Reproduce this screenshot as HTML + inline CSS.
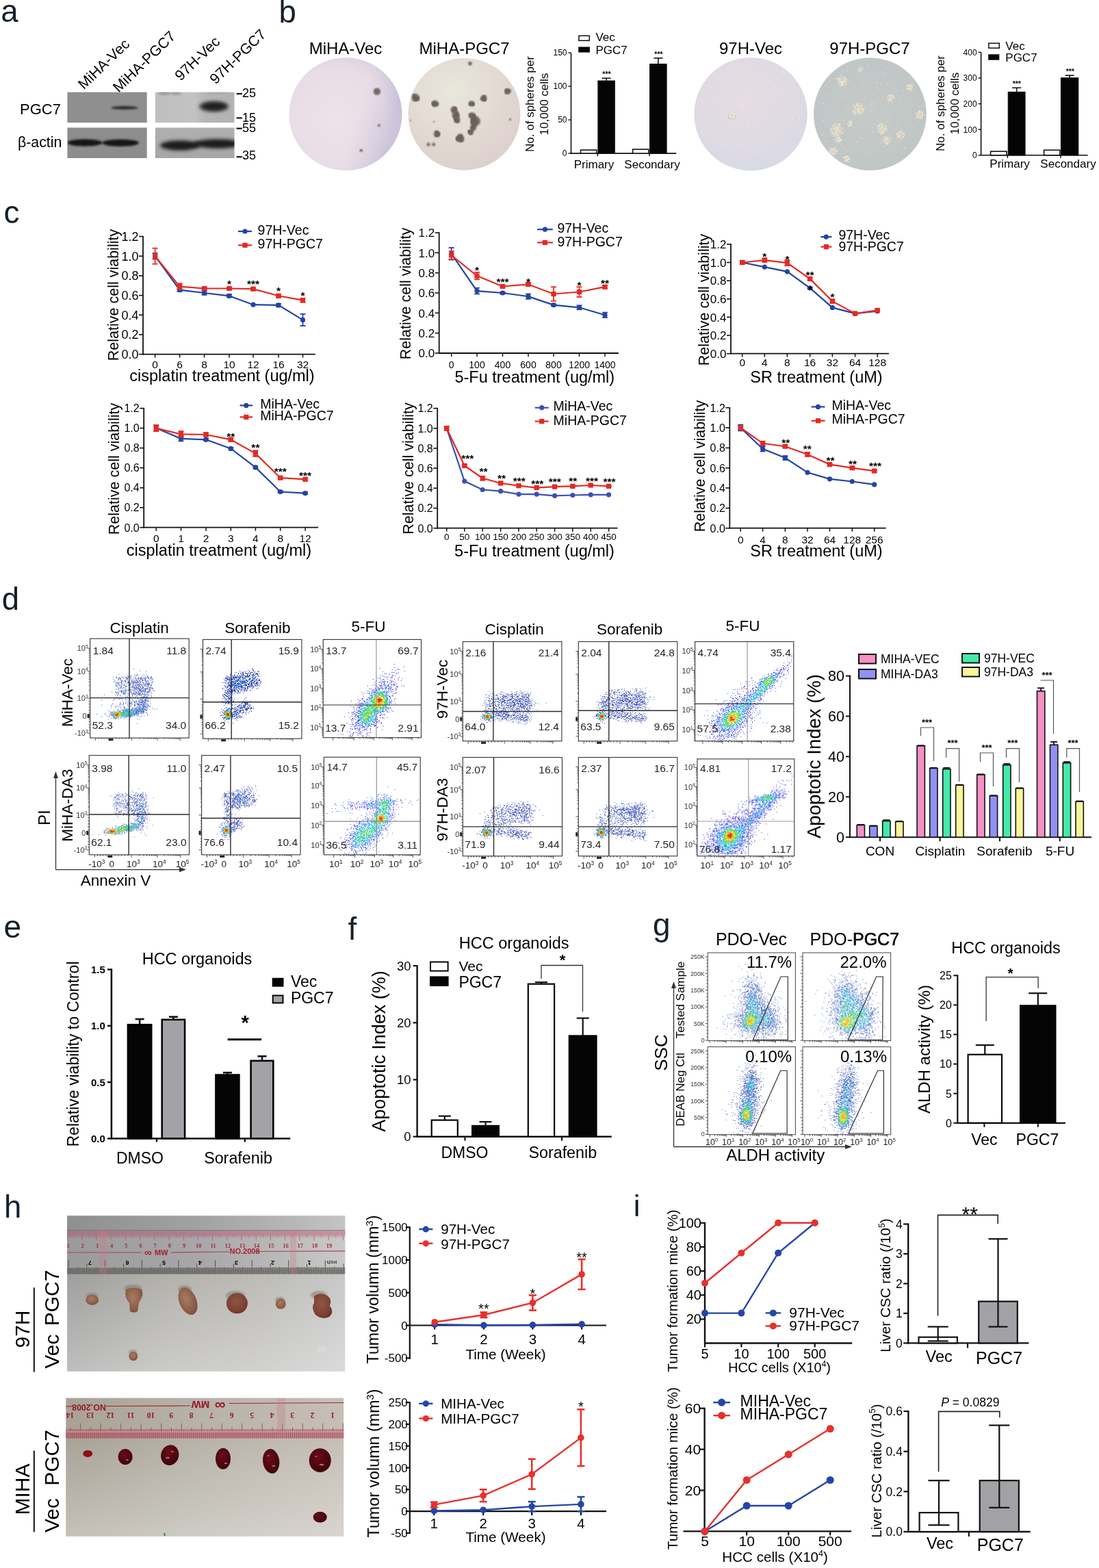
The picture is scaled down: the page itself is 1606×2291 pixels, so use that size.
<!DOCTYPE html>
<html><head><meta charset="utf-8"><title>Figure</title>
<style>html,body{margin:0;padding:0;background:#fff;}svg{display:block;}</style>
</head><body>
<svg width="1606" height="2291" viewBox="0 0 1606 2291" font-family='"Liberation Sans", Arial, Helvetica, sans-serif'>
<defs><filter id="blur2" x="-20%" y="-50%" width="140%" height="200%"><feGaussianBlur stdDeviation="1.6"/></filter>
<filter id="blur3" x="-20%" y="-80%" width="140%" height="260%"><feGaussianBlur stdDeviation="2.6"/></filter><clipPath id="cpA"><rect x="98.4" y="134.7" width="116.3" height="44.5"/></clipPath>
<clipPath id="cpB"><rect x="226.8" y="134.7" width="115.7" height="44.5"/></clipPath>
<clipPath id="cpC"><rect x="98.4" y="186.5" width="116.3" height="44.5"/></clipPath>
<clipPath id="cpD"><rect x="226.8" y="186.5" width="115.7" height="44.5"/></clipPath>
<linearGradient id="gB" x1="0" y1="0" x2="1" y2="0"><stop offset="0" stop-color="#bfbfbf"/><stop offset="0.5" stop-color="#c2c2c2"/><stop offset="0.62" stop-color="#b6b6b6"/><stop offset="1" stop-color="#b3b3b3"/></linearGradient>
<linearGradient id="gD" x1="0" y1="0" x2="0" y2="1"><stop offset="0" stop-color="#b0b0b0"/><stop offset="1" stop-color="#a6a6a6"/></linearGradient><radialGradient id="gc1" cx="0.42" cy="0.55" r="0.62"><stop offset="0" stop-color="#ede2e8"/><stop offset="0.75" stop-color="#e8dde6"/><stop offset="1" stop-color="#d9d0e0"/></radialGradient>
<linearGradient id="gc1b" x1="0" y1="0" x2="1" y2="0.3"><stop offset="0.7" stop-color="#b8b0d0" stop-opacity="0"/><stop offset="1" stop-color="#a8a0c8" stop-opacity="0.35"/></linearGradient>
<radialGradient id="gc2" cx="0.4" cy="0.3" r="0.75"><stop offset="0" stop-color="#e9e7dc"/><stop offset="0.45" stop-color="#e4dcd5"/><stop offset="1" stop-color="#dccfcc"/></radialGradient>
<radialGradient id="gc3" cx="0.45" cy="0.35" r="0.75"><stop offset="0" stop-color="#e6dce2"/><stop offset="0.6" stop-color="#dfdae3"/><stop offset="1" stop-color="#d3dae6"/></radialGradient>
<radialGradient id="gc4" cx="0.5" cy="0.5" r="0.6"><stop offset="0" stop-color="#c6cac8"/><stop offset="1" stop-color="#bfc6c6"/></radialGradient>
<filter id="bl1"><feGaussianBlur stdDeviation="0.8"/></filter><linearGradient id="p1h" x1="0" y1="0" x2="1" y2="0"><stop offset="0" stop-color="#9e9e9c"/><stop offset="0.35" stop-color="#b2b1ac"/><stop offset="0.7" stop-color="#bcbbb6"/><stop offset="1" stop-color="#c8c8c9"/></linearGradient>
<linearGradient id="p1t" x1="0" y1="0" x2="1" y2="0"><stop offset="0" stop-color="#8e8f91"/><stop offset="0.5" stop-color="#a2a3a5"/><stop offset="1" stop-color="#c3c3c5"/></linearGradient>
<linearGradient id="p1r" x1="0" y1="0" x2="1" y2="0"><stop offset="0" stop-color="#999a9c"/><stop offset="0.5" stop-color="#a8a8aa"/><stop offset="1" stop-color="#c9c9c9"/></linearGradient>
<linearGradient id="p1p" x1="0" y1="0" x2="1" y2="0"><stop offset="0" stop-color="#a08890"/><stop offset="0.5" stop-color="#b0949c"/><stop offset="1" stop-color="#ceb4bc"/></linearGradient>
<linearGradient id="wv" x1="0" y1="0" x2="0" y2="1"><stop offset="0" stop-color="#fff" stop-opacity="0"/><stop offset="1" stop-color="#fff" stop-opacity="0.33"/></linearGradient>
<linearGradient id="p2h" x1="0" y1="0" x2="1" y2="0"><stop offset="0" stop-color="#a8a296"/><stop offset="0.45" stop-color="#b6b2a8"/><stop offset="1" stop-color="#c6bfb7"/></linearGradient>
<radialGradient id="tp" cx="0.45" cy="0.4" r="0.65"><stop offset="0" stop-color="#a87c64"/><stop offset="0.7" stop-color="#8c5e48"/><stop offset="1" stop-color="#7a4a3a"/></radialGradient>
<radialGradient id="tp2" cx="0.45" cy="0.4" r="0.65"><stop offset="0" stop-color="#8e5644"/><stop offset="0.7" stop-color="#7c4234"/><stop offset="1" stop-color="#6c3428"/></radialGradient>
<radialGradient id="td" cx="0.4" cy="0.35" r="0.7"><stop offset="0" stop-color="#6a0c18"/><stop offset="0.6" stop-color="#4e0610"/><stop offset="1" stop-color="#3e040c"/></radialGradient>
<filter id="tb"><feGaussianBlur stdDeviation="1.2"/></filter></defs>
<rect width="1606" height="2291" fill="#fff"/>
<text x="1.2" y="32.4" font-size="45.5" fill="#13202c">a</text>
<text x="122.5" y="131.5" font-size="21.3" transform="rotate(-44 122.5 131.5)">MiHA-Vec</text>
<text x="173.5" y="136" font-size="21.3" transform="rotate(-44 173.5 136)">MiHA-PGC7</text>
<text x="264" y="119" font-size="21.3" transform="rotate(-44 264 119)">97H-Vec</text>
<text x="315" y="124" font-size="21.3" transform="rotate(-44 315 124)">97H-PGC7</text>
<text x="29" y="167" font-size="22">PGC7</text>
<text x="26" y="215" font-size="21.3">β-actin</text>
<rect x="98.4" y="134.7" width="116.3" height="44.5" fill="#8f8f8f"/>
<rect x="226.8" y="134.7" width="115.7" height="44.5" fill="url(#gB)"/>
<rect x="98.4" y="186.5" width="116.3" height="44.5" fill="#8d8d8d"/>
<rect x="226.8" y="186.5" width="115.7" height="44.5" fill="url(#gD)"/>
<g clip-path="url(#cpA)">
<ellipse cx="182" cy="157.4" rx="19.5" ry="2.5" fill="#2a2a2a" filter="url(#blur2)"/>
</g><g clip-path="url(#cpB)">
<ellipse cx="240" cy="135.5" rx="9" ry="3.5" fill="#9a9a9a" filter="url(#blur2)"/>
<ellipse cx="257" cy="135.5" rx="8" ry="3.5" fill="#a0a0a0" filter="url(#blur2)"/>
<ellipse cx="318" cy="135" rx="17" ry="2.5" fill="#a8a8a8" filter="url(#blur2)"/>
<ellipse cx="312.5" cy="155.5" rx="22" ry="7.8" fill="#5a5a5a" filter="url(#blur3)"/>
<ellipse cx="313" cy="155.5" rx="18" ry="5.8" fill="#1c1c1c" filter="url(#blur3)"/>
</g><g clip-path="url(#cpC)">
<ellipse cx="124" cy="208.5" rx="25.5" ry="5.2" fill="#141414" filter="url(#blur2)"/>
<ellipse cx="176" cy="208.8" rx="27" ry="5.2" fill="#141414" filter="url(#blur2)"/>
</g><g clip-path="url(#cpD)">
<ellipse cx="263" cy="212.5" rx="29" ry="7.2" fill="#1a1a1a" filter="url(#blur3)"/>
<ellipse cx="318" cy="210" rx="36" ry="6.8" fill="#1e1e1e" filter="url(#blur3)"/>
</g>
<line x1="345.6" y1="137" x2="353.8" y2="137" stroke="#111" stroke-width="2.2"/>
<line x1="345.6" y1="172.4" x2="353.8" y2="172.4" stroke="#111" stroke-width="2.2"/>
<line x1="345.6" y1="187.7" x2="353.8" y2="187.7" stroke="#111" stroke-width="2.2"/>
<line x1="345.6" y1="229.2" x2="353.8" y2="229.2" stroke="#111" stroke-width="2.2"/>
<text x="354" y="142.3" font-size="18">25</text>
<text x="354" y="177.5" font-size="18">15</text>
<text x="354" y="193" font-size="18">55</text>
<text x="354" y="233.4" font-size="18">35</text>
<text x="407.6" y="33.2" font-size="45.5" fill="#13202c">b</text>
<text x="505" y="79" font-size="24" text-anchor="middle">MiHA-Vec</text>
<text x="678.5" y="79" font-size="24" text-anchor="middle">MiHA-PGC7</text>
<text x="1097" y="79" font-size="24" text-anchor="middle">97H-Vec</text>
<text x="1271" y="79" font-size="24" text-anchor="middle">97H-PGC7</text>
<circle cx="505" cy="166.7" r="82.5" fill="url(#gc1)"/>
<circle cx="505" cy="166.7" r="82.5" fill="url(#gc1b)"/>
<circle cx="678.4" cy="166.7" r="82" fill="url(#gc2)"/>
<circle cx="1097.1" cy="166.7" r="82.7" fill="url(#gc3)"/>
<circle cx="1271.4" cy="166.7" r="82.4" fill="url(#gc4)"/>
<circle cx="550.9" cy="133.6" r="5.2" fill="#746864" filter="url(#bl1)"/>
<circle cx="553.8" cy="183.3" r="2" fill="#746864" filter="url(#bl1)"/>
<circle cx="527.7" cy="219.8" r="2.3" fill="#746864" filter="url(#bl1)"/>
<circle cx="686.9" cy="92.7" r="3" fill="#7a6e68" filter="url(#bl1)"/>
<circle cx="607.3" cy="142.4" r="5.5" fill="#7a6e68" filter="url(#bl1)"/>
<circle cx="605.9" cy="145.1" r="3" fill="#6c605a" filter="url(#bl1)"/>
<circle cx="609.1" cy="144.9" r="3" fill="#6c605a" filter="url(#bl1)"/>
<circle cx="605.5" cy="139.9" r="3" fill="#6c605a" filter="url(#bl1)"/>
<circle cx="610" cy="143.7" r="3" fill="#6c605a" filter="url(#bl1)"/>
<circle cx="636" cy="151.3" r="4.8" fill="#7a6e68" filter="url(#bl1)"/>
<circle cx="633.4" cy="150.7" r="2.6" fill="#6c605a" filter="url(#bl1)"/>
<circle cx="634.2" cy="153.3" r="2.6" fill="#6c605a" filter="url(#bl1)"/>
<circle cx="638.5" cy="152.2" r="2.6" fill="#6c605a" filter="url(#bl1)"/>
<circle cx="633.4" cy="151.2" r="2.6" fill="#6c605a" filter="url(#bl1)"/>
<circle cx="689" cy="151.3" r="4.2" fill="#7a6e68" filter="url(#bl1)"/>
<circle cx="691.2" cy="151.8" r="2.3" fill="#6c605a" filter="url(#bl1)"/>
<circle cx="686.9" cy="152.2" r="2.3" fill="#6c605a" filter="url(#bl1)"/>
<circle cx="691.1" cy="152.3" r="2.3" fill="#6c605a" filter="url(#bl1)"/>
<circle cx="690.9" cy="152.5" r="2.3" fill="#6c605a" filter="url(#bl1)"/>
<circle cx="706.8" cy="143.5" r="4.5" fill="#7a6e68" filter="url(#bl1)"/>
<circle cx="704.6" cy="144.6" r="2.5" fill="#6c605a" filter="url(#bl1)"/>
<circle cx="707.9" cy="141.3" r="2.5" fill="#6c605a" filter="url(#bl1)"/>
<circle cx="708.6" cy="145.2" r="2.5" fill="#6c605a" filter="url(#bl1)"/>
<circle cx="707.2" cy="145.9" r="2.5" fill="#6c605a" filter="url(#bl1)"/>
<circle cx="742" cy="133.6" r="4.3" fill="#7a6e68" filter="url(#bl1)"/>
<circle cx="740.4" cy="131.9" r="2.4" fill="#6c605a" filter="url(#bl1)"/>
<circle cx="744.2" cy="132.8" r="2.4" fill="#6c605a" filter="url(#bl1)"/>
<circle cx="739.9" cy="132.5" r="2.4" fill="#6c605a" filter="url(#bl1)"/>
<circle cx="740.1" cy="135" r="2.4" fill="#6c605a" filter="url(#bl1)"/>
<circle cx="663" cy="160" r="4.5" fill="#7a6e68" filter="url(#bl1)"/>
<circle cx="665.4" cy="159.6" r="2.5" fill="#6c605a" filter="url(#bl1)"/>
<circle cx="665.4" cy="160.7" r="2.5" fill="#6c605a" filter="url(#bl1)"/>
<circle cx="664.6" cy="158.1" r="2.5" fill="#6c605a" filter="url(#bl1)"/>
<circle cx="662.4" cy="162.4" r="2.5" fill="#6c605a" filter="url(#bl1)"/>
<circle cx="665.9" cy="167.8" r="5.5" fill="#7a6e68" filter="url(#bl1)"/>
<circle cx="667.8" cy="170.2" r="3" fill="#6c605a" filter="url(#bl1)"/>
<circle cx="668.1" cy="169.8" r="3" fill="#6c605a" filter="url(#bl1)"/>
<circle cx="664.8" cy="170.6" r="3" fill="#6c605a" filter="url(#bl1)"/>
<circle cx="667.1" cy="165" r="3" fill="#6c605a" filter="url(#bl1)"/>
<circle cx="668" cy="175" r="4.5" fill="#7a6e68" filter="url(#bl1)"/>
<circle cx="669" cy="177.2" r="2.5" fill="#6c605a" filter="url(#bl1)"/>
<circle cx="665.8" cy="173.8" r="2.5" fill="#6c605a" filter="url(#bl1)"/>
<circle cx="666.4" cy="173.1" r="2.5" fill="#6c605a" filter="url(#bl1)"/>
<circle cx="666.3" cy="176.8" r="2.5" fill="#6c605a" filter="url(#bl1)"/>
<circle cx="690" cy="169" r="5" fill="#7a6e68" filter="url(#bl1)"/>
<circle cx="687.4" cy="168.2" r="2.8" fill="#6c605a" filter="url(#bl1)"/>
<circle cx="692.5" cy="170.1" r="2.8" fill="#6c605a" filter="url(#bl1)"/>
<circle cx="692.6" cy="170" r="2.8" fill="#6c605a" filter="url(#bl1)"/>
<circle cx="690.8" cy="171.6" r="2.8" fill="#6c605a" filter="url(#bl1)"/>
<circle cx="695" cy="177" r="7" fill="#7a6e68" filter="url(#bl1)"/>
<circle cx="693.4" cy="173.5" r="3.9" fill="#6c605a" filter="url(#bl1)"/>
<circle cx="691.5" cy="178.7" r="3.9" fill="#6c605a" filter="url(#bl1)"/>
<circle cx="693.5" cy="180.5" r="3.9" fill="#6c605a" filter="url(#bl1)"/>
<circle cx="691.7" cy="175" r="3.9" fill="#6c605a" filter="url(#bl1)"/>
<circle cx="692" cy="186" r="4.5" fill="#7a6e68" filter="url(#bl1)"/>
<circle cx="689.6" cy="186.7" r="2.5" fill="#6c605a" filter="url(#bl1)"/>
<circle cx="691.2" cy="188.4" r="2.5" fill="#6c605a" filter="url(#bl1)"/>
<circle cx="692.7" cy="183.6" r="2.5" fill="#6c605a" filter="url(#bl1)"/>
<circle cx="691.2" cy="183.7" r="2.5" fill="#6c605a" filter="url(#bl1)"/>
<circle cx="688" cy="193" r="4" fill="#7a6e68" filter="url(#bl1)"/>
<circle cx="688.1" cy="195.2" r="2.2" fill="#6c605a" filter="url(#bl1)"/>
<circle cx="686" cy="192" r="2.2" fill="#6c605a" filter="url(#bl1)"/>
<circle cx="685.8" cy="192.7" r="2.2" fill="#6c605a" filter="url(#bl1)"/>
<circle cx="689.6" cy="191.4" r="2.2" fill="#6c605a" filter="url(#bl1)"/>
<circle cx="638.3" cy="195.5" r="4.6" fill="#7a6e68" filter="url(#bl1)"/>
<circle cx="638" cy="193" r="2.5" fill="#6c605a" filter="url(#bl1)"/>
<circle cx="637.7" cy="198" r="2.5" fill="#6c605a" filter="url(#bl1)"/>
<circle cx="640.8" cy="195.2" r="2.5" fill="#6c605a" filter="url(#bl1)"/>
<circle cx="640.2" cy="197.2" r="2.5" fill="#6c605a" filter="url(#bl1)"/>
<circle cx="672.5" cy="202" r="5.8" fill="#7a6e68" filter="url(#bl1)"/>
<circle cx="669.7" cy="203.6" r="3.2" fill="#6c605a" filter="url(#bl1)"/>
<circle cx="672.6" cy="198.8" r="3.2" fill="#6c605a" filter="url(#bl1)"/>
<circle cx="674.3" cy="204.6" r="3.2" fill="#6c605a" filter="url(#bl1)"/>
<circle cx="669.3" cy="202.2" r="3.2" fill="#6c605a" filter="url(#bl1)"/>
<circle cx="626" cy="211" r="2.6" fill="#7a6e68" filter="url(#bl1)"/>
<circle cx="633.8" cy="211" r="2.6" fill="#7a6e68" filter="url(#bl1)"/>
<circle cx="745.5" cy="174.5" r="1.7" fill="#7a6e68" filter="url(#bl1)"/>
<circle cx="634" cy="178" r="1.2" fill="#7a6e68" filter="url(#bl1)"/>
<circle cx="600" cy="176" r="1.2" fill="#7a6e68" filter="url(#bl1)"/>
<path d="M1101.4 224.1h0M1055.6 210.9h0M1083 152.5h0M1168.2 172.6h0M1094.9 204.4h0M1150.6 165.2h0M1124.9 120.6h0M1077.7 143.5h0M1049 112.2h0M1030.7 157h0M1087.7 149.3h0M1100.2 106.8h0M1092.8 179.7h0M1132.7 126.6h0M1082.9 95h0M1080.4 93.7h0M1042 209.5h0M1026.2 192.4h0M1114.7 149.9h0M1121 194.1h0M1147.4 155.6h0M1067.2 136.1h0M1048.7 164.5h0M1061.8 214.8h0M1033.1 129.2h0M1065.9 98.3h0M1145.2 105.8h0M1082.1 139h0M1146.2 107.9h0M1145.7 133.5h0M1089 131.8h0M1126.1 115.2h0M1092.8 185.9h0M1144.3 105.1h0M1156.4 203.5h0M1071.5 182.9h0M1078.5 232.5h0M1108.5 154.9h0M1084.7 155.8h0M1088.3 122.7h0M1153.7 114.1h0M1019.2 164h0M1089.2 186.8h0M1085.9 158.6h0M1113.3 213.8h0M1073.4 147h0M1167.2 185.8h0M1067.3 237h0M1135.3 137.7h0M1042.6 180.5h0M1059.9 119.4h0M1039.9 144.4h0M1148.8 146.5h0M1037 194.4h0M1100.4 209.4h0M1152.9 158.9h0M1089.1 164.2h0M1045.9 196.9h0M1157.8 174.4h0M1084.2 152.6h0M1060 128.5h0M1077.2 124.9h0M1079.2 102.1h0M1116.1 169.4h0M1062.8 98.3h0M1096.7 219.4h0M1060.2 142.4h0M1068.5 199.6h0M1056.1 210.8h0M1082.2 212.2h0" fill="none" stroke="#f4f0e6" stroke-width="1.6" stroke-linecap="round"/>
<circle cx="1068.6" cy="170" r="4.8" fill="#d8d2c0" filter="url(#bl1)"/>
<path d="M1064.3 171.3h0M1072.2 168.1h0M1064 169.8h0M1070.3 173.9h0M1064.9 166.1h0M1071.3 171.8h0M1073.1 172.9h0M1068.2 168.8h0M1074.5 169.3h0M1065.9 166.1h0M1069 170.6h0M1067.2 169.7h0M1069.7 172.7h0M1072.6 170.8h0M1063.5 172h0M1063.8 169.4h0M1063.7 170h0M1065.5 170.8h0M1074.6 169.9h0M1071.3 165.7h0M1067.5 172.6h0M1068.2 171.5h0M1069 166.2h0M1070.7 166.9h0M1073.9 168.6h0M1071.3 170h0M1072.1 167.8h0M1072.4 169.5h0M1072.9 172.1h0M1069.2 166.9h0" fill="none" stroke="#ece6d6" stroke-width="2.2" stroke-linecap="round"/>
<path d="M1064.9 171.9h0M1064.6 170.4h0M1065.5 166.7h0M1073.7 173.5h0M1075.1 169.9h0M1069.6 171.2h0M1070.3 173.3h0M1064.1 172.6h0M1064.3 170.6h0M1075.2 170.5h0M1068.1 173.2h0M1069.6 166.8h0M1074.5 169.2h0M1072.7 168.4h0M1073.5 172.7h0" fill="none" stroke="#a8a290" stroke-width="0.9" stroke-linecap="round"/>
<circle cx="1230" cy="118" r="6.4" fill="#d8d2c0" filter="url(#bl1)"/>
<path d="M1233.9 120.4h0M1236.8 116.4h0M1232.9 120.7h0M1231.6 119.2h0M1231 114.8h0M1225 116.1h0M1232.5 124.4h0M1234.4 122.7h0M1233.9 121.5h0M1231 122h0M1237.1 116.7h0M1227.5 125.1h0M1231.2 122.9h0M1233.9 112.9h0M1236.4 122.7h0M1230.9 122h0M1230.7 113.5h0M1229.4 120.1h0M1235.2 121.3h0M1230.3 124.2h0M1226.3 121.9h0M1235.4 116.6h0M1223.4 114.6h0M1231.3 120.9h0M1236.1 114.1h0M1230 121.5h0M1229.5 110.3h0M1232.6 125.4h0M1234.6 113.8h0M1227.7 119.2h0M1237.6 119.9h0M1230.5 124.7h0M1229.7 125.3h0M1226.4 115.5h0M1233.1 124.1h0M1233.5 119.6h0M1223.1 115.3h0M1226.8 115.2h0M1233.1 116.2h0M1234.1 118.4h0" fill="none" stroke="#ece6d6" stroke-width="2.2" stroke-linecap="round"/>
<path d="M1234.5 121h0M1233.5 121.3h0M1231.6 115.4h0M1233.1 125h0M1234.5 122.1h0M1237.7 117.3h0M1231.8 123.5h0M1237 123.3h0M1231.3 114.1h0M1235.8 121.9h0M1226.9 122.5h0M1224 115.2h0M1236.7 114.7h0M1230.1 110.9h0M1235.2 114.4h0M1238.2 120.5h0M1230.3 125.9h0M1233.7 124.7h0M1223.7 115.9h0M1233.7 116.8h0" fill="none" stroke="#a8a290" stroke-width="0.9" stroke-linecap="round"/>
<circle cx="1257.6" cy="101.5" r="2.4" fill="#d8d2c0" filter="url(#bl1)"/>
<path d="M1256.9 101.7h0M1258.4 103.1h0M1256.6 101h0M1255.8 103.7h0M1260 101.2h0M1256.8 99.4h0M1258 101.9h0M1260.4 101.8h0M1256.7 98.7h0M1260 101.8h0M1255.1 101.8h0M1256.3 104.2h0M1259.6 102.5h0M1257.4 98.7h0M1257.4 99h0" fill="none" stroke="#ece6d6" stroke-width="2.2" stroke-linecap="round"/>
<path d="M1257.5 102.3h0M1257.2 101.6h0M1260.6 101.8h0M1258.6 102.5h0M1257.3 99.3h0M1255.7 102.4h0M1260.2 103.1h0M1258 99.6h0" fill="none" stroke="#a8a290" stroke-width="0.9" stroke-linecap="round"/>
<circle cx="1254.3" cy="160" r="7.2" fill="#d8d2c0" filter="url(#bl1)"/>
<path d="M1256.6 151.7h0M1249.9 166h0M1261.1 155.1h0M1247.4 164h0M1258.8 154.8h0M1250.4 156.1h0M1248.2 156.5h0M1260.6 163.5h0M1262.7 159.6h0M1253.5 154.4h0M1253.7 153.2h0M1246.6 163h0M1261 163.9h0M1261.2 161.3h0M1250 160.5h0M1252.3 154h0M1247.8 154.3h0M1254.3 161h0M1252 167h0M1255.4 163.5h0M1260.4 155.9h0M1246.4 163h0M1250.9 166.5h0M1256.2 165.6h0M1257.3 151.9h0M1258.4 156.2h0M1249.9 157.5h0M1258.5 164.8h0M1258.6 152.9h0M1252.2 151.5h0M1253.7 163.6h0M1249.8 161.4h0M1255.6 165.6h0M1249.8 155.5h0M1251 167.6h0M1260.3 159.3h0M1255.7 160.7h0M1255.6 158.7h0M1252.6 153.4h0M1251.4 167.5h0M1257.6 160.4h0M1252.9 160.4h0M1256.4 156.2h0M1255.5 161.5h0M1250.2 155.6h0" fill="none" stroke="#ece6d6" stroke-width="2.2" stroke-linecap="round"/>
<path d="M1257.2 152.3h0M1261.7 155.7h0M1259.4 155.4h0M1248.8 157.1h0M1263.3 160.2h0M1254.3 153.8h0M1261.6 164.5h0M1250.6 161.1h0M1248.4 154.9h0M1252.6 167.6h0M1261 156.5h0M1251.5 167.1h0M1257.9 152.5h0M1250.5 158.1h0M1259.2 153.5h0M1254.3 164.2h0M1256.2 166.2h0M1251.6 168.2h0M1256.3 161.3h0M1253.2 154h0M1258.2 161h0M1257 156.8h0M1250.8 156.2h0" fill="none" stroke="#a8a290" stroke-width="0.9" stroke-linecap="round"/>
<circle cx="1301.8" cy="143.5" r="4" fill="#d8d2c0" filter="url(#bl1)"/>
<path d="M1299 140.6h0M1303.5 138.9h0M1300.9 141.5h0M1299.7 143.8h0M1305.2 143.7h0M1301.3 141.4h0M1301.4 146.4h0M1300.6 140.1h0M1298.5 140.6h0M1298.3 146.3h0M1303 142.7h0M1305.7 141.8h0M1304.1 146h0M1298.4 140.1h0M1299.1 146.1h0M1305 140.4h0M1305 142.3h0M1300.5 141.7h0M1301 139h0M1299.1 140.2h0M1302.9 148.1h0M1306.7 142.9h0M1297.5 142.5h0M1299.8 147.8h0M1303.6 141.2h0" fill="none" stroke="#ece6d6" stroke-width="2.2" stroke-linecap="round"/>
<path d="M1299.6 141.2h0M1301.5 142.1h0M1305.8 144.3h0M1302 147h0M1299.1 141.2h0M1303.6 143.3h0M1304.7 146.6h0M1299.7 146.7h0M1305.6 142.9h0M1301.6 139.6h0M1303.5 148.7h0M1298.1 143.1h0M1304.2 141.8h0" fill="none" stroke="#a8a290" stroke-width="0.9" stroke-linecap="round"/>
<circle cx="1330.5" cy="127" r="4" fill="#d8d2c0" filter="url(#bl1)"/>
<path d="M1333.4 128.6h0M1326.3 125.6h0M1329.7 127.1h0M1331 125.8h0M1331.1 125h0M1328.2 130.8h0M1331.7 128.5h0M1326.3 126.6h0M1332.7 123.5h0M1333.8 125.8h0M1331.9 126.5h0M1331.1 130.6h0M1329.4 131.1h0M1328.2 124.2h0M1332.6 123.9h0M1329.3 129.9h0M1333.2 123.1h0M1331.7 131.5h0M1334 126.3h0M1328.5 126h0M1327 126.2h0M1329.8 126.5h0M1334 126.3h0M1326.9 129.6h0M1327.3 125.7h0" fill="none" stroke="#ece6d6" stroke-width="2.2" stroke-linecap="round"/>
<path d="M1334 129.2h0M1330.3 127.7h0M1331.7 125.6h0M1332.3 129.1h0M1333.3 124.1h0M1332.5 127.1h0M1330 131.7h0M1333.2 124.5h0M1333.8 123.7h0M1334.6 126.9h0M1327.6 126.8h0M1334.6 126.9h0M1327.9 126.3h0" fill="none" stroke="#a8a290" stroke-width="0.9" stroke-linecap="round"/>
<circle cx="1222.2" cy="190" r="8" fill="#d8d2c0" filter="url(#bl1)"/>
<path d="M1221.3 187.6h0M1216 188.5h0M1231.5 187.4h0M1221.4 196.8h0M1226.8 194.7h0M1226 181.3h0M1216.6 190.8h0M1225 197.3h0M1225.4 188.4h0M1222.5 188.5h0M1223.8 194.5h0M1220 184.8h0M1217.4 196.2h0M1229 195.2h0M1227.3 195h0M1222.2 194.4h0M1215.7 188.7h0M1217.6 194.5h0M1218.3 189.3h0M1224.5 197.6h0M1217.5 184.4h0M1226.8 183.7h0M1225.2 186.2h0M1221.7 181h0M1226.8 186.8h0M1218.4 198.8h0M1224.2 199.8h0M1225 187.6h0M1222.8 198.5h0M1222 193.1h0M1225.4 184.4h0M1223.1 186.6h0M1215.4 194.7h0M1226.7 190.5h0M1218.3 181.3h0M1225.5 189.3h0M1213.5 189.7h0M1213.9 189.9h0M1223.2 192.5h0M1223.7 191.2h0M1215.4 187.7h0M1218.7 188.4h0M1224 194.1h0M1227.5 181.6h0M1225 188.6h0M1231.2 193.7h0M1213.7 192.1h0M1219 196.1h0M1215.7 189.4h0M1221.3 189.3h0" fill="none" stroke="#ece6d6" stroke-width="2.2" stroke-linecap="round"/>
<path d="M1221.9 188.2h0M1232.1 188h0M1227.4 195.3h0M1217.2 191.4h0M1226 189h0M1224.4 195.1h0M1218 196.8h0M1227.9 195.6h0M1216.3 189.3h0M1218.9 189.9h0M1218.1 185h0M1225.8 186.8h0M1227.4 187.4h0M1224.8 200.4h0M1223.4 199.1h0M1226 185h0M1216 195.3h0M1218.9 181.9h0M1214.1 190.3h0M1223.8 193.1h0M1216 188.3h0M1224.6 194.7h0M1225.6 189.2h0M1214.3 192.7h0M1216.3 190h0" fill="none" stroke="#a8a290" stroke-width="0.9" stroke-linecap="round"/>
<circle cx="1288.5" cy="188.8" r="6.4" fill="#d8d2c0" filter="url(#bl1)"/>
<path d="M1286.3 181.8h0M1290.8 193.7h0M1288.2 183.7h0M1289.6 191.9h0M1287.5 188.7h0M1294.1 184.3h0M1286.4 181.7h0M1285 185.1h0M1283.9 185.5h0M1295.6 188h0M1288.1 196.4h0M1288.3 181.7h0M1290.5 184.1h0M1294.5 184.3h0M1286.1 182.2h0M1289 183.7h0M1288.1 186.7h0M1285.5 193.4h0M1293.3 189.1h0M1284.4 184h0M1289.4 196.5h0M1286.2 184.8h0M1285.3 183.7h0M1283.6 187.8h0M1294.9 188.8h0M1286.4 182.1h0M1289.7 188.6h0M1283.4 184.2h0M1288.3 193.9h0M1291.9 189.9h0M1286.7 190.6h0M1288.5 196.4h0M1283.1 187h0M1294.4 187.6h0M1294.9 188.6h0M1289.3 186.7h0M1282.8 184.8h0M1295.9 191h0M1291.4 193.4h0M1291.2 193.7h0" fill="none" stroke="#ece6d6" stroke-width="2.2" stroke-linecap="round"/>
<path d="M1286.9 182.4h0M1288.8 184.3h0M1288.1 189.3h0M1287 182.3h0M1284.5 186.1h0M1288.7 197h0M1291.1 184.7h0M1286.7 182.8h0M1288.7 187.3h0M1293.9 189.7h0M1290 197.1h0M1285.9 184.3h0M1295.5 189.4h0M1290.3 189.2h0M1288.9 194.5h0M1287.3 191.2h0M1283.7 187.6h0M1295.5 189.2h0M1283.4 185.4h0M1292 194h0" fill="none" stroke="#a8a290" stroke-width="0.9" stroke-linecap="round"/>
<circle cx="1316" cy="196.6" r="4.8" fill="#d8d2c0" filter="url(#bl1)"/>
<path d="M1314.9 195.7h0M1319.7 195.3h0M1311.4 195.8h0M1313.9 199h0M1313.5 192.9h0M1314.9 201.6h0M1315.8 197.3h0M1316 197.8h0M1318.9 200.9h0M1311.6 200.2h0M1316 195.3h0M1321.8 196.2h0M1321.1 199.1h0M1312.3 198.4h0M1318.9 196.1h0M1310.3 195.8h0M1315.3 192.6h0M1321.4 195.9h0M1314.4 195.4h0M1313.1 193.7h0M1316.4 197.9h0M1313.9 196.2h0M1311.4 198.3h0M1313 197.4h0M1312.6 194.7h0M1316.8 192.3h0M1321.9 196.5h0M1315.7 193.7h0M1320.3 200.3h0M1317 192h0" fill="none" stroke="#ece6d6" stroke-width="2.2" stroke-linecap="round"/>
<path d="M1315.5 196.3h0M1312 196.4h0M1314.1 193.5h0M1316.4 197.9h0M1319.5 201.5h0M1316.6 195.9h0M1321.7 199.7h0M1319.5 196.7h0M1315.9 193.2h0M1315 196h0M1317 198.5h0M1312 198.9h0M1313.2 195.3h0M1322.5 197.1h0M1320.9 200.9h0" fill="none" stroke="#a8a290" stroke-width="0.9" stroke-linecap="round"/>
<circle cx="1296" cy="205.4" r="4.8" fill="#d8d2c0" filter="url(#bl1)"/>
<path d="M1294 207.8h0M1294.2 201.3h0M1292 202.8h0M1296.1 202.8h0M1296 211.3h0M1300.9 202.6h0M1297.4 205.8h0M1295.5 209.3h0M1294.6 204.1h0M1294.4 205h0M1300.2 208h0M1291.5 203.9h0M1293.1 208.4h0M1296.9 208.8h0M1295.8 199.9h0M1297.9 206.3h0M1297.7 201h0M1296.3 202.6h0M1293.3 206.8h0M1297.3 202h0M1292.6 200.5h0M1294 209.4h0M1295.9 199.6h0M1292.7 207h0M1300.6 208.6h0M1297.5 206.2h0M1292.2 203.8h0M1294.7 202.4h0M1296.3 203.8h0M1297.1 210.2h0" fill="none" stroke="#ece6d6" stroke-width="2.2" stroke-linecap="round"/>
<path d="M1294.6 208.4h0M1292.6 203.4h0M1296.6 211.9h0M1298 206.4h0M1295.2 204.7h0M1300.8 208.6h0M1293.7 209h0M1296.4 200.5h0M1298.3 201.6h0M1293.9 207.4h0M1293.2 201.1h0M1296.5 200.2h0M1301.2 209.2h0M1292.8 204.4h0M1296.9 204.4h0" fill="none" stroke="#a8a290" stroke-width="0.9" stroke-linecap="round"/>
<circle cx="1343.8" cy="167.8" r="4.8" fill="#d8d2c0" filter="url(#bl1)"/>
<path d="M1346.7 169.4h0M1343 162.9h0M1343.3 170h0M1340.6 171.8h0M1342.4 169.3h0M1342.7 163.4h0M1348.9 165h0M1347.2 165.7h0M1344.9 164.7h0M1342.2 171.3h0M1349 165.5h0M1343.8 171.4h0M1341.4 170.5h0M1340.8 170.1h0M1345.3 172h0M1345.1 163.6h0M1346.1 163.9h0M1346.1 172.5h0M1346.1 165.6h0M1348.1 168.4h0M1339.5 166.6h0M1348.5 166.8h0M1344.3 166.4h0M1338.7 166.3h0M1345.3 168.7h0M1343.3 162.1h0M1347.9 170.2h0M1347 171.9h0M1342 165.4h0M1344.8 173h0" fill="none" stroke="#ece6d6" stroke-width="2.2" stroke-linecap="round"/>
<path d="M1347.3 170h0M1343.9 170.6h0M1343 169.9h0M1349.5 165.6h0M1345.5 165.3h0M1349.6 166.1h0M1342 171.1h0M1345.9 172.6h0M1346.7 164.5h0M1346.7 166.2h0M1340.1 167.2h0M1344.9 167h0M1345.9 169.3h0M1348.5 170.8h0M1342.6 166h0" fill="none" stroke="#a8a290" stroke-width="0.9" stroke-linecap="round"/>
<circle cx="1242" cy="181" r="3.2" fill="#d8d2c0" filter="url(#bl1)"/>
<path d="M1238.5 180.5h0M1240.2 182.4h0M1245.2 180.3h0M1239.1 181.1h0M1241.4 177.7h0M1244.2 179.7h0M1243.5 178.1h0M1244.2 178.1h0M1243.9 177.7h0M1245.1 180.2h0M1238.7 180.5h0M1242.8 178.5h0M1240.7 181.7h0M1241.8 177h0M1240.8 182.2h0M1242.7 183.5h0M1241 184.8h0M1244.1 181.8h0M1244.4 183.1h0M1242.3 179.3h0" fill="none" stroke="#ece6d6" stroke-width="2.2" stroke-linecap="round"/>
<path d="M1239.1 181.1h0M1245.8 180.9h0M1242 178.3h0M1244.1 178.7h0M1244.5 178.3h0M1239.3 181.1h0M1241.3 182.3h0M1241.4 182.8h0M1241.6 185.4h0M1245 183.7h0" fill="none" stroke="#a8a290" stroke-width="0.9" stroke-linecap="round"/>
<circle cx="1237.7" cy="232" r="4" fill="#d8d2c0" filter="url(#bl1)"/>
<path d="M1240.8 233.3h0M1233.6 229.6h0M1239.3 232.4h0M1238.6 234.1h0M1238.1 236.2h0M1235.7 230.7h0M1238.8 234.4h0M1239.7 235.8h0M1236.3 235.4h0M1239.1 228.8h0M1237.4 236.7h0M1240.2 230.5h0M1233 230.6h0M1235.4 232.3h0M1242.3 233.5h0M1238.7 229.1h0M1234.2 231.4h0M1236.9 236.9h0M1236.4 230h0M1241.1 232.2h0M1234.6 235.2h0M1236.8 228.2h0M1238.8 233.7h0M1236.6 234.3h0M1240.1 229.4h0" fill="none" stroke="#ece6d6" stroke-width="2.2" stroke-linecap="round"/>
<path d="M1241.4 233.9h0M1239.9 233h0M1238.7 236.8h0M1239.4 235h0M1236.9 236h0M1238 237.3h0M1233.6 231.2h0M1242.9 234.1h0M1234.8 232h0M1237 230.6h0M1235.2 235.8h0M1239.4 234.3h0M1240.7 230h0" fill="none" stroke="#a8a290" stroke-width="0.9" stroke-linecap="round"/>
<circle cx="1217.8" cy="221" r="4.8" fill="#d8d2c0" filter="url(#bl1)"/>
<path d="M1213.9 216.5h0M1217.3 225.4h0M1220.9 225.3h0M1223.2 221h0M1220.9 216.5h0M1220.5 222.5h0M1217.4 219.2h0M1213.7 221.5h0M1222.2 219.7h0M1219.9 218.4h0M1218.7 217.2h0M1219.4 220.1h0M1219.1 218.6h0M1213.6 219.8h0M1220.8 225.6h0M1216.5 224.1h0M1220.7 222.5h0M1212.8 222h0M1214.6 224.8h0M1220.8 223.3h0M1212.1 222.4h0M1220.1 216.7h0M1221.5 221.3h0M1217.1 218.2h0M1214.1 219.4h0M1223.8 221.4h0M1218.6 218.4h0M1215.4 218.8h0M1214.7 224.1h0M1216.8 224.3h0" fill="none" stroke="#ece6d6" stroke-width="2.2" stroke-linecap="round"/>
<path d="M1214.5 217.1h0M1221.5 225.9h0M1221.5 217.1h0M1218 219.8h0M1222.8 220.3h0M1219.3 217.8h0M1219.7 219.2h0M1221.4 226.2h0M1221.3 223.1h0M1215.2 225.4h0M1212.7 223h0M1222.1 221.9h0M1214.7 220h0M1219.2 219h0M1215.3 224.7h0" fill="none" stroke="#a8a290" stroke-width="0.9" stroke-linecap="round"/>
<circle cx="1225" cy="205" r="4" fill="#d8d2c0" filter="url(#bl1)"/>
<path d="M1221.8 207.6h0M1224.9 207.2h0M1224.7 202.1h0M1228.5 203.7h0M1224.5 202.2h0M1225.7 203.7h0M1226 206.2h0M1223.2 201.2h0M1226.4 207.9h0M1227 201.7h0M1227 206.3h0M1226 206.5h0M1223.9 205.7h0M1227.9 203.4h0M1221 204.7h0M1225.5 200.5h0M1222.8 206.9h0M1224.5 205.3h0M1221.6 207.4h0M1229.4 204.5h0M1222.9 201.7h0M1227.9 205.3h0M1222.8 208.4h0M1227.4 206.9h0M1220.6 204.7h0" fill="none" stroke="#ece6d6" stroke-width="2.2" stroke-linecap="round"/>
<path d="M1222.4 208.2h0M1225.3 202.7h0M1225.1 202.8h0M1226.6 206.8h0M1227 208.5h0M1227.6 206.9h0M1224.5 206.3h0M1221.6 205.3h0M1223.4 207.5h0M1222.2 208h0M1223.5 202.3h0M1223.4 209h0M1221.2 205.3h0" fill="none" stroke="#a8a290" stroke-width="0.9" stroke-linecap="round"/>
<path d="M1273.2 154h0M1210.8 138.5h0M1257.9 200.9h0M1284 130.7h0M1291.1 214.2h0M1263.4 143.1h0M1251.7 207.2h0M1297.3 122h0M1291.2 141.4h0M1238.8 220.5h0M1310.7 132h0M1275.6 193.5h0M1237.9 160.4h0M1296.3 99.8h0M1288.1 204.3h0M1293.4 108.2h0M1287.3 123.7h0M1300.3 197.4h0M1282.5 127.6h0M1242.7 208.1h0M1227.7 190.8h0M1298.5 152h0M1347.1 168.9h0M1327.9 113.6h0M1201.7 197.2h0M1304.4 150.5h0M1269.4 95.4h0M1242.2 118.7h0M1260.3 210.9h0M1274.3 186.8h0M1235.9 144.6h0M1277.5 151.3h0M1324.8 129.7h0M1337 132.7h0M1319.3 131.8h0M1338.5 172.3h0M1291.5 204.4h0M1242 118.4h0M1206.6 205.7h0M1236.7 137.2h0M1270.3 239.1h0M1203.1 176.6h0M1250.7 194.5h0M1202.6 151.5h0M1304.3 227.8h0M1333.1 133.6h0M1274.4 160.7h0M1221.4 114.3h0M1310.1 179.2h0M1264.8 223h0M1223.9 191.7h0M1271.9 163.4h0M1297.5 176.1h0M1285.9 181.1h0M1342.6 155.3h0M1318.8 195.2h0M1253.8 206.8h0M1234.1 217.2h0M1231.3 142.4h0M1287.6 208.4h0M1312.8 207.5h0M1261.2 119.7h0M1300.3 182.6h0M1229 210h0M1281.2 119.6h0M1290.9 108.3h0M1228.1 186.5h0M1206 168.3h0M1214.4 197.8h0M1233.9 176.1h0M1208 152.2h0M1317.2 188.8h0M1206 199.6h0M1315.4 148.2h0M1327 125.2h0M1267.3 219.7h0M1321.7 215.9h0M1232.9 104.1h0M1288.2 105.2h0M1265.4 108.4h0M1319.1 202.8h0M1300.9 167.6h0M1273.9 150.5h0M1292 180.1h0M1295.5 144.2h0M1342.2 177.2h0M1323.2 216.2h0M1238.4 103.4h0M1328.1 149.2h0M1275.9 152.5h0" fill="none" stroke="#e6e0d0" stroke-width="1.6" stroke-linecap="round"/>
<line x1="834.5" y1="77.3" x2="834.5" y2="224.1" stroke="#111" stroke-width="1.6"/>
<line x1="833.5" y1="224.1" x2="988.2" y2="224.1" stroke="#111" stroke-width="1.6"/>
<line x1="830.5" y1="224.1" x2="834.5" y2="224.1" stroke="#111" stroke-width="1.4"/>
<text x="828.5" y="228.4" font-size="12" text-anchor="end">0</text>
<line x1="830.5" y1="175.1" x2="834.5" y2="175.1" stroke="#111" stroke-width="1.4"/>
<text x="828.5" y="179.4" font-size="12" text-anchor="end">50</text>
<line x1="830.5" y1="126.1" x2="834.5" y2="126.1" stroke="#111" stroke-width="1.4"/>
<text x="828.5" y="130.4" font-size="12" text-anchor="end">100</text>
<line x1="830.5" y1="77.1" x2="834.5" y2="77.1" stroke="#111" stroke-width="1.4"/>
<text x="828.5" y="81.4" font-size="12" text-anchor="end">150</text>
<rect x="848.5" y="219.2" width="23.2" height="4.9" fill="#fff" stroke="#111" stroke-width="1.6"/>
<rect x="874.1" y="118.3" width="24" height="105.8" fill="#050505" stroke="#111" stroke-width="1.6"/>
<line x1="886.1" y1="118.3" x2="886.1" y2="114.3" stroke="#111" stroke-width="1.6"/>
<line x1="879.6" y1="114.3" x2="892.6" y2="114.3" stroke="#111" stroke-width="1.6"/>
<rect x="924.6" y="218.2" width="23.2" height="5.9" fill="#fff" stroke="#111" stroke-width="1.6"/>
<rect x="949.8" y="93.8" width="24.1" height="130.3" fill="#050505" stroke="#111" stroke-width="1.6"/>
<line x1="961.9" y1="93.8" x2="961.9" y2="84.9" stroke="#111" stroke-width="1.6"/>
<line x1="955.4" y1="84.9" x2="968.4" y2="84.9" stroke="#111" stroke-width="1.6"/>
<line x1="873.3" y1="224.1" x2="873.3" y2="228.1" stroke="#111" stroke-width="1.6"/>
<line x1="949.1" y1="224.1" x2="949.1" y2="228.1" stroke="#111" stroke-width="1.6"/>
<text x="886.5" y="111.5" font-size="10.5" text-anchor="middle" font-weight="bold">***</text>
<text x="962.5" y="83.4" font-size="10.5" text-anchor="middle" font-weight="bold">***</text>
<rect x="845.9" y="52.3" width="15.4" height="7" fill="#fff" stroke="#111" stroke-width="1.5"/>
<rect x="845.2" y="68.5" width="16.7" height="8.1" fill="#050505"/>
<text x="870.4" y="59.8" font-size="17">Vec</text>
<text x="870.4" y="79.2" font-size="17">PGC7</text>
<text x="780" y="152" font-size="17" text-anchor="middle" transform="rotate(-90 780 152)">No. of spheres per</text>
<text x="801" y="152" font-size="17" text-anchor="middle" transform="rotate(-90 801 152)">10,000 cells</text>
<text x="868" y="245.6" font-size="17" text-anchor="middle">Primary</text>
<text x="953" y="245.6" font-size="17" text-anchor="middle">Secondary</text>
<line x1="1433.6" y1="76.5" x2="1433.6" y2="226.8" stroke="#111" stroke-width="1.6"/>
<line x1="1432.6" y1="226.8" x2="1589.6" y2="226.8" stroke="#111" stroke-width="1.6"/>
<line x1="1429.6" y1="226.8" x2="1433.6" y2="226.8" stroke="#111" stroke-width="1.4"/>
<text x="1427.6" y="231.1" font-size="12" text-anchor="end">0</text>
<line x1="1429.6" y1="189.2" x2="1433.6" y2="189.2" stroke="#111" stroke-width="1.4"/>
<text x="1427.6" y="193.5" font-size="12" text-anchor="end">100</text>
<line x1="1429.6" y1="151.6" x2="1433.6" y2="151.6" stroke="#111" stroke-width="1.4"/>
<text x="1427.6" y="155.9" font-size="12" text-anchor="end">200</text>
<line x1="1429.6" y1="114" x2="1433.6" y2="114" stroke="#111" stroke-width="1.4"/>
<text x="1427.6" y="118.3" font-size="12" text-anchor="end">300</text>
<line x1="1429.6" y1="76.4" x2="1433.6" y2="76.4" stroke="#111" stroke-width="1.4"/>
<text x="1427.6" y="80.7" font-size="12" text-anchor="end">400</text>
<rect x="1447.6" y="221.2" width="23.4" height="5.6" fill="#fff" stroke="#111" stroke-width="1.6"/>
<rect x="1473.5" y="134.7" width="24.3" height="92.1" fill="#050505" stroke="#111" stroke-width="1.6"/>
<line x1="1485.7" y1="134.7" x2="1485.7" y2="128.3" stroke="#111" stroke-width="1.6"/>
<line x1="1479.2" y1="128.3" x2="1492.2" y2="128.3" stroke="#111" stroke-width="1.6"/>
<rect x="1525.6" y="219.3" width="23.2" height="7.5" fill="#fff" stroke="#111" stroke-width="1.6"/>
<rect x="1550.7" y="114" width="24.8" height="112.8" fill="#050505" stroke="#111" stroke-width="1.6"/>
<line x1="1563.1" y1="114" x2="1563.1" y2="110.2" stroke="#111" stroke-width="1.6"/>
<line x1="1556.6" y1="110.2" x2="1569.6" y2="110.2" stroke="#111" stroke-width="1.6"/>
<line x1="1472.3" y1="226.8" x2="1472.3" y2="230.8" stroke="#111" stroke-width="1.6"/>
<line x1="1549.9" y1="226.8" x2="1549.9" y2="230.8" stroke="#111" stroke-width="1.6"/>
<text x="1485.8" y="126.4" font-size="10.5" text-anchor="middle" font-weight="bold">***</text>
<text x="1563.8" y="108" font-size="10.5" text-anchor="middle" font-weight="bold">***</text>
<rect x="1444.9" y="63.2" width="15.4" height="7" fill="#fff" stroke="#111" stroke-width="1.5"/>
<rect x="1444.2" y="79.3" width="16.1" height="8.4" fill="#050505"/>
<text x="1469.3" y="73" font-size="17">Vec</text>
<text x="1469.3" y="89.5" font-size="17">PGC7</text>
<text x="1380" y="151" font-size="17" text-anchor="middle" transform="rotate(-90 1380 151)">No. of spheres per</text>
<text x="1401" y="151" font-size="17" text-anchor="middle" transform="rotate(-90 1401 151)">10,000 cells</text>
<text x="1475.6" y="244.8" font-size="17" text-anchor="middle">Primary</text>
<text x="1561" y="244.8" font-size="17" text-anchor="middle">Secondary</text>
<text x="5.5" y="325.5" font-size="46" fill="#13202c">c</text>
<line x1="209" y1="344.7" x2="209" y2="518.4" stroke="#111" stroke-width="1.8"/>
<line x1="208" y1="517.6" x2="460.7" y2="517.6" stroke="#111" stroke-width="1.8"/>
<line x1="203" y1="517.6" x2="209" y2="517.6" stroke="#111" stroke-width="1.6"/>
<text x="202.5" y="524.1" font-size="18" text-anchor="end">0.0</text>
<line x1="203" y1="488.9" x2="209" y2="488.9" stroke="#111" stroke-width="1.6"/>
<text x="202.5" y="495.4" font-size="18" text-anchor="end">0.2</text>
<line x1="203" y1="460.2" x2="209" y2="460.2" stroke="#111" stroke-width="1.6"/>
<text x="202.5" y="466.7" font-size="18" text-anchor="end">0.4</text>
<line x1="203" y1="431.6" x2="209" y2="431.6" stroke="#111" stroke-width="1.6"/>
<text x="202.5" y="438" font-size="18" text-anchor="end">0.6</text>
<line x1="203" y1="402.9" x2="209" y2="402.9" stroke="#111" stroke-width="1.6"/>
<text x="202.5" y="409.3" font-size="18" text-anchor="end">0.8</text>
<line x1="203" y1="374.2" x2="209" y2="374.2" stroke="#111" stroke-width="1.6"/>
<text x="202.5" y="380.7" font-size="18" text-anchor="end">1.0</text>
<line x1="203" y1="345.5" x2="209" y2="345.5" stroke="#111" stroke-width="1.6"/>
<text x="202.5" y="352" font-size="18" text-anchor="end">1.2</text>
<line x1="226.6" y1="517.6" x2="226.6" y2="522.6" stroke="#111" stroke-width="1.5"/>
<text x="226.6" y="538.2" font-size="15.5" text-anchor="middle">0</text>
<line x1="262.6" y1="517.6" x2="262.6" y2="522.6" stroke="#111" stroke-width="1.5"/>
<text x="262.6" y="538.2" font-size="15.5" text-anchor="middle">6</text>
<line x1="298.6" y1="517.6" x2="298.6" y2="522.6" stroke="#111" stroke-width="1.5"/>
<text x="298.6" y="538.2" font-size="15.5" text-anchor="middle">8</text>
<line x1="335" y1="517.6" x2="335" y2="522.6" stroke="#111" stroke-width="1.5"/>
<text x="335" y="538.2" font-size="15.5" text-anchor="middle">10</text>
<line x1="370" y1="517.6" x2="370" y2="522.6" stroke="#111" stroke-width="1.5"/>
<text x="370" y="538.2" font-size="15.5" text-anchor="middle">12</text>
<line x1="407" y1="517.6" x2="407" y2="522.6" stroke="#111" stroke-width="1.5"/>
<text x="407" y="538.2" font-size="15.5" text-anchor="middle">16</text>
<line x1="442.5" y1="517.6" x2="442.5" y2="522.6" stroke="#111" stroke-width="1.5"/>
<text x="442.5" y="538.2" font-size="15.5" text-anchor="middle">32</text>
<text x="324.5" y="557.3" font-size="23.5" text-anchor="middle">cisplatin treatment (ug/ml)</text>
<text x="166" y="431" font-size="21.5" text-anchor="middle" transform="rotate(-90 166 431)" dominant-baseline="central">Relative cell viability</text>
<path d="M226.6 374.2 L262.6 423.7 L298.6 428 L335 432.3 L370 445.2 L407 445.9 L442.5 467.4" fill="none" stroke="#2244a6" stroke-width="2.2"/>
<line x1="226.6" y1="378.5" x2="226.6" y2="369.9" stroke="#2244a6" stroke-width="1.8"/>
<line x1="222.6" y1="369.9" x2="230.6" y2="369.9" stroke="#2244a6" stroke-width="1.8"/>
<line x1="222.6" y1="378.5" x2="230.6" y2="378.5" stroke="#2244a6" stroke-width="1.8"/>
<circle cx="226.6" cy="374.2" r="3.6" fill="#2244a6"/>
<line x1="262.6" y1="425.8" x2="262.6" y2="421.5" stroke="#2244a6" stroke-width="1.8"/>
<line x1="258.6" y1="421.5" x2="266.6" y2="421.5" stroke="#2244a6" stroke-width="1.8"/>
<line x1="258.6" y1="425.8" x2="266.6" y2="425.8" stroke="#2244a6" stroke-width="1.8"/>
<circle cx="262.6" cy="423.7" r="3.6" fill="#2244a6"/>
<line x1="298.6" y1="430.8" x2="298.6" y2="425.1" stroke="#2244a6" stroke-width="1.8"/>
<line x1="294.6" y1="425.1" x2="302.6" y2="425.1" stroke="#2244a6" stroke-width="1.8"/>
<line x1="294.6" y1="430.8" x2="302.6" y2="430.8" stroke="#2244a6" stroke-width="1.8"/>
<circle cx="298.6" cy="428" r="3.6" fill="#2244a6"/>
<line x1="335" y1="434.4" x2="335" y2="430.1" stroke="#2244a6" stroke-width="1.8"/>
<line x1="331" y1="430.1" x2="339" y2="430.1" stroke="#2244a6" stroke-width="1.8"/>
<line x1="331" y1="434.4" x2="339" y2="434.4" stroke="#2244a6" stroke-width="1.8"/>
<circle cx="335" cy="432.3" r="3.6" fill="#2244a6"/>
<circle cx="370" cy="445.2" r="3.6" fill="#2244a6"/>
<line x1="407" y1="448" x2="407" y2="443.7" stroke="#2244a6" stroke-width="1.8"/>
<line x1="403" y1="443.7" x2="411" y2="443.7" stroke="#2244a6" stroke-width="1.8"/>
<line x1="403" y1="448" x2="411" y2="448" stroke="#2244a6" stroke-width="1.8"/>
<circle cx="407" cy="445.9" r="3.6" fill="#2244a6"/>
<line x1="442.5" y1="476" x2="442.5" y2="458.8" stroke="#2244a6" stroke-width="1.8"/>
<line x1="438.5" y1="458.8" x2="446.5" y2="458.8" stroke="#2244a6" stroke-width="1.8"/>
<line x1="438.5" y1="476" x2="446.5" y2="476" stroke="#2244a6" stroke-width="1.8"/>
<circle cx="442.5" cy="467.4" r="3.6" fill="#2244a6"/>
<path d="M226.6 374.2 L262.6 418.6 L298.6 421.5 L335 421.5 L370 422.2 L407 432.3 L442.5 438.7" fill="none" stroke="#e42a24" stroke-width="2.2"/>
<line x1="226.6" y1="385.7" x2="226.6" y2="362.7" stroke="#e42a24" stroke-width="1.8"/>
<line x1="222.6" y1="362.7" x2="230.6" y2="362.7" stroke="#e42a24" stroke-width="1.8"/>
<line x1="222.6" y1="385.7" x2="230.6" y2="385.7" stroke="#e42a24" stroke-width="1.8"/>
<rect x="223" y="370.6" width="7.2" height="7.2" fill="#e42a24"/>
<line x1="262.6" y1="422.9" x2="262.6" y2="414.3" stroke="#e42a24" stroke-width="1.8"/>
<line x1="258.6" y1="414.3" x2="266.6" y2="414.3" stroke="#e42a24" stroke-width="1.8"/>
<line x1="258.6" y1="422.9" x2="266.6" y2="422.9" stroke="#e42a24" stroke-width="1.8"/>
<rect x="259" y="415" width="7.2" height="7.2" fill="#e42a24"/>
<line x1="298.6" y1="422.9" x2="298.6" y2="420.1" stroke="#e42a24" stroke-width="1.8"/>
<line x1="294.6" y1="420.1" x2="302.6" y2="420.1" stroke="#e42a24" stroke-width="1.8"/>
<line x1="294.6" y1="422.9" x2="302.6" y2="422.9" stroke="#e42a24" stroke-width="1.8"/>
<rect x="295" y="417.9" width="7.2" height="7.2" fill="#e42a24"/>
<line x1="335" y1="422.9" x2="335" y2="420.1" stroke="#e42a24" stroke-width="1.8"/>
<line x1="331" y1="420.1" x2="339" y2="420.1" stroke="#e42a24" stroke-width="1.8"/>
<line x1="331" y1="422.9" x2="339" y2="422.9" stroke="#e42a24" stroke-width="1.8"/>
<rect x="331.4" y="417.9" width="7.2" height="7.2" fill="#e42a24"/>
<line x1="370" y1="423.7" x2="370" y2="420.8" stroke="#e42a24" stroke-width="1.8"/>
<line x1="366" y1="420.8" x2="374" y2="420.8" stroke="#e42a24" stroke-width="1.8"/>
<line x1="366" y1="423.7" x2="374" y2="423.7" stroke="#e42a24" stroke-width="1.8"/>
<rect x="366.4" y="418.6" width="7.2" height="7.2" fill="#e42a24"/>
<line x1="407" y1="434.4" x2="407" y2="430.1" stroke="#e42a24" stroke-width="1.8"/>
<line x1="403" y1="430.1" x2="411" y2="430.1" stroke="#e42a24" stroke-width="1.8"/>
<line x1="403" y1="434.4" x2="411" y2="434.4" stroke="#e42a24" stroke-width="1.8"/>
<rect x="403.4" y="428.7" width="7.2" height="7.2" fill="#e42a24"/>
<line x1="442.5" y1="441.6" x2="442.5" y2="435.9" stroke="#e42a24" stroke-width="1.8"/>
<line x1="438.5" y1="435.9" x2="446.5" y2="435.9" stroke="#e42a24" stroke-width="1.8"/>
<line x1="438.5" y1="441.6" x2="446.5" y2="441.6" stroke="#e42a24" stroke-width="1.8"/>
<rect x="438.9" y="435.1" width="7.2" height="7.2" fill="#e42a24"/>
<text x="335" y="420.3" font-size="15.5" text-anchor="middle" font-weight="bold">*</text>
<text x="370" y="420.3" font-size="15.5" text-anchor="middle" font-weight="bold">***</text>
<text x="407" y="430.4" font-size="15.5" text-anchor="middle" font-weight="bold">*</text>
<text x="442.5" y="436.5" font-size="15.5" text-anchor="middle" font-weight="bold">*</text>
<line x1="348" y1="338" x2="368" y2="338" stroke="#2244a6" stroke-width="2.2"/>
<circle cx="358" cy="338" r="3.6" fill="#2244a6"/>
<line x1="348" y1="358.3" x2="368" y2="358.3" stroke="#e42a24" stroke-width="2.2"/>
<rect x="354.4" y="354.7" width="7.2" height="7.2" fill="#e42a24"/>
<text x="376.6" y="342.8" font-size="19.5">97H-Vec</text>
<text x="376.6" y="363.3" font-size="19.5">97H-PGC7</text>
<line x1="641.7" y1="339.2" x2="641.7" y2="516.8" stroke="#111" stroke-width="1.8"/>
<line x1="640.7" y1="516" x2="903.8" y2="516" stroke="#111" stroke-width="1.8"/>
<line x1="635.7" y1="516" x2="641.7" y2="516" stroke="#111" stroke-width="1.6"/>
<text x="635.2" y="522.1" font-size="17" text-anchor="end">0.0</text>
<line x1="635.7" y1="486.7" x2="641.7" y2="486.7" stroke="#111" stroke-width="1.6"/>
<text x="635.2" y="492.8" font-size="17" text-anchor="end">0.2</text>
<line x1="635.7" y1="457.3" x2="641.7" y2="457.3" stroke="#111" stroke-width="1.6"/>
<text x="635.2" y="463.5" font-size="17" text-anchor="end">0.4</text>
<line x1="635.7" y1="428" x2="641.7" y2="428" stroke="#111" stroke-width="1.6"/>
<text x="635.2" y="434.1" font-size="17" text-anchor="end">0.6</text>
<line x1="635.7" y1="398.7" x2="641.7" y2="398.7" stroke="#111" stroke-width="1.6"/>
<text x="635.2" y="404.8" font-size="17" text-anchor="end">0.8</text>
<line x1="635.7" y1="369.3" x2="641.7" y2="369.3" stroke="#111" stroke-width="1.6"/>
<text x="635.2" y="375.5" font-size="17" text-anchor="end">1.0</text>
<line x1="635.7" y1="340" x2="641.7" y2="340" stroke="#111" stroke-width="1.6"/>
<text x="635.2" y="346.1" font-size="17" text-anchor="end">1.2</text>
<line x1="659.7" y1="516" x2="659.7" y2="521" stroke="#111" stroke-width="1.5"/>
<text x="659.7" y="537.7" font-size="14" text-anchor="middle">0</text>
<line x1="697" y1="516" x2="697" y2="521" stroke="#111" stroke-width="1.5"/>
<text x="697" y="537.7" font-size="14" text-anchor="middle">100</text>
<line x1="734.5" y1="516" x2="734.5" y2="521" stroke="#111" stroke-width="1.5"/>
<text x="734.5" y="537.7" font-size="14" text-anchor="middle">400</text>
<line x1="772" y1="516" x2="772" y2="521" stroke="#111" stroke-width="1.5"/>
<text x="772" y="537.7" font-size="14" text-anchor="middle">600</text>
<line x1="809" y1="516" x2="809" y2="521" stroke="#111" stroke-width="1.5"/>
<text x="809" y="537.7" font-size="14" text-anchor="middle">800</text>
<line x1="846.5" y1="516" x2="846.5" y2="521" stroke="#111" stroke-width="1.5"/>
<text x="846.5" y="537.7" font-size="14" text-anchor="middle">1200</text>
<line x1="884" y1="516" x2="884" y2="521" stroke="#111" stroke-width="1.5"/>
<text x="884" y="537.7" font-size="14" text-anchor="middle">1400</text>
<text x="781.3" y="559.2" font-size="23.5" text-anchor="middle">5-Fu treatment (ug/ml)</text>
<text x="592.5" y="429" font-size="21.5" text-anchor="middle" transform="rotate(-90 592.5 429)" dominant-baseline="central">Relative cell viability</text>
<path d="M659.7 370.8 L697 425.1 L734.5 428 L772 433.1 L809 445.6 L846.5 449.3 L884 460.3" fill="none" stroke="#2244a6" stroke-width="2.2"/>
<line x1="659.7" y1="379.6" x2="659.7" y2="362" stroke="#2244a6" stroke-width="1.8"/>
<line x1="655.7" y1="362" x2="663.7" y2="362" stroke="#2244a6" stroke-width="1.8"/>
<line x1="655.7" y1="379.6" x2="663.7" y2="379.6" stroke="#2244a6" stroke-width="1.8"/>
<circle cx="659.7" cy="370.8" r="3.6" fill="#2244a6"/>
<line x1="697" y1="429.5" x2="697" y2="420.7" stroke="#2244a6" stroke-width="1.8"/>
<line x1="693" y1="420.7" x2="701" y2="420.7" stroke="#2244a6" stroke-width="1.8"/>
<line x1="693" y1="429.5" x2="701" y2="429.5" stroke="#2244a6" stroke-width="1.8"/>
<circle cx="697" cy="425.1" r="3.6" fill="#2244a6"/>
<line x1="734.5" y1="429.5" x2="734.5" y2="426.5" stroke="#2244a6" stroke-width="1.8"/>
<line x1="730.5" y1="426.5" x2="738.5" y2="426.5" stroke="#2244a6" stroke-width="1.8"/>
<line x1="730.5" y1="429.5" x2="738.5" y2="429.5" stroke="#2244a6" stroke-width="1.8"/>
<circle cx="734.5" cy="428" r="3.6" fill="#2244a6"/>
<line x1="772" y1="436.8" x2="772" y2="429.5" stroke="#2244a6" stroke-width="1.8"/>
<line x1="768" y1="429.5" x2="776" y2="429.5" stroke="#2244a6" stroke-width="1.8"/>
<line x1="768" y1="436.8" x2="776" y2="436.8" stroke="#2244a6" stroke-width="1.8"/>
<circle cx="772" cy="433.1" r="3.6" fill="#2244a6"/>
<line x1="809" y1="447.1" x2="809" y2="444.1" stroke="#2244a6" stroke-width="1.8"/>
<line x1="805" y1="444.1" x2="813" y2="444.1" stroke="#2244a6" stroke-width="1.8"/>
<line x1="805" y1="447.1" x2="813" y2="447.1" stroke="#2244a6" stroke-width="1.8"/>
<circle cx="809" cy="445.6" r="3.6" fill="#2244a6"/>
<line x1="846.5" y1="452.2" x2="846.5" y2="446.3" stroke="#2244a6" stroke-width="1.8"/>
<line x1="842.5" y1="446.3" x2="850.5" y2="446.3" stroke="#2244a6" stroke-width="1.8"/>
<line x1="842.5" y1="452.2" x2="850.5" y2="452.2" stroke="#2244a6" stroke-width="1.8"/>
<circle cx="846.5" cy="449.3" r="3.6" fill="#2244a6"/>
<line x1="884" y1="463.9" x2="884" y2="456.6" stroke="#2244a6" stroke-width="1.8"/>
<line x1="880" y1="456.6" x2="888" y2="456.6" stroke="#2244a6" stroke-width="1.8"/>
<line x1="880" y1="463.9" x2="888" y2="463.9" stroke="#2244a6" stroke-width="1.8"/>
<circle cx="884" cy="460.3" r="3.6" fill="#2244a6"/>
<path d="M659.7 373 L697 403.1 L734.5 418.5 L772 415.5 L809 429.5 L846.5 426.5 L884 419.2" fill="none" stroke="#e42a24" stroke-width="2.2"/>
<line x1="659.7" y1="378.9" x2="659.7" y2="367.1" stroke="#e42a24" stroke-width="1.8"/>
<line x1="655.7" y1="367.1" x2="663.7" y2="367.1" stroke="#e42a24" stroke-width="1.8"/>
<line x1="655.7" y1="378.9" x2="663.7" y2="378.9" stroke="#e42a24" stroke-width="1.8"/>
<rect x="656.1" y="369.4" width="7.2" height="7.2" fill="#e42a24"/>
<line x1="697" y1="408.2" x2="697" y2="397.9" stroke="#e42a24" stroke-width="1.8"/>
<line x1="693" y1="397.9" x2="701" y2="397.9" stroke="#e42a24" stroke-width="1.8"/>
<line x1="693" y1="408.2" x2="701" y2="408.2" stroke="#e42a24" stroke-width="1.8"/>
<rect x="693.4" y="399.5" width="7.2" height="7.2" fill="#e42a24"/>
<line x1="734.5" y1="419.9" x2="734.5" y2="417" stroke="#e42a24" stroke-width="1.8"/>
<line x1="730.5" y1="417" x2="738.5" y2="417" stroke="#e42a24" stroke-width="1.8"/>
<line x1="730.5" y1="419.9" x2="738.5" y2="419.9" stroke="#e42a24" stroke-width="1.8"/>
<rect x="730.9" y="414.9" width="7.2" height="7.2" fill="#e42a24"/>
<line x1="772" y1="417.7" x2="772" y2="413.3" stroke="#e42a24" stroke-width="1.8"/>
<line x1="768" y1="413.3" x2="776" y2="413.3" stroke="#e42a24" stroke-width="1.8"/>
<line x1="768" y1="417.7" x2="776" y2="417.7" stroke="#e42a24" stroke-width="1.8"/>
<rect x="768.4" y="411.9" width="7.2" height="7.2" fill="#e42a24"/>
<line x1="809" y1="439.7" x2="809" y2="419.2" stroke="#e42a24" stroke-width="1.8"/>
<line x1="805" y1="419.2" x2="813" y2="419.2" stroke="#e42a24" stroke-width="1.8"/>
<line x1="805" y1="439.7" x2="813" y2="439.7" stroke="#e42a24" stroke-width="1.8"/>
<rect x="805.4" y="425.9" width="7.2" height="7.2" fill="#e42a24"/>
<line x1="846.5" y1="433.9" x2="846.5" y2="419.2" stroke="#e42a24" stroke-width="1.8"/>
<line x1="842.5" y1="419.2" x2="850.5" y2="419.2" stroke="#e42a24" stroke-width="1.8"/>
<line x1="842.5" y1="433.9" x2="850.5" y2="433.9" stroke="#e42a24" stroke-width="1.8"/>
<rect x="842.9" y="422.9" width="7.2" height="7.2" fill="#e42a24"/>
<line x1="884" y1="421.4" x2="884" y2="417" stroke="#e42a24" stroke-width="1.8"/>
<line x1="880" y1="417" x2="888" y2="417" stroke="#e42a24" stroke-width="1.8"/>
<line x1="880" y1="421.4" x2="888" y2="421.4" stroke="#e42a24" stroke-width="1.8"/>
<rect x="880.4" y="415.6" width="7.2" height="7.2" fill="#e42a24"/>
<text x="697" y="400.2" font-size="15.5" text-anchor="middle" font-weight="bold">*</text>
<text x="734.5" y="417.4" font-size="15.5" text-anchor="middle" font-weight="bold">***</text>
<text x="772" y="417.4" font-size="15.5" text-anchor="middle" font-weight="bold">*</text>
<text x="846.5" y="422.3" font-size="15.5" text-anchor="middle" font-weight="bold">*</text>
<text x="884" y="419.4" font-size="15.5" text-anchor="middle" font-weight="bold">**</text>
<line x1="785" y1="335.2" x2="807.8" y2="335.2" stroke="#2244a6" stroke-width="2.2"/>
<circle cx="796.4" cy="335.2" r="3.6" fill="#2244a6"/>
<line x1="785" y1="354.4" x2="807.8" y2="354.4" stroke="#e42a24" stroke-width="2.2"/>
<rect x="792.8" y="350.8" width="7.2" height="7.2" fill="#e42a24"/>
<text x="814.4" y="340" font-size="19.5">97H-Vec</text>
<text x="814.4" y="360.1" font-size="19.5">97H-PGC7</text>
<line x1="1068" y1="356" x2="1068" y2="517.5" stroke="#111" stroke-width="1.8"/>
<line x1="1067" y1="516.7" x2="1299" y2="516.7" stroke="#111" stroke-width="1.8"/>
<line x1="1062" y1="516.7" x2="1068" y2="516.7" stroke="#111" stroke-width="1.6"/>
<text x="1061.5" y="522.8" font-size="17" text-anchor="end">0.0</text>
<line x1="1062" y1="490.1" x2="1068" y2="490.1" stroke="#111" stroke-width="1.6"/>
<text x="1061.5" y="496.2" font-size="17" text-anchor="end">0.2</text>
<line x1="1062" y1="463.4" x2="1068" y2="463.4" stroke="#111" stroke-width="1.6"/>
<text x="1061.5" y="469.5" font-size="17" text-anchor="end">0.4</text>
<line x1="1062" y1="436.8" x2="1068" y2="436.8" stroke="#111" stroke-width="1.6"/>
<text x="1061.5" y="442.9" font-size="17" text-anchor="end">0.6</text>
<line x1="1062" y1="410.1" x2="1068" y2="410.1" stroke="#111" stroke-width="1.6"/>
<text x="1061.5" y="416.2" font-size="17" text-anchor="end">0.8</text>
<line x1="1062" y1="383.5" x2="1068" y2="383.5" stroke="#111" stroke-width="1.6"/>
<text x="1061.5" y="389.6" font-size="17" text-anchor="end">1.0</text>
<line x1="1062" y1="356.8" x2="1068" y2="356.8" stroke="#111" stroke-width="1.6"/>
<text x="1061.5" y="362.9" font-size="17" text-anchor="end">1.2</text>
<line x1="1084.7" y1="516.7" x2="1084.7" y2="521.7" stroke="#111" stroke-width="1.5"/>
<text x="1084.7" y="535.4" font-size="15.5" text-anchor="middle">0</text>
<line x1="1117.3" y1="516.7" x2="1117.3" y2="521.7" stroke="#111" stroke-width="1.5"/>
<text x="1117.3" y="535.4" font-size="15.5" text-anchor="middle">4</text>
<line x1="1150.4" y1="516.7" x2="1150.4" y2="521.7" stroke="#111" stroke-width="1.5"/>
<text x="1150.4" y="535.4" font-size="15.5" text-anchor="middle">8</text>
<line x1="1183.6" y1="516.7" x2="1183.6" y2="521.7" stroke="#111" stroke-width="1.5"/>
<text x="1183.6" y="535.4" font-size="15.5" text-anchor="middle">16</text>
<line x1="1216.4" y1="516.7" x2="1216.4" y2="521.7" stroke="#111" stroke-width="1.5"/>
<text x="1216.4" y="535.4" font-size="15.5" text-anchor="middle">32</text>
<line x1="1249.6" y1="516.7" x2="1249.6" y2="521.7" stroke="#111" stroke-width="1.5"/>
<text x="1249.6" y="535.4" font-size="15.5" text-anchor="middle">64</text>
<line x1="1282.2" y1="516.7" x2="1282.2" y2="521.7" stroke="#111" stroke-width="1.5"/>
<text x="1282.2" y="535.4" font-size="15.5" text-anchor="middle">128</text>
<text x="1193" y="559" font-size="23.5" text-anchor="middle">SR treatment (uM)</text>
<text x="1029" y="438" font-size="21.5" text-anchor="middle" transform="rotate(-90 1029 438)" dominant-baseline="central">Relative cell viability</text>
<path d="M1084.7 383.5 L1117.3 390.1 L1150.4 396.8 L1183.6 420.8 L1216.4 449.4 L1249.6 458.1 L1282.2 454.7" fill="none" stroke="#2244a6" stroke-width="2.2"/>
<circle cx="1084.7" cy="383.5" r="3.6" fill="#2244a6"/>
<circle cx="1117.3" cy="390.1" r="3.6" fill="#2244a6"/>
<circle cx="1150.4" cy="396.8" r="3.6" fill="#2244a6"/>
<line x1="1183.6" y1="422.1" x2="1183.6" y2="419.4" stroke="#2244a6" stroke-width="1.8"/>
<line x1="1179.6" y1="419.4" x2="1187.6" y2="419.4" stroke="#2244a6" stroke-width="1.8"/>
<line x1="1179.6" y1="422.1" x2="1187.6" y2="422.1" stroke="#2244a6" stroke-width="1.8"/>
<circle cx="1183.6" cy="420.8" r="3.6" fill="#2244a6"/>
<circle cx="1216.4" cy="449.4" r="3.6" fill="#2244a6"/>
<circle cx="1249.6" cy="458.1" r="3.6" fill="#2244a6"/>
<circle cx="1282.2" cy="454.7" r="3.6" fill="#2244a6"/>
<path d="M1084.7 383.5 L1117.3 380.1 L1150.4 384.1 L1183.6 407.4 L1216.4 440.1 L1249.6 458.1 L1282.2 453.4" fill="none" stroke="#e42a24" stroke-width="2.2"/>
<line x1="1084.7" y1="386.1" x2="1084.7" y2="380.8" stroke="#e42a24" stroke-width="1.8"/>
<line x1="1080.7" y1="380.8" x2="1088.7" y2="380.8" stroke="#e42a24" stroke-width="1.8"/>
<line x1="1080.7" y1="386.1" x2="1088.7" y2="386.1" stroke="#e42a24" stroke-width="1.8"/>
<rect x="1081.1" y="379.9" width="7.2" height="7.2" fill="#e42a24"/>
<line x1="1117.3" y1="382.8" x2="1117.3" y2="377.5" stroke="#e42a24" stroke-width="1.8"/>
<line x1="1113.3" y1="377.5" x2="1121.3" y2="377.5" stroke="#e42a24" stroke-width="1.8"/>
<line x1="1113.3" y1="382.8" x2="1121.3" y2="382.8" stroke="#e42a24" stroke-width="1.8"/>
<rect x="1113.7" y="376.5" width="7.2" height="7.2" fill="#e42a24"/>
<line x1="1150.4" y1="388.1" x2="1150.4" y2="380.1" stroke="#e42a24" stroke-width="1.8"/>
<line x1="1146.4" y1="380.1" x2="1154.4" y2="380.1" stroke="#e42a24" stroke-width="1.8"/>
<line x1="1146.4" y1="388.1" x2="1154.4" y2="388.1" stroke="#e42a24" stroke-width="1.8"/>
<rect x="1146.8" y="380.5" width="7.2" height="7.2" fill="#e42a24"/>
<line x1="1183.6" y1="409.4" x2="1183.6" y2="405.4" stroke="#e42a24" stroke-width="1.8"/>
<line x1="1179.6" y1="405.4" x2="1187.6" y2="405.4" stroke="#e42a24" stroke-width="1.8"/>
<line x1="1179.6" y1="409.4" x2="1187.6" y2="409.4" stroke="#e42a24" stroke-width="1.8"/>
<rect x="1180" y="403.8" width="7.2" height="7.2" fill="#e42a24"/>
<line x1="1216.4" y1="442.7" x2="1216.4" y2="437.4" stroke="#e42a24" stroke-width="1.8"/>
<line x1="1212.4" y1="437.4" x2="1220.4" y2="437.4" stroke="#e42a24" stroke-width="1.8"/>
<line x1="1212.4" y1="442.7" x2="1220.4" y2="442.7" stroke="#e42a24" stroke-width="1.8"/>
<rect x="1212.8" y="436.5" width="7.2" height="7.2" fill="#e42a24"/>
<line x1="1249.6" y1="459.4" x2="1249.6" y2="456.7" stroke="#e42a24" stroke-width="1.8"/>
<line x1="1245.6" y1="456.7" x2="1253.6" y2="456.7" stroke="#e42a24" stroke-width="1.8"/>
<line x1="1245.6" y1="459.4" x2="1253.6" y2="459.4" stroke="#e42a24" stroke-width="1.8"/>
<rect x="1246" y="454.5" width="7.2" height="7.2" fill="#e42a24"/>
<line x1="1282.2" y1="455.4" x2="1282.2" y2="451.4" stroke="#e42a24" stroke-width="1.8"/>
<line x1="1278.2" y1="451.4" x2="1286.2" y2="451.4" stroke="#e42a24" stroke-width="1.8"/>
<line x1="1278.2" y1="455.4" x2="1286.2" y2="455.4" stroke="#e42a24" stroke-width="1.8"/>
<rect x="1278.6" y="449.8" width="7.2" height="7.2" fill="#e42a24"/>
<text x="1117.3" y="379.6" font-size="15.5" text-anchor="middle" font-weight="bold">*</text>
<text x="1150.4" y="383.9" font-size="15.5" text-anchor="middle" font-weight="bold">*</text>
<text x="1183.6" y="407" font-size="15.5" text-anchor="middle" font-weight="bold">**</text>
<text x="1184.3" y="428.2" font-size="15.5" text-anchor="middle" font-weight="bold">*</text>
<text x="1216.4" y="439.4" font-size="15.5" text-anchor="middle" font-weight="bold">*</text>
<line x1="1199.3" y1="346.1" x2="1215.4" y2="346.1" stroke="#2244a6" stroke-width="2.2"/>
<circle cx="1207.3" cy="346.1" r="3.6" fill="#2244a6"/>
<line x1="1199.3" y1="360.6" x2="1215.4" y2="360.6" stroke="#e42a24" stroke-width="2.2"/>
<rect x="1203.8" y="357" width="7.2" height="7.2" fill="#e42a24"/>
<text x="1225.4" y="350.3" font-size="19.5">97H-Vec</text>
<text x="1225.4" y="367.3" font-size="19.5">97H-PGC7</text>
<line x1="210.2" y1="595.8" x2="210.2" y2="771.5" stroke="#111" stroke-width="1.8"/>
<line x1="209.2" y1="770.7" x2="465" y2="770.7" stroke="#111" stroke-width="1.8"/>
<line x1="204.2" y1="770.7" x2="210.2" y2="770.7" stroke="#111" stroke-width="1.6"/>
<text x="203.7" y="776.5" font-size="16" text-anchor="end">0.0</text>
<line x1="204.2" y1="741.7" x2="210.2" y2="741.7" stroke="#111" stroke-width="1.6"/>
<text x="203.7" y="747.4" font-size="16" text-anchor="end">0.2</text>
<line x1="204.2" y1="712.7" x2="210.2" y2="712.7" stroke="#111" stroke-width="1.6"/>
<text x="203.7" y="718.4" font-size="16" text-anchor="end">0.4</text>
<line x1="204.2" y1="683.6" x2="210.2" y2="683.6" stroke="#111" stroke-width="1.6"/>
<text x="203.7" y="689.4" font-size="16" text-anchor="end">0.6</text>
<line x1="204.2" y1="654.6" x2="210.2" y2="654.6" stroke="#111" stroke-width="1.6"/>
<text x="203.7" y="660.4" font-size="16" text-anchor="end">0.8</text>
<line x1="204.2" y1="625.6" x2="210.2" y2="625.6" stroke="#111" stroke-width="1.6"/>
<text x="203.7" y="631.4" font-size="16" text-anchor="end">1.0</text>
<line x1="204.2" y1="596.6" x2="210.2" y2="596.6" stroke="#111" stroke-width="1.6"/>
<text x="203.7" y="602.4" font-size="16" text-anchor="end">1.2</text>
<line x1="228.2" y1="770.7" x2="228.2" y2="775.7" stroke="#111" stroke-width="1.5"/>
<text x="228.2" y="791.7" font-size="15.5" text-anchor="middle">0</text>
<line x1="264.5" y1="770.7" x2="264.5" y2="775.7" stroke="#111" stroke-width="1.5"/>
<text x="264.5" y="791.7" font-size="15.5" text-anchor="middle">1</text>
<line x1="301" y1="770.7" x2="301" y2="775.7" stroke="#111" stroke-width="1.5"/>
<text x="301" y="791.7" font-size="15.5" text-anchor="middle">2</text>
<line x1="337.3" y1="770.7" x2="337.3" y2="775.7" stroke="#111" stroke-width="1.5"/>
<text x="337.3" y="791.7" font-size="15.5" text-anchor="middle">3</text>
<line x1="373.4" y1="770.7" x2="373.4" y2="775.7" stroke="#111" stroke-width="1.5"/>
<text x="373.4" y="791.7" font-size="15.5" text-anchor="middle">4</text>
<line x1="409.7" y1="770.7" x2="409.7" y2="775.7" stroke="#111" stroke-width="1.5"/>
<text x="409.7" y="791.7" font-size="15.5" text-anchor="middle">8</text>
<line x1="446.1" y1="770.7" x2="446.1" y2="775.7" stroke="#111" stroke-width="1.5"/>
<text x="446.1" y="791.7" font-size="15.5" text-anchor="middle">12</text>
<text x="320" y="811.6" font-size="23.5" text-anchor="middle">cisplatin treatment (ug/ml)</text>
<text x="166.5" y="685" font-size="21.5" text-anchor="middle" transform="rotate(-90 166.5 685)" dominant-baseline="central">Relative cell viability</text>
<path d="M228.2 625.6 L264.5 640.9 L301 642.3 L337.3 655.4 L373.4 682.9 L409.7 718.5 L446.1 720.6" fill="none" stroke="#2244a6" stroke-width="2.2"/>
<line x1="228.2" y1="630" x2="228.2" y2="621.3" stroke="#2244a6" stroke-width="1.8"/>
<line x1="224.2" y1="621.3" x2="232.2" y2="621.3" stroke="#2244a6" stroke-width="1.8"/>
<line x1="224.2" y1="630" x2="232.2" y2="630" stroke="#2244a6" stroke-width="1.8"/>
<circle cx="228.2" cy="625.6" r="3.6" fill="#2244a6"/>
<line x1="264.5" y1="644.5" x2="264.5" y2="637.2" stroke="#2244a6" stroke-width="1.8"/>
<line x1="260.5" y1="637.2" x2="268.5" y2="637.2" stroke="#2244a6" stroke-width="1.8"/>
<line x1="260.5" y1="644.5" x2="268.5" y2="644.5" stroke="#2244a6" stroke-width="1.8"/>
<circle cx="264.5" cy="640.9" r="3.6" fill="#2244a6"/>
<line x1="301" y1="643.8" x2="301" y2="640.9" stroke="#2244a6" stroke-width="1.8"/>
<line x1="297" y1="640.9" x2="305" y2="640.9" stroke="#2244a6" stroke-width="1.8"/>
<line x1="297" y1="643.8" x2="305" y2="643.8" stroke="#2244a6" stroke-width="1.8"/>
<circle cx="301" cy="642.3" r="3.6" fill="#2244a6"/>
<line x1="337.3" y1="656.8" x2="337.3" y2="653.9" stroke="#2244a6" stroke-width="1.8"/>
<line x1="333.3" y1="653.9" x2="341.3" y2="653.9" stroke="#2244a6" stroke-width="1.8"/>
<line x1="333.3" y1="656.8" x2="341.3" y2="656.8" stroke="#2244a6" stroke-width="1.8"/>
<circle cx="337.3" cy="655.4" r="3.6" fill="#2244a6"/>
<line x1="373.4" y1="684.4" x2="373.4" y2="681.5" stroke="#2244a6" stroke-width="1.8"/>
<line x1="369.4" y1="681.5" x2="377.4" y2="681.5" stroke="#2244a6" stroke-width="1.8"/>
<line x1="369.4" y1="684.4" x2="377.4" y2="684.4" stroke="#2244a6" stroke-width="1.8"/>
<circle cx="373.4" cy="682.9" r="3.6" fill="#2244a6"/>
<line x1="409.7" y1="719.9" x2="409.7" y2="717" stroke="#2244a6" stroke-width="1.8"/>
<line x1="405.7" y1="717" x2="413.7" y2="717" stroke="#2244a6" stroke-width="1.8"/>
<line x1="405.7" y1="719.9" x2="413.7" y2="719.9" stroke="#2244a6" stroke-width="1.8"/>
<circle cx="409.7" cy="718.5" r="3.6" fill="#2244a6"/>
<line x1="446.1" y1="722.1" x2="446.1" y2="719.2" stroke="#2244a6" stroke-width="1.8"/>
<line x1="442.1" y1="719.2" x2="450.1" y2="719.2" stroke="#2244a6" stroke-width="1.8"/>
<line x1="442.1" y1="722.1" x2="450.1" y2="722.1" stroke="#2244a6" stroke-width="1.8"/>
<circle cx="446.1" cy="720.6" r="3.6" fill="#2244a6"/>
<path d="M228.2 625.6 L264.5 634.3 L301 635 L337.3 642.3 L373.4 662.6 L409.7 698.2 L446.1 700.3" fill="none" stroke="#e42a24" stroke-width="2.2"/>
<line x1="228.2" y1="630" x2="228.2" y2="621.3" stroke="#e42a24" stroke-width="1.8"/>
<line x1="224.2" y1="621.3" x2="232.2" y2="621.3" stroke="#e42a24" stroke-width="1.8"/>
<line x1="224.2" y1="630" x2="232.2" y2="630" stroke="#e42a24" stroke-width="1.8"/>
<rect x="224.6" y="622" width="7.2" height="7.2" fill="#e42a24"/>
<line x1="264.5" y1="638.7" x2="264.5" y2="630" stroke="#e42a24" stroke-width="1.8"/>
<line x1="260.5" y1="630" x2="268.5" y2="630" stroke="#e42a24" stroke-width="1.8"/>
<line x1="260.5" y1="638.7" x2="268.5" y2="638.7" stroke="#e42a24" stroke-width="1.8"/>
<rect x="260.9" y="630.7" width="7.2" height="7.2" fill="#e42a24"/>
<line x1="301" y1="637.9" x2="301" y2="632.1" stroke="#e42a24" stroke-width="1.8"/>
<line x1="297" y1="632.1" x2="305" y2="632.1" stroke="#e42a24" stroke-width="1.8"/>
<line x1="297" y1="637.9" x2="305" y2="637.9" stroke="#e42a24" stroke-width="1.8"/>
<rect x="297.4" y="631.4" width="7.2" height="7.2" fill="#e42a24"/>
<line x1="337.3" y1="644.5" x2="337.3" y2="640.1" stroke="#e42a24" stroke-width="1.8"/>
<line x1="333.3" y1="640.1" x2="341.3" y2="640.1" stroke="#e42a24" stroke-width="1.8"/>
<line x1="333.3" y1="644.5" x2="341.3" y2="644.5" stroke="#e42a24" stroke-width="1.8"/>
<rect x="333.7" y="638.7" width="7.2" height="7.2" fill="#e42a24"/>
<line x1="373.4" y1="667" x2="373.4" y2="658.3" stroke="#e42a24" stroke-width="1.8"/>
<line x1="369.4" y1="658.3" x2="377.4" y2="658.3" stroke="#e42a24" stroke-width="1.8"/>
<line x1="369.4" y1="667" x2="377.4" y2="667" stroke="#e42a24" stroke-width="1.8"/>
<rect x="369.8" y="659" width="7.2" height="7.2" fill="#e42a24"/>
<line x1="409.7" y1="699.6" x2="409.7" y2="696.7" stroke="#e42a24" stroke-width="1.8"/>
<line x1="405.7" y1="696.7" x2="413.7" y2="696.7" stroke="#e42a24" stroke-width="1.8"/>
<line x1="405.7" y1="699.6" x2="413.7" y2="699.6" stroke="#e42a24" stroke-width="1.8"/>
<rect x="406.1" y="694.6" width="7.2" height="7.2" fill="#e42a24"/>
<line x1="446.1" y1="701.8" x2="446.1" y2="698.9" stroke="#e42a24" stroke-width="1.8"/>
<line x1="442.1" y1="698.9" x2="450.1" y2="698.9" stroke="#e42a24" stroke-width="1.8"/>
<line x1="442.1" y1="701.8" x2="450.1" y2="701.8" stroke="#e42a24" stroke-width="1.8"/>
<rect x="442.5" y="696.7" width="7.2" height="7.2" fill="#e42a24"/>
<text x="337.3" y="643.4" font-size="15.5" text-anchor="middle" font-weight="bold">**</text>
<text x="373.4" y="658.8" font-size="15.5" text-anchor="middle" font-weight="bold">**</text>
<text x="409.7" y="694.4" font-size="15.5" text-anchor="middle" font-weight="bold">***</text>
<text x="446.1" y="699.9" font-size="15.5" text-anchor="middle" font-weight="bold">***</text>
<line x1="350.5" y1="592.4" x2="369.1" y2="592.4" stroke="#2244a6" stroke-width="2.2"/>
<circle cx="359.8" cy="592.4" r="3.6" fill="#2244a6"/>
<line x1="350.5" y1="609.4" x2="369.1" y2="609.4" stroke="#e42a24" stroke-width="2.2"/>
<rect x="356.2" y="605.8" width="7.2" height="7.2" fill="#e42a24"/>
<text x="380.3" y="596.7" font-size="19.5">MiHA-Vec</text>
<text x="380.3" y="614.3" font-size="19.5">MiHA-PGC7</text>
<line x1="639.2" y1="595.8" x2="639.2" y2="772.5" stroke="#111" stroke-width="1.8"/>
<line x1="638.2" y1="771.7" x2="902.5" y2="771.7" stroke="#111" stroke-width="1.8"/>
<line x1="633.2" y1="771.7" x2="639.2" y2="771.7" stroke="#111" stroke-width="1.6"/>
<text x="632.7" y="777.5" font-size="16" text-anchor="end">0.0</text>
<line x1="633.2" y1="742.5" x2="639.2" y2="742.5" stroke="#111" stroke-width="1.6"/>
<text x="632.7" y="748.3" font-size="16" text-anchor="end">0.2</text>
<line x1="633.2" y1="713.3" x2="639.2" y2="713.3" stroke="#111" stroke-width="1.6"/>
<text x="632.7" y="719.1" font-size="16" text-anchor="end">0.4</text>
<line x1="633.2" y1="684.1" x2="639.2" y2="684.1" stroke="#111" stroke-width="1.6"/>
<text x="632.7" y="689.9" font-size="16" text-anchor="end">0.6</text>
<line x1="633.2" y1="655" x2="639.2" y2="655" stroke="#111" stroke-width="1.6"/>
<text x="632.7" y="660.7" font-size="16" text-anchor="end">0.8</text>
<line x1="633.2" y1="625.8" x2="639.2" y2="625.8" stroke="#111" stroke-width="1.6"/>
<text x="632.7" y="631.5" font-size="16" text-anchor="end">1.0</text>
<line x1="633.2" y1="596.6" x2="639.2" y2="596.6" stroke="#111" stroke-width="1.6"/>
<text x="632.7" y="602.4" font-size="16" text-anchor="end">1.2</text>
<line x1="652.7" y1="771.7" x2="652.7" y2="776.7" stroke="#111" stroke-width="1.5"/>
<text x="652.7" y="789.2" font-size="13.5" text-anchor="middle">0</text>
<line x1="678.8" y1="771.7" x2="678.8" y2="776.7" stroke="#111" stroke-width="1.5"/>
<text x="678.8" y="789.2" font-size="13.5" text-anchor="middle">50</text>
<line x1="705.2" y1="771.7" x2="705.2" y2="776.7" stroke="#111" stroke-width="1.5"/>
<text x="705.2" y="789.2" font-size="13.5" text-anchor="middle">100</text>
<line x1="731.6" y1="771.7" x2="731.6" y2="776.7" stroke="#111" stroke-width="1.5"/>
<text x="731.6" y="789.2" font-size="13.5" text-anchor="middle">150</text>
<line x1="758" y1="771.7" x2="758" y2="776.7" stroke="#111" stroke-width="1.5"/>
<text x="758" y="789.2" font-size="13.5" text-anchor="middle">200</text>
<line x1="784.2" y1="771.7" x2="784.2" y2="776.7" stroke="#111" stroke-width="1.5"/>
<text x="784.2" y="789.2" font-size="13.5" text-anchor="middle">250</text>
<line x1="810.6" y1="771.7" x2="810.6" y2="776.7" stroke="#111" stroke-width="1.5"/>
<text x="810.6" y="789.2" font-size="13.5" text-anchor="middle">300</text>
<line x1="836.8" y1="771.7" x2="836.8" y2="776.7" stroke="#111" stroke-width="1.5"/>
<text x="836.8" y="789.2" font-size="13.5" text-anchor="middle">350</text>
<line x1="863.2" y1="771.7" x2="863.2" y2="776.7" stroke="#111" stroke-width="1.5"/>
<text x="863.2" y="789.2" font-size="13.5" text-anchor="middle">400</text>
<line x1="889.6" y1="771.7" x2="889.6" y2="776.7" stroke="#111" stroke-width="1.5"/>
<text x="889.6" y="789.2" font-size="13.5" text-anchor="middle">450</text>
<text x="781" y="812.8" font-size="23.5" text-anchor="middle">5-Fu treatment (ug/ml)</text>
<text x="596.5" y="684.5" font-size="21.5" text-anchor="middle" transform="rotate(-90 596.5 684.5)" dominant-baseline="central">Relative cell viability</text>
<path d="M652.7 625.8 L678.8 703.1 L705.2 715.5 L731.6 717.7 L758 722.1 L784.2 722.1 L810.6 724.3 L836.8 723.5 L863.2 722.8 L889.6 722.8" fill="none" stroke="#3a50b4" stroke-width="2.2"/>
<circle cx="652.7" cy="625.8" r="3.6" fill="#3a50b4"/>
<circle cx="678.8" cy="703.1" r="3.6" fill="#3a50b4"/>
<circle cx="705.2" cy="715.5" r="3.6" fill="#3a50b4"/>
<circle cx="731.6" cy="717.7" r="3.6" fill="#3a50b4"/>
<circle cx="758" cy="722.1" r="3.6" fill="#3a50b4"/>
<circle cx="784.2" cy="722.1" r="3.6" fill="#3a50b4"/>
<circle cx="810.6" cy="724.3" r="3.6" fill="#3a50b4"/>
<circle cx="836.8" cy="723.5" r="3.6" fill="#3a50b4"/>
<circle cx="863.2" cy="722.8" r="3.6" fill="#3a50b4"/>
<circle cx="889.6" cy="722.8" r="3.6" fill="#3a50b4"/>
<path d="M652.7 625.8 L678.8 680.5 L705.2 698.7 L731.6 706 L758 709.7 L784.2 712.6 L810.6 711.1 L836.8 710.4 L863.2 709 L889.6 710.4" fill="none" stroke="#e42a24" stroke-width="2.2"/>
<line x1="652.7" y1="628.7" x2="652.7" y2="622.9" stroke="#e42a24" stroke-width="1.8"/>
<line x1="648.7" y1="622.9" x2="656.7" y2="622.9" stroke="#e42a24" stroke-width="1.8"/>
<line x1="648.7" y1="628.7" x2="656.7" y2="628.7" stroke="#e42a24" stroke-width="1.8"/>
<rect x="649.1" y="622.2" width="7.2" height="7.2" fill="#e42a24"/>
<line x1="678.8" y1="682" x2="678.8" y2="679" stroke="#e42a24" stroke-width="1.8"/>
<line x1="674.8" y1="679" x2="682.8" y2="679" stroke="#e42a24" stroke-width="1.8"/>
<line x1="674.8" y1="682" x2="682.8" y2="682" stroke="#e42a24" stroke-width="1.8"/>
<rect x="675.2" y="676.9" width="7.2" height="7.2" fill="#e42a24"/>
<line x1="705.2" y1="701.7" x2="705.2" y2="695.8" stroke="#e42a24" stroke-width="1.8"/>
<line x1="701.2" y1="695.8" x2="709.2" y2="695.8" stroke="#e42a24" stroke-width="1.8"/>
<line x1="701.2" y1="701.7" x2="709.2" y2="701.7" stroke="#e42a24" stroke-width="1.8"/>
<rect x="701.6" y="695.1" width="7.2" height="7.2" fill="#e42a24"/>
<line x1="731.6" y1="707.5" x2="731.6" y2="704.6" stroke="#e42a24" stroke-width="1.8"/>
<line x1="727.6" y1="704.6" x2="735.6" y2="704.6" stroke="#e42a24" stroke-width="1.8"/>
<line x1="727.6" y1="707.5" x2="735.6" y2="707.5" stroke="#e42a24" stroke-width="1.8"/>
<rect x="728" y="702.4" width="7.2" height="7.2" fill="#e42a24"/>
<line x1="758" y1="710.4" x2="758" y2="709" stroke="#e42a24" stroke-width="1.8"/>
<line x1="754" y1="709" x2="762" y2="709" stroke="#e42a24" stroke-width="1.8"/>
<line x1="754" y1="710.4" x2="762" y2="710.4" stroke="#e42a24" stroke-width="1.8"/>
<rect x="754.4" y="706.1" width="7.2" height="7.2" fill="#e42a24"/>
<line x1="784.2" y1="713.3" x2="784.2" y2="711.9" stroke="#e42a24" stroke-width="1.8"/>
<line x1="780.2" y1="711.9" x2="788.2" y2="711.9" stroke="#e42a24" stroke-width="1.8"/>
<line x1="780.2" y1="713.3" x2="788.2" y2="713.3" stroke="#e42a24" stroke-width="1.8"/>
<rect x="780.6" y="709" width="7.2" height="7.2" fill="#e42a24"/>
<line x1="810.6" y1="711.9" x2="810.6" y2="710.4" stroke="#e42a24" stroke-width="1.8"/>
<line x1="806.6" y1="710.4" x2="814.6" y2="710.4" stroke="#e42a24" stroke-width="1.8"/>
<line x1="806.6" y1="711.9" x2="814.6" y2="711.9" stroke="#e42a24" stroke-width="1.8"/>
<rect x="807" y="707.5" width="7.2" height="7.2" fill="#e42a24"/>
<line x1="836.8" y1="711.1" x2="836.8" y2="709.7" stroke="#e42a24" stroke-width="1.8"/>
<line x1="832.8" y1="709.7" x2="840.8" y2="709.7" stroke="#e42a24" stroke-width="1.8"/>
<line x1="832.8" y1="711.1" x2="840.8" y2="711.1" stroke="#e42a24" stroke-width="1.8"/>
<rect x="833.2" y="706.8" width="7.2" height="7.2" fill="#e42a24"/>
<line x1="863.2" y1="709.7" x2="863.2" y2="708.2" stroke="#e42a24" stroke-width="1.8"/>
<line x1="859.2" y1="708.2" x2="867.2" y2="708.2" stroke="#e42a24" stroke-width="1.8"/>
<line x1="859.2" y1="709.7" x2="867.2" y2="709.7" stroke="#e42a24" stroke-width="1.8"/>
<rect x="859.6" y="705.4" width="7.2" height="7.2" fill="#e42a24"/>
<line x1="889.6" y1="711.1" x2="889.6" y2="709.7" stroke="#e42a24" stroke-width="1.8"/>
<line x1="885.6" y1="709.7" x2="893.6" y2="709.7" stroke="#e42a24" stroke-width="1.8"/>
<line x1="885.6" y1="711.1" x2="893.6" y2="711.1" stroke="#e42a24" stroke-width="1.8"/>
<rect x="886" y="706.8" width="7.2" height="7.2" fill="#e42a24"/>
<text x="683.3" y="675.2" font-size="15.5" text-anchor="middle" font-weight="bold">***</text>
<text x="706.5" y="694.4" font-size="15.5" text-anchor="middle" font-weight="bold">**</text>
<text x="733.1" y="704.4" font-size="15.5" text-anchor="middle" font-weight="bold">**</text>
<text x="758.8" y="707.6" font-size="15.5" text-anchor="middle" font-weight="bold">***</text>
<text x="785.2" y="711.9" font-size="15.5" text-anchor="middle" font-weight="bold">***</text>
<text x="810.8" y="709.4" font-size="15.5" text-anchor="middle" font-weight="bold">***</text>
<text x="837.2" y="708.1" font-size="15.5" text-anchor="middle" font-weight="bold">**</text>
<text x="865.1" y="707.6" font-size="15.5" text-anchor="middle" font-weight="bold">***</text>
<text x="890.5" y="708.6" font-size="15.5" text-anchor="middle" font-weight="bold">***</text>
<line x1="781.7" y1="595.7" x2="801.6" y2="595.7" stroke="#3a50b4" stroke-width="2.2"/>
<circle cx="791.7" cy="595.7" r="3.6" fill="#3a50b4"/>
<line x1="781.7" y1="615.6" x2="801.6" y2="615.6" stroke="#e42a24" stroke-width="2.2"/>
<rect x="788.1" y="612" width="7.2" height="7.2" fill="#e42a24"/>
<text x="808.6" y="600.4" font-size="19.5">MiHA-Vec</text>
<text x="808.6" y="621" font-size="19.5">MiHA-PGC7</text>
<line x1="1066.3" y1="594.9" x2="1066.3" y2="772.5" stroke="#111" stroke-width="1.8"/>
<line x1="1065.3" y1="771.7" x2="1294.6" y2="771.7" stroke="#111" stroke-width="1.8"/>
<line x1="1060.3" y1="771.7" x2="1066.3" y2="771.7" stroke="#111" stroke-width="1.6"/>
<text x="1059.8" y="777.5" font-size="16" text-anchor="end">0.0</text>
<line x1="1060.3" y1="742.4" x2="1066.3" y2="742.4" stroke="#111" stroke-width="1.6"/>
<text x="1059.8" y="748.1" font-size="16" text-anchor="end">0.2</text>
<line x1="1060.3" y1="713" x2="1066.3" y2="713" stroke="#111" stroke-width="1.6"/>
<text x="1059.8" y="718.8" font-size="16" text-anchor="end">0.4</text>
<line x1="1060.3" y1="683.7" x2="1066.3" y2="683.7" stroke="#111" stroke-width="1.6"/>
<text x="1059.8" y="689.5" font-size="16" text-anchor="end">0.6</text>
<line x1="1060.3" y1="654.4" x2="1066.3" y2="654.4" stroke="#111" stroke-width="1.6"/>
<text x="1059.8" y="660.1" font-size="16" text-anchor="end">0.8</text>
<line x1="1060.3" y1="625" x2="1066.3" y2="625" stroke="#111" stroke-width="1.6"/>
<text x="1059.8" y="630.8" font-size="16" text-anchor="end">1.0</text>
<line x1="1060.3" y1="595.7" x2="1066.3" y2="595.7" stroke="#111" stroke-width="1.6"/>
<text x="1059.8" y="601.5" font-size="16" text-anchor="end">1.2</text>
<line x1="1082.2" y1="771.7" x2="1082.2" y2="776.7" stroke="#111" stroke-width="1.5"/>
<text x="1082.2" y="794.2" font-size="15.5" text-anchor="middle">0</text>
<line x1="1114.6" y1="771.7" x2="1114.6" y2="776.7" stroke="#111" stroke-width="1.5"/>
<text x="1114.6" y="794.2" font-size="15.5" text-anchor="middle">4</text>
<line x1="1147.4" y1="771.7" x2="1147.4" y2="776.7" stroke="#111" stroke-width="1.5"/>
<text x="1147.4" y="794.2" font-size="15.5" text-anchor="middle">8</text>
<line x1="1180" y1="771.7" x2="1180" y2="776.7" stroke="#111" stroke-width="1.5"/>
<text x="1180" y="794.2" font-size="15.5" text-anchor="middle">32</text>
<line x1="1212.5" y1="771.7" x2="1212.5" y2="776.7" stroke="#111" stroke-width="1.5"/>
<text x="1212.5" y="794.2" font-size="15.5" text-anchor="middle">64</text>
<line x1="1245.3" y1="771.7" x2="1245.3" y2="776.7" stroke="#111" stroke-width="1.5"/>
<text x="1245.3" y="794.2" font-size="15.5" text-anchor="middle">128</text>
<line x1="1277.7" y1="771.7" x2="1277.7" y2="776.7" stroke="#111" stroke-width="1.5"/>
<text x="1277.7" y="794.2" font-size="15.5" text-anchor="middle">256</text>
<text x="1193" y="812.8" font-size="23.5" text-anchor="middle">SR treatment (uM)</text>
<text x="1023" y="681" font-size="21.5" text-anchor="middle" transform="rotate(-90 1023 681)" dominant-baseline="central">Relative cell viability</text>
<path d="M1082.2 625 L1114.6 655.8 L1147.4 669 L1180 690.3 L1212.5 699.8 L1245.3 703.5 L1277.7 707.9" fill="none" stroke="#2244a6" stroke-width="2.2"/>
<line x1="1082.2" y1="629.4" x2="1082.2" y2="620.6" stroke="#2244a6" stroke-width="1.8"/>
<line x1="1078.2" y1="620.6" x2="1086.2" y2="620.6" stroke="#2244a6" stroke-width="1.8"/>
<line x1="1078.2" y1="629.4" x2="1086.2" y2="629.4" stroke="#2244a6" stroke-width="1.8"/>
<circle cx="1082.2" cy="625" r="3.6" fill="#2244a6"/>
<line x1="1114.6" y1="659.5" x2="1114.6" y2="652.2" stroke="#2244a6" stroke-width="1.8"/>
<line x1="1110.6" y1="652.2" x2="1118.6" y2="652.2" stroke="#2244a6" stroke-width="1.8"/>
<line x1="1110.6" y1="659.5" x2="1118.6" y2="659.5" stroke="#2244a6" stroke-width="1.8"/>
<circle cx="1114.6" cy="655.8" r="3.6" fill="#2244a6"/>
<line x1="1147.4" y1="672" x2="1147.4" y2="666.1" stroke="#2244a6" stroke-width="1.8"/>
<line x1="1143.4" y1="666.1" x2="1151.4" y2="666.1" stroke="#2244a6" stroke-width="1.8"/>
<line x1="1143.4" y1="672" x2="1151.4" y2="672" stroke="#2244a6" stroke-width="1.8"/>
<circle cx="1147.4" cy="669" r="3.6" fill="#2244a6"/>
<circle cx="1180" cy="690.3" r="3.6" fill="#2244a6"/>
<circle cx="1212.5" cy="699.8" r="3.6" fill="#2244a6"/>
<circle cx="1245.3" cy="703.5" r="3.6" fill="#2244a6"/>
<circle cx="1277.7" cy="707.9" r="3.6" fill="#2244a6"/>
<path d="M1082.2 625 L1114.6 647.8 L1147.4 652.2 L1180 663.9 L1212.5 678.6 L1245.3 683.7 L1277.7 688.1" fill="none" stroke="#e42a24" stroke-width="2.2"/>
<line x1="1082.2" y1="628" x2="1082.2" y2="622.1" stroke="#e42a24" stroke-width="1.8"/>
<line x1="1078.2" y1="622.1" x2="1086.2" y2="622.1" stroke="#e42a24" stroke-width="1.8"/>
<line x1="1078.2" y1="628" x2="1086.2" y2="628" stroke="#e42a24" stroke-width="1.8"/>
<rect x="1078.6" y="621.4" width="7.2" height="7.2" fill="#e42a24"/>
<line x1="1114.6" y1="650.7" x2="1114.6" y2="644.8" stroke="#e42a24" stroke-width="1.8"/>
<line x1="1110.6" y1="644.8" x2="1118.6" y2="644.8" stroke="#e42a24" stroke-width="1.8"/>
<line x1="1110.6" y1="650.7" x2="1118.6" y2="650.7" stroke="#e42a24" stroke-width="1.8"/>
<rect x="1111" y="644.2" width="7.2" height="7.2" fill="#e42a24"/>
<line x1="1147.4" y1="653.6" x2="1147.4" y2="650.7" stroke="#e42a24" stroke-width="1.8"/>
<line x1="1143.4" y1="650.7" x2="1151.4" y2="650.7" stroke="#e42a24" stroke-width="1.8"/>
<line x1="1143.4" y1="653.6" x2="1151.4" y2="653.6" stroke="#e42a24" stroke-width="1.8"/>
<rect x="1143.8" y="648.6" width="7.2" height="7.2" fill="#e42a24"/>
<line x1="1180" y1="666.8" x2="1180" y2="661" stroke="#e42a24" stroke-width="1.8"/>
<line x1="1176" y1="661" x2="1184" y2="661" stroke="#e42a24" stroke-width="1.8"/>
<line x1="1176" y1="666.8" x2="1184" y2="666.8" stroke="#e42a24" stroke-width="1.8"/>
<rect x="1176.4" y="660.3" width="7.2" height="7.2" fill="#e42a24"/>
<line x1="1212.5" y1="680" x2="1212.5" y2="677.1" stroke="#e42a24" stroke-width="1.8"/>
<line x1="1208.5" y1="677.1" x2="1216.5" y2="677.1" stroke="#e42a24" stroke-width="1.8"/>
<line x1="1208.5" y1="680" x2="1216.5" y2="680" stroke="#e42a24" stroke-width="1.8"/>
<rect x="1208.9" y="675" width="7.2" height="7.2" fill="#e42a24"/>
<line x1="1245.3" y1="685.2" x2="1245.3" y2="682.2" stroke="#e42a24" stroke-width="1.8"/>
<line x1="1241.3" y1="682.2" x2="1249.3" y2="682.2" stroke="#e42a24" stroke-width="1.8"/>
<line x1="1241.3" y1="685.2" x2="1249.3" y2="685.2" stroke="#e42a24" stroke-width="1.8"/>
<rect x="1241.7" y="680.1" width="7.2" height="7.2" fill="#e42a24"/>
<line x1="1277.7" y1="689.6" x2="1277.7" y2="686.6" stroke="#e42a24" stroke-width="1.8"/>
<line x1="1273.7" y1="686.6" x2="1281.7" y2="686.6" stroke="#e42a24" stroke-width="1.8"/>
<line x1="1273.7" y1="689.6" x2="1281.7" y2="689.6" stroke="#e42a24" stroke-width="1.8"/>
<rect x="1274.1" y="684.5" width="7.2" height="7.2" fill="#e42a24"/>
<text x="1148.2" y="651.6" font-size="15.5" text-anchor="middle" font-weight="bold">**</text>
<text x="1179.8" y="660.8" font-size="15.5" text-anchor="middle" font-weight="bold">**</text>
<text x="1213.5" y="677.7" font-size="15.5" text-anchor="middle" font-weight="bold">**</text>
<text x="1246" y="682.7" font-size="15.5" text-anchor="middle" font-weight="bold">**</text>
<text x="1279" y="686.2" font-size="15.5" text-anchor="middle" font-weight="bold">***</text>
<line x1="1185.6" y1="594.4" x2="1205.5" y2="594.4" stroke="#2244a6" stroke-width="2.2"/>
<circle cx="1195.5" cy="594.4" r="3.6" fill="#2244a6"/>
<line x1="1185.6" y1="614.8" x2="1205.5" y2="614.8" stroke="#e42a24" stroke-width="2.2"/>
<rect x="1192" y="611.2" width="7.2" height="7.2" fill="#e42a24"/>
<text x="1215.4" y="598.6" font-size="19.5">MiHA-Vec</text>
<text x="1215.4" y="619.3" font-size="19.5">MiHA-PGC7</text>
<text x="2.7" y="890.8" font-size="45.5" fill="#13202c">d</text>
<text x="203.7" y="925.3" font-size="22.5" text-anchor="middle">Cisplatin</text>
<text x="376.4" y="925.3" font-size="22.5" text-anchor="middle">Sorafenib</text>
<text x="538.6" y="923.4" font-size="22.5" text-anchor="middle">5-FU</text>
<text x="751.6" y="927" font-size="22.5" text-anchor="middle">Cisplatin</text>
<text x="920.2" y="927" font-size="22.5" text-anchor="middle">Sorafenib</text>
<text x="1085.5" y="921.8" font-size="22.5" text-anchor="middle">5-FU</text>
<text x="105.5" y="1012" font-size="22.5" text-anchor="middle" transform="rotate(-90 105.5 1012)">MiHA-Vec</text>
<text x="105.8" y="1176.6" font-size="22.5" text-anchor="middle" transform="rotate(-90 105.8 1176.6)">MiHA-DA3</text>
<text x="654" y="1007" font-size="22.5" text-anchor="middle" transform="rotate(-90 654 1007)">97H-Vec</text>
<text x="654" y="1183" font-size="22.5" text-anchor="middle" transform="rotate(-90 654 1183)">97H-DA3</text>
<line x1="81.5" y1="1270.6" x2="81.5" y2="1134" stroke="#333" stroke-width="1.3"/>
<path d="M81.5 1127 L78 1137 L85 1137 Z" fill="#333"/>
<line x1="81.5" y1="1270.6" x2="265" y2="1270.6" stroke="#333" stroke-width="1.3"/>
<path d="M272 1270.6 L262 1267 L262 1274.2 Z" fill="#333"/>
<text x="73" y="1194.7" font-size="24" text-anchor="middle" transform="rotate(-90 73 1194.7)">PI</text>
<text x="169" y="1294" font-size="22.5" text-anchor="middle">Annexin V</text>
<path transform="translate(131.7 933.1) scale(1)" d="M64 44h0m9 3h0m9 1h0m-40 4h0m25 1h0m2 0h0m1 0h0m7 0h0m5 0h0m-27 1h0m5 0h0m5 0h0m3 0h0m11 0h0m-23 1h0m4 0h0m24 0h0m6 0h0m-56 1h0m5 0h0m8 0h0m4 0h0m5 0h0m3 0h0m4 0h0m3 0h0m10 0h0m6 0h0m2 0h0m1 0h0m4 0h0m-51 1h0m1 0h0m3 0h0m1 0h0m5 0h0m4 0h0m1 0h0m1 0h0m1 0h0m3 0h0m9 0h0m3 0h0m1 0h0m3 0h0m1 0h0m4 0h0m2 0h0m3 0h0m2 0h0m3 0h0m1 0h0m-48 1h0m2 0h0m1 0h0m4 0h0m4 0h0m2 0h0m5 0h0m5 0h0m2 0h0m3 0h0m1 0h0m2 0h0m1 0h0m1 0h0m2 0h0m1 0h0m2 0h0m2 0h0m3 0h0m1 0h0m2 0h0m1 0h0m-55 1h0m7 0h0m2 0h0m2 0h0m9 0h0m1 0h0m5 0h0m2 0h0m5 0h0m4 0h0m3 0h0m1 0h0m5 0h0m1 0h0m10 0h0m1 0h0m-50 1h0m3 0h0m7 0h0m2 0h0m10 0h0m4 0h0m2 0h0m3 0h0m3 0h0m1 0h0m4 0h0m6 0h0m3 0h0m-54 1h0m4 0h0m5 0h0m2 0h0m4 0h0m10 0h0m4 0h0m2 0h0m1 0h0m4 0h0m1 0h0m3 0h0m1 0h0m1 0h0m2 0h0m1 0h0m1 0h0m3 0h0m4 0h0m-43 1h0m1 0h0m2 0h0m2 0h0m1 0h0m3 0h0m2 0h0m4 0h0m1 0h0m2 0h0m5 0h0m1 0h0m3 0h0m9 0h0m2 0h0m8 0h0m-57 1h0m2 0h0m9 0h0m5 0h0m1 0h0m4 0h0m5 0h0m1 0h0m2 0h0m2 0h0m1 0h0m2 0h0m2 0h0m2 0h0m1 0h0m2 0h0m5 0h0m1 0h0m3 0h0m6 0h0m-52 1h0m2 0h0m2 0h0m2 0h0m1 0h0m7 0h0m2 0h0m1 0h0m1 0h0m4 0h0m2 0h0m1 0h0m1 0h0m2 0h0m1 0h0m1 0h0m1 0h0m1 0h0m3 0h0m3 0h0m1 0h0m6 0h0m2 0h0m4 0h0m-53 1h0m2 0h0m1 0h0m2 0h0m4 0h0m2 0h0m8 0h0m2 0h0m1 0h0m1 0h0m3 0h0m1 0h0m2 0h0m1 0h0m5 0h0m5 0h0m5 0h0m1 0h0m3 0h0m5 0h0m-50 1h0m5 0h0m4 0h0m4 0h0m3 0h0m5 0h0m1 0h0m5 0h0m1 0h0m3 0h0m2 0h0m4 0h0m2 0h0m1 0h0m3 0h0m1 0h0m1 0h0m1 0h0m-49 1h0m4 0h0m1 0h0m4 0h0m10 0h0m2 0h0m4 0h0m4 0h0m3 0h0m1 0h0m2 0h0m1 0h0m2 0h0m3 0h0m3 0h0m1 0h0m1 0h0m1 0h0m2 0h0m2 0h0m-52 1h0m3 0h0m3 0h0m2 0h0m4 0h0m1 0h0m1 0h0m5 0h0m2 0h0m1 0h0m4 0h0m3 0h0m1 0h0m2 0h0m1 0h0m2 0h0m3 0h0m1 0h0m3 0h0m2 0h0m4 0h0m1 0h0m3 0h0m1 0h0m-52 1h0m1 0h0m1 0h0m6 0h0m7 0h0m5 0h0m4 0h0m2 0h0m2 0h0m3 0h0m2 0h0m1 0h0m1 0h0m4 0h0m3 0h0m1 0h0m2 0h0m2 0h0m4 0h0m-46 1h0m2 0h0m1 0h0m6 0h0m1 0h0m1 0h0m7 0h0m1 0h0m2 0h0m4 0h0m3 0h0m3 0h0m3 0h0m6 0h0m2 0h0m3 0h0m-47 1h0m4 0h0m4 0h0m2 0h0m7 0h0m2 0h0m2 0h0m2 0h0m1 0h0m1 0h0m2 0h0m1 0h0m2 0h0m3 0h0m3 0h0m1 0h0m8 0h0m2 0h0m-44 1h0m2 0h0m2 0h0m9 0h0m1 0h0m4 0h0m1 0h0m2 0h0m2 0h0m1 0h0m1 0h0m2 0h0m2 0h0m1 0h0m2 0h0m1 0h0m1 0h0m5 0h0m1 0h0m3 0h0m2 0h0m1 0h0m1 0h0m-49 1h0m2 0h0m3 0h0m5 0h0m6 0h0m7 0h0m1 0h0m1 0h0m3 0h0m1 0h0m1 0h0m3 0h0m5 0h0m1 0h0m1 0h0m1 0h0m1 0h0m2 0h0m2 0h0m3 0h0m1 0h0m-54 1h0m3 0h0m10 0h0m6 0h0m1 0h0m2 0h0m4 0h0m2 0h0m2 0h0m1 0h0m2 0h0m1 0h0m2 0h0m1 0h0m2 0h0m1 0h0m1 0h0m1 0h0m1 0h0m2 0h0m3 0h0m2 0h0m-46 1h0m7 0h0m3 0h0m1 0h0m3 0h0m1 0h0m1 0h0m1 0h0m2 0h0m2 0h0m9 0h0m1 0h0m1 0h0m7 0h0m5 0h0m1 0h0m1 0h0m3 0h0m-46 1h0m1 0h0m1 0h0m3 0h0m2 0h0m3 0h0m5 0h0m4 0h0m1 0h0m1 0h0m2 0h0m2 0h0m2 0h0m1 0h0m1 0h0m2 0h0m1 0h0m1 0h0m2 0h0m1 0h0m6 0h0m6 0h0m1 0h0m-51 1h0m2 0h0m1 0h0m2 0h0m3 0h0m2 0h0m6 0h0m8 0h0m3 0h0m4 0h0m1 0h0m1 0h0m1 0h0m1 0h0m1 0h0m1 0h0m1 0h0m4 0h0m2 0h0m-55 1h0m5 0h0m1 0h0m2 0h0m1 0h0m5 0h0m1 0h0m2 0h0m2 0h0m9 0h0m4 0h0m3 0h0m4 0h0m1 0h0m2 0h0m7 0h0m2 0h0m1 0h0m1 0h0m1 0h0m1 0h0m2 0h0m-51 1h0m3 0h0m5 0h0m4 0h0m2 0h0m3 0h0m4 0h0m2 0h0m3 0h0m1 0h0m2 0h0m1 0h0m1 0h0m2 0h0m3 0h0m2 0h0m4 0h0m3 0h0m2 0h0m-46 1h0m3 0h0m6 0h0m1 0h0m1 0h0m2 0h0m9 0h0m2 0h0m1 0h0m3 0h0m2 0h0m2 0h0m1 0h0m1 0h0m4 0h0m3 0h0m10 0h0m-49 1h0m8 0h0m1 0h0m1 0h0m6 0h0m4 0h0m1 0h0m1 0h0m2 0h0m1 0h0m1 0h0m3 0h0m1 0h0m1 0h0m2 0h0m2 0h0m1 0h0m1 0h0m2 0h0m3 0h0m1 0h0m-63 1h0m16 0h0m4 0h0m14 0h0m2 0h0m8 0h0m2 0h0m4 0h0m1 0h0m1 0h0m2 0h0m4 0h0m1 0h0m2 0h0m3 0h0m4 0h0m-49 1h0m4 0h0m18 0h0m7 0h0m4 0h0m2 0h0m6 0h0m3 0h0m2 0h0m-41 1h0m7 0h0m10 0h0m1 0h0m5 0h0m1 0h0m9 0h0m2 0h0m10 0h0m-36 1h0m1 0h0m5 0h0m6 0h0m9 0h0m2 0h0m2 0h0m1 0h0m2 0h0m1 0h0m1 0h0m6 0h0m-52 1h0m2 0h0m12 0h0m7 0h0m7 0h0m9 0h0m2 0h0m1 0h0m1 0h0m3 0h0m1 0h0m-56 1h0m10 0h0m5 0h0m1 0h0m2 0h0m1 0h0m1 0h0m19 0h0m4 0h0m5 0h0m1 0h0m2 0h0m4 0h0m1 0h0m1 0h0m3 0h0m-52 1h0m5 0h0m12 0h0m5 0h0m2 0h0m2 0h0m2 0h0m6 0h0m4 0h0m4 0h0m3 0h0m5 0h0m-49 1h0m7 0h0m4 0h0m4 0h0m3 0h0m4 0h0m13 0h0m3 0h0m1 0h0m2 0h0m4 0h0m1 0h0m2 0h0m4 0h0m-71 1h0m17 0h0m28 0h0m5 0h0m6 0h0m2 0h0m2 0h0m5 0h0m-23 1h0m5 0h0m4 0h0m3 0h0m1 0h0m2 0h0m2 0h0m6 0h0m1 0h0m1 0h0m1 0h0m-37 1h0m5 0h0m2 0h0m7 0h0m3 0h0m2 0h0m4 0h0m5 0h0m9 0h0m2 0h0m-43 1h0m14 0h0m3 0h0m4 0h0m1 0h0m2 0h0m1 0h0m3 0h0m1 0h0m1 0h0m1 0h0m1 0h0m-27 1h0m3 0h0m7 0h0m1 0h0m1 0h0m4 0h0m7 0h0m2 0h0m9 0h0m-50 1h0m11 0h0m1 0h0m4 0h0m3 0h0m3 0h0m3 0h0m1 0h0m8 0h0m2 0h0m1 0h0m1 0h0m10 0h0m7 0h0m-45 1h0m5 0h0m12 0h0m2 0h0m3 0h0m4 0h0m1 0h0m1 0h0m1 0h0m2 0h0m1 0h0m5 0h0m1 0h0m2 0h0m1 0h0m1 0h0m-68 1h0m15 0h0m13 0h0m3 0h0m7 0h0m5 0h0m5 0h0m1 0h0m4 0h0m1 0h0m1 0h0m1 0h0m1 0h0m1 0h0m1 0h0m-45 1h0m10 0h0m24 0h0m1 0h0m14 0h0m2 0h0m1 0h0m2 0h0m1 0h0m-49 1h0m2 0h0m4 0h0m12 0h0m2 0h0m2 0h0m11 0h0m2 0h0m1 0h0m7 0h0m1 0h0m3 0h0m3 0h0m1 0h0m-51 1h0m8 0h0m4 0h0m1 0h0m15 0h0m4 0h0m1 0h0m2 0h0m1 0h0m1 0h0m1 0h0m7 0h0m2 0h0m-53 1h0m19 0h0m1 0h0m11 0h0m1 0h0m4 0h0m1 0h0m3 0h0m10 0h0m1 0h0m1 0h0m-38 1h0m6 0h0m14 0h0m2 0h0m17 0h0m7 0h0m-40 1h0m3 0h0m1 0h0m6 0h0m1 0h0m4 0h0m15 0h0m13 0h0m4 0h0m-57 1h0m6 0h0m1 0h0m1 0h0m2 0h0m29 0h0m1 0h0m1 0h0m1 0h0m-56 1h0m13 0h0m2 0h0m37 0h0m3 0h0m1 0h0m-48 1h0m43 0h0m1 0h0m-50 1h0m1 0h0m47 0h0m1 0h0m-46 1h0m46 0h0m1 0h0m3 0h0m-60 1h0m8 0h0m1 0h0m43 0h0m1 0h0m3 0h0m5 0h0m-73 1h0m20 0h0m39 0h0m2 0h0m5 0h0m-54 1h0m6 0h0m3 0h0m1 0h0m39 0h0m13 0h0m-53 1h0m34 0h0m5 0h0m14 0h0m-59 1h0m4 0h0m32 0h0m2 0h0m5 0h0m2 0h0m5 0h0m4 0h0m-62 1h0m11 0h0m31 0h0m14 0h0m-14 1h0m-28 1h0m5 0h0m9 0h0m-7 1h0m4 0h0m8 0h0m19 0h0m-42 1h0m31 0h0m14 0h0m-3 6h0" stroke="#3048b0" stroke-width="1.1" stroke-linecap="round" fill="none"/>
<path transform="translate(131.7 933.1) scale(1)" d="M80 89h0m1 0h0m-1 1h0m2 0h0m-5 1h0m1 0h0m1 0h0m1 0h0m1 0h0m-4 1h0m1 0h0m3 0h0m-6 1h0m1 0h0m1 0h0m2 0h0m1 0h0m1 0h0m-5 1h0m1 0h0m2 0h0m1 0h0m-3 1h0m1 0h0m3 0h0m-5 1h0m2 0h0m1 0h0m-2 1h0m1 0h0m-1 1h0m1 0h0m1 0h0m1 0h0m-3 1h0m1 0h0m1 0h0m-2 1h0m1 0h0m1 0h0m1 0h0m-6 1h0m2 0h0m2 0h0m-11 1h0m2 0h0m2 0h0m1 0h0m1 0h0m1 0h0m2 0h0m1 0h0m1 0h0m1 0h0m-26 1h0m1 0h0m2 0h0m1 0h0m1 0h0m3 0h0m1 0h0m2 0h0m2 0h0m2 0h0m1 0h0m2 0h0m1 0h0m1 0h0m2 0h0m1 0h0m1 0h0m1 0h0m1 0h0m1 0h0m-29 1h0m2 0h0m2 0h0m2 0h0m3 0h0m1 0h0m1 0h0m2 0h0m1 0h0m1 0h0m1 0h0m1 0h0m1 0h0m1 0h0m1 0h0m1 0h0m1 0h0m1 0h0m1 0h0m1 0h0m1 0h0m-32 1h0m3 0h0m1 0h0m1 0h0m2 0h0m1 0h0m1 0h0m1 0h0m2 0h0m1 0h0m1 0h0m2 0h0m1 0h0m3 0h0m3 0h0m1 0h0m2 0h0m1 0h0m2 0h0m3 0h0m1 0h0m-35 1h0m1 0h0m4 0h0m3 0h0m2 0h0m1 0h0m4 0h0m6 0h0m2 0h0m1 0h0m1 0h0m1 0h0m1 0h0m1 0h0m1 0h0m1 0h0m1 0h0m1 0h0m1 0h0m1 0h0m-44 1h0m2 0h0m8 0h0m1 0h0m22 0h0m1 0h0m1 0h0m1 0h0m1 0h0m1 0h0m1 0h0m2 0h0m1 0h0m1 0h0m1 0h0m-45 1h0m35 0h0m1 0h0m1 0h0m2 0h0m3 0h0m2 0h0m-43 1h0m1 0h0m33 0h0m1 0h0m1 0h0m1 0h0m2 0h0m-8 1h0m1 0h0m1 0h0m1 0h0m1 0h0m1 0h0m-38 1h0m2 0h0m31 0h0m1 0h0m1 0h0m2 0h0m-35 1h0m26 0h0m1 0h0m1 0h0m2 0h0m2 0h0m-32 1h0m1 0h0m19 0h0m1 0h0m2 0h0m1 0h0m1 0h0m1 0h0m1 0h0m2 0h0m-28 1h0m1 0h0m11 0h0m4 0h0m1 0h0m1 0h0m2 0h0m4 0h0m-23 1h0m11 0h0m3 0h0m3 0h0m2 0h0m-20 1h0m1 0h0m2 0h0m1 0h0m7 0h0m-8 1h0" stroke="#2c64c4" stroke-width="1.1" stroke-linecap="round" fill="none"/>
<path transform="translate(131.7 933.1) scale(1)" d="M55 105h0m2 0h0m3 0h0m2 0h0m1 0h0m-14 1h0m2 0h0m1 0h0m2 0h0m1 0h0m1 0h0m1 0h0m2 0h0m1 0h0m2 0h0m1 0h0m1 0h0m-29 1h0m1 0h0m3 0h0m1 0h0m1 0h0m2 0h0m1 0h0m2 0h0m2 0h0m1 0h0m1 0h0m1 0h0m1 0h0m1 0h0m1 0h0m1 0h0m1 0h0m1 0h0m2 0h0m1 0h0m1 0h0m1 0h0m1 0h0m1 0h0m1 0h0m-28 1h0m10 0h0m1 0h0m1 0h0m1 0h0m3 0h0m3 0h0m1 0h0m1 0h0m4 0h0m1 0h0m1 0h0m2 0h0m-31 1h0m23 0h0m1 0h0m1 0h0m1 0h0m1 0h0m1 0h0m1 0h0m1 0h0m1 0h0m-32 1h0m23 0h0m1 0h0m1 0h0m1 0h0m1 0h0m1 0h0m1 0h0m1 0h0m-30 1h0m21 0h0m1 0h0m2 0h0m1 0h0m1 0h0m1 0h0m1 0h0m-29 1h0m1 0h0m14 0h0m1 0h0m4 0h0m1 0h0m1 0h0m1 0h0m2 0h0m1 0h0m-14 1h0m2 0h0m1 0h0m1 0h0m2 0h0m1 0h0m1 0h0m1 0h0m1 0h0m1 0h0m1 0h0m-22 1h0m1 0h0m12 0h0m-7 1h0m1 0h0m-4 1h0m1 0h0" stroke="#28a4cc" stroke-width="1.1" stroke-linecap="round" fill="none"/>
<path transform="translate(131.7 933.1) scale(1)" d="M38 107h0m3 0h0m14 0h0m-17 1h0m1 0h0m1 0h0m4 0h0m1 0h0m1 0h0m1 0h0m1 0h0m1 0h0m1 0h0m1 0h0m2 0h0m1 0h0m1 0h0m1 0h0m2 0h0m1 0h0m1 0h0m-25 1h0m1 0h0m8 0h0m2 0h0m1 0h0m1 0h0m1 0h0m1 0h0m1 0h0m1 0h0m1 0h0m1 0h0m1 0h0m1 0h0m1 0h0m1 0h0m1 0h0m1 0h0m1 0h0m1 0h0m-28 1h0m1 0h0m12 0h0m1 0h0m1 0h0m1 0h0m1 0h0m1 0h0m1 0h0m1 0h0m1 0h0m1 0h0m-22 1h0m1 0h0m11 0h0m1 0h0m1 0h0m1 0h0m1 0h0m1 0h0m1 0h0m1 0h0m1 0h0m1 0h0m-21 1h0m1 0h0m10 0h0m1 0h0m1 0h0m1 0h0m2 0h0m1 0h0m1 0h0m1 0h0m1 0h0m1 0h0m-12 1h0m2 0h0m2 0h0m-12 1h0m3 0h0m1 0h0m1 0h0m2 0h0m-5 1h0m1 0h0m1 0h0m1 0h0m1 0h0" stroke="#30bc8c" stroke-width="1.1" stroke-linecap="round" fill="none"/>
<path transform="translate(131.7 933.1) scale(1)" d="M36 108h0m6 0h0m1 0h0m-7 1h0m1 0h0m4 0h0m1 0h0m1 0h0m1 0h0m1 0h0m1 0h0m-11 1h0m1 0h0m7 0h0m1 0h0m1 0h0m1 0h0m-11 1h0m1 0h0m8 0h0m1 0h0m1 0h0m1 0h0m-12 1h0m1 0h0m7 0h0m-8 1h0m2 0h0m1 0h0m4 0h0m1 0h0m1 0h0m-6 1h0" stroke="#70cc40" stroke-width="1.1" stroke-linecap="round" fill="none"/>
<path transform="translate(131.7 933.1) scale(1)" d="M38 108h0m1 0h0m1 0h0m1 0h0m-5 1h0m1 0h0m2 0h0m1 0h0m2 0h0m-6 1h0m1 0h0m4 0h0m1 0h0m1 0h0m1 0h0m-8 1h0m1 0h0m5 0h0m1 0h0m-7 1h0m1 0h0m5 0h0m1 0h0m1 0h0m-8 1h0m2 0h0m1 0h0m2 0h0m1 0h0m1 0h0m-5 1h0m2 0h0m1 0h0" stroke="#d0dc20" stroke-width="1.1" stroke-linecap="round" fill="none"/>
<path transform="translate(131.7 933.1) scale(1)" d="M37 109h0m1 0h0m1 0h0m1 0h0m1 0h0m-4 1h0m1 0h0m1 0h0m1 0h0m1 0h0m1 0h0m-1 1h0m1 0h0m-5 1h0m1 0h0m1 0h0m1 0h0m1 0h0m-4 1h0m1 0h0m1 0h0m1 0h0m1 0h0" stroke="#f8a010" stroke-width="1.1" stroke-linecap="round" fill="none"/>
<path transform="translate(131.7 933.1) scale(1)" d="M38 110h0m1 0h0m1 0h0m1 0h0m-4 1h0m1 0h0m1 0h0m1 0h0m1 0h0m-4 1h0m1 0h0m1 0h0m1 0h0m1 0h0" stroke="#f02010" stroke-width="1.1" stroke-linecap="round" fill="none"/>
<line x1="189" y1="933.1" x2="189" y2="1078.2" stroke="#2a2a2a" stroke-width="1.4"/>
<line x1="131.7" y1="1019.6" x2="276.2" y2="1019.6" stroke="#2a2a2a" stroke-width="1.4"/>
<rect x="131.7" y="933.1" width="144.5" height="145.1" fill="none" stroke="#333" stroke-width="1.1"/>
<text x="135.7" y="956.1" font-size="15.5" fill="#231f20">1.84</text>
<text x="272.2" y="956.1" font-size="15.5" text-anchor="end" fill="#231f20">11.8</text>
<text x="134.7" y="1064.5" font-size="15.5" fill="#231f20">52.3</text>
<text x="272.2" y="1064.5" font-size="15.5" text-anchor="end" fill="#231f20">34.0</text>
<path d="M127.7 947.1h4M127.7 980.6h4M127.7 1020.2h4M127.7 1046.2h4M127.7 1071.2h4M129.7 970.5h2M129.7 964.6h2M129.7 960.4h2M129.7 957.2h2M129.7 954.5h2M129.7 952.3h2M129.7 950.4h2M129.7 948.6h2M129.7 1008.3h2M129.7 1001.3h2M129.7 996.4h2M129.7 992.5h2M129.7 989.4h2M129.7 986.8h2M129.7 984.5h2M129.7 982.4h2M129.7 1024.5h2M129.7 1050.3h2M129.7 1028.8h2M129.7 1054.5h2M129.7 1033.2h2M129.7 1058.7h2M129.7 1037.5h2M129.7 1062.9h2M129.7 1041.8h2M129.7 1067h2" fill="none" stroke="#444" stroke-width="0.9"/>
<rect x="127.7" y="1043.2" width="3" height="6" fill="#222"/>
<text x="128.7" y="951.1" font-size="11" text-anchor="end" fill="#333">10<tspan font-size="6.8" dy="-4.6">5</tspan></text>
<text x="128.7" y="984.6" font-size="11" text-anchor="end" fill="#333">10<tspan font-size="6.8" dy="-4.6">4</tspan></text>
<text x="128.7" y="1024.2" font-size="11" text-anchor="end" fill="#333">10<tspan font-size="6.8" dy="-4.6">3</tspan></text>
<text x="126.7" y="1050.2" font-size="11" text-anchor="end" fill="#333">0</text>
<text x="128.7" y="1075.2" font-size="11" text-anchor="end" fill="#333">-10<tspan font-size="6.8" dy="-4.6">3</tspan></text>
<path d="M139.6 1078.2v4M164.4 1078.2v4M192.6 1078.2v4M230.2 1078.2v4M263.3 1078.2v4M203.9 1078.2v2M210.5 1078.2v2M215.2 1078.2v2M218.9 1078.2v2M221.8 1078.2v2M224.4 1078.2v2M226.5 1078.2v2M228.5 1078.2v2M240.2 1078.2v2M246 1078.2v2M250.1 1078.2v2M253.4 1078.2v2M256 1078.2v2M258.2 1078.2v2M260.1 1078.2v2M261.8 1078.2v2M143.7 1078.2v2M169.1 1078.2v2M147.9 1078.2v2M173.8 1078.2v2M152 1078.2v2M178.5 1078.2v2M156.1 1078.2v2M183.2 1078.2v2M160.2 1078.2v2M187.9 1078.2v2" fill="none" stroke="#444" stroke-width="0.9"/>
<rect x="158.4" y="1079.2" width="7" height="3" fill="#222"/>
<path transform="translate(296.5 934.4) scale(1)" d="M72 43h0m1 1h0m-7 1h0m7 0h0m1 0h0m-20 1h0m14 0h0m6 0h0m6 0h0m-23 1h0m4 0h0m2 0h0m5 0h0m8 0h0m5 0h0m1 0h0m-35 1h0m2 0h0m8 0h0m2 0h0m11 0h0m1 0h0m1 0h0m1 0h0m3 0h0m-24 1h0m3 0h0m3 0h0m1 0h0m3 0h0m1 0h0m3 0h0m1 0h0m2 0h0m9 0h0m2 0h0m-39 1h0m11 0h0m3 0h0m2 0h0m2 0h0m4 0h0m1 0h0m1 0h0m4 0h0m1 0h0m4 0h0m1 0h0m2 0h0m1 0h0m1 0h0m1 0h0m3 0h0m-43 1h0m6 0h0m12 0h0m1 0h0m6 0h0m4 0h0m3 0h0m2 0h0m4 0h0m2 0h0m-34 1h0m5 0h0m3 0h0m2 0h0m1 0h0m2 0h0m1 0h0m5 0h0m1 0h0m2 0h0m4 0h0m1 0h0m1 0h0m1 0h0m2 0h0m3 0h0m1 0h0m-46 1h0m5 0h0m4 0h0m2 0h0m2 0h0m2 0h0m4 0h0m4 0h0m3 0h0m1 0h0m2 0h0m1 0h0m2 0h0m1 0h0m1 0h0m3 0h0m3 0h0m-39 1h0m8 0h0m2 0h0m2 0h0m3 0h0m2 0h0m2 0h0m1 0h0m1 0h0m2 0h0m3 0h0m1 0h0m1 0h0m1 0h0m1 0h0m1 0h0m2 0h0m4 0h0m1 0h0m3 0h0m2 0h0m2 0h0m1 0h0m-49 1h0m2 0h0m2 0h0m1 0h0m2 0h0m4 0h0m1 0h0m1 0h0m1 0h0m1 0h0m1 0h0m1 0h0m1 0h0m1 0h0m2 0h0m1 0h0m3 0h0m2 0h0m2 0h0m2 0h0m1 0h0m2 0h0m6 0h0m4 0h0m-44 1h0m2 0h0m4 0h0m1 0h0m4 0h0m1 0h0m2 0h0m1 0h0m1 0h0m6 0h0m2 0h0m1 0h0m1 0h0m2 0h0m1 0h0m6 0h0m2 0h0m2 0h0m1 0h0m2 0h0m1 0h0m1 0h0m-44 1h0m1 0h0m1 0h0m1 0h0m2 0h0m3 0h0m2 0h0m2 0h0m1 0h0m3 0h0m5 0h0m5 0h0m2 0h0m7 0h0m1 0h0m5 0h0m1 0h0m5 0h0m-49 1h0m4 0h0m1 0h0m1 0h0m1 0h0m1 0h0m1 0h0m1 0h0m1 0h0m1 0h0m1 0h0m2 0h0m1 0h0m8 0h0m3 0h0m1 0h0m3 0h0m6 0h0m1 0h0m4 0h0m1 0h0m2 0h0m2 0h0m1 0h0m3 0h0m-46 1h0m2 0h0m1 0h0m2 0h0m3 0h0m2 0h0m3 0h0m11 0h0m3 0h0m1 0h0m2 0h0m1 0h0m1 0h0m2 0h0m2 0h0m1 0h0m3 0h0m3 0h0m3 0h0m1 0h0m-51 1h0m2 0h0m1 0h0m3 0h0m2 0h0m7 0h0m1 0h0m1 0h0m1 0h0m7 0h0m2 0h0m12 0h0m1 0h0m1 0h0m1 0h0m3 0h0m2 0h0m2 0h0m1 0h0m1 0h0m-50 1h0m6 0h0m11 0h0m1 0h0m15 0h0m3 0h0m1 0h0m1 0h0m1 0h0m3 0h0m1 0h0m2 0h0m6 0h0m-49 1h0m3 0h0m10 0h0m2 0h0m18 0h0m2 0h0m4 0h0m2 0h0m3 0h0m1 0h0m5 0h0m-56 1h0m2 0h0m2 0h0m4 0h0m31 0h0m2 0h0m1 0h0m1 0h0m1 0h0m1 0h0m1 0h0m3 0h0m1 0h0m1 0h0m2 0h0m2 0h0m-51 1h0m2 0h0m2 0h0m1 0h0m32 0h0m1 0h0m3 0h0m2 0h0m2 0h0m1 0h0m5 0h0m-47 1h0m24 0h0m1 0h0m2 0h0m7 0h0m1 0h0m1 0h0m4 0h0m1 0h0m1 0h0m1 0h0m1 0h0m-45 1h0m2 0h0m24 0h0m1 0h0m1 0h0m6 0h0m1 0h0m5 0h0m7 0h0m-51 1h0m6 0h0m1 0h0m18 0h0m2 0h0m1 0h0m1 0h0m1 0h0m1 0h0m1 0h0m3 0h0m1 0h0m2 0h0m1 0h0m1 0h0m1 0h0m3 0h0m1 0h0m2 0h0m1 0h0m1 0h0m-49 1h0m2 0h0m2 0h0m1 0h0m1 0h0m1 0h0m1 0h0m1 0h0m2 0h0m13 0h0m2 0h0m4 0h0m2 0h0m2 0h0m3 0h0m2 0h0m3 0h0m3 0h0m2 0h0m4 0h0m-50 1h0m3 0h0m4 0h0m1 0h0m1 0h0m1 0h0m9 0h0m1 0h0m1 0h0m1 0h0m1 0h0m1 0h0m8 0h0m1 0h0m1 0h0m1 0h0m1 0h0m2 0h0m1 0h0m1 0h0m2 0h0m-42 1h0m2 0h0m1 0h0m2 0h0m2 0h0m1 0h0m4 0h0m1 0h0m1 0h0m2 0h0m2 0h0m1 0h0m4 0h0m1 0h0m1 0h0m1 0h0m2 0h0m1 0h0m3 0h0m1 0h0m3 0h0m5 0h0m-45 1h0m6 0h0m5 0h0m6 0h0m2 0h0m1 0h0m1 0h0m3 0h0m2 0h0m2 0h0m2 0h0m2 0h0m1 0h0m3 0h0m8 0h0m7 0h0m-51 1h0m9 0h0m1 0h0m1 0h0m4 0h0m1 0h0m2 0h0m5 0h0m1 0h0m4 0h0m4 0h0m1 0h0m1 0h0m2 0h0m1 0h0m6 0h0m7 0h0m-43 1h0m1 0h0m6 0h0m3 0h0m1 0h0m2 0h0m1 0h0m4 0h0m1 0h0m2 0h0m2 0h0m2 0h0m-30 1h0m2 0h0m2 0h0m2 0h0m1 0h0m4 0h0m1 0h0m1 0h0m1 0h0m1 0h0m1 0h0m3 0h0m6 0h0m1 0h0m3 0h0m1 0h0m2 0h0m1 0h0m1 0h0m4 0h0m-36 1h0m3 0h0m7 0h0m2 0h0m1 0h0m1 0h0m1 0h0m3 0h0m1 0h0m6 0h0m4 0h0m8 0h0m-34 1h0m1 0h0m6 0h0m1 0h0m3 0h0m4 0h0m1 0h0m3 0h0m6 0h0m3 0h0m-32 1h0m1 0h0m1 0h0m2 0h0m7 0h0m4 0h0m2 0h0m3 0h0m2 0h0m-20 1h0m2 0h0m1 0h0m1 0h0m1 0h0m2 0h0m1 0h0m9 0h0m8 0h0m-25 1h0m1 0h0m2 0h0m5 0h0m1 0h0m3 0h0m5 0h0m3 0h0m-23 1h0m1 0h0m4 0h0m3 0h0m1 0h0m-11 1h0m1 0h0m2 0h0m1 0h0m1 0h0m3 0h0m7 0h0m-11 1h0m2 0h0m3 0h0m1 0h0m2 0h0m-11 1h0m1 0h0m3 0h0m1 0h0m1 0h0m1 0h0m4 0h0m-10 1h0m5 0h0m2 0h0m2 0h0m2 0h0m-10 1h0m5 0h0m1 0h0m2 0h0m1 0h0m1 0h0m1 0h0m20 0h0m-34 1h0m2 0h0m2 0h0m2 0h0m3 0h0m1 0h0m1 0h0m2 0h0m-9 1h0m4 0h0m1 0h0m1 0h0m1 0h0m2 0h0m4 0h0m15 0h0m-27 1h0m1 0h0m8 0h0m-11 1h0m2 0h0m3 0h0m3 0h0m1 0h0m1 0h0m21 0h0m-35 1h0m8 0h0m1 0h0m2 0h0m2 0h0m3 0h0m1 0h0m14 0h0m10 0h0m-37 1h0m1 0h0m3 0h0m1 0h0m1 0h0m1 0h0m1 0h0m22 0h0m2 0h0m2 0h0m2 0h0m-39 1h0m2 0h0m3 0h0m2 0h0m1 0h0m1 0h0m1 0h0m4 0h0m15 0h0m1 0h0m2 0h0m1 0h0m2 0h0m1 0h0m1 0h0m-33 1h0m1 0h0m3 0h0m1 0h0m3 0h0m1 0h0m15 0h0m4 0h0m1 0h0m1 0h0m1 0h0m1 0h0m-32 1h0m3 0h0m2 0h0m2 0h0m17 0h0m5 0h0m1 0h0m2 0h0m1 0h0m-23 1h0m5 0h0m5 0h0m2 0h0m6 0h0m1 0h0m1 0h0m1 0h0m1 0h0m4 0h0m-38 1h0m12 0h0m3 0h0m8 0h0m3 0h0m2 0h0m1 0h0m2 0h0m5 0h0m1 0h0m-17 1h0m1 0h0m1 0h0m1 0h0m2 0h0m3 0h0m1 0h0m1 0h0m1 0h0m4 0h0m4 0h0m-20 1h0m1 0h0m5 0h0m4 0h0m1 0h0m4 0h0m3 0h0m-34 1h0m12 0h0m2 0h0m4 0h0m2 0h0m2 0h0m1 0h0m1 0h0m1 0h0m1 0h0m1 0h0m1 0h0m4 0h0m2 0h0m2 0h0m4 0h0m-40 1h0m5 0h0m4 0h0m4 0h0m3 0h0m2 0h0m2 0h0m1 0h0m1 0h0m1 0h0m4 0h0m3 0h0m2 0h0m1 0h0m3 0h0m1 0h0m1 0h0m-40 1h0m5 0h0m1 0h0m1 0h0m2 0h0m2 0h0m1 0h0m2 0h0m3 0h0m5 0h0m1 0h0m3 0h0m4 0h0m1 0h0m1 0h0m1 0h0m1 0h0m1 0h0m2 0h0m1 0h0m1 0h0m3 0h0m-47 1h0m9 0h0m1 0h0m3 0h0m1 0h0m1 0h0m3 0h0m2 0h0m1 0h0m3 0h0m6 0h0m2 0h0m3 0h0m1 0h0m1 0h0m1 0h0m-35 1h0m4 0h0m4 0h0m2 0h0m6 0h0m3 0h0m1 0h0m1 0h0m1 0h0m2 0h0m1 0h0m2 0h0m2 0h0m4 0h0m1 0h0m1 0h0m-34 1h0m17 0h0m2 0h0m4 0h0m1 0h0m1 0h0m2 0h0m1 0h0m4 0h0m7 0h0m-42 1h0m14 0h0m4 0h0m1 0h0m1 0h0m1 0h0m4 0h0m1 0h0m1 0h0m13 0h0m3 0h0m-42 1h0m15 0h0m1 0h0m1 0h0m1 0h0m1 0h0m2 0h0m1 0h0m3 0h0m1 0h0m4 0h0m1 0h0m4 0h0m-39 1h0m4 0h0m19 0h0m2 0h0m1 0h0m2 0h0m3 0h0m2 0h0m1 0h0m3 0h0m5 0h0m-21 1h0m2 0h0m1 0h0m3 0h0m1 0h0m-8 1h0m2 0h0m2 0h0m1 0h0m8 0h0m5 0h0m-35 1h0m18 0h0m2 0h0m1 0h0m2 0h0m1 0h0m-26 1h0m1 0h0m3 0h0m17 0h0m2 0h0m5 0h0m-8 1h0m1 0h0m3 0h0m2 0h0m2 0h0m2 0h0m-27 1h0m15 0h0m2 0h0m4 0h0m2 0h0m2 0h0m3 0h0m-28 1h0m2 0h0m13 0h0m5 0h0m1 0h0m3 0h0m2 0h0m1 0h0m-25 1h0m11 0h0m6 0h0m3 0h0m-21 1h0m1 0h0m10 0h0m3 0h0m3 0h0m2 0h0m-17 2h0m18 0h0m-17 2h0m-2 1h0m6 0h0m7 1h0" stroke="#3048b0" stroke-width="1.1" stroke-linecap="round" fill="none"/>
<path transform="translate(296.5 934.4) scale(1)" d="M52 56h0m1 0h0m1 0h0m-4 1h0m3 0h0m1 0h0m-3 1h0m1 0h0m1 0h0m-2 1h0m1 0h0m1 0h0m2 0h0m5 0h0m4 0h0m-13 1h0m1 0h0m1 0h0m2 0h0m2 0h0m2 0h0m2 0h0m2 0h0m1 0h0m1 0h0m-25 1h0m2 0h0m1 0h0m1 0h0m1 0h0m2 0h0m7 0h0m1 0h0m1 0h0m1 0h0m1 0h0m1 0h0m1 0h0m1 0h0m1 0h0m1 0h0m2 0h0m-24 1h0m1 0h0m1 0h0m1 0h0m1 0h0m1 0h0m2 0h0m1 0h0m4 0h0m2 0h0m2 0h0m1 0h0m1 0h0m1 0h0m1 0h0m2 0h0m2 0h0m-26 1h0m1 0h0m1 0h0m1 0h0m2 0h0m2 0h0m1 0h0m1 0h0m4 0h0m2 0h0m1 0h0m1 0h0m1 0h0m1 0h0m1 0h0m1 0h0m1 0h0m1 0h0m1 0h0m1 0h0m-24 1h0m1 0h0m1 0h0m1 0h0m2 0h0m1 0h0m1 0h0m1 0h0m2 0h0m1 0h0m1 0h0m1 0h0m4 0h0m1 0h0m1 0h0m3 0h0m3 0h0m2 0h0m1 0h0m-28 1h0m3 0h0m2 0h0m1 0h0m1 0h0m1 0h0m2 0h0m1 0h0m1 0h0m1 0h0m1 0h0m1 0h0m1 0h0m1 0h0m3 0h0m1 0h0m5 0h0m1 0h0m1 0h0m2 0h0m-31 1h0m1 0h0m1 0h0m1 0h0m1 0h0m1 0h0m1 0h0m2 0h0m2 0h0m2 0h0m1 0h0m1 0h0m2 0h0m11 0h0m1 0h0m1 0h0m2 0h0m-31 1h0m1 0h0m1 0h0m2 0h0m1 0h0m1 0h0m1 0h0m1 0h0m1 0h0m1 0h0m1 0h0m1 0h0m2 0h0m2 0h0m1 0h0m11 0h0m1 0h0m-22 1h0m1 0h0m1 0h0m1 0h0m2 0h0m1 0h0m1 0h0m2 0h0m2 0h0m-14 1h0m2 0h0m2 0h0m2 0h0m1 0h0m2 0h0m2 0h0m-9 1h0m2 0h0m2 0h0m-9 3h0m-3 1h0m1 0h0m1 0h0m2 0h0m-2 1h0m1 0h0m1 0h0m1 0h0m1 0h0m-5 1h0m1 0h0m1 0h0m1 0h0m1 0h0m-2 1h0m1 0h0m-2 1h0m2 0h0m1 0h0m-3 1h0m-4 24h0m1 0h0m-2 1h0m1 0h0m3 0h0m2 0h0m-8 1h0m1 0h0m5 0h0m2 0h0m-8 1h0m7 0h0m2 1h0m2 0h0m-13 1h0m1 0h0m11 0h0m1 0h0m2 0h0m-14 1h0m12 0h0m2 0h0m-14 1h0m12 0h0m1 0h0m1 0h0m-15 1h0m12 0h0m1 0h0m1 0h0m-2 1h0m1 0h0m1 0h0m-12 1h0m11 0h0m-11 1h0m1 1h0m3 0h0m2 0h0m1 0h0m-5 1h0m1 0h0m1 0h0m1 0h0m1 0h0m1 0h0m-5 1h0m4 0h0" stroke="#2c64c4" stroke-width="1.1" stroke-linecap="round" fill="none"/>
<path transform="translate(296.5 934.4) scale(1)" d="M36 104h0m2 0h0m-3 1h0m-1 1h0m5 0h0m1 0h0m1 0h0m-9 1h0m7 0h0m1 0h0m-8 1h0m8 0h0m-9 1h0m10 0h0m1 0h0m-11 1h0m1 0h0m10 0h0m-1 1h0m1 0h0m-2 1h0m1 0h0m1 0h0m-3 1h0m1 0h0m1 0h0m-8 1h0m1 0h0m1 0h0m2 0h0m1 0h0m1 0h0m-2 1h0m1 0h0" stroke="#28a4cc" stroke-width="1.1" stroke-linecap="round" fill="none"/>
<path transform="translate(296.5 934.4) scale(1)" d="M36 105h0m1 0h0m1 0h0m-5 1h0m1 0h0m1 0h0m2 0h0m2 0h0m-7 1h0m2 0h0m4 0h0m1 0h0m-6 1h0m8 0h0m-9 1h0m9 0h0m-9 1h0m8 0h0m1 0h0m-8 1h0m7 0h0m-7 1h0m7 0h0m-7 1h0m1 0h0m4 0h0m1 0h0m1 0h0m-7 1h0m1 0h0m3 0h0" stroke="#30bc8c" stroke-width="1.1" stroke-linecap="round" fill="none"/>
<path transform="translate(296.5 934.4) scale(1)" d="M34 106h0m1 0h0m2 0h0m-4 1h0m1 0h0m1 0h0m1 0h0m2 0h0m-4 1h0m4 0h0m1 0h0m0 1h0m1 0h0m-7 1h0m6 0h0m-6 1h0m6 0h0m1 0h0m-7 1h0m1 0h0m5 0h0m-6 1h0m1 0h0m2 0h0m0 1h0" stroke="#70cc40" stroke-width="1.1" stroke-linecap="round" fill="none"/>
<path transform="translate(296.5 934.4) scale(1)" d="M34 107h0m1 0h0m2 0h0m-4 1h0m1 0h0m1 0h0m2 0h0m1 0h0m1 0h0m-6 1h0m1 0h0m4 0h0m1 0h0m-5 1h0m4 0h0m1 0h0m-6 1h0m1 0h0m1 0h0m3 0h0m-4 1h0m1 0h0m1 0h0m1 0h0m1 0h0m1 0h0m-4 1h0m1 0h0m1 0h0m1 0h0" stroke="#d0dc20" stroke-width="1.1" stroke-linecap="round" fill="none"/>
<path transform="translate(296.5 934.4) scale(1)" d="M35 107h0m1 0h0m1 0h0m-3 1h0m1 0h0m1 0h0m1 0h0m1 0h0m-4 1h0m1 0h0m2 0h0m1 0h0m-4 1h0m1 0h0m-1 1h0m1 0h0m1 0h0m1 0h0m1 0h0m-3 1h0m1 0h0m1 0h0" stroke="#f8a010" stroke-width="1.1" stroke-linecap="round" fill="none"/>
<path transform="translate(296.5 934.4) scale(1)" d="M35 108h0m1 0h0m1 0h0m-2 1h0m1 0h0m1 0h0m1 0h0m-2 1h0m1 0h0m1 0h0m-3 1h0m1 0h0m1 0h0m1 0h0" stroke="#f02010" stroke-width="1.1" stroke-linecap="round" fill="none"/>
<line x1="338.2" y1="934.4" x2="338.2" y2="1079.2" stroke="#2a2a2a" stroke-width="1.4"/>
<line x1="296.5" y1="1025.8" x2="440.9" y2="1025.8" stroke="#2a2a2a" stroke-width="1.4"/>
<rect x="296.5" y="934.4" width="144.4" height="144.8" fill="none" stroke="#333" stroke-width="1.1"/>
<text x="300.5" y="956.4" font-size="15.5" fill="#231f20">2.74</text>
<text x="436.9" y="956.4" font-size="15.5" text-anchor="end" fill="#231f20">15.9</text>
<text x="299.5" y="1065" font-size="15.5" fill="#231f20">66.2</text>
<text x="436.9" y="1065" font-size="15.5" text-anchor="end" fill="#231f20">15.2</text>
<path d="M292.5 948.4h4M292.5 981.8h4M292.5 1021.3h4M292.5 1047.2h4M292.5 1072.2h4M294.5 971.8h2M294.5 965.9h2M294.5 961.7h2M294.5 958.5h2M294.5 955.8h2M294.5 953.6h2M294.5 951.6h2M294.5 949.9h2M294.5 1009.4h2M294.5 1002.5h2M294.5 997.5h2M294.5 993.7h2M294.5 990.6h2M294.5 987.9h2M294.5 985.7h2M294.5 983.6h2M294.5 1025.6h2M294.5 1051.4h2M294.5 1029.9h2M294.5 1055.6h2M294.5 1034.3h2M294.5 1059.7h2M294.5 1038.6h2M294.5 1063.9h2M294.5 1042.9h2M294.5 1068h2" fill="none" stroke="#444" stroke-width="0.9"/>
<rect x="292.5" y="1044.2" width="3" height="6" fill="#222"/>
<path d="M304.4 1079.2v4M329.1 1079.2v4M357.3 1079.2v4M394.9 1079.2v4M428 1079.2v4M368.6 1079.2v2M375.3 1079.2v2M380 1079.2v2M383.6 1079.2v2M386.6 1079.2v2M389.1 1079.2v2M391.3 1079.2v2M393.2 1079.2v2M404.9 1079.2v2M410.7 1079.2v2M414.9 1079.2v2M418.1 1079.2v2M420.7 1079.2v2M422.9 1079.2v2M424.8 1079.2v2M426.5 1079.2v2M308.5 1079.2v2M333.8 1079.2v2M312.7 1079.2v2M338.5 1079.2v2M316.8 1079.2v2M343.2 1079.2v2M320.9 1079.2v2M347.9 1079.2v2M325 1079.2v2M352.6 1079.2v2" fill="none" stroke="#444" stroke-width="0.9"/>
<rect x="323.1" y="1080.2" width="7" height="3" fill="#222"/>
<path transform="translate(472.2 934.4) scale(1)" d="M135 22h0m-31 14h0m14 4h0m-14 1h0m-21 1h0m26 1h0m-8 1h0m9 0h0m2 0h0m-6 1h0m13 1h0m-32 1h0m13 1h0m2 0h0m2 0h0m6 0h0m-3 1h0m-17 1h0m2 0h0m5 0h0m11 0h0m-11 1h0m4 1h0m-17 1h0m3 0h0m15 0h0m3 0h0m-16 1h0m12 0h0m-10 1h0m2 0h0m2 0h0m5 0h0m11 0h0m-31 1h0m3 0h0m16 0h0m2 0h0m-18 1h0m26 0h0m7 0h0m-43 1h0m15 0h0m6 0h0m10 0h0m-20 1h0m3 0h0m2 0h0m10 0h0m11 0h0m-32 1h0m20 0h0m16 0h0m-37 1h0m9 0h0m4 0h0m4 0h0m6 0h0m1 0h0m2 0h0m-21 1h0m5 0h0m1 0h0m1 0h0m1 0h0m4 0h0m5 0h0m-24 1h0m8 0h0m2 0h0m9 0h0m6 0h0m5 0h0m-20 1h0m4 0h0m1 0h0m7 0h0m-8 1h0m10 0h0m4 0h0m1 0h0m3 0h0m-31 1h0m6 0h0m3 0h0m4 0h0m2 0h0m4 0h0m1 0h0m4 0h0m1 0h0m3 0h0m-31 1h0m5 0h0m6 0h0m1 0h0m2 0h0m4 0h0m4 0h0m8 0h0m2 0h0m10 0h0m-50 1h0m12 0h0m5 0h0m2 0h0m5 0h0m2 0h0m8 0h0m10 0h0m9 0h0m-39 1h0m7 0h0m21 0h0m1 0h0m-27 1h0m19 0h0m9 0h0m-33 1h0m1 0h0m3 0h0m7 0h0m2 0h0m2 0h0m15 0h0m-38 1h0m2 0h0m17 0h0m12 0h0m8 0h0m-33 1h0m17 0h0m10 0h0m1 0h0m5 0h0m-35 1h0m24 0h0m3 0h0m7 0h0m-42 1h0m8 0h0m-5 1h0m29 0h0m4 0h0m2 0h0m-45 1h0m14 0h0m25 0h0m3 0h0m7 0h0m-45 1h0m4 0h0m3 0h0m3 0h0m36 0h0m-40 1h0m4 0h0m32 0h0m2 0h0m-47 1h0m10 0h0m28 1h0m5 0h0m1 1h0m-43 1h0m38 0h0m1 0h0m4 0h0m-5 1h0m1 1h0m-41 1h0m42 0h0m7 0h0m-49 1h0m1 0h0m46 0h0m-53 1h0m46 0h0m-43 1h0m5 0h0m41 0h0m-59 1h0m12 0h0m7 0h0m40 0h0m4 0h0m-44 1h0m1 0h0m-9 1h0m5 0h0m-3 1h0m2 0h0m44 0h0m5 0h0m-57 1h0m4 0h0m2 0h0m2 0h0m2 0h0m1 0h0m38 2h0m-49 1h0m3 0h0m-11 1h0m4 0h0m1 1h0m5 0h0m2 1h0m44 0h0m2 0h0m1 0h0m-54 1h0m4 0h0m46 1h0m-46 1h0m51 0h0m-54 1h0m46 0h0m-46 1h0m43 0h0m5 0h0m8 0h0m-60 1h0m2 0h0m5 0h0m45 0h0m2 0h0m-59 1h0m7 0h0m4 0h0m-6 1h0m4 0h0m-3 1h0m2 0h0m3 0h0m37 0h0m4 0h0m-42 1h0m2 0h0m35 0h0m3 0h0m3 0h0m-42 1h0m35 0h0m1 0h0m-42 1h0m4 0h0m1 0h0m-16 1h0m8 1h0m9 0h0m31 0h0m5 0h0m3 0h0m7 0h0m-51 1h0m44 0h0m2 0h0m-46 1h0m1 0h0m2 0h0m-5 1h0m7 0h0m31 0h0m-37 1h0m39 0h0m-37 1h0m38 0h0m-3 1h0m3 0h0m-40 1h0m6 0h0m1 0h0m29 0h0m2 0h0m5 0h0m-50 1h0m13 0h0m30 0h0m7 0h0m-42 1h0m5 0h0m29 0h0m8 0h0m-46 1h0m3 0h0m2 0h0m30 0h0m-27 1h0m27 0h0m2 0h0m-32 1h0m7 0h0m1 0h0m17 0h0m6 0h0m1 0h0m1 0h0m-59 1h0m23 0h0m5 0h0m2 0h0m10 0h0m1 0h0m11 0h0m5 0h0m13 0h0m-42 1h0m11 0h0m2 0h0m1 0h0m1 0h0m4 0h0m15 0h0m-30 1h0m4 0h0m3 0h0m22 0h0m-39 1h0m6 0h0m1 0h0m1 0h0m2 0h0m10 0h0m4 0h0m5 0h0m-27 1h0m1 0h0m9 0h0m10 0h0m1 0h0m6 0h0m-22 1h0m4 0h0m2 0h0m7 0h0m1 0h0m25 0h0m-33 1h0m5 0h0m6 0h0m5 0h0m-34 1h0m17 0h0m-13 1h0m9 0h0m6 0h0m1 0h0m2 0h0m-13 1h0m1 0h0m5 0h0m15 0h0m3 0h0m1 0h0m-16 1h0m1 0h0m-28 1h0m14 0h0m3 0h0m1 0h0m7 0h0m3 0h0m2 0h0m7 0h0m2 0h0m-36 1h0m11 1h0m3 0h0m8 0h0m7 0h0m7 0h0m-27 1h0m2 0h0m3 0h0m15 0h0m10 0h0m-27 1h0m17 0h0m5 0h0" stroke="#3030e8" stroke-width="1.1" stroke-linecap="round" fill="none"/>
<path transform="translate(472.2 934.4) scale(1)" d="M93 68h0m1 0h0m1 0h0m-11 1h0m12 0h0m1 0h0m2 0h0m-14 1h0m6 0h0m1 0h0m1 0h0m4 0h0m-14 1h0m2 0h0m1 0h0m6 0h0m3 0h0m3 0h0m1 0h0m-18 1h0m1 0h0m1 0h0m9 0h0m3 0h0m1 0h0m1 0h0m-20 1h0m2 0h0m2 0h0m1 0h0m5 0h0m-13 1h0m2 0h0m1 0h0m1 0h0m1 0h0m17 0h0m2 0h0m-21 1h0m4 0h0m9 0h0m2 0h0m-19 1h0m2 0h0m2 0h0m1 0h0m7 0h0m3 0h0m2 0h0m3 0h0m1 0h0m-21 1h0m1 0h0m1 0h0m1 0h0m13 0h0m1 0h0m3 0h0m-18 1h0m16 0h0m1 0h0m1 0h0m-19 1h0m20 0h0m-1 1h0m-23 1h0m1 0h0m22 0h0m-24 1h0m2 0h0m23 0h0m-23 1h0m1 0h0m21 0h0m3 0h0m1 0h0m-29 1h0m25 0h0m-27 1h0m2 0h0m2 0h0m24 0h0m-27 1h0m26 0h0m1 0h0m-30 1h0m1 0h0m29 0h0m1 0h0m-31 1h0m-1 1h0m33 1h0m1 0h0m-36 1h0m3 0h0m34 0h0m-35 1h0m34 0h0m1 0h0m1 0h0m-37 1h0m33 0h0m2 0h0m-40 1h0m1 0h0m2 0h0m2 0h0m2 0h0m33 0h0m-3 1h0m2 0h0m-43 1h0m1 0h0m2 0h0m5 0h0m2 0h0m-8 1h0m1 0h0m2 0h0m2 0h0m3 0h0m-10 1h0m1 0h0m2 0h0m1 0h0m-5 1h0m1 0h0m1 0h0m40 0h0m-36 1h0m1 0h0m32 0h0m1 0h0m1 0h0m2 0h0m-42 1h0m3 0h0m1 0h0m38 0h0m-41 1h0m1 0h0m36 0h0m1 0h0m-40 1h0m35 0h0m1 0h0m4 0h0m-41 1h0m1 0h0m2 0h0m33 0h0m-35 1h0m1 0h0m1 0h0m30 0h0m2 0h0m1 0h0m1 0h0m-37 1h0m30 0h0m3 0h0m2 0h0m-36 1h0m31 0h0m2 0h0m1 0h0m-33 1h0m1 0h0m1 0h0m26 0h0m1 0h0m-1 1h0m-4 1h0m-24 1h0m1 0h0m1 0h0m22 0h0m2 0h0m1 0h0m-28 1h0m1 0h0m26 0h0m1 0h0m-28 1h0m1 0h0m1 0h0m25 0h0m1 0h0m-26 1h0m24 0h0m1 0h0m-26 1h0m25 1h0m1 0h0m1 0h0m1 0h0m-27 1h0m1 0h0m1 0h0m22 0h0m1 0h0m-26 1h0m1 0h0m1 0h0m1 0h0m22 0h0m2 0h0m-28 1h0m1 0h0m1 0h0m24 0h0m-26 1h0m1 0h0m6 0h0m15 0h0m1 0h0m1 0h0m3 0h0m1 0h0m-26 1h0m2 0h0m1 0h0m2 0h0m1 0h0m16 0h0m1 0h0m-25 1h0m2 0h0m5 0h0m18 0h0m-27 1h0m3 0h0m1 0h0m2 0h0m3 0h0m4 0h0m10 0h0m3 0h0m-25 1h0m5 0h0m3 0h0m10 0h0m3 0h0m1 0h0m1 0h0m-23 1h0m4 0h0m1 0h0m2 0h0m1 0h0m1 0h0m4 0h0m6 0h0m-20 1h0m3 0h0m5 0h0m6 0h0m2 0h0m2 0h0m1 0h0m2 0h0m-15 1h0m9 0h0m3 0h0m-1 1h0m-12 1h0m0 1h0m1 1h0" stroke="#2860e8" stroke-width="1.1" stroke-linecap="round" fill="none"/>
<path transform="translate(472.2 934.4) scale(1)" d="M78 75h0m3 0h0m1 0h0m-5 1h0m3 0h0m3 0h0m2 0h0m-5 1h0m3 0h0m3 0h0m1 0h0m1 0h0m-11 1h0m1 0h0m1 0h0m7 0h0m2 0h0m1 0h0m-12 1h0m1 0h0m2 0h0m-6 1h0m1 0h0m1 0h0m14 0h0m2 0h0m-20 1h0m4 0h0m1 0h0m12 0h0m2 0h0m-18 1h0m17 0h0m1 0h0m1 0h0m1 0h0m-21 1h0m18 0h0m2 0h0m-22 1h0m2 0h0m20 0h0m-21 1h0m1 0h0m20 0h0m-24 1h0m2 0h0m1 0h0m1 0h0m-4 1h0m1 0h0m1 0h0m23 0h0m-27 1h0m2 0h0m3 0h0m22 0h0m1 0h0m-28 1h0m3 0h0m2 0h0m23 0h0m-25 1h0m25 0h0m-30 1h0m1 0h0m3 0h0m1 0h0m24 0h0m-29 1h0m3 0h0m26 0h0m2 0h0m-30 1h0m1 0h0m3 0h0m-3 1h0m2 0h0m25 0h0m1 0h0m-30 1h0m2 0h0m1 0h0m3 0h0m-6 1h0m1 0h0m4 0h0m1 0h0m-6 1h0m1 0h0m3 0h0m24 0h0m-1 1h0m1 0h0m1 0h0m-32 1h0m1 0h0m29 0h0m-32 1h0m1 0h0m28 0h0m1 0h0m2 0h0m-31 1h0m1 0h0m25 0h0m1 0h0m1 0h0m1 0h0m-32 1h0m2 0h0m25 0h0m3 0h0m-30 1h0m26 0h0m2 0h0m2 0h0m-31 1h0m2 0h0m1 0h0m20 0h0m1 0h0m1 0h0m1 0h0m1 0h0m-29 1h0m1 0h0m3 0h0m20 0h0m1 0h0m1 0h0m2 0h0m2 0h0m-30 1h0m1 0h0m1 0h0m1 0h0m16 0h0m1 0h0m2 0h0m3 0h0m-25 1h0m21 0h0m1 0h0m-23 1h0m1 0h0m2 0h0m16 0h0m2 0h0m1 0h0m2 0h0m1 0h0m-24 1h0m1 0h0m20 0h0m1 0h0m1 0h0m-22 1h0m18 0h0m2 0h0m-21 1h0m1 0h0m17 0h0m1 0h0m-18 1h0m16 0h0m1 0h0m1 0h0m1 0h0m-19 1h0m17 0h0m-18 1h0m2 0h0m15 0h0m2 0h0m2 0h0m-23 1h0m1 0h0m1 0h0m1 0h0m1 0h0m15 0h0m2 0h0m2 0h0m-20 1h0m1 0h0m14 0h0m1 0h0m4 0h0m-20 1h0m2 0h0m12 0h0m2 0h0m1 0h0m1 0h0m1 0h0m2 0h0m-20 1h0m13 0h0m1 0h0m2 0h0m2 0h0m-18 1h0m1 0h0m9 0h0m1 0h0m1 0h0m1 0h0m2 0h0m1 0h0m-14 1h0m9 0h0m3 0h0m-12 1h0m2 0h0m5 0h0m1 0h0m2 0h0m-9 1h0m1 0h0m1 0h0m6 0h0m2 0h0m-8 1h0m1 0h0m1 0h0m1 0h0m1 0h0m2 0h0m1 0h0m-6 1h0m1 0h0m2 0h0m1 0h0m1 0h0m-1 1h0" stroke="#20b0e0" stroke-width="1.1" stroke-linecap="round" fill="none"/>
<path transform="translate(472.2 934.4) scale(1)" d="M80 77h0m4 0h0m-4 1h0m1 0h0m1 0h0m1 0h0m1 0h0m1 0h0m1 0h0m-5 1h0m2 0h0m2 0h0m1 0h0m1 0h0m-7 1h0m1 0h0m1 0h0m1 0h0m3 0h0m1 0h0m1 0h0m-12 1h0m2 0h0m3 0h0m1 0h0m4 0h0m1 0h0m1 0h0m-13 1h0m1 0h0m3 0h0m9 0h0m1 0h0m-14 1h0m1 0h0m15 1h0m-17 1h0m15 0h0m1 0h0m-18 1h0m20 0h0m-18 1h0m17 0h0m1 0h0m-20 1h0m2 0h0m18 0h0m-21 1h0m1 0h0m19 0h0m1 0h0m1 0h0m-23 1h0m1 0h0m1 0h0m20 0h0m1 0h0m-22 1h0m1 0h0m1 0h0m19 0h0m-20 1h0m21 0h0m-21 1h0m2 0h0m18 0h0m1 0h0m-21 1h0m1 0h0m2 0h0m17 0h0m1 0h0m-22 1h0m3 0h0m18 0h0m-24 1h0m1 0h0m1 0h0m1 0h0m2 0h0m2 0h0m1 0h0m15 0h0m1 0h0m-27 1h0m2 0h0m1 0h0m1 0h0m5 0h0m1 0h0m1 0h0m16 0h0m-28 1h0m1 0h0m1 0h0m1 0h0m1 0h0m1 0h0m1 0h0m1 0h0m18 0h0m2 0h0m-26 1h0m1 0h0m2 0h0m19 0h0m1 0h0m1 0h0m-26 1h0m2 0h0m1 0h0m3 0h0m6 0h0m10 0h0m1 0h0m-24 1h0m1 0h0m1 0h0m2 0h0m1 0h0m2 0h0m1 0h0m2 0h0m3 0h0m1 0h0m1 0h0m1 0h0m2 0h0m3 0h0m1 0h0m3 0h0m-26 1h0m1 0h0m1 0h0m1 0h0m1 0h0m1 0h0m1 0h0m2 0h0m1 0h0m2 0h0m2 0h0m1 0h0m1 0h0m1 0h0m2 0h0m4 0h0m-23 1h0m2 0h0m1 0h0m3 0h0m2 0h0m4 0h0m1 0h0m1 0h0m1 0h0m1 0h0m1 0h0m2 0h0m1 0h0m-21 1h0m1 0h0m1 0h0m1 0h0m9 0h0m2 0h0m1 0h0m1 0h0m1 0h0m1 0h0m1 0h0m-19 1h0m1 0h0m1 0h0m11 0h0m1 0h0m2 0h0m1 0h0m1 0h0m1 0h0m-20 1h0m3 0h0m10 0h0m1 0h0m3 0h0m1 0h0m-20 1h0m1 0h0m2 0h0m1 0h0m1 0h0m9 0h0m1 0h0m1 0h0m-16 1h0m1 0h0m1 0h0m3 0h0m9 0h0m1 0h0m-14 1h0m1 0h0m12 0h0m1 0h0m-15 1h0m1 0h0m1 0h0m11 0h0m1 0h0m-13 1h0m1 0h0m12 0h0m-13 1h0m9 0h0m1 0h0m1 0h0m2 0h0m-14 1h0m1 0h0m9 0h0m1 0h0m1 0h0m1 0h0m-12 1h0m1 0h0m7 0h0m1 0h0m1 0h0m1 0h0m1 0h0m1 0h0m1 0h0m-13 1h0m6 0h0m1 0h0m1 0h0m1 0h0m2 0h0m-11 1h0m1 0h0m6 0h0m1 0h0m2 0h0m-9 1h0m1 0h0m3 0h0m2 0h0m1 0h0m1 0h0m-8 1h0m1 0h0m5 0h0m1 0h0m1 0h0m-8 1h0m1 0h0m1 0h0m2 0h0m1 0h0m-4 1h0m2 0h0m1 0h0m1 0h0m-4 1h0m3 0h0m1 0h0m1 0h0m-3 1h0m1 0h0" stroke="#30c890" stroke-width="1.1" stroke-linecap="round" fill="none"/>
<path transform="translate(472.2 934.4) scale(1)" d="M83 79h0m1 0h0m-1 1h0m1 0h0m2 0h0m-3 1h0m1 0h0m-4 1h0m2 0h0m1 0h0m2 0h0m1 0h0m2 0h0m-12 1h0m1 0h0m1 0h0m1 0h0m1 0h0m1 0h0m1 0h0m3 0h0m1 0h0m1 0h0m1 0h0m1 0h0m-14 1h0m2 0h0m1 0h0m2 0h0m7 0h0m1 0h0m1 0h0m-15 1h0m1 0h0m1 0h0m1 0h0m11 0h0m1 0h0m-14 1h0m1 0h0m11 0h0m2 0h0m-15 1h0m1 0h0m1 0h0m13 0h0m1 0h0m-16 1h0m1 0h0m14 0h0m-16 1h0m1 0h0m1 0h0m15 0h0m1 0h0m1 0h0m-18 1h0m1 0h0m15 0h0m1 0h0m1 0h0m-19 1h0m1 0h0m1 0h0m1 0h0m13 0h0m1 0h0m1 0h0m1 0h0m-19 1h0m1 0h0m1 0h0m14 0h0m1 0h0m1 0h0m1 0h0m-18 1h0m1 0h0m1 0h0m1 0h0m12 0h0m1 0h0m1 0h0m1 0h0m-17 1h0m1 0h0m1 0h0m1 0h0m12 0h0m1 0h0m-15 1h0m1 0h0m11 0h0m1 0h0m1 0h0m1 0h0m1 0h0m-5 1h0m1 0h0m1 0h0m1 0h0m1 0h0m-20 1h0m1 0h0m2 0h0m2 0h0m1 0h0m1 0h0m1 0h0m7 0h0m1 0h0m1 0h0m1 0h0m1 0h0m-19 1h0m1 0h0m1 0h0m1 0h0m1 0h0m1 0h0m3 0h0m8 0h0m-16 1h0m1 0h0m1 0h0m1 0h0m2 0h0m1 0h0m1 0h0m1 0h0m1 0h0m2 0h0m1 0h0m1 0h0m1 0h0m1 0h0m-16 1h0m1 0h0m1 0h0m1 0h0m1 0h0m1 0h0m3 0h0m1 0h0m1 0h0m1 0h0m2 0h0m1 0h0m1 0h0m-12 1h0m11 0h0m-19 2h0m3 0h0m-5 1h0m1 0h0m1 0h0m2 0h0m1 0h0m1 0h0m1 0h0m-7 1h0m1 0h0m2 0h0m1 0h0m2 0h0m1 0h0m-6 1h0m1 0h0m1 0h0m2 0h0m1 0h0m2 0h0m-9 1h0m1 0h0m1 0h0m1 0h0m1 0h0m1 0h0m1 0h0m1 0h0m1 0h0m-8 1h0m1 0h0m1 0h0m1 0h0m1 0h0m1 0h0m1 0h0m2 0h0m-11 1h0m1 0h0m1 0h0m1 0h0m1 0h0m1 0h0m2 0h0m1 0h0m2 0h0m1 0h0m-11 1h0m1 0h0m2 0h0m1 0h0m2 0h0m1 0h0m2 0h0m1 0h0m-10 1h0m1 0h0m1 0h0m2 0h0m1 0h0m1 0h0m1 0h0m-7 1h0m1 0h0m1 0h0m1 0h0m1 0h0m2 0h0m1 0h0m-7 1h0m1 0h0m2 0h0m2 0h0m-6 1h0m1 0h0m2 0h0m2 0h0m2 0h0m-6 1h0m2 0h0m2 0h0m1 0h0m-3 1h0m1 0h0m1 0h0m1 0h0m-3 1h0m2 0h0m1 0h0m-4 1h0m2 0h0m1 0h0m-1 1h0" stroke="#70d040" stroke-width="1.1" stroke-linecap="round" fill="none"/>
<path transform="translate(472.2 934.4) scale(1)" d="M84 83h0m-1 1h0m1 0h0m1 0h0m1 0h0m1 0h0m-11 1h0m1 0h0m1 0h0m1 0h0m2 0h0m1 0h0m1 0h0m1 0h0m1 0h0m-9 1h0m1 0h0m1 0h0m9 0h0m-11 1h0m1 0h0m9 0h0m1 0h0m1 0h0m-12 1h0m1 0h0m10 0h0m-12 1h0m1 0h0m12 0h0m-12 1h0m1 0h0m1 0h0m9 0h0m1 0h0m1 0h0m-12 1h0m1 0h0m8 0h0m1 0h0m1 0h0m1 0h0m-12 1h0m1 0h0m1 0h0m7 0h0m2 0h0m-11 1h0m1 0h0m7 0h0m1 0h0m1 0h0m1 0h0m1 0h0m-10 1h0m6 0h0m2 0h0m1 0h0m-10 1h0m2 0h0m4 0h0m1 0h0m1 0h0m1 0h0m1 0h0m-9 1h0m1 0h0m3 0h0m1 0h0m1 0h0m3 0h0m-10 1h0m1 0h0m1 0h0m1 0h0m2 0h0m1 0h0m-5 1h0m2 0h0m1 0h0m1 0h0m1 0h0m-4 1h0m1 0h0" stroke="#d8e020" stroke-width="1.1" stroke-linecap="round" fill="none"/>
<path transform="translate(472.2 934.4) scale(1)" d="M79 85h0m1 0h0m1 0h0m1 0h0m1 0h0m1 0h0m-5 1h0m2 0h0m1 0h0m-4 1h0m1 0h0m1 0h0m1 0h0m3 0h0m1 0h0m-7 1h0m1 0h0m1 0h0m5 0h0m1 0h0m1 0h0m-8 1h0m1 0h0m6 0h0m-8 1h0m1 0h0m1 0h0m5 0h0m1 0h0m1 0h0m-9 1h0m1 0h0m1 0h0m1 0h0m2 0h0m2 0h0m1 0h0m-6 1h0m1 0h0m1 0h0m1 0h0m2 0h0m1 0h0m-6 1h0m1 0h0m1 0h0m1 0h0m1 0h0m-3 1h0m1 0h0m1 0h0m1 0h0m-4 1h0m1 0h0m1 0h0m1 0h0m1 0h0m-4 1h0m1 0h0m1 0h0m1 0h0m-1 1h0m1 0h0m-1 1h0" stroke="#f8a010" stroke-width="1.1" stroke-linecap="round" fill="none"/>
<path transform="translate(472.2 934.4) scale(1)" d="M82 86h0m1 0h0m-3 1h0m1 0h0m1 0h0m1 0h0m1 0h0m1 0h0m-5 1h0m1 0h0m1 0h0m1 0h0m1 0h0m1 0h0m1 0h0m-5 1h0m1 0h0m1 0h0m1 0h0m1 0h0m-5 1h0m1 0h0m1 0h0m1 0h0m1 0h0m1 0h0m-4 1h0m1 0h0m1 0h0" stroke="#f02010" stroke-width="1.1" stroke-linecap="round" fill="none"/>
<line x1="549.9" y1="934.4" x2="549.9" y2="1077.7" stroke="#9a9a9a" stroke-width="1.2"/>
<line x1="472.2" y1="1030" x2="615.5" y2="1030" stroke="#333" stroke-width="1.2"/>
<rect x="472.2" y="934.4" width="143.3" height="143.3" fill="none" stroke="#333" stroke-width="1.1"/>
<text x="476.2" y="955.6" font-size="15.5" fill="#231f20">13.7</text>
<text x="611.5" y="955.6" font-size="15.5" text-anchor="end" fill="#231f20">69.7</text>
<text x="475.2" y="1069.2" font-size="15.5" fill="#231f20">13.7</text>
<text x="611.5" y="1069.2" font-size="15.5" text-anchor="end" fill="#231f20">2.91</text>
<path d="M468.2 948.6h4M468.2 977.2h4M468.2 1005.7h4M468.2 1034.3h4M468.2 1062.9h4M470.2 968.6h2M470.2 963.6h2M470.2 960h2M470.2 957.2h2M470.2 954.9h2M470.2 953h2M470.2 951.4h2M470.2 949.9h2M470.2 997.1h2M470.2 992.1h2M470.2 988.5h2M470.2 985.8h2M470.2 983.5h2M470.2 981.6h2M470.2 980h2M470.2 978.5h2M470.2 1025.7h2M470.2 1020.7h2M470.2 1017.1h2M470.2 1014.3h2M470.2 1012h2M470.2 1010.1h2M470.2 1008.5h2M470.2 1007h2M470.2 1054.3h2M470.2 1049.3h2M470.2 1045.7h2M470.2 1042.9h2M470.2 1040.6h2M470.2 1038.7h2M470.2 1037.1h2M470.2 1035.6h2M470.2 1074.3h2M470.2 1071.5h2M470.2 1069.2h2M470.2 1067.3h2M470.2 1065.7h2M470.2 1064.2h2" fill="none" stroke="#444" stroke-width="0.9"/>
<text x="469.2" y="952.6" font-size="11" text-anchor="end" fill="#333">10<tspan font-size="6.8" dy="-4.6">5</tspan></text>
<text x="469.2" y="981.2" font-size="11" text-anchor="end" fill="#333">10<tspan font-size="6.8" dy="-4.6">4</tspan></text>
<text x="469.2" y="1009.7" font-size="11" text-anchor="end" fill="#333">10<tspan font-size="6.8" dy="-4.6">3</tspan></text>
<text x="469.2" y="1038.3" font-size="11" text-anchor="end" fill="#333">10<tspan font-size="6.8" dy="-4.6">2</tspan></text>
<text x="469.2" y="1066.9" font-size="11" text-anchor="end" fill="#333">10<tspan font-size="6.8" dy="-4.6">1</tspan></text>
<path d="M486.6 1077.7v4M517.3 1077.7v4M546.2 1077.7v4M573.3 1077.7v4M602.2 1077.7v4M495.8 1077.7v2M501.2 1077.7v2M505.1 1077.7v2M508.1 1077.7v2M510.5 1077.7v2M512.5 1077.7v2M514.3 1077.7v2M515.9 1077.7v2M526 1077.7v2M531.1 1077.7v2M534.7 1077.7v2M537.5 1077.7v2M539.8 1077.7v2M541.7 1077.7v2M543.4 1077.7v2M544.9 1077.7v2M554.4 1077.7v2M559.1 1077.7v2M562.5 1077.7v2M565.1 1077.7v2M567.3 1077.7v2M569.1 1077.7v2M570.7 1077.7v2M572.1 1077.7v2M582 1077.7v2M587.1 1077.7v2M590.7 1077.7v2M593.5 1077.7v2M595.8 1077.7v2M597.7 1077.7v2M599.4 1077.7v2M600.9 1077.7v2M610.9 1077.7v2" fill="none" stroke="#444" stroke-width="0.9"/>
<path transform="translate(130.3 1103.7) scale(1)" d="M73 49h0m-10 3h0m-20 2h0m21 0h0m14 0h0m4 0h0m-29 1h0m5 0h0m10 0h0m1 0h0m2 0h0m8 0h0m-34 1h0m4 0h0m5 0h0m22 0h0m2 0h0m-39 1h0m2 0h0m3 0h0m3 0h0m2 0h0m6 0h0m7 0h0m6 0h0m4 0h0m3 0h0m2 0h0m2 0h0m3 0h0m1 0h0m-42 1h0m1 0h0m1 0h0m6 0h0m6 0h0m2 0h0m2 0h0m6 0h0m1 0h0m1 0h0m3 0h0m1 0h0m1 0h0m2 0h0m1 0h0m1 0h0m2 0h0m-45 1h0m7 0h0m3 0h0m2 0h0m3 0h0m2 0h0m3 0h0m1 0h0m10 0h0m3 0h0m3 0h0m4 0h0m1 0h0m3 0h0m5 0h0m2 0h0m-55 1h0m9 0h0m2 0h0m5 0h0m1 0h0m4 0h0m6 0h0m2 0h0m1 0h0m1 0h0m7 0h0m2 0h0m1 0h0m2 0h0m1 0h0m2 0h0m1 0h0m2 0h0m1 0h0m3 0h0m-46 1h0m2 0h0m4 0h0m10 0h0m4 0h0m3 0h0m2 0h0m1 0h0m13 0h0m1 0h0m1 0h0m-41 1h0m1 0h0m1 0h0m5 0h0m4 0h0m2 0h0m11 0h0m1 0h0m3 0h0m1 0h0m1 0h0m3 0h0m8 0h0m1 0h0m4 0h0m11 0h0m-53 1h0m1 0h0m11 0h0m5 0h0m2 0h0m3 0h0m1 0h0m3 0h0m2 0h0m3 0h0m2 0h0m2 0h0m1 0h0m3 0h0m2 0h0m-46 1h0m6 0h0m2 0h0m8 0h0m7 0h0m1 0h0m3 0h0m4 0h0m1 0h0m2 0h0m2 0h0m3 0h0m6 0h0m3 0h0m-46 1h0m2 0h0m1 0h0m2 0h0m1 0h0m4 0h0m5 0h0m2 0h0m3 0h0m5 0h0m2 0h0m1 0h0m4 0h0m3 0h0m1 0h0m2 0h0m1 0h0m3 0h0m1 0h0m-46 1h0m12 0h0m3 0h0m3 0h0m2 0h0m4 0h0m12 0h0m3 0h0m2 0h0m3 0h0m2 0h0m-43 1h0m11 0h0m1 0h0m3 0h0m12 0h0m1 0h0m2 0h0m1 0h0m1 0h0m2 0h0m3 0h0m3 0h0m-38 1h0m4 0h0m2 0h0m8 0h0m3 0h0m4 0h0m3 0h0m3 0h0m12 0h0m4 0h0m1 0h0m-45 1h0m1 0h0m1 0h0m1 0h0m2 0h0m3 0h0m8 0h0m1 0h0m1 0h0m1 0h0m1 0h0m3 0h0m1 0h0m1 0h0m2 0h0m1 0h0m4 0h0m2 0h0m1 0h0m8 0h0m1 0h0m-47 1h0m2 0h0m3 0h0m3 0h0m2 0h0m1 0h0m2 0h0m2 0h0m4 0h0m2 0h0m3 0h0m7 0h0m1 0h0m6 0h0m2 0h0m1 0h0m1 0h0m1 0h0m3 0h0m2 0h0m-47 1h0m4 0h0m1 0h0m1 0h0m3 0h0m3 0h0m2 0h0m4 0h0m1 0h0m2 0h0m8 0h0m8 0h0m5 0h0m2 0h0m-46 1h0m3 0h0m2 0h0m9 0h0m3 0h0m3 0h0m1 0h0m1 0h0m2 0h0m1 0h0m3 0h0m3 0h0m14 0h0m2 0h0m1 0h0m-43 1h0m3 0h0m1 0h0m1 0h0m2 0h0m7 0h0m2 0h0m1 0h0m1 0h0m4 0h0m3 0h0m18 0h0m-48 1h0m4 0h0m7 0h0m4 0h0m1 0h0m2 0h0m2 0h0m2 0h0m4 0h0m3 0h0m5 0h0m14 0h0m4 0h0m-50 1h0m3 0h0m4 0h0m7 0h0m2 0h0m7 0h0m5 0h0m1 0h0m2 0h0m12 0h0m2 0h0m1 0h0m2 0h0m-39 1h0m2 0h0m5 0h0m1 0h0m1 0h0m10 0h0m4 0h0m13 0h0m-45 1h0m3 0h0m1 0h0m9 0h0m1 0h0m2 0h0m2 0h0m1 0h0m3 0h0m1 0h0m2 0h0m18 0h0m1 0h0m-41 1h0m1 0h0m2 0h0m18 0h0m1 0h0m4 0h0m2 0h0m1 0h0m1 0h0m9 0h0m7 0h0m-49 1h0m18 0h0m5 0h0m5 0h0m3 0h0m11 0h0m1 0h0m4 0h0m-44 1h0m1 0h0m6 0h0m2 0h0m7 0h0m2 0h0m1 0h0m1 0h0m2 0h0m1 0h0m1 0h0m1 0h0m1 0h0m2 0h0m1 0h0m2 0h0m10 0h0m5 0h0m-46 1h0m6 0h0m6 0h0m1 0h0m9 0h0m1 0h0m4 0h0m1 0h0m2 0h0m1 0h0m10 0h0m1 0h0m3 0h0m-42 1h0m1 0h0m1 0h0m2 0h0m11 0h0m4 0h0m1 0h0m2 0h0m1 0h0m1 0h0m14 0h0m-44 1h0m6 0h0m4 0h0m3 0h0m5 0h0m1 0h0m1 0h0m4 0h0m20 0h0m1 0h0m1 0h0m-45 1h0m2 0h0m4 0h0m1 0h0m1 0h0m19 0h0m1 0h0m4 0h0m11 0h0m1 0h0m3 0h0m2 0h0m2 0h0m-50 1h0m4 0h0m7 0h0m1 0h0m1 0h0m3 0h0m8 0h0m1 0h0m1 0h0m1 0h0m3 0h0m13 0h0m1 0h0m4 0h0m-49 1h0m2 0h0m11 0h0m4 0h0m1 0h0m1 0h0m2 0h0m6 0h0m5 0h0m8 0h0m7 0h0m2 0h0m-32 1h0m3 0h0m12 0h0m8 0h0m5 0h0m-33 1h0m9 0h0m6 0h0m2 0h0m3 0h0m9 0h0m2 0h0m3 0h0m-42 1h0m28 0h0m1 0h0m-1 1h0m2 0h0m9 0h0m2 0h0m2 0h0m-43 1h0m26 0h0m12 0h0m-16 1h0m7 0h0m1 0h0m10 0h0m1 0h0m-17 1h0m4 0h0m1 0h0m13 0h0m1 0h0m-16 1h0m2 0h0m10 0h0m-14 1h0m1 0h0m1 0h0m2 0h0m10 0h0m7 0h0m-17 1h0m1 0h0m1 0h0m6 0h0m1 0h0m1 0h0m-15 1h0m3 0h0m11 0h0m-19 2h0m1 0h0m2 0h0m15 0h0m3 0h0m3 0h0m-34 1h0m26 0h0m1 0h0m1 0h0m-28 1h0m3 0h0m-6 1h0m30 0h0m15 0h0m-54 1h0m8 0h0m29 0h0m2 0h0m1 0h0m1 0h0m-41 1h0m40 0h0m5 0h0m-7 1h0m1 0h0m-53 1h0m47 0h0m5 0h0m-50 1h0m45 0h0m2 0h0m1 0h0m10 0h0m-60 1h0m52 0h0m-53 1h0m1 0h0m44 0h0m3 0h0m2 0h0m1 0h0m2 0h0m2 0h0m-57 1h0m48 0h0m-48 1h0m2 0h0m35 0h0m3 0h0m-40 1h0m33 0h0m-33 1h0m2 0h0m52 0h0m-54 1h0m3 0h0m27 0h0m29 0h0m-37 1h0m2 0h0m2 0h0m-43 1h0m9 0h0m10 1h0m59 0h0m-17 2h0" stroke="#3048b0" stroke-width="1.1" stroke-linecap="round" fill="none"/>
<path transform="translate(130.3 1103.7) scale(1)" d="M69 67h0m0 1h0m1 0h0m-1 1h0m-1 1h0m2 0h0m-1 1h0m8 0h0m-8 1h0m1 0h0m1 0h0m1 0h0m1 0h0m2 0h0m4 0h0m-10 1h0m1 0h0m1 0h0m3 0h0m2 0h0m1 0h0m2 0h0m-9 1h0m1 0h0m2 0h0m2 0h0m1 0h0m1 0h0m1 0h0m-5 1h0m1 0h0m1 0h0m2 0h0m1 0h0m1 0h0m-8 1h0m2 0h0m3 0h0m2 0h0m-6 1h0m2 0h0m2 0h0m2 0h0m-7 1h0m2 0h0m1 0h0m1 0h0m1 0h0m2 0h0m-7 1h0m1 0h0m1 0h0m1 0h0m2 0h0m-4 1h0m2 0h0m4 0h0m1 0h0m-3 1h0m2 0h0m-5 1h0m1 0h0m1 0h0m1 0h0m2 0h0m-8 1h0m3 0h0m2 0h0m1 0h0m1 0h0m2 0h0m1 0h0m1 0h0m-10 1h0m1 0h0m1 0h0m4 0h0m2 0h0m-8 1h0m1 0h0m1 0h0m2 0h0m2 0h0m1 0h0m1 0h0m-8 1h0m1 0h0m1 0h0m1 0h0m1 0h0m1 0h0m-6 1h0m1 0h0m1 0h0m4 0h0m-4 1h0m3 0h0m-4 1h0m2 0h0m1 0h0m1 0h0m2 0h0m1 0h0m1 0h0m-7 1h0m1 0h0m3 0h0m1 0h0m1 0h0m-2 1h0m2 0h0m1 0h0m-6 1h0m2 0h0m1 0h0m2 0h0m2 0h0m-4 1h0m1 0h0m1 0h0m1 0h0m2 0h0m-5 1h0m1 0h0m2 0h0m-6 1h0m7 0h0m-8 1h0m4 0h0m1 0h0m1 0h0m-5 1h0m1 0h0m1 0h0m1 0h0m2 0h0m-5 1h0m1 0h0m1 0h0m1 0h0m-14 1h0m5 0h0m3 0h0m3 0h0m2 0h0m1 0h0m1 0h0m1 0h0m-17 1h0m2 0h0m1 0h0m1 0h0m1 0h0m2 0h0m2 0h0m2 0h0m1 0h0m3 0h0m-22 1h0m4 0h0m7 0h0m1 0h0m6 0h0m1 0h0m1 0h0m1 0h0m-26 1h0m5 0h0m1 0h0m17 0h0m3 0h0m-28 1h0m2 0h0m2 0h0m20 0h0m3 0h0m-30 1h0m1 0h0m27 0h0m1 0h0m-39 1h0m9 0h0m28 0h0m2 0h0m-43 1h0m11 0h0m1 0h0m27 0h0m1 0h0m1 0h0m-44 1h0m42 0h0m-41 1h0m38 0h0m4 0h0m-10 1h0m1 0h0m3 0h0m2 0h0m-8 1h0m2 0h0m2 0h0m2 0h0m-37 1h0m28 0h0m6 0h0m-35 1h0m19 0h0m1 0h0m2 0h0m1 0h0m3 0h0m-26 1h0m17 0h0m1 0h0m4 0h0m4 0h0m-12 1h0m2 0h0m2 0h0m-17 1h0m8 0h0m4 0h0m3 0h0m-4 1h0" stroke="#2c64c4" stroke-width="1.1" stroke-linecap="round" fill="none"/>
<path transform="translate(130.3 1103.7) scale(1)" d="M67 100h0m1 0h0m-4 1h0m1 0h0m1 0h0m1 0h0m1 0h0m1 0h0m2 0h0m-14 1h0m3 0h0m2 0h0m1 0h0m2 0h0m3 0h0m1 0h0m2 0h0m-17 1h0m1 0h0m1 0h0m1 0h0m2 0h0m3 0h0m1 0h0m1 0h0m1 0h0m1 0h0m3 0h0m1 0h0m1 0h0m-24 1h0m3 0h0m1 0h0m1 0h0m1 0h0m1 0h0m1 0h0m2 0h0m1 0h0m11 0h0m2 0h0m-27 1h0m2 0h0m1 0h0m20 0h0m1 0h0m1 0h0m1 0h0m-36 1h0m4 0h0m2 0h0m2 0h0m2 0h0m21 0h0m1 0h0m1 0h0m1 0h0m-29 1h0m3 0h0m1 0h0m18 0h0m1 0h0m2 0h0m1 0h0m2 0h0m-39 1h0m29 0h0m1 0h0m3 0h0m1 0h0m1 0h0m-9 1h0m1 0h0m1 0h0m2 0h0m1 0h0m3 0h0m-11 1h0m3 0h0m1 0h0m2 0h0m2 0h0m-16 1h0m1 0h0m1 0h0m3 0h0m3 0h0m-6 1h0m-18 1h0m1 0h0m14 0h0m-14 1h0m1 0h0m1 0h0m6 0h0m2 0h0m4 0h0m-5 1h0m2 0h0" stroke="#28a4cc" stroke-width="1.1" stroke-linecap="round" fill="none"/>
<path transform="translate(130.3 1103.7) scale(1)" d="M59 103h0m2 0h0m1 0h0m2 0h0m3 0h0m1 0h0m1 0h0m-18 1h0m1 0h0m1 0h0m1 0h0m1 0h0m1 0h0m2 0h0m1 0h0m1 0h0m1 0h0m1 0h0m1 0h0m1 0h0m1 0h0m1 0h0m1 0h0m1 0h0m1 0h0m-21 1h0m2 0h0m1 0h0m1 0h0m1 0h0m2 0h0m1 0h0m1 0h0m1 0h0m1 0h0m1 0h0m1 0h0m1 0h0m1 0h0m1 0h0m1 0h0m2 0h0m-23 1h0m2 0h0m1 0h0m6 0h0m1 0h0m1 0h0m2 0h0m1 0h0m1 0h0m1 0h0m1 0h0m1 0h0m1 0h0m1 0h0m-30 1h0m1 0h0m2 0h0m7 0h0m3 0h0m7 0h0m1 0h0m1 0h0m1 0h0m1 0h0m1 0h0m1 0h0m3 0h0m1 0h0m-33 1h0m1 0h0m2 0h0m2 0h0m2 0h0m1 0h0m2 0h0m1 0h0m1 0h0m2 0h0m8 0h0m1 0h0m1 0h0m1 0h0m1 0h0m2 0h0m-29 1h0m12 0h0m1 0h0m1 0h0m1 0h0m7 0h0m1 0h0m1 0h0m1 0h0m1 0h0m1 0h0m-28 1h0m13 0h0m1 0h0m1 0h0m3 0h0m1 0h0m2 0h0m1 0h0m2 0h0m-26 1h0m14 0h0m1 0h0m1 0h0m2 0h0m3 0h0m-20 2h0m1 0h0m9 0h0m1 0h0m1 0h0m-7 1h0m5 0h0m1 0h0m-6 1h0" stroke="#30bc8c" stroke-width="1.1" stroke-linecap="round" fill="none"/>
<path transform="translate(130.3 1103.7) scale(1)" d="M49 105h0m2 0h0m-4 1h0m1 0h0m1 0h0m1 0h0m1 0h0m2 0h0m1 0h0m1 0h0m-9 1h0m1 0h0m1 0h0m1 0h0m1 0h0m1 0h0m1 0h0m1 0h0m1 0h0m1 0h0m-25 1h0m2 0h0m7 0h0m6 0h0m1 0h0m1 0h0m1 0h0m2 0h0m1 0h0m1 0h0m1 0h0m-24 1h0m9 0h0m1 0h0m1 0h0m5 0h0m1 0h0m1 0h0m1 0h0m1 0h0m1 0h0m1 0h0m1 0h0m-24 1h0m1 0h0m1 0h0m10 0h0m1 0h0m1 0h0m4 0h0m1 0h0m3 0h0m1 0h0m-23 1h0m1 0h0m10 0h0m1 0h0m1 0h0m1 0h0m-14 1h0m1 0h0m10 0h0m2 0h0m-12 1h0m2 0h0m1 0h0m1 0h0m1 0h0m3 0h0m2 0h0m-9 1h0m1 0h0m1 0h0m1 0h0m1 0h0m2 0h0" stroke="#70cc40" stroke-width="1.1" stroke-linecap="round" fill="none"/>
<path transform="translate(130.3 1103.7) scale(1)" d="M50 107h0m1 0h0m-18 1h0m1 0h0m1 0h0m1 0h0m1 0h0m1 0h0m10 0h0m1 0h0m1 0h0m1 0h0m-20 1h0m2 0h0m2 0h0m1 0h0m1 0h0m1 0h0m1 0h0m10 0h0m1 0h0m-21 1h0m1 0h0m9 0h0m1 0h0m-11 1h0m1 0h0m8 0h0m1 0h0m1 0h0m-11 1h0m1 0h0m1 0h0m5 0h0m1 0h0m1 0h0m-9 1h0m2 0h0m6 0h0m1 0h0" stroke="#d0dc20" stroke-width="1.1" stroke-linecap="round" fill="none"/>
<path transform="translate(130.3 1103.7) scale(1)" d="M31 109h0m1 0h0m1 0h0m1 0h0m2 0h0m-6 1h0m2 0h0m1 0h0m1 0h0m1 0h0m1 0h0m1 0h0m1 0h0m-8 1h0m1 0h0m5 0h0m1 0h0m-7 1h0m1 0h0m1 0h0m1 0h0m1 0h0m1 0h0m1 0h0m1 0h0m-6 1h0m1 0h0m1 0h0m2 0h0m1 0h0" stroke="#f8a010" stroke-width="1.1" stroke-linecap="round" fill="none"/>
<path transform="translate(130.3 1103.7) scale(1)" d="M31 110h0m1 0h0m1 0h0m1 0h0m2 0h0m1 0h0m-6 1h0m1 0h0m1 0h0m1 0h0m1 0h0m1 0h0m1 0h0m-6 1h0m1 0h0m1 0h0m1 0h0m1 0h0" stroke="#f02010" stroke-width="1.1" stroke-linecap="round" fill="none"/>
<line x1="188.1" y1="1103.7" x2="188.1" y2="1248.9" stroke="#2a2a2a" stroke-width="1.4"/>
<line x1="130.3" y1="1190" x2="276.5" y2="1190" stroke="#2a2a2a" stroke-width="1.4"/>
<rect x="130.3" y="1103.7" width="146.2" height="145.2" fill="none" stroke="#333" stroke-width="1.1"/>
<text x="134.3" y="1127.9" font-size="15.5" fill="#231f20">3.98</text>
<text x="272.5" y="1127.9" font-size="15.5" text-anchor="end" fill="#231f20">11.0</text>
<text x="133.3" y="1236.3" font-size="15.5" fill="#231f20">62.1</text>
<text x="272.5" y="1236.3" font-size="15.5" text-anchor="end" fill="#231f20">23.0</text>
<path d="M126.3 1117.7h4M126.3 1151.3h4M126.3 1190.8h4M126.3 1216.9h4M126.3 1241.9h4M128.3 1141.2h2M128.3 1135.3h2M128.3 1131.1h2M128.3 1127.8h2M128.3 1125.2h2M128.3 1122.9h2M128.3 1121h2M128.3 1119.3h2M128.3 1178.9h2M128.3 1171.9h2M128.3 1167h2M128.3 1163.2h2M128.3 1160h2M128.3 1157.4h2M128.3 1155.1h2M128.3 1153.1h2M128.3 1195.2h2M128.3 1221h2M128.3 1199.5h2M128.3 1225.2h2M128.3 1203.8h2M128.3 1229.4h2M128.3 1208.2h2M128.3 1233.5h2M128.3 1212.5h2M128.3 1237.7h2" fill="none" stroke="#444" stroke-width="0.9"/>
<rect x="126.3" y="1213.9" width="3" height="6" fill="#222"/>
<text x="127.3" y="1121.7" font-size="11" text-anchor="end" fill="#333">10<tspan font-size="6.8" dy="-4.6">5</tspan></text>
<text x="127.3" y="1155.3" font-size="11" text-anchor="end" fill="#333">10<tspan font-size="6.8" dy="-4.6">4</tspan></text>
<text x="127.3" y="1194.8" font-size="11" text-anchor="end" fill="#333">10<tspan font-size="6.8" dy="-4.6">3</tspan></text>
<text x="125.3" y="1220.9" font-size="11" text-anchor="end" fill="#333">0</text>
<text x="127.3" y="1245.9" font-size="11" text-anchor="end" fill="#333">-10<tspan font-size="6.8" dy="-4.6">3</tspan></text>
<path d="M138.3 1248.9v4M163.3 1248.9v4M191.9 1248.9v4M229.9 1248.9v4M263.5 1248.9v4M203.3 1248.9v2M210 1248.9v2M214.8 1248.9v2M218.5 1248.9v2M221.5 1248.9v2M224 1248.9v2M226.2 1248.9v2M228.2 1248.9v2M240 1248.9v2M245.9 1248.9v2M250.1 1248.9v2M253.4 1248.9v2M256 1248.9v2M258.3 1248.9v2M260.2 1248.9v2M261.9 1248.9v2M142.5 1248.9v2M168.1 1248.9v2M146.7 1248.9v2M172.9 1248.9v2M150.8 1248.9v2M177.6 1248.9v2M155 1248.9v2M182.4 1248.9v2M159.2 1248.9v2M187.1 1248.9v2" fill="none" stroke="#444" stroke-width="0.9"/>
<rect x="157.3" y="1249.9" width="7" height="3" fill="#222"/>
<text x="141.3" y="1267.4" font-size="13.5" text-anchor="middle" fill="#222">-10<tspan font-size="8.4" dy="-5.7">3</tspan></text>
<text x="163.3" y="1267.4" font-size="13.5" text-anchor="middle" fill="#222">0</text>
<text x="194.9" y="1267.4" font-size="13.5" text-anchor="middle" fill="#222">10<tspan font-size="8.4" dy="-5.7">3</tspan></text>
<text x="232.9" y="1267.4" font-size="13.5" text-anchor="middle" fill="#222">10<tspan font-size="8.4" dy="-5.7">4</tspan></text>
<text x="266.5" y="1267.4" font-size="13.5" text-anchor="middle" fill="#222">10<tspan font-size="8.4" dy="-5.7">5</tspan></text>
<path transform="translate(294.6 1103.7) scale(1)" d="M79 44h0m-17 2h0m6 0h0m11 0h0m-11 1h0m5 0h0m-15 1h0m12 0h0m4 0h0m-9 1h0m1 0h0m4 0h0m2 0h0m-20 1h0m8 0h0m3 0h0m4 0h0m1 0h0m7 0h0m-23 1h0m1 0h0m1 0h0m2 0h0m7 0h0m3 0h0m5 0h0m1 0h0m8 0h0m-30 1h0m1 0h0m3 0h0m9 0h0m1 0h0m3 0h0m2 0h0m3 0h0m-34 1h0m2 0h0m6 0h0m6 0h0m4 0h0m1 0h0m3 0h0m2 0h0m2 0h0m1 0h0m8 0h0m-27 1h0m8 0h0m3 0h0m2 0h0m3 0h0m2 0h0m4 0h0m3 0h0m-38 1h0m1 0h0m6 0h0m1 0h0m1 0h0m2 0h0m1 0h0m2 0h0m7 0h0m5 0h0m3 0h0m1 0h0m6 0h0m1 0h0m1 0h0m5 0h0m-42 1h0m1 0h0m1 0h0m2 0h0m1 0h0m3 0h0m4 0h0m1 0h0m1 0h0m2 0h0m2 0h0m2 0h0m1 0h0m1 0h0m4 0h0m1 0h0m2 0h0m1 0h0m8 0h0m7 0h0m-47 1h0m2 0h0m2 0h0m1 0h0m5 0h0m2 0h0m1 0h0m1 0h0m2 0h0m5 0h0m1 0h0m2 0h0m3 0h0m1 0h0m2 0h0m6 0h0m1 0h0m1 0h0m6 0h0m-42 1h0m1 0h0m1 0h0m9 0h0m1 0h0m1 0h0m2 0h0m3 0h0m1 0h0m1 0h0m1 0h0m1 0h0m1 0h0m2 0h0m3 0h0m4 0h0m1 0h0m2 0h0m1 0h0m4 0h0m2 0h0m-45 1h0m2 0h0m1 0h0m1 0h0m1 0h0m3 0h0m4 0h0m4 0h0m2 0h0m2 0h0m1 0h0m1 0h0m4 0h0m1 0h0m1 0h0m5 0h0m1 0h0m1 0h0m7 0h0m1 0h0m2 0h0m1 0h0m7 0h0m-50 1h0m1 0h0m2 0h0m1 0h0m1 0h0m3 0h0m4 0h0m4 0h0m1 0h0m1 0h0m2 0h0m4 0h0m3 0h0m1 0h0m3 0h0m1 0h0m6 0h0m-38 1h0m2 0h0m4 0h0m1 0h0m6 0h0m2 0h0m1 0h0m1 0h0m1 0h0m8 0h0m2 0h0m1 0h0m1 0h0m1 0h0m2 0h0m1 0h0m4 0h0m2 0h0m2 0h0m-46 1h0m2 0h0m2 0h0m3 0h0m1 0h0m2 0h0m3 0h0m5 0h0m1 0h0m9 0h0m8 0h0m1 0h0m3 0h0m1 0h0m3 0h0m2 0h0m1 0h0m-36 1h0m1 0h0m2 0h0m1 0h0m1 0h0m1 0h0m18 0h0m4 0h0m1 0h0m-32 1h0m3 0h0m4 0h0m2 0h0m1 0h0m18 0h0m1 0h0m2 0h0m1 0h0m1 0h0m4 0h0m2 0h0m4 0h0m-52 1h0m5 0h0m1 0h0m2 0h0m2 0h0m7 0h0m22 0h0m4 0h0m3 0h0m2 0h0m1 0h0m2 0h0m-44 1h0m5 0h0m4 0h0m1 0h0m1 0h0m2 0h0m3 0h0m1 0h0m13 0h0m1 0h0m1 0h0m2 0h0m4 0h0m1 0h0m2 0h0m1 0h0m1 0h0m-46 1h0m1 0h0m2 0h0m1 0h0m2 0h0m3 0h0m3 0h0m1 0h0m1 0h0m1 0h0m5 0h0m1 0h0m1 0h0m2 0h0m3 0h0m15 0h0m2 0h0m1 0h0m-45 1h0m3 0h0m1 0h0m1 0h0m2 0h0m2 0h0m1 0h0m2 0h0m2 0h0m1 0h0m1 0h0m2 0h0m1 0h0m2 0h0m2 0h0m1 0h0m1 0h0m9 0h0m2 0h0m5 0h0m2 0h0m1 0h0m2 0h0m-42 1h0m2 0h0m7 0h0m2 0h0m2 0h0m1 0h0m2 0h0m2 0h0m1 0h0m1 0h0m3 0h0m1 0h0m5 0h0m6 0h0m4 0h0m-42 1h0m2 0h0m2 0h0m1 0h0m1 0h0m3 0h0m2 0h0m2 0h0m1 0h0m1 0h0m1 0h0m2 0h0m4 0h0m4 0h0m2 0h0m1 0h0m1 0h0m2 0h0m1 0h0m1 0h0m6 0h0m-43 1h0m3 0h0m4 0h0m1 0h0m1 0h0m7 0h0m5 0h0m1 0h0m1 0h0m2 0h0m2 0h0m3 0h0m2 0h0m2 0h0m7 0h0m1 0h0m-40 1h0m1 0h0m4 0h0m4 0h0m1 0h0m2 0h0m1 0h0m1 0h0m1 0h0m1 0h0m3 0h0m1 0h0m2 0h0m2 0h0m5 0h0m3 0h0m3 0h0m1 0h0m1 0h0m5 0h0m-37 1h0m6 0h0m1 0h0m1 0h0m2 0h0m2 0h0m3 0h0m2 0h0m3 0h0m2 0h0m2 0h0m1 0h0m3 0h0m1 0h0m3 0h0m3 0h0m6 0h0m-46 1h0m3 0h0m1 0h0m3 0h0m5 0h0m1 0h0m2 0h0m1 0h0m6 0h0m1 0h0m2 0h0m1 0h0m4 0h0m2 0h0m1 0h0m2 0h0m2 0h0m-31 1h0m2 0h0m1 0h0m1 0h0m1 0h0m1 0h0m4 0h0m1 0h0m1 0h0m4 0h0m1 0h0m8 0h0m5 0h0m-33 1h0m1 0h0m2 0h0m5 0h0m1 0h0m1 0h0m1 0h0m4 0h0m1 0h0m1 0h0m2 0h0m1 0h0m7 0h0m-26 1h0m2 0h0m3 0h0m3 0h0m4 0h0m3 0h0m2 0h0m3 0h0m-23 1h0m1 0h0m1 0h0m2 0h0m13 0h0m2 0h0m1 0h0m-18 1h0m3 0h0m1 0h0m1 0h0m4 0h0m-8 1h0m1 0h0m1 0h0m16 0h0m-20 1h0m2 0h0m1 0h0m1 0h0m-6 1h0m3 0h0m1 0h0m1 0h0m4 0h0m-7 1h0m3 0h0m2 0h0m2 0h0m-6 1h0m6 0h0m1 0h0m-9 1h0m7 0h0m-4 1h0m3 0h0m4 0h0m1 0h0m4 0h0m-12 1h0m2 0h0m1 0h0m3 0h0m-7 1h0m2 0h0m1 0h0m-1 1h0m1 0h0m2 0h0m3 0h0m-11 1h0m3 0h0m6 0h0m-10 1h0m1 0h0m1 0h0m2 0h0m2 0h0m2 0h0m2 0h0m6 0h0m9 0h0m-21 1h0m2 0h0m3 0h0m-9 1h0m2 0h0m1 0h0m15 0h0m1 0h0m5 0h0m-22 1h0m3 0h0m4 0h0m1 0h0m6 0h0m3 0h0m1 0h0m3 0h0m-19 1h0m1 0h0m5 0h0m2 0h0m2 0h0m2 0h0m5 0h0m1 0h0m6 0h0m-22 1h0m1 0h0m4 0h0m5 0h0m5 0h0m1 0h0m1 0h0m-20 1h0m3 0h0m1 0h0m3 0h0m5 0h0m1 0h0m2 0h0m2 0h0m1 0h0m1 0h0m3 0h0m-25 1h0m2 0h0m5 0h0m2 0h0m3 0h0m1 0h0m1 0h0m1 0h0m2 0h0m2 0h0m1 0h0m1 0h0m3 0h0m2 0h0m2 0h0m-30 1h0m8 0h0m5 0h0m1 0h0m2 0h0m1 0h0m1 0h0m2 0h0m1 0h0m1 0h0m4 0h0m1 0h0m2 0h0m-30 1h0m4 0h0m1 0h0m3 0h0m3 0h0m1 0h0m1 0h0m1 0h0m1 0h0m1 0h0m3 0h0m1 0h0m2 0h0m1 0h0m1 0h0m2 0h0m-27 1h0m11 0h0m2 0h0m1 0h0m2 0h0m5 0h0m1 0h0m1 0h0m1 0h0m2 0h0m4 0h0m1 0h0m-29 1h0m5 0h0m6 0h0m1 0h0m1 0h0m4 0h0m1 0h0m5 0h0m1 0h0m1 0h0m1 0h0m-26 1h0m6 0h0m6 0h0m7 0h0m3 0h0m1 0h0m3 0h0m1 0h0m5 0h0m-17 1h0m2 0h0m1 0h0m2 0h0m2 0h0m1 0h0m5 0h0m4 0h0m-37 1h0m2 0h0m1 0h0m16 0h0m2 0h0m1 0h0m1 0h0m1 0h0m10 0h0m1 0h0m-29 1h0m13 0h0m1 0h0m1 0h0m5 0h0m1 0h0m3 0h0m-8 1h0m1 0h0m1 0h0m2 0h0m1 0h0m2 0h0m2 0h0m2 0h0m-29 1h0m15 0h0m1 0h0m1 0h0m2 0h0m2 0h0m9 0h0m-29 1h0m16 0h0m1 0h0m1 0h0m1 0h0m-3 1h0m-17 1h0m15 0h0m3 0h0m1 0h0m1 0h0m-22 1h0m16 0h0m1 0h0m1 0h0m-2 1h0m-1 1h0m-19 1h0m6 0h0m11 0h0m3 0h0m-13 1h0m7 0h0m-6 1h0m2 0h0m2 0h0m1 0h0m1 0h0m4 0h0m2 0h0m-12 1h0m3 0h0m1 0h0m5 0h0m1 1h0m-7 1h0m3 0h0m-3 3h0m4 0h0m2 0h0" stroke="#3048b0" stroke-width="1.1" stroke-linecap="round" fill="none"/>
<path transform="translate(294.6 1103.7) scale(1)" d="M54 59h0m0 1h0m1 0h0m-2 1h0m1 0h0m2 0h0m7 0h0m1 0h0m-15 1h0m1 0h0m1 0h0m3 0h0m1 0h0m1 0h0m1 0h0m1 0h0m2 0h0m1 0h0m1 0h0m1 0h0m1 0h0m-16 1h0m1 0h0m1 0h0m2 0h0m1 0h0m2 0h0m1 0h0m1 0h0m3 0h0m2 0h0m2 0h0m1 0h0m-16 1h0m1 0h0m1 0h0m1 0h0m1 0h0m3 0h0m1 0h0m1 0h0m2 0h0m1 0h0m2 0h0m3 0h0m-18 1h0m1 0h0m2 0h0m1 0h0m1 0h0m1 0h0m1 0h0m1 0h0m1 0h0m1 0h0m1 0h0m3 0h0m1 0h0m-7 1h0m3 0h0m1 0h0m1 0h0m3 0h0m2 0h0m-11 1h0m1 0h0m6 0h0m1 0h0m1 0h0m1 0h0m-4 1h0m1 0h0m3 0h0m-3 1h0m1 0h0m1 0h0m-2 1h0m-24 33h0m1 0h0m1 0h0m1 0h0m-7 1h0m1 0h0m3 0h0m2 0h0m1 0h0m1 0h0m-10 1h0m1 0h0m8 0h0m1 0h0m1 0h0m-11 1h0m9 0h0m1 0h0m-12 1h0m1 0h0m12 0h0m-2 1h0m2 0h0m1 0h0m-13 1h0m11 0h0m1 0h0m1 0h0m-13 1h0m12 0h0m-13 1h0m11 0h0m2 0h0m-12 1h0m10 0h0m1 0h0m-10 1h0m0 1h0m6 0h0m3 0h0m-9 1h0m2 0h0m7 0h0m-7 1h0" stroke="#2c64c4" stroke-width="1.1" stroke-linecap="round" fill="none"/>
<path transform="translate(294.6 1103.7) scale(1)" d="M36 104h0m1 0h0m1 0h0m-2 1h0m1 0h0m1 0h0m-5 1h0m6 0h0m1 1h0m0 1h0m1 0h0m-9 1h0m-1 1h0m1 0h0m10 0h0m-1 1h0m-9 1h0m1 0h0m7 0h0m1 0h0m-9 1h0m1 0h0m1 0h0m-2 1h0m1 0h0m1 0h0m3 0h0m2 0h0m1 0h0m-6 1h0" stroke="#28a4cc" stroke-width="1.1" stroke-linecap="round" fill="none"/>
<path transform="translate(294.6 1103.7) scale(1)" d="M35 105h0m1 0h0m-3 1h0m3 0h0m1 0h0m2 0h0m-6 1h0m1 0h0m5 0h0m-7 1h0m1 0h0m-1 1h0m1 0h0m8 0h0m-9 1h0m1 0h0m8 0h0m-8 1h0m6 0h0m1 0h0m-7 1h0m1 0h0m0 1h0m3 0h0m1 0h0m1 0h0m1 0h0m-5 1h0m1 0h0m1 0h0" stroke="#30bc8c" stroke-width="1.1" stroke-linecap="round" fill="none"/>
<path transform="translate(294.6 1103.7) scale(1)" d="M35 106h0m2 0h0m-3 1h0m2 0h0m2 0h0m1 0h0m-5 1h0m5 0h0m1 0h0m-1 1h0m1 0h0m-1 1h0m1 0h0m-7 1h0m1 0h0m5 0h0m1 0h0m-6 1h0m1 0h0m3 0h0m0 1h0m1 0h0" stroke="#70cc40" stroke-width="1.1" stroke-linecap="round" fill="none"/>
<path transform="translate(294.6 1103.7) scale(1)" d="M37 106h0m-2 1h0m1 0h0m1 0h0m1 0h0m1 0h0m-4 1h0m2 0h0m1 0h0m1 0h0m-6 1h0m1 0h0m4 0h0m1 0h0m-6 1h0m1 0h0m4 0h0m1 0h0m-6 1h0m1 0h0m1 0h0m2 0h0m1 0h0m1 0h0m-5 1h0m1 0h0m1 0h0m1 0h0m1 0h0m1 0h0m-4 1h0m1 0h0m1 0h0" stroke="#d0dc20" stroke-width="1.1" stroke-linecap="round" fill="none"/>
<path transform="translate(294.6 1103.7) scale(1)" d="M35 107h0m1 0h0m1 0h0m-2 1h0m1 0h0m1 0h0m1 0h0m-4 1h0m1 0h0m2 0h0m1 0h0m-4 1h0m1 0h0m2 0h0m1 0h0m-4 1h0m1 0h0m1 0h0m1 0h0m1 0h0m-3 1h0m2 0h0" stroke="#f8a010" stroke-width="1.1" stroke-linecap="round" fill="none"/>
<path transform="translate(294.6 1103.7) scale(1)" d="M35 108h0m1 0h0m1 0h0m-2 1h0m1 0h0m1 0h0m1 0h0m-3 1h0m1 0h0m1 0h0m1 0h0m-3 1h0m1 0h0m1 0h0" stroke="#f02010" stroke-width="1.1" stroke-linecap="round" fill="none"/>
<line x1="336.9" y1="1103.7" x2="336.9" y2="1248.9" stroke="#2a2a2a" stroke-width="1.4"/>
<line x1="294.6" y1="1195.5" x2="439" y2="1195.5" stroke="#2a2a2a" stroke-width="1.4"/>
<rect x="294.6" y="1103.7" width="144.4" height="145.2" fill="none" stroke="#333" stroke-width="1.1"/>
<text x="298.6" y="1127.9" font-size="15.5" fill="#231f20">2.47</text>
<text x="435" y="1127.9" font-size="15.5" text-anchor="end" fill="#231f20">10.5</text>
<text x="297.6" y="1236.3" font-size="15.5" fill="#231f20">76.6</text>
<text x="435" y="1236.3" font-size="15.5" text-anchor="end" fill="#231f20">10.4</text>
<path d="M290.6 1117.7h4M290.6 1151.3h4M290.6 1190.8h4M290.6 1216.9h4M290.6 1241.9h4M292.6 1141.2h2M292.6 1135.3h2M292.6 1131.1h2M292.6 1127.8h2M292.6 1125.2h2M292.6 1122.9h2M292.6 1121h2M292.6 1119.3h2M292.6 1178.9h2M292.6 1171.9h2M292.6 1167h2M292.6 1163.2h2M292.6 1160h2M292.6 1157.4h2M292.6 1155.1h2M292.6 1153.1h2M292.6 1195.2h2M292.6 1221h2M292.6 1199.5h2M292.6 1225.2h2M292.6 1203.8h2M292.6 1229.4h2M292.6 1208.2h2M292.6 1233.5h2M292.6 1212.5h2M292.6 1237.7h2" fill="none" stroke="#444" stroke-width="0.9"/>
<rect x="290.6" y="1213.9" width="3" height="6" fill="#222"/>
<path d="M302.5 1248.9v4M327.2 1248.9v4M355.4 1248.9v4M393 1248.9v4M426.1 1248.9v4M366.7 1248.9v2M373.4 1248.9v2M378.1 1248.9v2M381.7 1248.9v2M384.7 1248.9v2M387.2 1248.9v2M389.4 1248.9v2M391.3 1248.9v2M403 1248.9v2M408.8 1248.9v2M413 1248.9v2M416.2 1248.9v2M418.8 1248.9v2M421 1248.9v2M422.9 1248.9v2M424.6 1248.9v2M306.6 1248.9v2M331.9 1248.9v2M310.8 1248.9v2M336.6 1248.9v2M314.9 1248.9v2M341.3 1248.9v2M319 1248.9v2M346 1248.9v2M323.1 1248.9v2M350.7 1248.9v2" fill="none" stroke="#444" stroke-width="0.9"/>
<rect x="321.2" y="1249.9" width="7" height="3" fill="#222"/>
<text x="305.5" y="1267.4" font-size="13.5" text-anchor="middle" fill="#222">-10<tspan font-size="8.4" dy="-5.7">3</tspan></text>
<text x="327.2" y="1267.4" font-size="13.5" text-anchor="middle" fill="#222">0</text>
<text x="358.4" y="1267.4" font-size="13.5" text-anchor="middle" fill="#222">10<tspan font-size="8.4" dy="-5.7">3</tspan></text>
<text x="396" y="1267.4" font-size="13.5" text-anchor="middle" fill="#222">10<tspan font-size="8.4" dy="-5.7">4</tspan></text>
<text x="429.1" y="1267.4" font-size="13.5" text-anchor="middle" fill="#222">10<tspan font-size="8.4" dy="-5.7">5</tspan></text>
<path transform="translate(473.4 1106.3) scale(1)" d="M94 43h0m10 4h0m-22 7h0m7 0h0m-10 1h0m1 0h0m6 0h0m2 0h0m4 0h0m-8 1h0m8 0h0m-14 1h0m11 0h0m8 0h0m2 0h0m-31 1h0m21 0h0m2 0h0m-28 1h0m19 0h0m4 0h0m1 0h0m9 0h0m-25 1h0m8 0h0m-9 1h0m37 0h0m-71 1h0m76 0h0m7 0h0m19 0h0m-69 1h0m7 0h0m27 0h0m2 0h0m7 0h0m1 0h0m23 0h0m-77 1h0m4 0h0m5 0h0m4 0h0m3 0h0m28 0h0m23 0h0m-91 1h0m4 0h0m11 0h0m1 0h0m10 0h0m11 0h0m33 0h0m2 0h0m6 0h0m-85 1h0m9 0h0m4 0h0m2 0h0m14 0h0m1 0h0m2 0h0m2 0h0m6 0h0m34 0h0m12 0h0m13 0h0m-87 1h0m8 0h0m1 0h0m7 0h0m3 0h0m2 0h0m54 0h0m9 0h0m-107 1h0m19 0h0m6 0h0m2 0h0m3 0h0m5 0h0m6 0h0m43 0h0m2 0h0m-87 1h0m19 0h0m3 0h0m2 0h0m7 0h0m6 0h0m3 0h0m3 0h0m42 0h0m6 0h0m22 0h0m-111 1h0m10 0h0m10 0h0m3 0h0m4 0h0m10 0h0m50 0h0m-79 1h0m13 0h0m2 0h0m1 0h0m7 0h0m10 0h0m43 0h0m-63 1h0m1 0h0m1 0h0m3 0h0m8 0h0m3 0h0m2 0h0m2 0h0m1 0h0m-31 1h0m17 0h0m3 0h0m3 0h0m2 0h0m1 0h0m4 0h0m42 0h0m8 0h0m5 0h0m-84 1h0m5 0h0m4 0h0m7 0h0m2 0h0m4 0h0m6 0h0m1 0h0m2 0h0m2 0h0m8 0h0m30 0h0m-89 1h0m5 0h0m14 0h0m3 0h0m7 0h0m1 0h0m5 0h0m16 0h0m1 0h0m1 0h0m3 0h0m2 0h0m2 0h0m-24 1h0m16 0h0m4 0h0m33 0h0m-65 1h0m5 0h0m11 0h0m11 0h0m9 0h0m29 0h0m1 0h0m3 0h0m-74 1h0m41 0h0m-53 1h0m2 0h0m4 0h0m50 0h0m22 0h0m4 0h0m-89 1h0m55 0h0m-29 1h0m31 0h0m32 0h0m2 0h0m-98 1h0m36 0h0m21 0h0m9 0h0m28 0h0m-32 1h0m33 0h0m4 0h0m5 0h0m-46 1h0m37 0h0m-45 1h0m15 0h0m30 0h0m1 0h0m2 0h0m-42 1h0m0 1h0m42 0h0m-5 1h0m1 0h0m2 0h0m-52 1h0m14 0h0m1 0h0m3 0h0m34 0h0m-62 1h0m22 0h0m4 0h0m5 0h0m29 0h0m-41 1h0m3 0h0m2 0h0m2 0h0m33 0h0m-42 1h0m8 0h0m2 0h0m31 0h0m7 0h0m-57 1h0m5 0h0m6 0h0m5 0h0m1 0h0m-26 1h0m3 0h0m2 0h0m10 0h0m5 0h0m2 0h0m-9 1h0m1 0h0m45 0h0m-49 1h0m4 0h0m-1 1h0m48 0h0m-60 1h0m12 0h0m40 0h0m-47 1h0m1 0h0m44 0h0m3 0h0m3 0h0m1 0h0m-52 1h0m3 0h0m-2 1h0m1 0h0m42 0h0m7 0h0m-55 1h0m5 0h0m48 0h0m-4 1h0m2 0h0m-52 1h0m1 0h0m3 0h0m47 0h0m-56 1h0m10 0h0m46 0h0m1 0h0m-57 1h0m2 0h0m51 0h0m3 0h0m2 0h0m1 1h0m-50 1h0m-2 1h0m-4 1h0m-6 1h0m8 0h0m55 0h0m6 0h0m-59 1h0m44 0h0m-50 1h0m51 0h0m-54 1h0m1 0h0m51 0h0m8 1h0m-12 1h0m-55 1h0m6 0h0m6 0h0m42 0h0m-44 1h0m40 0h0m10 0h0m2 0h0m-63 1h0m14 0h0m40 0h0m-48 1h0m2 0h0m1 1h0m2 0h0m4 0h0m33 0h0m1 0h0m1 0h0m-42 1h0m1 0h0m2 0h0m1 0h0m1 0h0m44 0h0m-50 1h0m7 0h0m34 0h0m5 0h0m1 0h0m-47 1h0m4 0h0m2 0h0m41 0h0m-57 1h0m8 0h0m5 0h0m40 0h0m-51 1h0m46 0h0m-36 1h0m3 0h0m1 0h0m-12 1h0m5 0h0m4 0h0m2 0h0m32 0h0m5 0h0m3 0h0m-47 1h0m36 1h0m3 0h0m8 0h0m-42 1h0m40 0h0m-44 1h0m2 0h0m1 0h0m4 0h0m21 0h0m3 0h0m3 0h0m8 0h0m-33 1h0m1 0h0m21 0h0m1 0h0m6 0h0m-35 1h0m8 0h0m10 0h0m4 0h0m7 0h0m2 0h0m13 0h0m-53 1h0m17 0h0m4 0h0m11 0h0m5 0h0m11 0h0m-47 1h0m15 0h0m1 0h0m4 0h0m8 0h0m4 0h0m4 0h0m5 0h0m-23 1h0m3 0h0m1 0h0m3 0h0m2 0h0m4 0h0m-10 1h0m2 0h0m32 0h0m-42 1h0m8 0h0m16 0h0m-32 1h0m13 0h0m4 0h0m1 0h0m-16 1h0m4 0h0m8 0h0m1 0h0m3 0h0m9 0h0m4 0h0" stroke="#3030e8" stroke-width="1.1" stroke-linecap="round" fill="none"/>
<path transform="translate(473.4 1106.3) scale(1)" d="M94 59h0m-6 1h0m1 0h0m3 0h0m2 0h0m3 0h0m-14 1h0m4 0h0m4 0h0m6 0h0m2 0h0m-20 1h0m1 0h0m2 0h0m2 0h0m2 0h0m2 0h0m1 0h0m3 0h0m2 0h0m2 0h0m1 0h0m-18 1h0m4 0h0m2 0h0m12 0h0m1 0h0m2 0h0m-2 1h0m3 0h0m1 0h0m-32 1h0m1 0h0m5 0h0m2 0h0m22 0h0m1 0h0m-31 1h0m5 0h0m24 0h0m3 0h0m-38 1h0m2 0h0m3 0h0m1 0h0m5 0h0m27 0h0m-40 1h0m3 0h0m1 0h0m2 0h0m1 0h0m1 0h0m1 0h0m2 0h0m2 0h0m22 0h0m1 0h0m4 0h0m-41 1h0m1 0h0m1 0h0m3 0h0m5 0h0m1 0h0m1 0h0m1 0h0m-11 1h0m1 0h0m1 0h0m1 0h0m3 0h0m2 0h0m5 0h0m21 0h0m2 0h0m-37 1h0m1 0h0m5 0h0m1 0h0m1 0h0m3 0h0m1 0h0m1 0h0m23 0h0m-34 1h0m1 0h0m3 0h0m2 0h0m1 0h0m4 0h0m1 0h0m-13 1h0m4 0h0m4 0h0m2 0h0m4 0h0m19 0h0m-31 1h0m2 0h0m6 0h0m1 0h0m1 0h0m1 0h0m2 0h0m1 0h0m18 0h0m-19 1h0m1 0h0m17 0h0m-16 1h0m16 0h0m1 0h0m-18 1h0m16 0h0m3 0h0m-4 1h0m-16 1h0m1 0h0m16 0h0m-17 1h0m-5 1h0m2 0h0m20 0h0m-21 1h0m2 0h0m20 0h0m-22 1h0m0 1h0m23 0h0m1 1h0m-27 1h0m25 0h0m1 0h0m1 0h0m-3 1h0m-24 1h0m25 0h0m-1 1h0m-24 1h0m-1 1h0m25 0h0m-27 1h0m1 0h0m26 0h0m-2 1h0m-30 1h0m5 0h0m1 0h0m1 0h0m22 0h0m1 0h0m-40 1h0m2 0h0m8 0h0m27 0h0m2 0h0m3 0h0m-37 1h0m6 0h0m1 0h0m1 0h0m24 0h0m2 0h0m1 0h0m-41 1h0m1 0h0m2 0h0m1 0h0m3 0h0m2 0h0m3 0h0m2 0h0m27 0h0m-38 1h0m2 0h0m1 0h0m1 0h0m1 0h0m1 0h0m1 0h0m-6 1h0m3 0h0m2 0h0m25 0h0m2 0h0m-41 1h0m2 0h0m1 0h0m2 0h0m3 0h0m4 0h0m1 0h0m26 0h0m1 0h0m1 0h0m-42 1h0m2 0h0m1 0h0m3 0h0m-4 1h0m2 0h0m-1 1h0m-3 1h0m1 0h0m1 0h0m36 0h0m1 0h0m1 0h0m-39 1h0m1 0h0m2 0h0m30 0h0m-32 1h0m1 0h0m32 0h0m1 0h0m2 0h0m1 0h0m-39 1h0m36 0h0m2 0h0m2 0h0m-5 1h0m-36 1h0m2 0h0m1 0h0m31 0h0m1 0h0m1 0h0m1 0h0m-37 1h0m34 0h0m4 0h0m-40 1h0m1 0h0m1 0h0m1 0h0m2 0h0m32 0h0m2 0h0m1 0h0m-43 1h0m3 0h0m2 0h0m2 0h0m29 0h0m1 0h0m1 0h0m3 0h0m1 0h0m-43 1h0m3 0h0m3 0h0m1 0h0m1 0h0m27 0h0m1 0h0m2 0h0m2 0h0m-41 1h0m1 0h0m1 0h0m38 0h0m1 0h0m1 0h0m1 0h0m-43 1h0m1 0h0m2 0h0m1 0h0m1 0h0m1 0h0m1 0h0m27 0h0m1 0h0m2 0h0m2 0h0m2 0h0m-36 1h0m31 0h0m2 0h0m-34 1h0m1 0h0m30 0h0m4 0h0m-39 1h0m3 0h0m2 0h0m26 0h0m2 0h0m-32 1h0m1 0h0m1 0h0m1 0h0m31 0h0m-34 1h0m28 0h0m2 0h0m1 0h0m2 0h0m1 0h0m-31 1h0m2 0h0m22 0h0m4 0h0m3 0h0m-30 1h0m23 0h0m1 0h0m2 0h0m-27 1h0m1 0h0m23 0h0m-25 1h0m24 0h0m2 0h0m-26 1h0m23 0h0m3 0h0m2 0h0m-31 1h0m3 0h0m14 0h0m1 0h0m4 0h0m4 0h0m3 0h0m-28 1h0m1 0h0m1 0h0m2 0h0m11 0h0m3 0h0m2 0h0m1 0h0m1 0h0m3 0h0m3 0h0m-26 1h0m11 0h0m3 0h0m2 0h0m2 0h0m1 0h0m4 0h0m2 0h0m-24 1h0m1 0h0m1 0h0m5 0h0m2 0h0m4 0h0m1 0h0m2 0h0m3 0h0m2 0h0m-23 1h0m1 0h0m1 0h0m1 0h0m3 0h0m4 0h0m1 0h0m2 0h0m3 0h0m1 0h0m-17 1h0m1 0h0m3 0h0m1 0h0m1 0h0m2 0h0m13 0h0m-18 1h0m3 0h0m1 0h0m2 0h0m1 0h0m3 0h0m1 0h0m1 0h0m3 0h0m1 0h0m1 0h0m-18 1h0m13 0h0m0 1h0" stroke="#2860e8" stroke-width="1.1" stroke-linecap="round" fill="none"/>
<path transform="translate(473.4 1106.3) scale(1)" d="M94 62h0m-10 1h0m4 0h0m3 0h0m1 0h0m2 0h0m-10 1h0m2 0h0m2 0h0m3 0h0m1 0h0m1 0h0m1 0h0m1 0h0m1 0h0m1 0h0m-19 1h0m1 0h0m2 0h0m13 0h0m1 0h0m2 0h0m-18 1h0m1 0h0m1 0h0m1 0h0m12 0h0m2 0h0m2 0h0m-21 1h0m1 0h0m2 0h0m1 0h0m14 0h0m2 0h0m-21 1h0m3 0h0m16 0h0m1 0h0m-29 1h0m10 0h0m1 0h0m2 0h0m16 0h0m-29 1h0m2 0h0m9 0h0m1 0h0m1 0h0m3 0h0m13 0h0m-16 1h0m1 0h0m15 0h0m-16 1h0m6 0h0m9 0h0m-17 1h0m2 0h0m2 0h0m3 0h0m10 0h0m1 0h0m-16 1h0m4 0h0m1 0h0m9 0h0m1 0h0m-14 1h0m1 0h0m4 0h0m9 0h0m1 0h0m-16 1h0m1 0h0m1 0h0m1 0h0m1 0h0m7 0h0m3 0h0m-14 1h0m1 0h0m1 0h0m10 0h0m-11 1h0m1 0h0m-1 1h0m1 0h0m8 0h0m1 0h0m-12 1h0m2 0h0m1 0h0m9 0h0m1 0h0m1 0h0m-17 1h0m1 0h0m1 0h0m2 0h0m1 0h0m2 0h0m9 0h0m2 0h0m-17 1h0m2 0h0m14 0h0m1 0h0m1 0h0m1 0h0m-21 1h0m18 0h0m1 0h0m1 0h0m1 0h0m-21 1h0m1 0h0m16 0h0m2 0h0m1 0h0m-22 1h0m1 0h0m20 0h0m-20 1h0m18 0h0m3 0h0m-21 1h0m18 0h0m1 0h0m-20 1h0m1 1h0m19 0h0m1 0h0m-21 1h0m19 0h0m1 0h0m-21 1h0m21 0h0m-22 1h0m2 0h0m18 0h0m1 0h0m1 0h0m-22 1h0m1 0h0m18 0h0m1 0h0m-20 1h0m-2 1h0m1 0h0m1 0h0m17 0h0m-19 1h0m1 0h0m2 0h0m17 0h0m-22 1h0m4 0h0m3 0h0m12 0h0m2 0h0m-22 1h0m1 0h0m1 0h0m1 0h0m1 0h0m3 0h0m2 0h0m1 0h0m8 0h0m-21 1h0m1 0h0m1 0h0m1 0h0m1 0h0m2 0h0m4 0h0m1 0h0m3 0h0m3 0h0m2 0h0m-25 1h0m2 0h0m2 0h0m2 0h0m2 0h0m1 0h0m1 0h0m3 0h0m1 0h0m3 0h0m1 0h0m2 0h0m2 0h0m3 0h0m1 0h0m1 0h0m-31 1h0m2 0h0m4 0h0m1 0h0m1 0h0m4 0h0m3 0h0m2 0h0m1 0h0m1 0h0m1 0h0m2 0h0m1 0h0m1 0h0m1 0h0m1 0h0m1 0h0m1 0h0m3 0h0m-30 1h0m1 0h0m3 0h0m2 0h0m3 0h0m1 0h0m2 0h0m5 0h0m1 0h0m2 0h0m3 0h0m3 0h0m3 0h0m1 0h0m1 0h0m-32 1h0m2 0h0m1 0h0m1 0h0m1 0h0m3 0h0m1 0h0m2 0h0m1 0h0m1 0h0m1 0h0m1 0h0m1 0h0m1 0h0m1 0h0m3 0h0m1 0h0m1 0h0m2 0h0m1 0h0m1 0h0m1 0h0m1 0h0m1 0h0m1 0h0m-32 1h0m1 0h0m2 0h0m1 0h0m2 0h0m1 0h0m1 0h0m4 0h0m1 0h0m3 0h0m6 0h0m2 0h0m2 0h0m2 0h0m4 0h0m1 0h0m-33 1h0m1 0h0m2 0h0m2 0h0m2 0h0m6 0h0m1 0h0m1 0h0m1 0h0m7 0h0m2 0h0m1 0h0m3 0h0m-32 1h0m1 0h0m2 0h0m1 0h0m2 0h0m1 0h0m18 0h0m2 0h0m-25 1h0m24 0h0m1 0h0m1 0h0m-2 1h0m1 0h0m1 0h0m1 0h0m-30 1h0m1 0h0m1 0h0m23 0h0m1 0h0m1 0h0m1 0h0m-27 1h0m23 0h0m5 0h0m1 0h0m-29 1h0m22 0h0m2 0h0m2 0h0m-26 1h0m22 0h0m1 0h0m2 0h0m-24 1h0m21 0h0m-24 1h0m1 0h0m1 0h0m1 0h0m8 0h0m11 0h0m1 0h0m1 0h0m-23 1h0m1 0h0m10 0h0m10 0h0m1 0h0m1 0h0m-27 1h0m1 0h0m1 0h0m1 0h0m3 0h0m9 0h0m3 0h0m8 0h0m1 0h0m1 0h0m-26 1h0m2 0h0m1 0h0m1 0h0m9 0h0m3 0h0m4 0h0m1 0h0m1 0h0m1 0h0m1 0h0m-24 1h0m2 0h0m1 0h0m9 0h0m1 0h0m1 0h0m1 0h0m1 0h0m1 0h0m1 0h0m3 0h0m1 0h0m-24 1h0m2 0h0m1 0h0m1 0h0m10 0h0m1 0h0m1 0h0m3 0h0m1 0h0m2 0h0m2 0h0m-23 1h0m1 0h0m1 0h0m14 0h0m1 0h0m2 0h0m1 0h0m-19 1h0m10 0h0m1 0h0m2 0h0m1 0h0m2 0h0m2 0h0m-20 1h0m1 0h0m10 0h0m1 0h0m1 0h0m1 0h0m1 0h0m1 0h0m1 0h0m1 0h0m1 0h0m1 0h0m-20 1h0m1 0h0m1 0h0m9 0h0m3 0h0m1 0h0m5 0h0m-10 1h0m1 0h0m2 0h0m1 0h0m1 0h0m1 0h0m1 0h0m1 0h0m2 0h0m-18 1h0m3 0h0m2 0h0m1 0h0m4 0h0m5 0h0m1 0h0m1 0h0m-17 1h0m1 0h0m2 0h0m4 0h0m6 0h0m2 0h0m1 0h0m-17 1h0m1 0h0m1 0h0m1 0h0m2 0h0m1 0h0m1 0h0m-7 1h0m1 0h0m1 0h0m2 0h0m-3 1h0m1 0h0m1 0h0m1 0h0" stroke="#20b0e0" stroke-width="1.1" stroke-linecap="round" fill="none"/>
<path transform="translate(473.4 1106.3) scale(1)" d="M89 64h0m2 0h0m1 0h0m-8 1h0m2 0h0m1 0h0m1 0h0m1 0h0m1 0h0m1 0h0m3 0h0m-13 1h0m2 0h0m1 0h0m1 0h0m1 0h0m4 0h0m1 0h0m1 0h0m1 0h0m-11 1h0m3 0h0m6 0h0m1 0h0m1 0h0m1 0h0m-12 1h0m1 0h0m1 0h0m1 0h0m7 0h0m1 0h0m1 0h0m1 0h0m-14 1h0m1 0h0m1 0h0m2 0h0m1 0h0m5 0h0m1 0h0m-11 1h0m1 0h0m1 0h0m3 0h0m2 0h0m2 0h0m1 0h0m1 0h0m1 0h0m1 0h0m-10 1h0m1 0h0m2 0h0m1 0h0m1 0h0m1 0h0m2 0h0m1 0h0m1 0h0m-8 1h0m1 0h0m1 0h0m2 0h0m1 0h0m2 0h0m1 0h0m-6 1h0m2 0h0m1 0h0m1 0h0m1 0h0m-7 1h0m1 0h0m1 0h0m3 0h0m1 0h0m2 0h0m-8 1h0m1 0h0m1 0h0m1 0h0m1 0h0m1 0h0m1 0h0m-7 1h0m1 0h0m1 0h0m1 0h0m2 0h0m1 0h0m-8 1h0m3 0h0m1 0h0m1 0h0m1 0h0m1 0h0m-6 1h0m1 0h0m1 0h0m2 0h0m2 0h0m-7 1h0m1 0h0m2 0h0m1 0h0m2 0h0m-6 1h0m2 0h0m1 0h0m3 0h0m1 0h0m-4 1h0m1 0h0m1 0h0m1 0h0m1 0h0m1 0h0m-12 1h0m2 0h0m4 0h0m2 0h0m1 0h0m1 0h0m2 0h0m1 0h0m-14 1h0m2 0h0m1 0h0m2 0h0m2 0h0m1 0h0m1 0h0m1 0h0m1 0h0m1 0h0m-14 1h0m1 0h0m1 0h0m1 0h0m4 0h0m1 0h0m3 0h0m2 0h0m-13 1h0m1 0h0m11 0h0m2 0h0m1 0h0m-16 1h0m1 0h0m14 0h0m2 0h0m-17 1h0m14 0h0m2 0h0m1 0h0m-1 1h0m0 1h0m0 1h0m-17 1h0m16 0h0m-16 1h0m1 0h0m-2 1h0m2 0h0m13 0h0m1 0h0m1 0h0m-18 1h0m1 0h0m1 0h0m1 0h0m1 0h0m13 0h0m-16 1h0m1 0h0m1 0h0m1 0h0m1 0h0m-4 1h0m1 0h0m1 0h0m1 0h0m1 0h0m2 0h0m1 0h0m1 0h0m5 0h0m1 0h0m-13 1h0m1 0h0m2 0h0m1 0h0m2 0h0m1 0h0m1 0h0m1 0h0m-7 1h0m2 0h0m3 0h0m1 0h0m2 0h0m-7 1h0m1 0h0m-6 4h0m1 0h0m-4 1h0m2 0h0m1 0h0m1 0h0m1 0h0m-15 1h0m3 0h0m1 0h0m2 0h0m3 0h0m2 0h0m2 0h0m1 0h0m-15 1h0m4 0h0m1 0h0m1 0h0m3 0h0m2 0h0m1 0h0m1 0h0m2 0h0m1 0h0m1 0h0m-24 1h0m1 0h0m1 0h0m1 0h0m1 0h0m3 0h0m1 0h0m1 0h0m1 0h0m2 0h0m1 0h0m2 0h0m3 0h0m2 0h0m1 0h0m1 0h0m1 0h0m-21 1h0m1 0h0m1 0h0m1 0h0m1 0h0m2 0h0m1 0h0m3 0h0m1 0h0m2 0h0m1 0h0m1 0h0m1 0h0m1 0h0m1 0h0m1 0h0m2 0h0m-24 1h0m1 0h0m2 0h0m1 0h0m1 0h0m1 0h0m1 0h0m1 0h0m1 0h0m7 0h0m1 0h0m2 0h0m1 0h0m-20 1h0m1 0h0m1 0h0m1 0h0m2 0h0m1 0h0m2 0h0m1 0h0m9 0h0m1 0h0m1 0h0m1 0h0m-21 1h0m4 0h0m1 0h0m1 0h0m2 0h0m1 0h0m-9 1h0m1 0h0m1 0h0m1 0h0m1 0h0m2 0h0m1 0h0m2 0h0m2 0h0m1 0h0m5 0h0m1 0h0m1 0h0m-16 1h0m1 0h0m1 0h0m2 0h0m1 0h0m1 0h0m4 0h0m3 0h0m3 0h0m-15 1h0m3 0h0m2 0h0m3 0h0m1 0h0m1 0h0m1 0h0m1 0h0m1 0h0m1 0h0m-14 1h0m1 0h0m1 0h0m2 0h0m2 0h0m2 0h0m2 0h0m1 0h0m1 0h0m1 0h0m-16 1h0m1 0h0m1 0h0m1 0h0m1 0h0m2 0h0m5 0h0m2 0h0m1 0h0m1 0h0m1 0h0m-18 1h0m1 0h0m1 0h0m1 0h0m1 0h0m1 0h0m1 0h0m1 0h0m1 0h0m1 0h0m6 0h0m1 0h0m1 0h0m2 0h0m-17 1h0m2 0h0m2 0h0m1 0h0m1 0h0m-8 1h0m3 0h0m1 0h0m1 0h0m1 0h0m1 0h0m1 0h0m-10 1h0m3 0h0m1 0h0m1 0h0m1 0h0m4 0h0m1 0h0m-10 1h0m1 0h0m1 0h0m1 0h0m1 0h0m2 0h0m1 0h0m2 0h0m-10 1h0m2 0h0m1 0h0m1 0h0m2 0h0m1 0h0m1 0h0m-9 1h0m1 0h0m2 0h0m2 0h0m1 0h0m1 0h0m-6 1h0m1 0h0m3 0h0m1 0h0m-6 1h0m1 0h0m1 0h0m1 0h0" stroke="#30c890" stroke-width="1.1" stroke-linecap="round" fill="none"/>
<path transform="translate(473.4 1106.3) scale(1)" d="M87 65h0m-1 1h0m1 0h0m1 0h0m1 0h0m1 0h0m1 0h0m-6 1h0m1 0h0m1 0h0m1 0h0m1 0h0m1 0h0m-4 1h0m1 0h0m1 0h0m1 0h0m1 0h0m-5 1h0m1 0h0m2 0h0m2 0h0m-11 15h0m2 0h0m2 0h0m3 0h0m-8 1h0m1 0h0m4 0h0m1 0h0m1 0h0m1 0h0m-7 1h0m7 0h0m1 0h0m-11 1h0m1 0h0m1 0h0m9 0h0m1 0h0m1 0h0m-13 1h0m1 0h0m1 0h0m10 0h0m-12 1h0m2 0h0m10 0h0m1 0h0m1 0h0m-14 1h0m1 0h0m1 0h0m10 0h0m1 0h0m-13 1h0m1 0h0m1 0h0m1 0h0m-3 1h0m1 0h0m1 0h0m1 0h0m9 0h0m-12 1h0m1 0h0m1 0h0m1 0h0m1 0h0m8 0h0m1 0h0m-13 1h0m1 0h0m1 0h0m1 0h0m8 0h0m-8 1h0m1 0h0m2 0h0m1 0h0m3 0h0m1 0h0m1 0h0m-7 1h0m1 0h0m1 0h0m3 0h0m-25 12h0m2 0h0m-3 1h0m1 0h0m2 0h0m-2 1h0m1 0h0m1 0h0m2 0h0m1 0h0m-4 1h0m1 0h0m1 0h0m1 0h0m1 0h0m-5 1h0m1 0h0m1 0h0m3 0h0m-3 1h0m2 0h0m1 0h0" stroke="#70d040" stroke-width="1.1" stroke-linecap="round" fill="none"/>
<path transform="translate(473.4 1106.3) scale(1)" d="M80 85h0m2 0h0m1 0h0m2 0h0m-6 1h0m1 0h0m2 0h0m2 0h0m-6 1h0m1 0h0m6 0h0m1 0h0m1 0h0m-9 1h0m1 0h0m8 0h0m-7 1h0m7 0h0m1 0h0m-10 1h0m1 0h0m1 0h0m7 0h0m1 0h0m-8 1h0m7 0h0m1 0h0m-8 1h0m1 0h0m0 1h0m1 0h0m4 0h0m2 0h0m-8 1h0m2 0h0m1 0h0m1 0h0m1 0h0m-2 1h0m1 0h0m1 0h0" stroke="#d8e020" stroke-width="1.1" stroke-linecap="round" fill="none"/>
<path transform="translate(473.4 1106.3) scale(1)" d="M81 86h0m1 0h0m1 0h0m1 0h0m1 0h0m-4 1h0m1 0h0m1 0h0m1 0h0m2 0h0m-6 1h0m1 0h0m1 0h0m3 0h0m1 0h0m1 0h0m-7 1h0m1 0h0m5 0h0m-6 1h0m1 0h0m1 0h0m4 0h0m-5 1h0m1 0h0m4 0h0m-5 1h0m4 0h0m1 0h0m-5 1h0m2 0h0m1 0h0m1 0h0m1 0h0m-4 1h0m1 0h0m1 0h0m1 0h0m1 0h0" stroke="#f8a010" stroke-width="1.1" stroke-linecap="round" fill="none"/>
<path transform="translate(473.4 1106.3) scale(1)" d="M82 87h0m2 0h0m-2 1h0m1 0h0m1 0h0m-3 1h0m1 0h0m1 0h0m1 0h0m1 0h0m1 0h0m-4 1h0m1 0h0m1 0h0m1 0h0m-3 1h0m1 0h0m1 0h0m2 0h0m-4 1h0m1 0h0m1 0h0m1 0h0m0 1h0" stroke="#f02010" stroke-width="1.1" stroke-linecap="round" fill="none"/>
<line x1="550.3" y1="1106.3" x2="550.3" y2="1248.9" stroke="#888" stroke-width="1.1"/>
<line x1="473.4" y1="1200.1" x2="614.2" y2="1200.1" stroke="#888" stroke-width="1.1"/>
<rect x="473.4" y="1106.3" width="140.8" height="142.6" fill="none" stroke="#333" stroke-width="1.1"/>
<text x="477.4" y="1126.1" font-size="15.5" fill="#231f20">14.7</text>
<text x="610.2" y="1126.1" font-size="15.5" text-anchor="end" fill="#231f20">45.7</text>
<text x="476.4" y="1239.9" font-size="15.5" fill="#231f20">36.5</text>
<text x="610.2" y="1239.9" font-size="15.5" text-anchor="end" fill="#231f20">3.11</text>
<path d="M469.4 1120.7h4M469.4 1147.8h4M469.4 1176.7h4M469.4 1205.6h4M469.4 1234.5h4M471.4 1139.6h2M471.4 1134.9h2M471.4 1131.5h2M471.4 1128.9h2M471.4 1126.7h2M471.4 1124.9h2M471.4 1123.3h2M471.4 1121.9h2M471.4 1168h2M471.4 1162.9h2M471.4 1159.3h2M471.4 1156.5h2M471.4 1154.2h2M471.4 1152.3h2M471.4 1150.6h2M471.4 1149.1h2M471.4 1196.9h2M471.4 1191.8h2M471.4 1188.2h2M471.4 1185.4h2M471.4 1183.1h2M471.4 1181.2h2M471.4 1179.5h2M471.4 1178h2M471.4 1225.8h2M471.4 1220.7h2M471.4 1217.1h2M471.4 1214.3h2M471.4 1212h2M471.4 1210.1h2M471.4 1208.4h2M471.4 1206.9h2M471.4 1246h2M471.4 1243.2h2M471.4 1240.9h2M471.4 1239h2M471.4 1237.3h2M471.4 1235.8h2" fill="none" stroke="#444" stroke-width="0.9"/>
<text x="470.4" y="1124.7" font-size="11" text-anchor="end" fill="#333">10<tspan font-size="6.8" dy="-4.6">5</tspan></text>
<text x="470.4" y="1151.8" font-size="11" text-anchor="end" fill="#333">10<tspan font-size="6.8" dy="-4.6">4</tspan></text>
<text x="470.4" y="1180.7" font-size="11" text-anchor="end" fill="#333">10<tspan font-size="6.8" dy="-4.6">3</tspan></text>
<text x="470.4" y="1209.6" font-size="11" text-anchor="end" fill="#333">10<tspan font-size="6.8" dy="-4.6">2</tspan></text>
<text x="470.4" y="1238.5" font-size="11" text-anchor="end" fill="#333">10<tspan font-size="6.8" dy="-4.6">1</tspan></text>
<path d="M487.8 1248.9v4M518.5 1248.9v4M547.4 1248.9v4M574.5 1248.9v4M603.4 1248.9v4M497 1248.9v2M502.4 1248.9v2M506.3 1248.9v2M509.3 1248.9v2M511.7 1248.9v2M513.7 1248.9v2M515.5 1248.9v2M517.1 1248.9v2M527.2 1248.9v2M532.3 1248.9v2M535.9 1248.9v2M538.7 1248.9v2M541 1248.9v2M542.9 1248.9v2M544.6 1248.9v2M546.1 1248.9v2M555.6 1248.9v2M560.3 1248.9v2M563.7 1248.9v2M566.3 1248.9v2M568.5 1248.9v2M570.3 1248.9v2M571.9 1248.9v2M573.3 1248.9v2M583.2 1248.9v2M588.3 1248.9v2M591.9 1248.9v2M594.7 1248.9v2M597 1248.9v2M598.9 1248.9v2M600.6 1248.9v2M602.1 1248.9v2M612.1 1248.9v2" fill="none" stroke="#444" stroke-width="0.9"/>
<text x="490.8" y="1267.4" font-size="13.5" text-anchor="middle" fill="#222">10<tspan font-size="8.4" dy="-5.7">1</tspan></text>
<text x="521.5" y="1267.4" font-size="13.5" text-anchor="middle" fill="#222">10<tspan font-size="8.4" dy="-5.7">2</tspan></text>
<text x="550.4" y="1267.4" font-size="13.5" text-anchor="middle" fill="#222">10<tspan font-size="8.4" dy="-5.7">3</tspan></text>
<text x="577.5" y="1267.4" font-size="13.5" text-anchor="middle" fill="#222">10<tspan font-size="8.4" dy="-5.7">4</tspan></text>
<text x="606.4" y="1267.4" font-size="13.5" text-anchor="middle" fill="#222">10<tspan font-size="8.4" dy="-5.7">5</tspan></text>
<path transform="translate(676.3 937.5) scale(1)" d="M84 72h0m-47 1h0m20 0h0m14 0h0m8 0h0m7 0h0m5 0h0m-34 1h0m19 0h0m19 0h0m-40 1h0m4 0h0m3 0h0m10 0h0m7 0h0m4 0h0m2 0h0m1 0h0m1 0h0m2 0h0m10 0h0m-59 1h0m3 0h0m10 0h0m13 0h0m6 0h0m6 0h0m9 0h0m6 0h0m2 0h0m4 0h0m-65 1h0m12 0h0m4 0h0m5 0h0m1 0h0m8 0h0m1 0h0m2 0h0m3 0h0m1 0h0m1 0h0m2 0h0m2 0h0m2 0h0m1 0h0m3 0h0m9 0h0m1 0h0m3 0h0m1 0h0m-62 1h0m11 0h0m4 0h0m9 0h0m1 0h0m1 0h0m2 0h0m3 0h0m3 0h0m2 0h0m2 0h0m4 0h0m1 0h0m5 0h0m5 0h0m1 0h0m1 0h0m1 0h0m2 0h0m1 0h0m3 0h0m2 0h0m-60 1h0m1 0h0m8 0h0m2 0h0m1 0h0m1 0h0m9 0h0m3 0h0m3 0h0m1 0h0m5 0h0m1 0h0m5 0h0m2 0h0m3 0h0m3 0h0m6 0h0m4 0h0m1 0h0m-55 1h0m16 0h0m1 0h0m2 0h0m1 0h0m1 0h0m1 0h0m4 0h0m2 0h0m1 0h0m1 0h0m1 0h0m2 0h0m1 0h0m3 0h0m1 0h0m1 0h0m5 0h0m1 0h0m1 0h0m2 0h0m2 0h0m4 0h0m1 0h0m-59 1h0m8 0h0m6 0h0m3 0h0m1 0h0m2 0h0m1 0h0m1 0h0m1 0h0m1 0h0m2 0h0m1 0h0m5 0h0m2 0h0m1 0h0m6 0h0m1 0h0m1 0h0m6 0h0m1 0h0m1 0h0m1 0h0m1 0h0m2 0h0m1 0h0m1 0h0m-61 1h0m2 0h0m13 0h0m2 0h0m8 0h0m3 0h0m4 0h0m6 0h0m1 0h0m5 0h0m4 0h0m6 0h0m2 0h0m3 0h0m1 0h0m1 0h0m1 0h0m-58 1h0m1 0h0m3 0h0m3 0h0m1 0h0m5 0h0m1 0h0m1 0h0m4 0h0m1 0h0m2 0h0m4 0h0m1 0h0m3 0h0m3 0h0m1 0h0m1 0h0m1 0h0m2 0h0m4 0h0m3 0h0m1 0h0m1 0h0m1 0h0m3 0h0m2 0h0m4 0h0m1 0h0m-57 1h0m3 0h0m1 0h0m1 0h0m3 0h0m1 0h0m1 0h0m2 0h0m1 0h0m3 0h0m2 0h0m1 0h0m1 0h0m1 0h0m9 0h0m1 0h0m1 0h0m5 0h0m2 0h0m2 0h0m1 0h0m1 0h0m2 0h0m1 0h0m1 0h0m1 0h0m1 0h0m4 0h0m1 0h0m3 0h0m1 0h0m4 0h0m-67 1h0m8 0h0m3 0h0m5 0h0m2 0h0m1 0h0m2 0h0m3 0h0m2 0h0m1 0h0m4 0h0m2 0h0m1 0h0m1 0h0m1 0h0m1 0h0m4 0h0m1 0h0m1 0h0m1 0h0m1 0h0m3 0h0m1 0h0m3 0h0m2 0h0m1 0h0m2 0h0m1 0h0m1 0h0m2 0h0m3 0h0m-66 1h0m5 0h0m1 0h0m2 0h0m8 0h0m5 0h0m2 0h0m2 0h0m3 0h0m1 0h0m1 0h0m1 0h0m2 0h0m1 0h0m1 0h0m1 0h0m2 0h0m3 0h0m1 0h0m3 0h0m2 0h0m1 0h0m1 0h0m2 0h0m1 0h0m4 0h0m2 0h0m3 0h0m2 0h0m1 0h0m1 0h0m4 0h0m-63 1h0m1 0h0m1 0h0m7 0h0m3 0h0m5 0h0m1 0h0m2 0h0m1 0h0m1 0h0m1 0h0m4 0h0m4 0h0m3 0h0m1 0h0m2 0h0m2 0h0m1 0h0m1 0h0m1 0h0m2 0h0m1 0h0m1 0h0m1 0h0m3 0h0m2 0h0m1 0h0m1 0h0m1 0h0m2 0h0m2 0h0m1 0h0m1 0h0m-67 1h0m7 0h0m5 0h0m1 0h0m1 0h0m2 0h0m2 0h0m1 0h0m1 0h0m1 0h0m4 0h0m1 0h0m1 0h0m1 0h0m1 0h0m4 0h0m7 0h0m1 0h0m1 0h0m3 0h0m3 0h0m2 0h0m1 0h0m1 0h0m2 0h0m1 0h0m5 0h0m1 0h0m1 0h0m1 0h0m2 0h0m3 0h0m4 0h0m-71 1h0m10 0h0m3 0h0m1 0h0m6 0h0m1 0h0m2 0h0m1 0h0m1 0h0m3 0h0m1 0h0m1 0h0m2 0h0m3 0h0m1 0h0m1 0h0m1 0h0m2 0h0m1 0h0m1 0h0m1 0h0m4 0h0m4 0h0m5 0h0m1 0h0m2 0h0m3 0h0m1 0h0m4 0h0m-69 1h0m8 0h0m1 0h0m2 0h0m1 0h0m13 0h0m5 0h0m1 0h0m2 0h0m1 0h0m1 0h0m2 0h0m2 0h0m2 0h0m2 0h0m1 0h0m1 0h0m2 0h0m1 0h0m1 0h0m1 0h0m1 0h0m2 0h0m1 0h0m1 0h0m2 0h0m3 0h0m2 0h0m2 0h0m2 0h0m1 0h0m1 0h0m7 0h0m1 0h0m15 0h0m-88 1h0m1 0h0m4 0h0m3 0h0m5 0h0m1 0h0m4 0h0m1 0h0m3 0h0m1 0h0m10 0h0m2 0h0m2 0h0m4 0h0m1 0h0m4 0h0m1 0h0m1 0h0m2 0h0m1 0h0m1 0h0m1 0h0m1 0h0m3 0h0m1 0h0m3 0h0m2 0h0m4 0h0m10 0h0m-75 1h0m2 0h0m2 0h0m2 0h0m3 0h0m2 0h0m4 0h0m2 0h0m4 0h0m2 0h0m3 0h0m2 0h0m4 0h0m2 0h0m2 0h0m2 0h0m1 0h0m1 0h0m1 0h0m1 0h0m3 0h0m3 0h0m2 0h0m1 0h0m1 0h0m1 0h0m3 0h0m1 0h0m1 0h0m1 0h0m4 0h0m5 0h0m-75 1h0m3 0h0m2 0h0m2 0h0m3 0h0m1 0h0m3 0h0m5 0h0m4 0h0m5 0h0m2 0h0m4 0h0m1 0h0m1 0h0m1 0h0m1 0h0m2 0h0m2 0h0m2 0h0m1 0h0m1 0h0m1 0h0m1 0h0m5 0h0m2 0h0m1 0h0m2 0h0m3 0h0m1 0h0m2 0h0m1 0h0m3 0h0m2 0h0m1 0h0m1 0h0m-63 1h0m2 0h0m2 0h0m2 0h0m1 0h0m2 0h0m1 0h0m1 0h0m3 0h0m1 0h0m3 0h0m1 0h0m1 0h0m3 0h0m4 0h0m1 0h0m1 0h0m2 0h0m1 0h0m1 0h0m1 0h0m2 0h0m1 0h0m5 0h0m1 0h0m3 0h0m1 0h0m3 0h0m1 0h0m1 0h0m2 0h0m3 0h0m2 0h0m1 0h0m2 0h0m1 0h0m4 0h0m-71 1h0m2 0h0m3 0h0m1 0h0m1 0h0m8 0h0m2 0h0m9 0h0m7 0h0m3 0h0m1 0h0m3 0h0m1 0h0m4 0h0m3 0h0m1 0h0m1 0h0m1 0h0m1 0h0m1 0h0m1 0h0m1 0h0m1 0h0m1 0h0m1 0h0m5 0h0m-63 1h0m12 0h0m1 0h0m6 0h0m1 0h0m6 0h0m3 0h0m1 0h0m3 0h0m2 0h0m1 0h0m3 0h0m1 0h0m3 0h0m8 0h0m1 0h0m1 0h0m2 0h0m5 0h0m1 0h0m3 0h0m1 0h0m-66 1h0m13 0h0m7 0h0m1 0h0m1 0h0m2 0h0m2 0h0m1 0h0m1 0h0m3 0h0m1 0h0m1 0h0m2 0h0m5 0h0m5 0h0m2 0h0m2 0h0m1 0h0m3 0h0m2 0h0m1 0h0m1 0h0m1 0h0m3 0h0m3 0h0m1 0h0m-64 1h0m3 0h0m1 0h0m1 0h0m2 0h0m3 0h0m1 0h0m1 0h0m2 0h0m1 0h0m1 0h0m6 0h0m3 0h0m1 0h0m2 0h0m6 0h0m2 0h0m1 0h0m2 0h0m2 0h0m3 0h0m1 0h0m1 0h0m1 0h0m5 0h0m3 0h0m1 0h0m3 0h0m1 0h0m2 0h0m2 0h0m4 0h0m-64 1h0m3 0h0m7 0h0m1 0h0m3 0h0m7 0h0m2 0h0m1 0h0m1 0h0m3 0h0m4 0h0m2 0h0m1 0h0m6 0h0m1 0h0m2 0h0m1 0h0m10 0h0m1 0h0m5 0h0m-67 1h0m1 0h0m1 0h0m2 0h0m6 0h0m3 0h0m5 0h0m9 0h0m8 0h0m5 0h0m2 0h0m2 0h0m2 0h0m6 0h0m2 0h0m4 0h0m1 0h0m3 0h0m1 0h0m1 0h0m1 0h0m12 0h0m-77 1h0m3 0h0m2 0h0m3 0h0m6 0h0m4 0h0m3 0h0m3 0h0m1 0h0m1 0h0m1 0h0m2 0h0m1 0h0m1 0h0m7 0h0m4 0h0m2 0h0m3 0h0m2 0h0m1 0h0m1 0h0m9 0h0m4 0h0m-60 1h0m3 0h0m8 0h0m1 0h0m1 0h0m1 0h0m1 0h0m1 0h0m3 0h0m1 0h0m2 0h0m2 0h0m2 0h0m4 0h0m2 0h0m2 0h0m3 0h0m4 0h0m1 0h0m3 0h0m1 0h0m1 0h0m5 0h0m4 0h0m3 0h0m2 0h0m1 0h0m-65 1h0m2 0h0m1 0h0m5 0h0m3 0h0m1 0h0m1 0h0m2 0h0m1 0h0m5 0h0m2 0h0m6 0h0m3 0h0m1 0h0m8 0h0m2 0h0m4 0h0m15 0h0m-62 1h0m1 0h0m3 0h0m6 0h0m1 0h0m5 0h0m1 0h0m1 0h0m2 0h0m1 0h0m1 0h0m1 0h0m1 0h0m2 0h0m1 0h0m1 0h0m2 0h0m1 0h0m1 0h0m2 0h0m9 0h0m1 0h0m1 0h0m3 0h0m3 0h0m4 0h0m1 0h0m6 0h0m5 0h0m-71 1h0m10 0h0m2 0h0m2 0h0m4 0h0m2 0h0m2 0h0m1 0h0m1 0h0m3 0h0m3 0h0m1 0h0m1 0h0m1 0h0m3 0h0m9 0h0m5 0h0m1 0h0m3 0h0m9 0h0m5 0h0m-51 1h0m2 0h0m1 0h0m3 0h0m3 0h0m2 0h0m2 0h0m3 0h0m1 0h0m1 0h0m2 0h0m1 0h0m5 0h0m3 0h0m1 0h0m7 0h0m1 0h0m4 0h0m5 0h0m4 0h0m-68 1h0m1 0h0m18 0h0m3 0h0m1 0h0m1 0h0m1 0h0m4 0h0m1 0h0m3 0h0m1 0h0m1 0h0m1 0h0m1 0h0m1 0h0m1 0h0m5 0h0m1 0h0m1 0h0m4 0h0m5 0h0m4 0h0m4 0h0m1 0h0m-49 1h0m4 0h0m1 0h0m1 0h0m1 0h0m1 0h0m1 0h0m1 0h0m1 0h0m2 0h0m1 0h0m4 0h0m2 0h0m2 0h0m1 0h0m1 0h0m2 0h0m1 0h0m2 0h0m1 0h0m1 0h0m1 0h0m1 0h0m2 0h0m1 0h0m1 0h0m1 0h0m2 0h0m2 0h0m1 0h0m1 0h0m2 0h0m2 0h0m7 0h0m-72 1h0m2 0h0m24 0h0m2 0h0m1 0h0m1 0h0m3 0h0m1 0h0m2 0h0m2 0h0m1 0h0m1 0h0m2 0h0m2 0h0m7 0h0m7 0h0m2 0h0m4 0h0m2 0h0m1 0h0m1 0h0m-51 1h0m1 0h0m1 0h0m1 0h0m1 0h0m2 0h0m5 0h0m3 0h0m1 0h0m1 0h0m1 0h0m1 0h0m3 0h0m1 0h0m3 0h0m2 0h0m3 0h0m4 0h0m1 0h0m2 0h0m2 0h0m1 0h0m2 0h0m1 0h0m1 0h0m2 0h0m2 0h0m2 0h0m2 0h0m4 0h0m-71 1h0m14 0h0m15 0h0m2 0h0m3 0h0m1 0h0m1 0h0m2 0h0m4 0h0m4 0h0m1 0h0m1 0h0m3 0h0m2 0h0m1 0h0m2 0h0m1 0h0m1 0h0m1 0h0m2 0h0m1 0h0m1 0h0m1 0h0m2 0h0m-67 1h0m1 0h0m14 0h0m7 0h0m1 0h0m2 0h0m5 0h0m3 0h0m1 0h0m2 0h0m5 0h0m4 0h0m2 0h0m2 0h0m1 0h0m2 0h0m4 0h0m5 0h0m1 0h0m4 0h0m2 0h0m3 0h0m-69 1h0m18 0h0m3 0h0m5 0h0m1 0h0m1 0h0m1 0h0m2 0h0m2 0h0m1 0h0m3 0h0m6 0h0m2 0h0m3 0h0m3 0h0m1 0h0m1 0h0m1 0h0m1 0h0m3 0h0m1 0h0m4 0h0m2 0h0m-69 1h0m20 0h0m7 0h0m5 0h0m5 0h0m7 0h0m1 0h0m2 0h0m3 0h0m3 0h0m2 0h0m4 0h0m1 0h0m1 0h0m1 0h0m3 0h0m1 0h0m1 0h0m1 0h0m3 0h0m3 0h0m-69 1h0m7 0h0m2 0h0m5 0h0m10 0h0m9 0h0m4 0h0m16 0h0m1 0h0m4 0h0m1 0h0m2 0h0m2 0h0m1 0h0m-57 1h0m3 0h0m4 0h0m2 0h0m6 0h0m4 0h0m9 0h0m6 0h0m6 0h0m3 0h0m7 0h0m2 0h0m1 0h0m2 0h0m5 0h0m-58 1h0m34 0h0m8 0h0m9 0h0m-56 1h0m1 0h0m36 0h0m2 0h0m9 0h0m11 0h0m-14 1h0m1 0h0m4 0h0m8 0h0m-3 1h0m1 1h0" stroke="#3048b0" stroke-width="1.1" stroke-linecap="round" fill="none"/>
<path transform="translate(676.3 937.5) scale(1)" d="M35 104h0m-1 1h0m4 0h0m1 0h0m1 1h0m2 1h0m-11 1h0m10 0h0m1 0h0m-13 1h0m1 0h0m11 0h0m1 0h0m-13 1h0m2 0h0m10 0h0m1 0h0m-1 1h0m1 0h0m1 0h0m-2 1h0m1 0h0m-10 1h0m7 0h0m-7 1h0m4 0h0m1 0h0m1 0h0m1 0h0m-5 1h0m3 0h0" stroke="#2c64c4" stroke-width="1.1" stroke-linecap="round" fill="none"/>
<path transform="translate(676.3 937.5) scale(1)" d="M35 105h0m1 0h0m1 0h0m1 0h0m-6 1h0m4 0h0m4 0h0m-9 1h0m1 0h0m6 0h0m-7 1h0m1 0h0m8 0h0m1 0h0m-11 1h0m1 0h0m1 0h0m8 0h0m0 1h0m-9 1h0m10 0h0m-10 1h0m1 0h0m7 0h0m1 0h0m-6 1h0m6 0h0m-6 1h0m1 0h0m3 0h0" stroke="#28a4cc" stroke-width="1.1" stroke-linecap="round" fill="none"/>
<path transform="translate(676.3 937.5) scale(1)" d="M37 106h0m-4 1h0m1 0h0m2 0h0m1 0h0m-4 1h0m6 0h0m1 0h0m-1 1h0m1 0h0m-8 1h0m0 1h0m1 0h0m6 0h0m1 0h0m-7 1h0m1 0h0m4 0h0m2 0h0m-3 1h0m1 0h0m1 0h0m-2 1h0" stroke="#30bc8c" stroke-width="1.1" stroke-linecap="round" fill="none"/>
<path transform="translate(676.3 937.5) scale(1)" d="M36 106h0m-3 1h0m1 0h0m1 0h0m1 0h0m2 0h0m1 0h0m-7 1h0m2 0h0m5 0h0m-7 1h0m1 0h0m6 0h0m-7 1h0m1 0h0m6 0h0m1 0h0m-8 1h0m1 0h0m1 0h0m4 0h0m1 0h0m-6 1h0m1 0h0m1 0h0m1 0h0m2 0h0m-3 1h0m1 0h0" stroke="#70cc40" stroke-width="1.1" stroke-linecap="round" fill="none"/>
<path transform="translate(676.3 937.5) scale(1)" d="M34 107h0m1 0h0m1 0h0m2 0h0m-5 1h0m1 0h0m2 0h0m1 0h0m1 0h0m1 0h0m-6 1h0m1 0h0m4 0h0m1 0h0m-6 1h0m1 0h0m4 0h0m1 0h0m-6 1h0m1 0h0m3 0h0m1 0h0m1 0h0m-4 1h0m3 0h0" stroke="#d0dc20" stroke-width="1.1" stroke-linecap="round" fill="none"/>
<path transform="translate(676.3 937.5) scale(1)" d="M34 108h0m1 0h0m1 0h0m1 0h0m1 0h0m-4 1h0m1 0h0m1 0h0m1 0h0m1 0h0m-1 1h0m1 0h0m-3 1h0m1 0h0m1 0h0m1 0h0m-2 1h0m1 0h0" stroke="#f8a010" stroke-width="1.1" stroke-linecap="round" fill="none"/>
<path transform="translate(676.3 937.5) scale(1)" d="M35 108h0m1 0h0m-1 1h0m1 0h0m1 0h0m-3 1h0m1 0h0m1 0h0m1 0h0m-3 1h0m2 0h0m1 0h0" stroke="#f02010" stroke-width="1.1" stroke-linecap="round" fill="none"/>
<line x1="720.9" y1="937.5" x2="720.9" y2="1082.8" stroke="#2a2a2a" stroke-width="1.4"/>
<line x1="676.3" y1="1039.5" x2="820.9" y2="1039.5" stroke="#2a2a2a" stroke-width="1.4"/>
<rect x="676.3" y="937.5" width="144.6" height="145.3" fill="none" stroke="#333" stroke-width="1.1"/>
<text x="680.3" y="958.7" font-size="15.5" fill="#231f20">2.16</text>
<text x="816.9" y="958.7" font-size="15.5" text-anchor="end" fill="#231f20">21.4</text>
<text x="679.3" y="1066.9" font-size="15.5" fill="#231f20">64.0</text>
<text x="816.9" y="1066.9" font-size="15.5" text-anchor="end" fill="#231f20">12.4</text>
<path d="M672.3 951.5h4M672.3 985.1h4M672.3 1024.7h4M672.3 1050.7h4M672.3 1075.8h4M674.3 975h2M674.3 969.1h2M674.3 964.9h2M674.3 961.6h2M674.3 959h2M674.3 956.7h2M674.3 954.8h2M674.3 953.1h2M674.3 1012.8h2M674.3 1005.8h2M674.3 1000.8h2M674.3 997h2M674.3 993.9h2M674.3 991.2h2M674.3 988.9h2M674.3 986.9h2M674.3 1029h2M674.3 1054.9h2M674.3 1033.4h2M674.3 1059.1h2M674.3 1037.7h2M674.3 1063.3h2M674.3 1042h2M674.3 1067.4h2M674.3 1046.4h2M674.3 1071.6h2" fill="none" stroke="#444" stroke-width="0.9"/>
<rect x="672.3" y="1047.7" width="3" height="6" fill="#222"/>
<text x="673.3" y="955.5" font-size="11" text-anchor="end" fill="#333">10<tspan font-size="6.8" dy="-4.6">5</tspan></text>
<text x="673.3" y="989.1" font-size="11" text-anchor="end" fill="#333">10<tspan font-size="6.8" dy="-4.6">4</tspan></text>
<text x="673.3" y="1028.7" font-size="11" text-anchor="end" fill="#333">10<tspan font-size="6.8" dy="-4.6">3</tspan></text>
<text x="671.3" y="1054.7" font-size="11" text-anchor="end" fill="#333">0</text>
<text x="673.3" y="1079.8" font-size="11" text-anchor="end" fill="#333">-10<tspan font-size="6.8" dy="-4.6">3</tspan></text>
<path d="M684.2 1082.8v4M709 1082.8v4M737.2 1082.8v4M774.8 1082.8v4M808 1082.8v4M748.5 1082.8v2M755.2 1082.8v2M759.9 1082.8v2M763.5 1082.8v2M766.5 1082.8v2M769 1082.8v2M771.2 1082.8v2M773.1 1082.8v2M784.8 1082.8v2M790.7 1082.8v2M794.8 1082.8v2M798 1082.8v2M800.7 1082.8v2M802.9 1082.8v2M804.8 1082.8v2M806.5 1082.8v2M688.3 1082.8v2M713.7 1082.8v2M692.5 1082.8v2M718.4 1082.8v2M696.6 1082.8v2M723.1 1082.8v2M700.7 1082.8v2M727.8 1082.8v2M704.9 1082.8v2M732.5 1082.8v2" fill="none" stroke="#444" stroke-width="0.9"/>
<rect x="703" y="1083.8" width="7" height="3" fill="#222"/>
<path transform="translate(845.3 937.5) scale(1)" d="M99 67h0m-35 2h0m3 0h0m12 0h0m4 0h0m1 0h0m2 0h0m4 0h0m8 0h0m-45 1h0m5 0h0m2 0h0m3 0h0m21 0h0m-40 1h0m2 0h0m2 0h0m1 0h0m1 0h0m7 0h0m1 0h0m9 0h0m18 0h0m7 0h0m-47 1h0m9 0h0m14 0h0m2 0h0m6 0h0m6 0h0m2 0h0m1 0h0m5 0h0m-41 1h0m2 0h0m2 0h0m4 0h0m2 0h0m6 0h0m7 0h0m1 0h0m3 0h0m14 0h0m2 0h0m2 0h0m10 0h0m-64 1h0m5 0h0m3 0h0m4 0h0m1 0h0m2 0h0m1 0h0m4 0h0m9 0h0m1 0h0m3 0h0m1 0h0m8 0h0m3 0h0m4 0h0m2 0h0m2 0h0m2 0h0m-54 1h0m10 0h0m1 0h0m1 0h0m6 0h0m1 0h0m2 0h0m5 0h0m3 0h0m4 0h0m1 0h0m1 0h0m11 0h0m1 0h0m3 0h0m3 0h0m3 0h0m2 0h0m-55 1h0m2 0h0m1 0h0m4 0h0m2 0h0m13 0h0m1 0h0m3 0h0m5 0h0m5 0h0m5 0h0m1 0h0m3 0h0m5 0h0m3 0h0m1 0h0m-61 1h0m2 0h0m2 0h0m1 0h0m3 0h0m2 0h0m6 0h0m2 0h0m2 0h0m7 0h0m1 0h0m2 0h0m1 0h0m1 0h0m2 0h0m2 0h0m1 0h0m2 0h0m1 0h0m2 0h0m5 0h0m3 0h0m2 0h0m5 0h0m1 0h0m1 0h0m-52 1h0m2 0h0m7 0h0m6 0h0m1 0h0m2 0h0m1 0h0m2 0h0m2 0h0m2 0h0m1 0h0m4 0h0m3 0h0m1 0h0m1 0h0m2 0h0m1 0h0m1 0h0m1 0h0m4 0h0m2 0h0m1 0h0m2 0h0m5 0h0m-66 1h0m13 0h0m1 0h0m4 0h0m7 0h0m5 0h0m1 0h0m1 0h0m2 0h0m1 0h0m1 0h0m1 0h0m1 0h0m1 0h0m1 0h0m2 0h0m3 0h0m1 0h0m5 0h0m2 0h0m1 0h0m1 0h0m1 0h0m1 0h0m2 0h0m5 0h0m-60 1h0m2 0h0m1 0h0m2 0h0m12 0h0m10 0h0m4 0h0m1 0h0m2 0h0m1 0h0m1 0h0m7 0h0m5 0h0m1 0h0m3 0h0m1 0h0m4 0h0m3 0h0m-61 1h0m1 0h0m2 0h0m5 0h0m4 0h0m1 0h0m1 0h0m8 0h0m1 0h0m1 0h0m5 0h0m2 0h0m1 0h0m2 0h0m12 0h0m2 0h0m1 0h0m1 0h0m2 0h0m1 0h0m1 0h0m2 0h0m1 0h0m3 0h0m1 0h0m2 0h0m6 0h0m1 0h0m6 0h0m-72 1h0m3 0h0m1 0h0m6 0h0m1 0h0m6 0h0m1 0h0m3 0h0m2 0h0m2 0h0m3 0h0m3 0h0m2 0h0m1 0h0m1 0h0m1 0h0m1 0h0m1 0h0m2 0h0m1 0h0m1 0h0m5 0h0m4 0h0m2 0h0m1 0h0m1 0h0m2 0h0m1 0h0m2 0h0m-64 1h0m2 0h0m2 0h0m4 0h0m2 0h0m1 0h0m4 0h0m1 0h0m2 0h0m3 0h0m5 0h0m1 0h0m2 0h0m2 0h0m2 0h0m1 0h0m1 0h0m1 0h0m5 0h0m6 0h0m1 0h0m1 0h0m1 0h0m2 0h0m2 0h0m5 0h0m3 0h0m4 0h0m-68 1h0m1 0h0m8 0h0m1 0h0m2 0h0m1 0h0m5 0h0m2 0h0m1 0h0m4 0h0m2 0h0m4 0h0m2 0h0m2 0h0m1 0h0m1 0h0m1 0h0m1 0h0m1 0h0m3 0h0m2 0h0m1 0h0m1 0h0m1 0h0m2 0h0m3 0h0m3 0h0m1 0h0m1 0h0m1 0h0m-55 1h0m3 0h0m1 0h0m1 0h0m1 0h0m2 0h0m11 0h0m1 0h0m1 0h0m2 0h0m1 0h0m1 0h0m2 0h0m1 0h0m3 0h0m3 0h0m1 0h0m1 0h0m4 0h0m5 0h0m1 0h0m1 0h0m1 0h0m1 0h0m1 0h0m4 0h0m1 0h0m1 0h0m2 0h0m1 0h0m5 0h0m2 0h0m7 0h0m-75 1h0m6 0h0m1 0h0m5 0h0m2 0h0m1 0h0m1 0h0m1 0h0m1 0h0m5 0h0m2 0h0m2 0h0m1 0h0m1 0h0m1 0h0m3 0h0m1 0h0m1 0h0m1 0h0m3 0h0m1 0h0m1 0h0m1 0h0m1 0h0m1 0h0m2 0h0m6 0h0m2 0h0m1 0h0m1 0h0m6 0h0m-63 1h0m1 0h0m1 0h0m1 0h0m1 0h0m2 0h0m1 0h0m1 0h0m7 0h0m2 0h0m5 0h0m4 0h0m1 0h0m2 0h0m1 0h0m1 0h0m1 0h0m2 0h0m1 0h0m2 0h0m2 0h0m1 0h0m1 0h0m1 0h0m1 0h0m3 0h0m2 0h0m4 0h0m1 0h0m2 0h0m1 0h0m3 0h0m1 0h0m1 0h0m1 0h0m-69 1h0m2 0h0m7 0h0m2 0h0m1 0h0m1 0h0m1 0h0m7 0h0m2 0h0m5 0h0m1 0h0m3 0h0m2 0h0m4 0h0m1 0h0m4 0h0m1 0h0m2 0h0m1 0h0m1 0h0m1 0h0m3 0h0m1 0h0m3 0h0m2 0h0m1 0h0m1 0h0m1 0h0m3 0h0m1 0h0m1 0h0m1 0h0m1 0h0m2 0h0m5 0h0m-71 1h0m1 0h0m1 0h0m1 0h0m1 0h0m1 0h0m2 0h0m1 0h0m3 0h0m2 0h0m5 0h0m1 0h0m2 0h0m1 0h0m2 0h0m2 0h0m1 0h0m1 0h0m3 0h0m1 0h0m5 0h0m5 0h0m1 0h0m3 0h0m1 0h0m1 0h0m4 0h0m1 0h0m1 0h0m1 0h0m5 0h0m1 0h0m1 0h0m1 0h0m1 0h0m2 0h0m4 0h0m-70 1h0m3 0h0m2 0h0m1 0h0m2 0h0m1 0h0m2 0h0m2 0h0m3 0h0m5 0h0m5 0h0m2 0h0m1 0h0m1 0h0m1 0h0m1 0h0m1 0h0m1 0h0m4 0h0m2 0h0m1 0h0m2 0h0m3 0h0m1 0h0m1 0h0m2 0h0m4 0h0m1 0h0m2 0h0m1 0h0m1 0h0m6 0h0m1 0h0m2 0h0m-66 1h0m4 0h0m6 0h0m2 0h0m1 0h0m1 0h0m2 0h0m1 0h0m4 0h0m1 0h0m1 0h0m2 0h0m2 0h0m2 0h0m4 0h0m1 0h0m2 0h0m1 0h0m1 0h0m1 0h0m6 0h0m3 0h0m1 0h0m2 0h0m1 0h0m1 0h0m5 0h0m2 0h0m1 0h0m1 0h0m1 0h0m1 0h0m-68 1h0m4 0h0m3 0h0m1 0h0m2 0h0m1 0h0m1 0h0m8 0h0m1 0h0m1 0h0m3 0h0m2 0h0m3 0h0m4 0h0m1 0h0m6 0h0m1 0h0m1 0h0m3 0h0m2 0h0m2 0h0m2 0h0m1 0h0m1 0h0m1 0h0m1 0h0m1 0h0m1 0h0m1 0h0m1 0h0m1 0h0m2 0h0m6 0h0m2 0h0m-70 1h0m8 0h0m2 0h0m1 0h0m1 0h0m1 0h0m3 0h0m3 0h0m1 0h0m1 0h0m1 0h0m3 0h0m2 0h0m2 0h0m2 0h0m7 0h0m1 0h0m2 0h0m1 0h0m1 0h0m3 0h0m3 0h0m4 0h0m1 0h0m1 0h0m1 0h0m2 0h0m1 0h0m1 0h0m1 0h0m2 0h0m5 0h0m-63 1h0m1 0h0m1 0h0m1 0h0m1 0h0m1 0h0m2 0h0m1 0h0m1 0h0m7 0h0m4 0h0m2 0h0m1 0h0m2 0h0m2 0h0m2 0h0m7 0h0m4 0h0m2 0h0m1 0h0m17 0h0m-66 1h0m5 0h0m1 0h0m2 0h0m3 0h0m5 0h0m7 0h0m2 0h0m3 0h0m3 0h0m7 0h0m4 0h0m1 0h0m1 0h0m3 0h0m2 0h0m1 0h0m2 0h0m2 0h0m2 0h0m1 0h0m2 0h0m2 0h0m4 0h0m2 0h0m-62 1h0m2 0h0m3 0h0m1 0h0m2 0h0m4 0h0m3 0h0m1 0h0m5 0h0m2 0h0m1 0h0m1 0h0m7 0h0m1 0h0m6 0h0m2 0h0m4 0h0m1 0h0m2 0h0m4 0h0m2 0h0m1 0h0m2 0h0m6 0h0m1 0h0m2 0h0m-73 1h0m4 0h0m3 0h0m2 0h0m7 0h0m2 0h0m2 0h0m2 0h0m2 0h0m2 0h0m3 0h0m2 0h0m3 0h0m1 0h0m3 0h0m2 0h0m5 0h0m1 0h0m1 0h0m1 0h0m1 0h0m2 0h0m1 0h0m4 0h0m1 0h0m2 0h0m1 0h0m1 0h0m2 0h0m1 0h0m2 0h0m11 0h0m-74 1h0m2 0h0m6 0h0m1 0h0m1 0h0m1 0h0m9 0h0m5 0h0m1 0h0m9 0h0m5 0h0m1 0h0m3 0h0m2 0h0m1 0h0m1 0h0m8 0h0m8 0h0m4 0h0m-63 1h0m1 0h0m1 0h0m6 0h0m2 0h0m1 0h0m1 0h0m2 0h0m6 0h0m1 0h0m5 0h0m2 0h0m1 0h0m1 0h0m2 0h0m5 0h0m11 0h0m4 0h0m11 0h0m4 0h0m-76 1h0m6 0h0m1 0h0m4 0h0m3 0h0m5 0h0m2 0h0m11 0h0m1 0h0m5 0h0m3 0h0m6 0h0m3 0h0m3 0h0m4 0h0m15 0h0m-63 1h0m1 0h0m1 0h0m1 0h0m5 0h0m3 0h0m6 0h0m1 0h0m1 0h0m1 0h0m4 0h0m2 0h0m1 0h0m2 0h0m1 0h0m2 0h0m2 0h0m10 0h0m1 0h0m10 0h0m6 0h0m-68 1h0m10 0h0m6 0h0m4 0h0m2 0h0m1 0h0m3 0h0m2 0h0m3 0h0m3 0h0m1 0h0m1 0h0m1 0h0m-35 1h0m1 0h0m7 0h0m8 0h0m1 0h0m2 0h0m1 0h0m1 0h0m2 0h0m3 0h0m1 0h0m7 0h0m1 0h0m2 0h0m9 0h0m3 0h0m16 0h0m-55 1h0m3 0h0m2 0h0m4 0h0m4 0h0m3 0h0m1 0h0m2 0h0m1 0h0m1 0h0m3 0h0m3 0h0m2 0h0m2 0h0m1 0h0m1 0h0m3 0h0m7 0h0m1 0h0m5 0h0m-61 1h0m11 0h0m2 0h0m1 0h0m7 0h0m2 0h0m1 0h0m4 0h0m3 0h0m2 0h0m2 0h0m1 0h0m4 0h0m3 0h0m4 0h0m2 0h0m5 0h0m7 0h0m8 0h0m-71 1h0m17 0h0m1 0h0m1 0h0m2 0h0m1 0h0m1 0h0m3 0h0m5 0h0m2 0h0m2 0h0m3 0h0m3 0h0m2 0h0m2 0h0m1 0h0m6 0h0m10 0h0m3 0h0m1 0h0m3 0h0m-69 1h0m1 0h0m18 0h0m2 0h0m3 0h0m4 0h0m1 0h0m2 0h0m4 0h0m2 0h0m3 0h0m3 0h0m1 0h0m1 0h0m1 0h0m4 0h0m1 0h0m4 0h0m3 0h0m3 0h0m3 0h0m1 0h0m2 0h0m-67 1h0m1 0h0m18 0h0m1 0h0m3 0h0m2 0h0m1 0h0m1 0h0m1 0h0m1 0h0m4 0h0m1 0h0m2 0h0m1 0h0m5 0h0m2 0h0m4 0h0m1 0h0m1 0h0m8 0h0m1 0h0m1 0h0m3 0h0m4 0h0m-70 1h0m2 0h0m1 0h0m1 0h0m16 0h0m1 0h0m4 0h0m4 0h0m1 0h0m2 0h0m3 0h0m5 0h0m1 0h0m2 0h0m1 0h0m1 0h0m1 0h0m4 0h0m1 0h0m4 0h0m4 0h0m2 0h0m9 0h0m1 0h0m2 0h0m1 0h0m1 0h0m-55 1h0m1 0h0m3 0h0m6 0h0m1 0h0m3 0h0m1 0h0m1 0h0m1 0h0m2 0h0m2 0h0m1 0h0m1 0h0m1 0h0m2 0h0m3 0h0m2 0h0m2 0h0m3 0h0m1 0h0m2 0h0m1 0h0m2 0h0m4 0h0m3 0h0m-70 1h0m20 0h0m1 0h0m5 0h0m9 0h0m1 0h0m1 0h0m1 0h0m4 0h0m3 0h0m3 0h0m1 0h0m1 0h0m5 0h0m2 0h0m1 0h0m1 0h0m2 0h0m1 0h0m1 0h0m1 0h0m1 0h0m1 0h0m1 0h0m4 0h0m1 0h0m2 0h0m2 0h0m1 0h0m-72 1h0m1 0h0m13 0h0m5 0h0m1 0h0m2 0h0m3 0h0m4 0h0m1 0h0m5 0h0m1 0h0m7 0h0m1 0h0m2 0h0m1 0h0m2 0h0m3 0h0m2 0h0m1 0h0m1 0h0m8 0h0m1 0h0m1 0h0m1 0h0m1 0h0m3 0h0m2 0h0m-60 1h0m7 0h0m4 0h0m1 0h0m14 0h0m3 0h0m3 0h0m3 0h0m1 0h0m1 0h0m1 0h0m2 0h0m3 0h0m1 0h0m2 0h0m1 0h0m1 0h0m2 0h0m2 0h0m2 0h0m1 0h0m2 0h0m-67 1h0m25 0h0m12 0h0m1 0h0m6 0h0m2 0h0m8 0h0m2 0h0m2 0h0m2 0h0m2 0h0m2 0h0m5 0h0m-62 1h0m21 0h0m11 0h0m4 0h0m4 0h0m2 0h0m9 0h0m2 0h0m3 0h0m3 0h0m2 0h0m-66 1h0m27 0h0m11 0h0m1 0h0m2 0h0m4 0h0m6 0h0m2 0h0m1 0h0m3 0h0m2 0h0m1 0h0m1 0h0m3 0h0m-62 1h0m30 0h0m4 0h0m10 0h0m7 0h0m5 0h0m-55 1h0m3 0h0m33 0h0m20 0h0m-53 2h0m54 0h0" stroke="#3048b0" stroke-width="1.1" stroke-linecap="round" fill="none"/>
<path transform="translate(845.3 937.5) scale(1)" d="M69 84h0m-1 1h0m-3 1h0m2 0h0m-1 1h0m-31 15h0m-3 1h0m2 0h0m1 0h0m1 0h0m-5 1h0m1 0h0m1 0h0m4 0h0m-8 1h0m-1 1h0m1 0h0m-1 1h0m1 0h0m10 0h0m1 0h0m1 0h0m-14 1h0m13 0h0m-13 1h0m14 1h0m-13 2h0m8 1h0m3 0h0m-5 1h0m2 0h0m-4 1h0m3 0h0" stroke="#2c64c4" stroke-width="1.1" stroke-linecap="round" fill="none"/>
<path transform="translate(845.3 937.5) scale(1)" d="M31 104h0m3 0h0m2 0h0m-4 1h0m3 0h0m1 0h0m2 1h0m-8 1h0m8 0h0m1 0h0m-10 1h0m11 0h0m-12 1h0m1 0h0m10 0h0m1 0h0m-12 1h0m10 0h0m1 0h0m1 0h0m-10 1h0m0 1h0m1 0h0m6 0h0m1 0h0m-8 1h0m1 0h0m1 0h0m2 0h0m2 0h0m-5 1h0m1 0h0m3 0h0" stroke="#28a4cc" stroke-width="1.1" stroke-linecap="round" fill="none"/>
<path transform="translate(845.3 937.5) scale(1)" d="M32 105h0m1 0h0m4 0h0m-6 1h0m1 0h0m1 0h0m2 0h0m1 0h0m2 0h0m-8 1h0m1 0h0m8 0h0m-9 1h0m1 0h0m7 0h0m1 0h0m-9 1h0m9 0h0m-9 1h0m8 0h0m-8 2h0m1 0h0m1 0h0m1 0h0m5 0h0m-6 1h0m3 0h0" stroke="#30bc8c" stroke-width="1.1" stroke-linecap="round" fill="none"/>
<path transform="translate(845.3 937.5) scale(1)" d="M35 105h0m-3 1h0m1 0h0m1 0h0m2 0h0m1 0h0m-6 1h0m2 0h0m4 0h0m-7 1h0m1 0h0m6 0h0m1 0h0m-7 1h0m6 0h0m1 0h0m-8 1h0m1 0h0m6 0h0m1 0h0m-7 1h0m1 0h0m4 0h0m-4 1h0m2 0h0m1 0h0m1 0h0m1 0h0m-4 1h0" stroke="#70cc40" stroke-width="1.1" stroke-linecap="round" fill="none"/>
<path transform="translate(845.3 937.5) scale(1)" d="M34 106h0m1 0h0m-3 1h0m1 0h0m1 0h0m1 0h0m1 0h0m-5 1h0m1 0h0m4 0h0m1 0h0m-6 1h0m1 0h0m4 0h0m1 0h0m-6 1h0m1 0h0m4 0h0m1 0h0m-5 1h0m1 0h0m1 0h0m1 0h0m1 0h0m-3 1h0m1 0h0m1 0h0m1 0h0" stroke="#d0dc20" stroke-width="1.1" stroke-linecap="round" fill="none"/>
<path transform="translate(845.3 937.5) scale(1)" d="M33 107h0m1 0h0m1 0h0m-2 1h0m1 0h0m1 0h0m1 0h0m-3 2h0m3 0h0m-4 1h0m1 0h0m2 0h0m1 0h0" stroke="#f8a010" stroke-width="1.1" stroke-linecap="round" fill="none"/>
<path transform="translate(845.3 937.5) scale(1)" d="M32 108h0m1 0h0m1 0h0m1 0h0m1 0h0m-4 1h0m1 0h0m1 0h0m1 0h0m1 0h0m-4 1h0m1 0h0m1 0h0m1 0h0m1 0h0m-3 1h0m1 0h0m1 0h0" stroke="#f02010" stroke-width="1.1" stroke-linecap="round" fill="none"/>
<line x1="889.8" y1="937.5" x2="889.8" y2="1082.8" stroke="#2a2a2a" stroke-width="1.4"/>
<line x1="845.3" y1="1038.2" x2="989.8" y2="1038.2" stroke="#2a2a2a" stroke-width="1.4"/>
<rect x="845.3" y="937.5" width="144.5" height="145.3" fill="none" stroke="#333" stroke-width="1.1"/>
<text x="849.3" y="958.7" font-size="15.5" fill="#231f20">2.04</text>
<text x="985.8" y="958.7" font-size="15.5" text-anchor="end" fill="#231f20">24.8</text>
<text x="848.3" y="1066.9" font-size="15.5" fill="#231f20">63.5</text>
<text x="985.8" y="1066.9" font-size="15.5" text-anchor="end" fill="#231f20">9.65</text>
<path d="M841.3 951.5h4M841.3 985.1h4M841.3 1024.7h4M841.3 1050.7h4M841.3 1075.8h4M843.3 975h2M843.3 969.1h2M843.3 964.9h2M843.3 961.6h2M843.3 959h2M843.3 956.7h2M843.3 954.8h2M843.3 953.1h2M843.3 1012.8h2M843.3 1005.8h2M843.3 1000.8h2M843.3 997h2M843.3 993.9h2M843.3 991.2h2M843.3 988.9h2M843.3 986.9h2M843.3 1029h2M843.3 1054.9h2M843.3 1033.4h2M843.3 1059.1h2M843.3 1037.7h2M843.3 1063.3h2M843.3 1042h2M843.3 1067.4h2M843.3 1046.4h2M843.3 1071.6h2" fill="none" stroke="#444" stroke-width="0.9"/>
<rect x="841.3" y="1047.7" width="3" height="6" fill="#222"/>
<path d="M853.2 1082.8v4M878 1082.8v4M906.2 1082.8v4M943.8 1082.8v4M976.9 1082.8v4M917.5 1082.8v2M924.1 1082.8v2M928.8 1082.8v2M932.5 1082.8v2M935.4 1082.8v2M938 1082.8v2M940.1 1082.8v2M942.1 1082.8v2M953.8 1082.8v2M959.6 1082.8v2M963.7 1082.8v2M967 1082.8v2M969.6 1082.8v2M971.8 1082.8v2M973.7 1082.8v2M975.4 1082.8v2M857.3 1082.8v2M882.7 1082.8v2M861.5 1082.8v2M887.4 1082.8v2M865.6 1082.8v2M892.1 1082.8v2M869.7 1082.8v2M896.8 1082.8v2M873.8 1082.8v2M901.5 1082.8v2" fill="none" stroke="#444" stroke-width="0.9"/>
<rect x="872" y="1083.8" width="7" height="3" fill="#222"/>
<path transform="translate(1015.6 937.5) scale(1)" d="M138 19h0m3 2h0m1 0h0m-7 3h0m6 2h0m0 3h0m-5 1h0m-6 1h0m9 0h0m-1 1h0m-3 2h0m2 0h0m-8 1h0m6 0h0m-4 1h0m4 0h0m5 0h0m-14 2h0m3 0h0m4 0h0m3 0h0m-16 1h0m9 0h0m1 0h0m-4 1h0m4 0h0m3 0h0m4 0h0m-17 1h0m5 0h0m1 0h0m1 0h0m2 0h0m2 0h0m5 0h0m-20 1h0m3 0h0m2 0h0m4 0h0m1 0h0m4 0h0m5 0h0m-12 1h0m12 0h0m-11 1h0m1 0h0m3 0h0m9 0h0m-22 1h0m1 0h0m2 0h0m5 0h0m4 0h0m-12 1h0m2 0h0m7 0h0m13 0h0m-29 1h0m4 0h0m1 0h0m10 0h0m1 0h0m2 0h0m1 0h0m3 0h0m-23 1h0m5 0h0m18 0h0m4 0h0m-13 1h0m9 0h0m-29 1h0m28 0h0m-5 1h0m1 0h0m2 0h0m-2 1h0m-42 1h0m16 0h0m24 0h0m-40 1h0m16 0h0m34 0h0m-39 1h0m2 0h0m1 0h0m24 1h0m-36 1h0m10 0h0m25 0h0m-44 1h0m3 0h0m41 0h0m7 0h0m-53 1h0m2 0h0m12 0h0m33 0h0m-37 1h0m9 0h0m24 0h0m-50 1h0m10 0h0m14 0h0m35 0h0m-33 1h0m-17 1h0m11 0h0m-7 1h0m4 0h0m32 0h0m-44 1h0m1 0h0m4 0h0m12 0h0m24 0h0m12 0h0m-53 1h0m17 0h0m23 0h0m-44 1h0m3 0h0m18 0h0m1 0h0m23 0h0m-40 1h0m11 0h0m1 0h0m1 0h0m24 0h0m8 0h0m-53 1h0m3 0h0m2 0h0m5 0h0m1 0h0m8 0h0m27 0h0m-54 1h0m2 0h0m3 0h0m22 0h0m28 0h0m-27 1h0m1 0h0m-8 1h0m3 0h0m1 0h0m-20 1h0m9 0h0m10 0h0m29 0h0m8 0h0m-42 1h0m3 0h0m3 0h0m24 0h0m-51 1h0m8 0h0m12 0h0m3 0h0m-30 1h0m9 0h0m7 0h0m18 0h0m20 0h0m-40 1h0m3 0h0m2 0h0m11 0h0m-5 1h0m1 0h0m2 0h0m25 0h0m-48 1h0m6 0h0m13 0h0m1 0h0m25 0h0m-33 1h0m1 0h0m35 0h0m-49 1h0m13 0h0m3 0h0m3 0h0m2 0h0m3 0h0m-22 1h0m5 0h0m3 0h0m11 0h0m3 0h0m19 0h0m1 0h0m-41 1h0m1 0h0m4 0h0m1 0h0m5 0h0m3 0h0m1 0h0m27 0h0m-41 1h0m7 0h0m33 0h0m1 0h0m-66 1h0m31 0h0m1 0h0m5 0h0m1 0h0m22 0h0m2 0h0m3 0h0m1 0h0m-50 1h0m4 0h0m5 0h0m2 0h0m1 0h0m35 0h0m-52 1h0m2 0h0m10 0h0m1 0h0m3 0h0m4 0h0m2 0h0m31 0h0m5 0h0m-47 1h0m5 0h0m8 0h0m1 0h0m-26 1h0m10 0h0m4 0h0m6 0h0m1 0h0m30 0h0m-44 1h0m1 0h0m5 0h0m2 0h0m3 0h0m3 0h0m25 0h0m8 0h0m-42 1h0m2 0h0m4 0h0m30 0h0m-54 1h0m3 0h0m11 0h0m5 0h0m35 0h0m2 0h0m-58 1h0m11 0h0m4 0h0m1 0h0m6 0h0m31 0h0m-40 1h0m2 0h0m37 0h0m3 0h0m-3 1h0m-41 1h0m2 0h0m1 0h0m35 0h0m4 0h0m-45 1h0m5 0h0m37 0h0m5 0h0m2 0h0m-52 1h0m1 0h0m6 0h0m37 0h0m2 0h0m5 0h0m-49 1h0m2 0h0m1 0h0m38 0h0m1 0h0m-45 1h0m1 0h0m3 0h0m1 0h0m47 0h0m-71 1h0m14 0h0m8 0h0m2 0h0m43 0h0m10 0h0m-62 1h0m47 0h0m-40 1h0m2 0h0m39 0h0m10 0h0m4 0h0m-68 1h0m8 0h0m43 0h0m1 0h0m2 0h0m3 0h0m3 0h0m-51 1h0m3 0h0m56 0h0m-63 1h0m4 0h0m1 0h0m3 0h0m38 0h0m13 0h0m2 0h0m-12 1h0m1 0h0m-68 1h0m5 0h0m7 0h0m5 0h0m6 0h0m42 0h0m2 0h0m9 0h0m-65 1h0m5 0h0m3 0h0m44 0h0m2 0h0m-52 1h0m7 0h0m46 0h0m4 0h0m-51 1h0m44 0h0m2 0h0m3 0h0m5 0h0m-62 1h0m8 0h0m49 0h0m2 0h0m12 0h0m-14 1h0m2 0h0m-65 1h0m12 0h0m-6 1h0m2 0h0m1 0h0m54 0h0m5 0h0m-63 1h0m5 0h0m48 0h0m-52 1h0m1 0h0m49 0h0m1 0h0m1 0h0m7 0h0m-63 1h0m49 0h0m7 0h0m7 0h0m16 0h0m-79 1h0m3 0h0m5 0h0m1 0h0m41 0h0m4 0h0m30 0h0m-80 1h0m3 0h0m45 0h0m-51 1h0m6 0h0m1 0h0m53 0h0m-54 1h0m1 0h0m1 0h0m43 0h0m4 0h0m-64 1h0m6 0h0m4 0h0m1 0h0m4 0h0m40 0h0m2 0h0m3 0h0m4 0h0m-51 1h0m48 0h0m8 0h0m-54 1h0m1 0h0m37 0h0m3 0h0m1 0h0m1 0h0m-49 1h0m8 0h0m37 0h0m15 0h0m-56 1h0m5 0h0m2 0h0m31 0h0m19 0h0m-75 1h0m23 0h0m2 0h0m29 0h0m5 0h0m-43 1h0m5 0h0m39 0h0m-42 1h0m6 0h0m1 0h0m25 0h0m7 0h0m-38 1h0m2 0h0m1 0h0m25 0h0m1 0h0m3 0h0m6 0h0m4 0h0m12 0h0m-64 1h0m4 0h0m8 0h0m4 0h0m1 0h0m19 0h0m3 0h0m7 0h0m-37 1h0m29 0h0m4 0h0m4 0h0m3 0h0m5 0h0m5 0h0m-49 1h0m9 0h0m19 0h0m4 0h0m2 0h0m-58 1h0m21 0h0m1 0h0m19 0h0m13 0h0m6 0h0m9 0h0m-48 1h0m2 0h0m9 0h0m5 0h0m3 0h0m3 0h0m7 0h0m1 0h0m2 0h0m2 0h0m3 0h0m2 0h0m-58 1h0m3 0h0m25 0h0m8 0h0m12 0h0m1 0h0m2 0h0m-40 1h0m5 0h0m7 0h0m7 0h0m6 0h0m3 0h0m2 0h0m11 0h0m3 0h0m2 0h0m-34 1h0m4 0h0m1 0h0m9 0h0m5 0h0m1 0h0m1 0h0m2 0h0m3 0h0m3 0h0m1 0h0m9 0h0m-45 1h0m5 0h0m7 0h0m8 0h0m7 0h0m5 0h0m6 0h0m-42 1h0m4 0h0m8 0h0m9 0h0m4 0h0m1 0h0m3 0h0m11 0h0m-30 1h0m4 0h0m4 0h0m1 0h0m5 0h0m14 0h0m-22 1h0m1 0h0m5 0h0m1 0h0m19 0h0m-50 1h0m18 0h0m9 0h0m2 0h0m7 0h0m5 0h0" stroke="#3030e8" stroke-width="1.1" stroke-linecap="round" fill="none"/>
<path transform="translate(1015.6 937.5) scale(1)" d="M123 45h0m-4 1h0m2 0h0m1 0h0m1 0h0m-5 1h0m1 0h0m3 0h0m-4 1h0m1 0h0m1 0h0m1 0h0m-12 1h0m2 0h0m3 0h0m1 0h0m1 0h0m1 0h0m5 0h0m-15 1h0m1 0h0m3 0h0m2 0h0m3 0h0m2 0h0m2 0h0m-12 1h0m10 0h0m2 0h0m1 0h0m-18 1h0m2 0h0m1 0h0m12 0h0m1 0h0m-17 1h0m2 0h0m1 0h0m14 0h0m1 0h0m-19 1h0m1 0h0m-4 1h0m19 0h0m1 1h0m-21 1h0m21 0h0m-21 1h0m1 0h0m18 0h0m-21 1h0m1 0h0m20 0h0m-21 1h0m19 0h0m1 0h0m-20 1h0m2 0h0m16 0h0m2 0h0m-20 1h0m1 0h0m-2 1h0m1 0h0m16 0h0m-18 1h0m1 0h0m2 0h0m15 0h0m2 0h0m1 0h0m-19 1h0m15 0h0m-17 1h0m17 0h0m-20 1h0m1 0h0m2 0h0m16 0h0m-17 1h0m1 0h0m15 0h0m1 0h0m-17 1h0m13 0h0m1 0h0m-17 1h0m3 0h0m1 0h0m-4 1h0m1 0h0m16 0h0m-21 1h0m3 0h0m1 0h0m2 0h0m11 0h0m1 0h0m-17 1h0m14 0h0m3 0h0m-18 1h0m3 0h0m13 0h0m1 0h0m-16 1h0m2 0h0m-3 1h0m2 0h0m11 0h0m-17 1h0m1 0h0m2 0h0m1 0h0m14 0h0m-19 1h0m2 0h0m3 0h0m11 0h0m2 0h0m-20 1h0m1 0h0m1 0h0m1 0h0m2 0h0m13 0h0m-17 1h0m1 0h0m2 0h0m13 0h0m-5 1h0m2 0h0m3 0h0m-15 1h0m9 0h0m1 0h0m2 0h0m-20 1h0m1 0h0m5 0h0m14 0h0m1 0h0m-23 1h0m1 0h0m1 0h0m2 0h0m1 0h0m2 0h0m10 0h0m1 0h0m1 0h0m-17 1h0m3 0h0m1 0h0m1 0h0m-7 1h0m1 0h0m1 0h0m3 0h0m1 0h0m1 0h0m9 0h0m-17 1h0m1 0h0m3 0h0m2 0h0m10 0h0m2 0h0m1 0h0m-16 1h0m14 0h0m-18 1h0m2 0h0m-9 1h0m2 0h0m4 0h0m1 0h0m2 0h0m1 0h0m1 0h0m10 0h0m4 0h0m-21 1h0m2 0h0m14 0h0m1 0h0m2 0h0m1 0h0m-29 1h0m5 0h0m1 0h0m3 0h0m3 0h0m13 0h0m2 0h0m-27 1h0m1 0h0m3 0h0m3 0h0m17 0h0m1 0h0m1 0h0m2 0h0m-34 1h0m1 0h0m1 0h0m1 0h0m2 0h0m2 0h0m1 0h0m1 0h0m2 0h0m1 0h0m2 0h0m13 0h0m1 0h0m1 0h0m-29 1h0m3 0h0m2 0h0m2 0h0m2 0h0m1 0h0m1 0h0m14 0h0m5 0h0m1 0h0m-33 1h0m1 0h0m1 0h0m1 0h0m2 0h0m2 0h0m2 0h0m7 0h0m1 0h0m11 0h0m2 0h0m1 0h0m3 0h0m-34 1h0m5 0h0m3 0h0m1 0h0m1 0h0m5 0h0m2 0h0m9 0h0m4 0h0m2 0h0m-31 1h0m4 0h0m1 0h0m2 0h0m2 0h0m17 0h0m2 0h0m1 0h0m1 0h0m2 0h0m-36 1h0m2 0h0m4 0h0m2 0h0m1 0h0m1 0h0m9 0h0m2 0h0m8 0h0m1 0h0m1 0h0m1 0h0m1 0h0m3 0h0m-36 1h0m3 0h0m1 0h0m1 0h0m26 0h0m-31 1h0m1 0h0m2 0h0m1 0h0m24 0h0m1 0h0m2 0h0m2 0h0m2 0h0m-38 1h0m1 0h0m6 0h0m24 0h0m1 0h0m3 0h0m2 0h0m-34 1h0m1 0h0m26 0h0m4 0h0m-4 1h0m3 0h0m3 0h0m-35 1h0m1 0h0m28 0h0m1 0h0m1 0h0m1 0h0m-33 1h0m1 0h0m26 0h0m1 0h0m2 0h0m3 0h0m-33 1h0m1 0h0m27 0h0m1 0h0m6 0h0m-37 1h0m32 0h0m2 0h0m-33 1h0m31 0h0m2 0h0m-38 1h0m5 0h0m29 0h0m1 0h0m1 0h0m2 0h0m-40 1h0m1 0h0m1 0h0m1 0h0m1 0h0m1 0h0m32 0h0m1 0h0m1 0h0m-38 1h0m1 0h0m34 0h0m4 0h0m1 0h0m-41 1h0m5 0h0m35 0h0m2 0h0m1 0h0m-46 1h0m2 0h0m1 0h0m1 0h0m1 0h0m1 0h0m31 0h0m1 0h0m3 0h0m3 0h0m-7 1h0m4 0h0m3 0h0m1 0h0m-44 1h0m1 0h0m1 0h0m1 0h0m31 0h0m6 0h0m2 0h0m2 0h0m-44 1h0m1 0h0m1 0h0m32 0h0m3 0h0m1 0h0m2 0h0m-40 1h0m1 0h0m35 0h0m1 0h0m-36 1h0m1 0h0m2 0h0m28 0h0m4 0h0m-37 1h0m3 0h0m29 0h0m2 0h0m1 0h0m2 0h0m-38 1h0m3 0h0m2 0h0m2 0h0m28 0h0m1 0h0m1 0h0m1 0h0m-35 1h0m3 0h0m1 0h0m23 0h0m1 0h0m1 0h0m3 0h0m-33 1h0m2 0h0m2 0h0m1 0h0m2 0h0m23 0h0m1 0h0m3 0h0m-28 1h0m1 0h0m18 0h0m2 0h0m2 0h0m5 0h0m-32 1h0m2 0h0m4 0h0m15 0h0m6 0h0m1 0h0m1 0h0m1 0h0m-30 1h0m4 0h0m1 0h0m1 0h0m3 0h0m2 0h0m9 0h0m1 0h0m2 0h0m4 0h0m-26 1h0m1 0h0m4 0h0m1 0h0m4 0h0m5 0h0m1 0h0m3 0h0m3 0h0m3 0h0m-21 1h0m1 0h0m2 0h0m1 0h0m1 0h0m2 0h0m2 0h0m1 0h0m3 0h0m1 0h0m3 0h0m2 0h0m1 0h0m2 0h0m-29 1h0m2 0h0m2 0h0m3 0h0m1 0h0m1 0h0m2 0h0m2 0h0m2 0h0m1 0h0m1 0h0m1 0h0m4 0h0m3 0h0m1 0h0m1 0h0m-25 1h0m2 0h0m2 0h0m1 0h0m2 0h0m1 0h0m1 0h0m1 0h0m2 0h0m2 0h0m1 0h0m2 0h0m2 0h0m-20 1h0m4 0h0m4 0h0m1 0h0m1 0h0m1 0h0m5 0h0m2 0h0m-15 1h0m1 0h0m1 0h0m4 0h0m3 0h0m5 0h0m1 0h0m-15 1h0m8 0h0m5 0h0m2 0h0m-15 1h0m11 0h0m1 0h0m1 0h0m-11 1h0m9 0h0m2 0h0m2 0h0m-15 1h0m3 0h0m7 0h0m4 0h0m-14 1h0m3 0h0m9 0h0m1 0h0m1 0h0m-14 1h0m1 0h0m1 0h0m1 0h0m13 0h0m-13 1h0m-2 1h0" stroke="#2860e8" stroke-width="1.1" stroke-linecap="round" fill="none"/>
<path transform="translate(1015.6 937.5) scale(1)" d="M112 50h0m2 0h0m-3 1h0m1 0h0m1 0h0m2 0h0m-5 1h0m1 0h0m2 0h0m5 0h0m-1 1h0m-14 1h0m1 0h0m2 0h0m10 0h0m1 0h0m-15 1h0m1 0h0m13 0h0m1 0h0m1 0h0m-2 1h0m1 0h0m-18 1h0m15 0h0m1 0h0m1 0h0m-19 1h0m2 0h0m1 0h0m15 0h0m-18 1h0m1 0h0m1 0h0m14 0h0m-16 1h0m2 0h0m-3 1h0m4 0h0m12 0h0m-14 1h0m1 0h0m12 0h0m1 0h0m-16 1h0m1 0h0m2 0h0m11 0h0m1 0h0m-14 1h0m1 0h0m2 0h0m8 0h0m1 0h0m-11 1h0m1 0h0m8 0h0m1 0h0m1 0h0m-14 1h0m1 0h0m1 0h0m1 0h0m1 0h0m-4 1h0m1 0h0m9 0h0m1 0h0m-11 1h0m2 0h0m1 0h0m6 0h0m1 0h0m-10 1h0m2 0h0m7 0h0m1 0h0m1 0h0m-2 1h0m1 0h0m-13 1h0m1 0h0m1 0h0m10 0h0m-13 1h0m1 0h0m2 0h0m5 0h0m2 0h0m-12 1h0m1 0h0m3 0h0m2 0h0m4 0h0m1 0h0m1 0h0m1 0h0m-11 1h0m2 0h0m-6 1h0m2 0h0m1 0h0m6 0h0m3 0h0m-12 1h0m2 0h0m1 0h0m1 0h0m4 0h0m1 0h0m1 0h0m-9 1h0m1 0h0m1 0h0m5 0h0m1 0h0m-10 1h0m1 0h0m3 0h0m1 0h0m3 0h0m1 0h0m1 0h0m-9 1h0m1 0h0m1 0h0m1 0h0m1 0h0m2 0h0m2 0h0m-12 1h0m1 0h0m1 0h0m1 0h0m1 0h0m3 0h0m1 0h0m-9 1h0m1 0h0m2 0h0m1 0h0m3 0h0m-8 1h0m1 0h0m3 0h0m1 0h0m1 0h0m1 0h0m1 0h0m-7 1h0m4 0h0m1 0h0m2 0h0m-11 1h0m1 0h0m2 0h0m1 0h0m1 0h0m1 0h0m1 0h0m1 0h0m1 0h0m-9 1h0m1 0h0m1 0h0m2 0h0m1 0h0m2 0h0m-8 1h0m2 0h0m1 0h0m1 0h0m1 0h0m2 0h0m2 0h0m-9 1h0m2 0h0m1 0h0m1 0h0m2 0h0m-9 1h0m1 0h0m6 0h0m1 0h0m1 0h0m-9 1h0m2 0h0m1 0h0m1 0h0m1 0h0m2 0h0m1 0h0m-10 1h0m2 0h0m1 0h0m1 0h0m1 0h0m3 0h0m1 0h0m1 0h0m-10 1h0m1 0h0m2 0h0m2 0h0m2 0h0m-7 1h0m2 0h0m2 0h0m1 0h0m1 0h0m2 0h0m-13 1h0m1 0h0m2 0h0m1 0h0m1 0h0m1 0h0m1 0h0m1 0h0m1 0h0m2 0h0m-12 1h0m1 0h0m1 0h0m1 0h0m1 0h0m1 0h0m1 0h0m-10 1h0m3 0h0m1 0h0m2 0h0m1 0h0m1 0h0m2 0h0m1 0h0m2 0h0m-15 1h0m2 0h0m1 0h0m2 0h0m1 0h0m2 0h0m2 0h0m1 0h0m1 0h0m2 0h0m1 0h0m-15 1h0m1 0h0m2 0h0m3 0h0m1 0h0m1 0h0m-8 1h0m1 0h0m1 0h0m5 0h0m2 0h0m1 0h0m1 0h0m1 0h0m1 0h0m1 0h0m-17 1h0m1 0h0m2 0h0m2 0h0m5 0h0m2 0h0m1 0h0m1 0h0m1 0h0m-17 1h0m4 0h0m2 0h0m1 0h0m1 0h0m1 0h0m7 0h0m1 0h0m-19 1h0m1 0h0m1 0h0m2 0h0m2 0h0m3 0h0m2 0h0m1 0h0m1 0h0m3 0h0m1 0h0m1 0h0m1 0h0m-23 1h0m2 0h0m3 0h0m10 0h0m3 0h0m2 0h0m1 0h0m1 0h0m-22 1h0m1 0h0m1 0h0m2 0h0m15 0h0m1 0h0m1 0h0m1 0h0m-25 1h0m1 0h0m1 0h0m20 0h0m-22 1h0m23 0h0m-24 1h0m23 0h0m-23 1h0m1 0h0m21 0h0m-24 1h0m1 0h0m1 0h0m-2 1h0m2 0h0m22 0h0m-24 1h0m25 0h0m1 0h0m-27 1h0m1 0h0m1 0h0m23 0h0m-27 1h0m1 0h0m2 0h0m23 0h0m1 0h0m1 0h0m1 0h0m-29 1h0m1 0h0m1 0h0m24 0h0m2 0h0m-29 1h0m1 0h0m2 0h0m24 0h0m1 0h0m-31 1h0m3 0h0m1 0h0m1 0h0m23 0h0m1 0h0m-29 1h0m2 0h0m2 0h0m1 0h0m23 0h0m1 0h0m-31 1h0m1 0h0m1 0h0m1 0h0m2 0h0m2 0h0m2 0h0m19 0h0m1 0h0m-25 1h0m2 0h0m2 0h0m22 0h0m-27 1h0m2 0h0m3 0h0m20 0h0m1 0h0m-26 1h0m1 0h0m4 0h0m19 0h0m-22 1h0m1 0h0m1 0h0m1 0h0m15 0h0m1 0h0m2 0h0m1 0h0m-23 1h0m2 0h0m1 0h0m1 0h0m1 0h0m13 0h0m1 0h0m1 0h0m2 0h0m-20 1h0m2 0h0m1 0h0m12 0h0m1 0h0m-15 1h0m3 0h0m1 0h0m2 0h0m5 0h0m1 0h0m1 0h0m2 0h0m-13 1h0m2 0h0m2 0h0m4 0h0m2 0h0m-6 1h0m3 0h0m1 0h0m1 0h0m-3 1h0m1 0h0m-9 2h0m1 0h0" stroke="#20b0e0" stroke-width="1.1" stroke-linecap="round" fill="none"/>
<path transform="translate(1015.6 937.5) scale(1)" d="M112 52h0m1 0h0m1 0h0m1 0h0m-7 1h0m1 0h0m1 0h0m2 0h0m1 0h0m1 0h0m1 0h0m-9 1h0m1 0h0m1 0h0m1 0h0m5 0h0m1 0h0m-13 1h0m2 0h0m9 0h0m1 0h0m1 0h0m1 0h0m-14 1h0m2 0h0m9 0h0m1 0h0m1 0h0m-14 1h0m1 0h0m11 0h0m-13 1h0m1 0h0m11 0h0m1 0h0m-13 1h0m1 0h0m11 0h0m1 0h0m-14 1h0m1 0h0m1 0h0m10 0h0m1 0h0m-12 1h0m1 0h0m1 0h0m7 0h0m2 0h0m-11 1h0m2 0h0m1 0h0m4 0h0m3 0h0m-8 1h0m1 0h0m3 0h0m1 0h0m1 0h0m-7 1h0m1 0h0m1 0h0m2 0h0m1 0h0m-5 1h0m1 0h0m1 0h0m1 0h0m1 0h0m1 0h0m1 0h0m-8 1h0m1 0h0m3 0h0m1 0h0m1 0h0m-6 1h0m1 0h0m1 0h0m1 0h0m1 0h0m1 0h0m-6 1h0m3 0h0m1 0h0m2 0h0m-4 1h0m1 0h0m1 0h0m1 0h0m-7 1h0m1 0h0m1 0h0m1 0h0m2 0h0m1 0h0m-6 1h0m1 0h0m1 0h0m1 0h0m3 0h0m-7 1h0m1 0h0m1 0h0m1 0h0m-2 1h0m1 0h0m-4 1h0m1 0h0m3 0h0m-5 1h0m2 0h0m1 0h0m1 0h0m-4 1h0m1 0h0m1 0h0m1 0h0m1 0h0m-5 1h0m1 0h0m1 0h0m-1 1h0m1 0h0m-38 23h0m1 0h0m3 0h0m-5 1h0m1 0h0m1 0h0m1 0h0m1 0h0m1 0h0m1 0h0m3 0h0m1 0h0m1 0h0m-13 1h0m2 0h0m1 0h0m1 0h0m1 0h0m1 0h0m1 0h0m2 0h0m2 0h0m1 0h0m1 0h0m-12 1h0m7 0h0m5 0h0m1 0h0m-18 1h0m1 0h0m3 0h0m2 0h0m11 0h0m2 0h0m-21 1h0m1 0h0m1 0h0m1 0h0m1 0h0m1 0h0m15 0h0m1 0h0m-21 1h0m1 0h0m2 0h0m16 0h0m1 0h0m-19 1h0m18 0h0m1 0h0m-1 1h0m1 0h0m-22 1h0m1 0h0m1 0h0m1 0h0m-3 1h0m1 0h0m1 0h0m19 0h0m1 0h0m1 0h0m-22 1h0m1 0h0m1 0h0m17 0h0m1 0h0m1 0h0m-23 1h0m2 0h0m1 0h0m1 0h0m17 0h0m-21 1h0m1 0h0m1 0h0m1 0h0m-3 1h0m1 0h0m1 0h0m1 0h0m15 0h0m2 0h0m-20 1h0m2 0h0m1 0h0m1 0h0m16 0h0m-21 1h0m1 0h0m1 0h0m1 0h0m1 0h0m14 0h0m1 0h0m1 0h0m-4 1h0m1 0h0m1 0h0m1 0h0m-17 1h0m1 0h0m11 0h0m2 0h0m1 0h0m1 0h0m-15 1h0m9 0h0m5 0h0m-16 1h0m1 0h0m1 0h0m1 0h0m8 0h0m1 0h0m-12 1h0m1 0h0m1 0h0m5 0h0m2 0h0m2 0h0m2 0h0m-11 1h0m1 0h0m1 0h0m1 0h0m1 0h0m1 0h0m1 0h0m1 0h0m1 0h0m1 0h0m-9 1h0m2 0h0m1 0h0m1 0h0m1 0h0m2 0h0m2 0h0m-6 1h0m2 0h0" stroke="#30c890" stroke-width="1.1" stroke-linecap="round" fill="none"/>
<path transform="translate(1015.6 937.5) scale(1)" d="M110 53h0m1 0h0m-4 1h0m1 0h0m1 0h0m1 0h0m1 0h0m1 0h0m-7 1h0m2 0h0m1 0h0m2 0h0m3 0h0m-8 1h0m1 0h0m1 0h0m2 0h0m1 0h0m1 0h0m-9 1h0m1 0h0m1 0h0m1 0h0m1 0h0m1 0h0m1 0h0m1 0h0m1 0h0m1 0h0m1 0h0m1 0h0m-11 1h0m1 0h0m1 0h0m2 0h0m2 0h0m1 0h0m1 0h0m1 0h0m-9 1h0m1 0h0m1 0h0m1 0h0m1 0h0m3 0h0m2 0h0m-8 1h0m1 0h0m1 0h0m1 0h0m1 0h0m1 0h0m1 0h0m1 0h0m-6 1h0m1 0h0m1 0h0m1 0h0m1 0h0m1 0h0m-6 1h0m1 0h0m1 0h0m1 0h0m1 0h0m1 0h0m1 0h0m-6 1h0m1 0h0m3 0h0m-49 40h0m1 0h0m-5 1h0m1 0h0m2 0h0m1 0h0m2 0h0m3 0h0m-12 1h0m1 0h0m2 0h0m2 0h0m1 0h0m1 0h0m2 0h0m1 0h0m1 0h0m1 0h0m1 0h0m1 0h0m-16 1h0m2 0h0m1 0h0m1 0h0m7 0h0m1 0h0m1 0h0m1 0h0m1 0h0m1 0h0m-15 1h0m1 0h0m1 0h0m10 0h0m1 0h0m1 0h0m1 0h0m-16 1h0m1 0h0m12 0h0m1 0h0m1 0h0m-17 1h0m1 0h0m1 0h0m1 0h0m13 0h0m1 0h0m-17 1h0m1 0h0m1 0h0m14 0h0m1 0h0m-17 1h0m1 0h0m1 0h0m13 0h0m1 0h0m1 0h0m-16 1h0m14 0h0m-14 1h0m1 0h0m12 0h0m2 0h0m1 0h0m-3 1h0m1 0h0m1 0h0m-15 1h0m13 0h0m1 0h0m-14 1h0m-3 1h0m2 0h0m12 0h0m-14 1h0m1 0h0m1 0h0m1 0h0m1 0h0m1 0h0m3 0h0m3 0h0m1 0h0m1 0h0m1 0h0m-14 1h0m1 0h0m1 0h0m1 0h0m1 0h0m4 0h0m1 0h0m1 0h0m1 0h0m-11 1h0m1 0h0m1 0h0m1 0h0m1 0h0m1 0h0m1 0h0m2 0h0m-7 1h0m1 0h0m1 0h0m1 0h0m2 0h0m1 0h0m1 0h0m-6 1h0m1 0h0m1 0h0m1 0h0m1 0h0m-4 1h0m1 0h0" stroke="#70d040" stroke-width="1.1" stroke-linecap="round" fill="none"/>
<path transform="translate(1015.6 937.5) scale(1)" d="M109 57h0m-4 1h0m1 0h0m-1 1h0m1 0h0m-51 46h0m1 0h0m2 0h0m-5 1h0m2 0h0m1 0h0m1 0h0m1 0h0m1 0h0m1 0h0m1 0h0m-10 1h0m1 0h0m1 0h0m1 0h0m2 0h0m1 0h0m1 0h0m1 0h0m1 0h0m-10 1h0m2 0h0m1 0h0m1 0h0m6 0h0m1 0h0m1 0h0m-12 1h0m1 0h0m1 0h0m7 0h0m1 0h0m1 0h0m1 0h0m-13 1h0m1 0h0m11 0h0m1 0h0m-13 1h0m2 0h0m8 0h0m1 0h0m1 0h0m1 0h0m-13 1h0m2 0h0m8 0h0m1 0h0m1 0h0m-12 1h0m1 0h0m10 0h0m-11 1h0m1 0h0m1 0h0m8 0h0m1 0h0m-11 1h0m1 0h0m1 0h0m7 0h0m1 0h0m1 0h0m-11 1h0m1 0h0m1 0h0m1 0h0m3 0h0m1 0h0m1 0h0m1 0h0m1 0h0m-9 1h0m2 0h0m1 0h0m2 0h0m2 0h0m1 0h0m-9 1h0m1 0h0m1 0h0m1 0h0m1 0h0m3 0h0m-6 1h0m1 0h0" stroke="#d8e020" stroke-width="1.1" stroke-linecap="round" fill="none"/>
<path transform="translate(1015.6 937.5) scale(1)" d="M55 107h0m3 0h0m-6 1h0m1 0h0m1 0h0m1 0h0m1 0h0m1 0h0m1 0h0m-7 1h0m1 0h0m1 0h0m1 0h0m1 0h0m1 0h0m1 0h0m1 0h0m1 0h0m-8 1h0m2 0h0m1 0h0m1 0h0m2 0h0m2 0h0m1 0h0m-9 1h0m1 0h0m4 0h0m1 0h0m1 0h0m1 0h0m-9 1h0m2 0h0m4 0h0m1 0h0m1 0h0m-8 1h0m1 0h0m1 0h0m5 0h0m1 0h0m1 0h0m-8 1h0m1 0h0m4 0h0m1 0h0m1 0h0m-7 1h0m1 0h0m1 0h0m2 0h0m1 0h0m1 0h0m1 0h0m-7 1h0m1 0h0m1 0h0m2 0h0m1 0h0m1 0h0m-4 1h0m1 0h0m1 0h0" stroke="#f8a010" stroke-width="1.1" stroke-linecap="round" fill="none"/>
<path transform="translate(1015.6 937.5) scale(1)" d="M52 110h0m1 0h0m-1 1h0m1 0h0m1 0h0m1 0h0m-3 1h0m1 0h0m1 0h0m-1 1h0m1 0h0m1 0h0m1 0h0m1 0h0m-5 1h0m1 0h0m1 0h0m1 0h0m1 0h0m1 0h0m-5 1h0m1 0h0m1 0h0m1 0h0" stroke="#f02010" stroke-width="1.1" stroke-linecap="round" fill="none"/>
<line x1="1092.1" y1="937.5" x2="1092.1" y2="1082.8" stroke="#9a9a9a" stroke-width="1.2"/>
<line x1="1015.6" y1="1028.3" x2="1159.8" y2="1028.3" stroke="#333" stroke-width="1.2"/>
<rect x="1015.6" y="937.5" width="144.2" height="145.3" fill="none" stroke="#333" stroke-width="1.1"/>
<text x="1019.6" y="958.7" font-size="15.5" fill="#231f20">4.74</text>
<text x="1155.8" y="958.7" font-size="15.5" text-anchor="end" fill="#231f20">35.4</text>
<text x="1018.6" y="1070.2" font-size="15.5" fill="#231f20">57.5</text>
<text x="1155.8" y="1070.2" font-size="15.5" text-anchor="end" fill="#231f20">2.38</text>
<path d="M1011.6 951.4h4M1011.6 979.5h4M1011.6 1009.2h4M1011.6 1037.2h4M1011.6 1066.3h4M1013.6 971h2M1013.6 966.1h2M1013.6 962.6h2M1013.6 959.9h2M1013.6 957.6h2M1013.6 955.8h2M1013.6 954.1h2M1013.6 952.7h2M1013.6 1000.3h2M1013.6 995h2M1013.6 991.3h2M1013.6 988.4h2M1013.6 986.1h2M1013.6 984.1h2M1013.6 982.4h2M1013.6 980.9h2M1013.6 1028.8h2M1013.6 1023.8h2M1013.6 1020.3h2M1013.6 1017.6h2M1013.6 1015.4h2M1013.6 1013.5h2M1013.6 1011.9h2M1013.6 1010.5h2M1013.6 1057.5h2M1013.6 1052.4h2M1013.6 1048.8h2M1013.6 1046h2M1013.6 1043.7h2M1013.6 1041.7h2M1013.6 1040h2M1013.6 1038.5h2M1013.6 1081.5h2M1013.6 1077.9h2M1013.6 1075.1h2M1013.6 1072.8h2M1013.6 1070.8h2M1013.6 1069.1h2M1013.6 1067.6h2" fill="none" stroke="#444" stroke-width="0.9"/>
<text x="1012.6" y="955.4" font-size="11" text-anchor="end" fill="#333">10<tspan font-size="6.8" dy="-4.6">5</tspan></text>
<text x="1012.6" y="983.5" font-size="11" text-anchor="end" fill="#333">10<tspan font-size="6.8" dy="-4.6">4</tspan></text>
<text x="1012.6" y="1013.2" font-size="11" text-anchor="end" fill="#333">10<tspan font-size="6.8" dy="-4.6">3</tspan></text>
<text x="1012.6" y="1041.2" font-size="11" text-anchor="end" fill="#333">10<tspan font-size="6.8" dy="-4.6">2</tspan></text>
<text x="1012.6" y="1070.3" font-size="11" text-anchor="end" fill="#333">10<tspan font-size="6.8" dy="-4.6">1</tspan></text>
<path d="M1026.9 1082.8v4M1055.8 1082.8v4M1084.7 1082.8v4M1112.7 1082.8v4M1140.8 1082.8v4M1035.6 1082.8v2M1040.7 1082.8v2M1044.3 1082.8v2M1047.1 1082.8v2M1049.4 1082.8v2M1051.3 1082.8v2M1053 1082.8v2M1054.5 1082.8v2M1064.5 1082.8v2M1069.6 1082.8v2M1073.2 1082.8v2M1076 1082.8v2M1078.3 1082.8v2M1080.2 1082.8v2M1081.9 1082.8v2M1083.4 1082.8v2M1093.1 1082.8v2M1098.1 1082.8v2M1101.6 1082.8v2M1104.3 1082.8v2M1106.5 1082.8v2M1108.4 1082.8v2M1110 1082.8v2M1111.4 1082.8v2M1121.2 1082.8v2M1126.1 1082.8v2M1129.6 1082.8v2M1132.3 1082.8v2M1134.6 1082.8v2M1136.4 1082.8v2M1138.1 1082.8v2M1139.5 1082.8v2M1149.3 1082.8v2M1154.2 1082.8v2M1157.7 1082.8v2" fill="none" stroke="#444" stroke-width="0.9"/>
<path transform="translate(676.3 1106.6) scale(1)" d="M85 65h0m3 0h0m7 0h0m-23 1h0m16 0h0m-23 1h0m11 0h0m6 0h0m6 0h0m-7 1h0m6 0h0m1 0h0m8 0h0m-29 1h0m4 0h0m1 0h0m4 0h0m7 0h0m5 0h0m1 0h0m4 0h0m1 0h0m1 0h0m8 0h0m-51 1h0m3 0h0m5 0h0m1 0h0m4 0h0m13 0h0m1 0h0m6 0h0m2 0h0m3 0h0m3 0h0m2 0h0m2 0h0m1 0h0m1 0h0m-38 1h0m3 0h0m1 0h0m4 0h0m7 0h0m3 0h0m1 0h0m3 0h0m7 0h0m16 0h0m-62 1h0m5 0h0m15 0h0m4 0h0m1 0h0m2 0h0m3 0h0m4 0h0m1 0h0m3 0h0m5 0h0m2 0h0m2 0h0m1 0h0m1 0h0m4 0h0m2 0h0m8 0h0m-60 1h0m4 0h0m4 0h0m4 0h0m5 0h0m3 0h0m3 0h0m3 0h0m8 0h0m3 0h0m1 0h0m4 0h0m5 0h0m5 0h0m-55 1h0m1 0h0m2 0h0m2 0h0m2 0h0m1 0h0m7 0h0m4 0h0m9 0h0m9 0h0m1 0h0m1 0h0m1 0h0m3 0h0m1 0h0m2 0h0m2 0h0m1 0h0m3 0h0m2 0h0m-54 1h0m1 0h0m3 0h0m4 0h0m5 0h0m1 0h0m4 0h0m4 0h0m2 0h0m8 0h0m2 0h0m11 0h0m4 0h0m1 0h0m2 0h0m1 0h0m1 0h0m-53 1h0m11 0h0m2 0h0m7 0h0m1 0h0m1 0h0m2 0h0m2 0h0m5 0h0m1 0h0m1 0h0m1 0h0m2 0h0m1 0h0m4 0h0m1 0h0m3 0h0m6 0h0m1 0h0m2 0h0m-59 1h0m2 0h0m6 0h0m1 0h0m7 0h0m2 0h0m1 0h0m10 0h0m1 0h0m3 0h0m3 0h0m1 0h0m1 0h0m1 0h0m3 0h0m1 0h0m2 0h0m1 0h0m5 0h0m2 0h0m4 0h0m4 0h0m3 0h0m8 0h0m-71 1h0m5 0h0m3 0h0m7 0h0m1 0h0m4 0h0m2 0h0m1 0h0m2 0h0m7 0h0m4 0h0m3 0h0m1 0h0m4 0h0m1 0h0m1 0h0m2 0h0m1 0h0m1 0h0m3 0h0m1 0h0m2 0h0m1 0h0m2 0h0m3 0h0m3 0h0m-59 1h0m2 0h0m3 0h0m1 0h0m3 0h0m8 0h0m2 0h0m1 0h0m1 0h0m8 0h0m2 0h0m3 0h0m5 0h0m2 0h0m1 0h0m4 0h0m1 0h0m10 0h0m-72 1h0m10 0h0m3 0h0m11 0h0m2 0h0m1 0h0m4 0h0m4 0h0m3 0h0m2 0h0m1 0h0m1 0h0m1 0h0m1 0h0m1 0h0m1 0h0m4 0h0m4 0h0m1 0h0m2 0h0m2 0h0m2 0h0m4 0h0m1 0h0m-55 1h0m6 0h0m1 0h0m3 0h0m3 0h0m1 0h0m5 0h0m6 0h0m1 0h0m4 0h0m2 0h0m1 0h0m2 0h0m2 0h0m2 0h0m1 0h0m1 0h0m2 0h0m4 0h0m2 0h0m5 0h0m3 0h0m-75 1h0m18 0h0m7 0h0m3 0h0m5 0h0m4 0h0m1 0h0m5 0h0m2 0h0m1 0h0m3 0h0m4 0h0m1 0h0m2 0h0m1 0h0m1 0h0m1 0h0m3 0h0m1 0h0m1 0h0m3 0h0m2 0h0m1 0h0m5 0h0m1 0h0m-50 1h0m3 0h0m2 0h0m1 0h0m3 0h0m1 0h0m1 0h0m8 0h0m2 0h0m1 0h0m1 0h0m1 0h0m11 0h0m5 0h0m1 0h0m1 0h0m1 0h0m3 0h0m1 0h0m4 0h0m-66 1h0m7 0h0m8 0h0m2 0h0m6 0h0m6 0h0m8 0h0m1 0h0m1 0h0m1 0h0m2 0h0m1 0h0m5 0h0m9 0h0m1 0h0m-57 1h0m6 0h0m1 0h0m4 0h0m2 0h0m7 0h0m8 0h0m4 0h0m1 0h0m2 0h0m3 0h0m1 0h0m2 0h0m3 0h0m3 0h0m1 0h0m2 0h0m3 0h0m1 0h0m1 0h0m6 0h0m2 0h0m17 0h0m-74 1h0m2 0h0m1 0h0m5 0h0m3 0h0m2 0h0m1 0h0m2 0h0m4 0h0m5 0h0m1 0h0m8 0h0m2 0h0m6 0h0m1 0h0m2 0h0m2 0h0m1 0h0m2 0h0m5 0h0m-65 1h0m4 0h0m6 0h0m2 0h0m2 0h0m7 0h0m1 0h0m4 0h0m1 0h0m2 0h0m8 0h0m2 0h0m5 0h0m8 0h0m2 0h0m3 0h0m1 0h0m2 0h0m3 0h0m3 0h0m2 0h0m-64 1h0m1 0h0m3 0h0m1 0h0m1 0h0m7 0h0m7 0h0m10 0h0m13 0h0m6 0h0m3 0h0m1 0h0m1 0h0m2 0h0m1 0h0m1 0h0m1 0h0m7 0h0m-59 1h0m8 0h0m1 0h0m3 0h0m5 0h0m3 0h0m7 0h0m1 0h0m5 0h0m2 0h0m1 0h0m3 0h0m1 0h0m3 0h0m6 0h0m6 0h0m-51 1h0m2 0h0m1 0h0m1 0h0m5 0h0m1 0h0m1 0h0m9 0h0m5 0h0m1 0h0m6 0h0m1 0h0m8 0h0m1 0h0m1 0h0m3 0h0m-62 1h0m1 0h0m5 0h0m5 0h0m2 0h0m4 0h0m10 0h0m2 0h0m1 0h0m1 0h0m1 0h0m1 0h0m4 0h0m9 0h0m11 0h0m1 0h0m3 0h0m10 0h0m-66 1h0m2 0h0m2 0h0m14 0h0m2 0h0m1 0h0m3 0h0m1 0h0m6 0h0m3 0h0m1 0h0m4 0h0m11 0h0m3 0h0m1 0h0m4 0h0m1 0h0m4 0h0m2 0h0m-44 1h0m2 0h0m5 0h0m2 0h0m2 0h0m5 0h0m1 0h0m2 0h0m4 0h0m2 0h0m3 0h0m3 0h0m1 0h0m3 0h0m1 0h0m-62 1h0m3 0h0m1 0h0m1 0h0m2 0h0m6 0h0m7 0h0m6 0h0m11 0h0m3 0h0m4 0h0m1 0h0m9 0h0m5 0h0m5 0h0m2 0h0m-64 1h0m4 0h0m2 0h0m2 0h0m1 0h0m8 0h0m1 0h0m7 0h0m1 0h0m5 0h0m1 0h0m3 0h0m1 0h0m2 0h0m2 0h0m4 0h0m4 0h0m1 0h0m2 0h0m12 0h0m-65 1h0m7 0h0m6 0h0m8 0h0m2 0h0m4 0h0m2 0h0m1 0h0m1 0h0m22 0h0m10 0h0m2 0h0m-65 1h0m3 0h0m5 0h0m3 0h0m4 0h0m9 0h0m1 0h0m3 0h0m3 0h0m6 0h0m18 0h0m-50 1h0m10 0h0m1 0h0m2 0h0m4 0h0m2 0h0m1 0h0m3 0h0m8 0h0m-35 1h0m1 0h0m5 0h0m1 0h0m5 0h0m3 0h0m1 0h0m3 0h0m1 0h0m1 0h0m5 0h0m5 0h0m6 0h0m29 0h0m-69 1h0m3 0h0m1 0h0m2 0h0m2 0h0m17 0h0m12 0h0m-38 1h0m1 0h0m4 0h0m15 0h0m-18 1h0m6 0h0m1 0h0m1 0h0m3 0h0m4 0h0m-14 1h0m1 0h0m3 0h0m1 0h0m15 0h0m5 0h0m10 0h0m6 0h0m-42 1h0m5 0h0m6 0h0m11 0h0m1 0h0m1 0h0m4 0h0m4 0h0m3 0h0m4 0h0m5 0h0m3 0h0m-48 1h0m9 0h0m7 0h0m1 0h0m5 0h0m2 0h0m5 0h0m5 0h0m5 0h0m2 0h0m11 0h0m-53 1h0m12 0h0m6 0h0m6 0h0m1 0h0m13 0h0m3 0h0m2 0h0m2 0h0m4 0h0m1 0h0m-51 1h0m15 0h0m3 0h0m3 0h0m3 0h0m4 0h0m1 0h0m1 0h0m7 0h0m3 0h0m1 0h0m5 0h0m1 0h0m1 0h0m8 0h0m1 0h0m1 0h0m6 0h0m3 0h0m-70 1h0m3 0h0m14 0h0m3 0h0m1 0h0m4 0h0m1 0h0m1 0h0m1 0h0m3 0h0m1 0h0m2 0h0m2 0h0m5 0h0m4 0h0m2 0h0m1 0h0m2 0h0m2 0h0m2 0h0m1 0h0m2 0h0m3 0h0m2 0h0m1 0h0m-45 1h0m4 0h0m5 0h0m5 0h0m3 0h0m1 0h0m5 0h0m4 0h0m3 0h0m1 0h0m5 0h0m2 0h0m3 0h0m6 0h0m1 0h0m1 0h0m1 0h0m6 0h0m-72 1h0m15 0h0m1 0h0m2 0h0m6 0h0m1 0h0m1 0h0m1 0h0m7 0h0m1 0h0m3 0h0m1 0h0m1 0h0m2 0h0m1 0h0m1 0h0m3 0h0m3 0h0m1 0h0m2 0h0m1 0h0m2 0h0m2 0h0m1 0h0m4 0h0m3 0h0m3 0h0m1 0h0m1 0h0m2 0h0m-79 1h0m28 0h0m7 0h0m1 0h0m2 0h0m3 0h0m1 0h0m7 0h0m2 0h0m2 0h0m4 0h0m1 0h0m1 0h0m1 0h0m1 0h0m3 0h0m11 0h0m-75 1h0m3 0h0m18 0h0m3 0h0m4 0h0m1 0h0m2 0h0m2 0h0m1 0h0m1 0h0m5 0h0m4 0h0m2 0h0m5 0h0m4 0h0m1 0h0m1 0h0m1 0h0m3 0h0m1 0h0m5 0h0m3 0h0m1 0h0m2 0h0m2 0h0m1 0h0m-71 1h0m3 0h0m16 0h0m6 0h0m4 0h0m2 0h0m9 0h0m1 0h0m1 0h0m5 0h0m1 0h0m1 0h0m1 0h0m1 0h0m1 0h0m5 0h0m2 0h0m1 0h0m1 0h0m1 0h0m7 0h0m1 0h0m-70 1h0m14 0h0m1 0h0m3 0h0m5 0h0m16 0h0m8 0h0m4 0h0m1 0h0m1 0h0m1 0h0m1 0h0m2 0h0m2 0h0m2 0h0m3 0h0m2 0h0m1 0h0m2 0h0m-67 1h0m12 0h0m5 0h0m12 0h0m7 0h0m4 0h0m2 0h0m1 0h0m2 0h0m1 0h0m7 0h0m4 0h0m1 0h0m5 0h0m1 0h0m1 0h0m-61 1h0m3 0h0m35 0h0m2 0h0m1 0h0m4 0h0m2 0h0m2 0h0m1 0h0m4 0h0m1 0h0m2 0h0m1 0h0m1 0h0m3 0h0m4 0h0m-28 1h0m11 0h0m1 0h0m1 0h0m12 0h0m6 0h0m-70 1h0m5 0h0m44 0h0m7 0h0m6 0h0m1 0h0m5 0h0m-66 1h0m6 0h0m36 0h0m7 0h0m5 0h0m1 0h0m7 0h0m-7 1h0m1 0h0" stroke="#3048b0" stroke-width="1.1" stroke-linecap="round" fill="none"/>
<path transform="translate(676.3 1106.6) scale(1)" d="M32 105h0m4 0h0m-6 1h0m1 0h0m6 0h0m1 0h0m1 0h0m1 0h0m-9 1h0m8 0h0m1 0h0m1 0h0m-12 1h0m12 0h0m-13 1h0m12 0h0m1 0h0m-13 1h0m1 0h0m13 0h0m-3 2h0m1 0h0m1 0h0m-11 1h0m8 0h0m-7 1h0m7 0h0m-7 1h0m1 0h0m5 0h0m-2 1h0" stroke="#2c64c4" stroke-width="1.1" stroke-linecap="round" fill="none"/>
<path transform="translate(676.3 1106.6) scale(1)" d="M33 105h0m3 0h0m-4 1h0m1 0h0m1 0h0m1 0h0m4 0h0m-8 1h0m1 0h0m5 0h0m1 0h0m1 0h0m-9 1h0m10 0h0m-10 1h0m9 1h0m1 0h0m-10 2h0m1 0h0m8 0h0m1 0h0m-9 1h0m7 0h0m-6 1h0m1 0h0m1 0h0m2 0h0m-1 1h0" stroke="#28a4cc" stroke-width="1.1" stroke-linecap="round" fill="none"/>
<path transform="translate(676.3 1106.6) scale(1)" d="M34 106h0m1 0h0m1 0h0m-4 1h0m1 0h0m2 0h0m2 0h0m-5 1h0m5 0h0m2 0h0m-1 1h0m1 0h0m-9 1h0m1 0h0m-1 1h0m8 0h0m1 0h0m-8 1h0m1 0h0m6 0h0m1 0h0m-7 1h0m5 0h0m-5 1h0m4 0h0m1 0h0" stroke="#30bc8c" stroke-width="1.1" stroke-linecap="round" fill="none"/>
<path transform="translate(676.3 1106.6) scale(1)" d="M33 107h0m1 0h0m-3 1h0m1 0h0m1 0h0m1 0h0m2 0h0m1 0h0m1 0h0m-7 1h0m1 0h0m5 0h0m1 0h0m-7 1h0m1 0h0m6 0h0m-7 1h0m1 0h0m5 0h0m1 0h0m1 0h0m-6 1h0m3 0h0m1 0h0m-5 1h0m1 0h0m1 0h0m1 0h0m1 0h0m-2 1h0m1 0h0" stroke="#70cc40" stroke-width="1.1" stroke-linecap="round" fill="none"/>
<path transform="translate(676.3 1106.6) scale(1)" d="M34 107h0m1 0h0m1 0h0m-4 1h0m1 0h0m1 0h0m1 0h0m1 0h0m-4 1h0m1 0h0m3 0h0m1 0h0m1 0h0m-1 1h0m1 0h0m-6 1h0m4 0h0m1 0h0m-4 1h0m1 0h0m1 0h0m1 0h0m1 0h0m-3 1h0m1 0h0m1 0h0" stroke="#d0dc20" stroke-width="1.1" stroke-linecap="round" fill="none"/>
<path transform="translate(676.3 1106.6) scale(1)" d="M33 108h0m1 0h0m1 0h0m-2 1h0m1 0h0m1 0h0m1 0h0m-4 1h0m4 0h0m1 0h0m-5 1h0m1 0h0m1 0h0m1 0h0m1 0h0m1 0h0m-4 1h0m1 0h0m1 0h0m1 0h0" stroke="#f8a010" stroke-width="1.1" stroke-linecap="round" fill="none"/>
<path transform="translate(676.3 1106.6) scale(1)" d="M33 109h0m1 0h0m1 0h0m1 0h0m-3 1h0m1 0h0m1 0h0m1 0h0m-2 1h0m1 0h0m1 0h0m-2 1h0m1 0h0" stroke="#f02010" stroke-width="1.1" stroke-linecap="round" fill="none"/>
<line x1="721.5" y1="1106.6" x2="721.5" y2="1250.8" stroke="#2a2a2a" stroke-width="1.4"/>
<line x1="676.3" y1="1207.9" x2="821.5" y2="1207.9" stroke="#2a2a2a" stroke-width="1.4"/>
<rect x="676.3" y="1106.6" width="145.2" height="144.2" fill="none" stroke="#333" stroke-width="1.1"/>
<text x="680.3" y="1129.7" font-size="15.5" fill="#231f20">2.07</text>
<text x="817.5" y="1129.7" font-size="15.5" text-anchor="end" fill="#231f20">16.6</text>
<text x="679.3" y="1238.6" font-size="15.5" fill="#231f20">71.9</text>
<text x="817.5" y="1238.6" font-size="15.5" text-anchor="end" fill="#231f20">9.44</text>
<path d="M672.3 1120.5h4M672.3 1153.8h4M672.3 1193.1h4M672.3 1219h4M672.3 1243.8h4M674.3 1143.8h2M674.3 1137.9h2M674.3 1133.8h2M674.3 1130.6h2M674.3 1127.9h2M674.3 1125.7h2M674.3 1123.8h2M674.3 1122h2M674.3 1181.3h2M674.3 1174.4h2M674.3 1169.5h2M674.3 1165.7h2M674.3 1162.6h2M674.3 1159.9h2M674.3 1157.6h2M674.3 1155.6h2M674.3 1197.4h2M674.3 1223.1h2M674.3 1201.7h2M674.3 1227.3h2M674.3 1206h2M674.3 1231.4h2M674.3 1210.4h2M674.3 1235.6h2M674.3 1214.7h2M674.3 1239.7h2" fill="none" stroke="#444" stroke-width="0.9"/>
<rect x="672.3" y="1216" width="3" height="6" fill="#222"/>
<text x="673.3" y="1124.5" font-size="11" text-anchor="end" fill="#333">10<tspan font-size="6.8" dy="-4.6">5</tspan></text>
<text x="673.3" y="1157.8" font-size="11" text-anchor="end" fill="#333">10<tspan font-size="6.8" dy="-4.6">4</tspan></text>
<text x="673.3" y="1197.1" font-size="11" text-anchor="end" fill="#333">10<tspan font-size="6.8" dy="-4.6">3</tspan></text>
<text x="671.3" y="1223" font-size="11" text-anchor="end" fill="#333">0</text>
<text x="673.3" y="1247.8" font-size="11" text-anchor="end" fill="#333">-10<tspan font-size="6.8" dy="-4.6">3</tspan></text>
<path d="M684.3 1250.8v4M709.1 1250.8v4M737.5 1250.8v4M775.3 1250.8v4M808.6 1250.8v4M748.8 1250.8v2M755.5 1250.8v2M760.2 1250.8v2M763.9 1250.8v2M766.9 1250.8v2M769.4 1250.8v2M771.6 1250.8v2M773.5 1250.8v2M785.3 1250.8v2M791.2 1250.8v2M795.3 1250.8v2M798.5 1250.8v2M801.2 1250.8v2M803.4 1250.8v2M805.3 1250.8v2M807 1250.8v2M688.4 1250.8v2M713.8 1250.8v2M692.5 1250.8v2M718.6 1250.8v2M696.7 1250.8v2M723.3 1250.8v2M700.8 1250.8v2M728 1250.8v2M705 1250.8v2M732.7 1250.8v2" fill="none" stroke="#444" stroke-width="0.9"/>
<rect x="703.1" y="1251.8" width="7" height="3" fill="#222"/>
<text x="687.3" y="1269.3" font-size="13.5" text-anchor="middle" fill="#222">-10<tspan font-size="8.4" dy="-5.7">3</tspan></text>
<text x="709.1" y="1269.3" font-size="13.5" text-anchor="middle" fill="#222">0</text>
<text x="740.5" y="1269.3" font-size="13.5" text-anchor="middle" fill="#222">10<tspan font-size="8.4" dy="-5.7">3</tspan></text>
<text x="778.3" y="1269.3" font-size="13.5" text-anchor="middle" fill="#222">10<tspan font-size="8.4" dy="-5.7">4</tspan></text>
<text x="811.6" y="1269.3" font-size="13.5" text-anchor="middle" fill="#222">10<tspan font-size="8.4" dy="-5.7">5</tspan></text>
<path transform="translate(845.3 1106.6) scale(1)" d="M53 66h0m30 0h0m9 0h0m-29 1h0m2 0h0m9 0h0m4 0h0m6 0h0m6 0h0m-34 1h0m7 0h0m2 0h0m8 0h0m18 0h0m3 0h0m3 0h0m-30 1h0m4 0h0m2 0h0m11 0h0m3 0h0m2 0h0m2 0h0m3 0h0m-53 1h0m13 0h0m21 0h0m6 0h0m1 0h0m5 0h0m5 0h0m1 0h0m-52 1h0m3 0h0m3 0h0m5 0h0m8 0h0m5 0h0m2 0h0m17 0h0m1 0h0m1 0h0m1 0h0m3 0h0m2 0h0m7 0h0m-54 1h0m2 0h0m7 0h0m3 0h0m15 0h0m3 0h0m2 0h0m4 0h0m1 0h0m1 0h0m4 0h0m9 0h0m-55 1h0m1 0h0m6 0h0m4 0h0m2 0h0m1 0h0m2 0h0m5 0h0m3 0h0m5 0h0m7 0h0m1 0h0m1 0h0m2 0h0m1 0h0m1 0h0m2 0h0m1 0h0m3 0h0m1 0h0m4 0h0m2 0h0m-54 1h0m2 0h0m2 0h0m3 0h0m1 0h0m4 0h0m11 0h0m1 0h0m1 0h0m3 0h0m1 0h0m4 0h0m4 0h0m3 0h0m1 0h0m1 0h0m3 0h0m1 0h0m2 0h0m1 0h0m3 0h0m2 0h0m-58 1h0m2 0h0m2 0h0m9 0h0m1 0h0m2 0h0m7 0h0m2 0h0m2 0h0m1 0h0m2 0h0m3 0h0m1 0h0m1 0h0m5 0h0m2 0h0m1 0h0m2 0h0m1 0h0m1 0h0m3 0h0m1 0h0m6 0h0m1 0h0m1 0h0m-58 1h0m1 0h0m3 0h0m5 0h0m7 0h0m2 0h0m1 0h0m1 0h0m1 0h0m1 0h0m1 0h0m1 0h0m1 0h0m1 0h0m1 0h0m3 0h0m1 0h0m1 0h0m2 0h0m1 0h0m1 0h0m1 0h0m1 0h0m2 0h0m1 0h0m1 0h0m2 0h0m2 0h0m1 0h0m1 0h0m1 0h0m1 0h0m7 0h0m4 0h0m-69 1h0m4 0h0m6 0h0m3 0h0m1 0h0m3 0h0m3 0h0m1 0h0m6 0h0m2 0h0m1 0h0m3 0h0m1 0h0m1 0h0m1 0h0m1 0h0m2 0h0m2 0h0m3 0h0m8 0h0m1 0h0m4 0h0m6 0h0m-50 1h0m2 0h0m3 0h0m3 0h0m1 0h0m3 0h0m1 0h0m5 0h0m1 0h0m3 0h0m1 0h0m1 0h0m3 0h0m2 0h0m3 0h0m2 0h0m1 0h0m1 0h0m1 0h0m1 0h0m1 0h0m5 0h0m1 0h0m4 0h0m5 0h0m2 0h0m8 0h0m-71 1h0m8 0h0m3 0h0m5 0h0m2 0h0m2 0h0m5 0h0m11 0h0m1 0h0m1 0h0m2 0h0m3 0h0m3 0h0m1 0h0m1 0h0m2 0h0m2 0h0m6 0h0m1 0h0m1 0h0m11 0h0m1 0h0m-70 1h0m1 0h0m6 0h0m6 0h0m1 0h0m1 0h0m1 0h0m1 0h0m4 0h0m3 0h0m1 0h0m2 0h0m3 0h0m1 0h0m2 0h0m2 0h0m1 0h0m2 0h0m1 0h0m1 0h0m1 0h0m1 0h0m3 0h0m3 0h0m1 0h0m4 0h0m12 0h0m-59 1h0m1 0h0m10 0h0m2 0h0m5 0h0m1 0h0m4 0h0m1 0h0m1 0h0m1 0h0m1 0h0m1 0h0m1 0h0m1 0h0m1 0h0m2 0h0m3 0h0m1 0h0m1 0h0m1 0h0m1 0h0m3 0h0m1 0h0m2 0h0m1 0h0m1 0h0m2 0h0m1 0h0m1 0h0m-59 1h0m6 0h0m1 0h0m1 0h0m2 0h0m4 0h0m4 0h0m4 0h0m1 0h0m1 0h0m2 0h0m2 0h0m2 0h0m4 0h0m2 0h0m1 0h0m1 0h0m1 0h0m1 0h0m3 0h0m3 0h0m1 0h0m3 0h0m3 0h0m1 0h0m1 0h0m1 0h0m1 0h0m3 0h0m-71 1h0m6 0h0m15 0h0m3 0h0m2 0h0m4 0h0m2 0h0m2 0h0m1 0h0m1 0h0m4 0h0m3 0h0m5 0h0m3 0h0m2 0h0m2 0h0m1 0h0m1 0h0m5 0h0m1 0h0m3 0h0m1 0h0m2 0h0m1 0h0m2 0h0m-61 1h0m1 0h0m6 0h0m5 0h0m1 0h0m2 0h0m4 0h0m2 0h0m1 0h0m3 0h0m1 0h0m7 0h0m3 0h0m1 0h0m1 0h0m1 0h0m4 0h0m1 0h0m3 0h0m2 0h0m2 0h0m2 0h0m3 0h0m9 0h0m-64 1h0m4 0h0m2 0h0m1 0h0m1 0h0m13 0h0m3 0h0m1 0h0m3 0h0m7 0h0m3 0h0m1 0h0m1 0h0m2 0h0m1 0h0m1 0h0m1 0h0m4 0h0m2 0h0m3 0h0m-50 1h0m1 0h0m3 0h0m2 0h0m3 0h0m1 0h0m3 0h0m5 0h0m3 0h0m2 0h0m1 0h0m7 0h0m3 0h0m4 0h0m1 0h0m4 0h0m1 0h0m5 0h0m6 0h0m-67 1h0m1 0h0m10 0h0m1 0h0m4 0h0m3 0h0m14 0h0m2 0h0m4 0h0m7 0h0m3 0h0m1 0h0m1 0h0m1 0h0m1 0h0m3 0h0m4 0h0m1 0h0m4 0h0m-70 1h0m6 0h0m2 0h0m8 0h0m5 0h0m3 0h0m4 0h0m2 0h0m6 0h0m4 0h0m1 0h0m6 0h0m2 0h0m2 0h0m1 0h0m1 0h0m2 0h0m1 0h0m1 0h0m2 0h0m4 0h0m2 0h0m2 0h0m8 0h0m9 0h0m-83 1h0m3 0h0m3 0h0m2 0h0m3 0h0m9 0h0m10 0h0m1 0h0m2 0h0m4 0h0m1 0h0m2 0h0m1 0h0m3 0h0m1 0h0m1 0h0m3 0h0m7 0h0m2 0h0m4 0h0m2 0h0m1 0h0m6 0h0m1 0h0m-64 1h0m8 0h0m2 0h0m4 0h0m5 0h0m1 0h0m6 0h0m6 0h0m1 0h0m1 0h0m1 0h0m4 0h0m1 0h0m2 0h0m6 0h0m1 0h0m2 0h0m1 0h0m2 0h0m1 0h0m2 0h0m3 0h0m2 0h0m-65 1h0m11 0h0m19 0h0m7 0h0m7 0h0m1 0h0m1 0h0m4 0h0m4 0h0m2 0h0m1 0h0m1 0h0m-58 1h0m1 0h0m1 0h0m2 0h0m2 0h0m3 0h0m6 0h0m11 0h0m1 0h0m3 0h0m4 0h0m5 0h0m2 0h0m2 0h0m1 0h0m2 0h0m6 0h0m2 0h0m5 0h0m1 0h0m3 0h0m1 0h0m-60 1h0m7 0h0m2 0h0m2 0h0m1 0h0m5 0h0m2 0h0m2 0h0m4 0h0m2 0h0m1 0h0m1 0h0m3 0h0m4 0h0m1 0h0m4 0h0m1 0h0m3 0h0m1 0h0m4 0h0m2 0h0m5 0h0m3 0h0m5 0h0m-69 1h0m1 0h0m2 0h0m6 0h0m4 0h0m18 0h0m6 0h0m14 0h0m4 0h0m1 0h0m7 0h0m1 0h0m2 0h0m-67 1h0m7 0h0m6 0h0m5 0h0m5 0h0m4 0h0m1 0h0m2 0h0m4 0h0m1 0h0m2 0h0m3 0h0m13 0h0m10 0h0m1 0h0m-64 1h0m2 0h0m1 0h0m2 0h0m2 0h0m2 0h0m12 0h0m2 0h0m3 0h0m13 0h0m9 0h0m5 0h0m4 0h0m-53 1h0m3 0h0m1 0h0m1 0h0m1 0h0m3 0h0m5 0h0m4 0h0m12 0h0m1 0h0m15 0h0m3 0h0m8 0h0m4 0h0m-68 1h0m6 0h0m12 0h0m1 0h0m4 0h0m10 0h0m2 0h0m1 0h0m8 0h0m5 0h0m8 0h0m1 0h0m-57 1h0m1 0h0m4 0h0m1 0h0m4 0h0m17 0h0m8 0h0m27 0h0m-58 1h0m6 0h0m4 0h0m1 0h0m5 0h0m4 0h0m29 0h0m-52 1h0m2 0h0m6 0h0m2 0h0m3 0h0m16 0h0m-26 1h0m11 0h0m18 0h0m-32 1h0m1 0h0m6 0h0m1 0h0m2 0h0m6 0h0m3 0h0m5 0h0m6 0h0m11 0h0m1 0h0m5 0h0m13 0h0m-63 1h0m2 0h0m9 0h0m4 0h0m2 0h0m3 0h0m2 0h0m1 0h0m4 0h0m4 0h0m1 0h0m1 0h0m14 0h0m-35 1h0m7 0h0m1 0h0m1 0h0m1 0h0m6 0h0m1 0h0m3 0h0m2 0h0m3 0h0m5 0h0m5 0h0m1 0h0m-49 1h0m15 0h0m1 0h0m6 0h0m4 0h0m2 0h0m3 0h0m1 0h0m6 0h0m3 0h0m2 0h0m3 0h0m3 0h0m3 0h0m1 0h0m5 0h0m4 0h0m3 0h0m-50 1h0m1 0h0m3 0h0m1 0h0m1 0h0m3 0h0m1 0h0m1 0h0m3 0h0m2 0h0m4 0h0m2 0h0m1 0h0m5 0h0m3 0h0m1 0h0m1 0h0m4 0h0m1 0h0m1 0h0m2 0h0m2 0h0m10 0h0m2 0h0m-54 1h0m1 0h0m1 0h0m1 0h0m3 0h0m2 0h0m1 0h0m1 0h0m7 0h0m1 0h0m1 0h0m1 0h0m1 0h0m1 0h0m2 0h0m4 0h0m2 0h0m1 0h0m2 0h0m4 0h0m1 0h0m1 0h0m4 0h0m9 0h0m4 0h0m-57 1h0m8 0h0m4 0h0m6 0h0m4 0h0m1 0h0m3 0h0m1 0h0m1 0h0m2 0h0m2 0h0m2 0h0m2 0h0m2 0h0m1 0h0m7 0h0m2 0h0m4 0h0m-66 1h0m15 0h0m1 0h0m4 0h0m2 0h0m1 0h0m5 0h0m1 0h0m1 0h0m2 0h0m2 0h0m1 0h0m1 0h0m14 0h0m1 0h0m1 0h0m1 0h0m5 0h0m4 0h0m1 0h0m4 0h0m1 0h0m2 0h0m1 0h0m-76 1h0m19 0h0m2 0h0m6 0h0m2 0h0m2 0h0m3 0h0m1 0h0m5 0h0m1 0h0m2 0h0m3 0h0m5 0h0m2 0h0m1 0h0m5 0h0m3 0h0m3 0h0m2 0h0m1 0h0m2 0h0m2 0h0m2 0h0m-71 1h0m2 0h0m18 0h0m3 0h0m2 0h0m1 0h0m1 0h0m1 0h0m1 0h0m1 0h0m2 0h0m1 0h0m1 0h0m1 0h0m1 0h0m2 0h0m4 0h0m1 0h0m2 0h0m2 0h0m1 0h0m1 0h0m2 0h0m4 0h0m2 0h0m2 0h0m9 0h0m4 0h0m-74 1h0m4 0h0m12 0h0m12 0h0m4 0h0m5 0h0m1 0h0m2 0h0m2 0h0m1 0h0m3 0h0m2 0h0m1 0h0m1 0h0m1 0h0m1 0h0m1 0h0m2 0h0m1 0h0m5 0h0m3 0h0m4 0h0m5 0h0m1 0h0m2 0h0m-71 1h0m1 0h0m10 0h0m1 0h0m1 0h0m16 0h0m1 0h0m13 0h0m1 0h0m1 0h0m1 0h0m1 0h0m3 0h0m1 0h0m1 0h0m3 0h0m4 0h0m2 0h0m1 0h0m7 0h0m-70 1h0m1 0h0m29 0h0m5 0h0m4 0h0m16 0h0m2 0h0m2 0h0m2 0h0m2 0h0m2 0h0m2 0h0m1 0h0m1 0h0m1 0h0m-63 1h0m9 0h0m5 0h0m16 0h0m11 0h0m5 0h0m1 0h0m3 0h0m4 0h0m2 0h0m3 0h0m1 0h0m-62 1h0m2 0h0m1 0h0m27 0h0m1 0h0m18 0h0m1 0h0m12 0h0m1 0h0m-62 1h0m3 0h0m19 0h0m8 0h0m23 0h0m3 0h0m1 0h0m4 0h0m1 0h0m1 0h0m-13 2h0m8 0h0m4 0h0m-17 1h0m18 0h0m3 1h0" stroke="#3048b0" stroke-width="1.1" stroke-linecap="round" fill="none"/>
<path transform="translate(845.3 1106.6) scale(1)" d="M83 79h0m-1 1h0m0 1h0m1 0h0m-47 22h0m-4 1h0m1 0h0m2 0h0m1 0h0m1 0h0m-8 1h0m1 0h0m1 0h0m2 0h0m3 0h0m1 0h0m1 0h0m-11 1h0m1 0h0m9 0h0m1 0h0m1 0h0m-12 1h0m1 0h0m12 0h0m-12 1h0m11 0h0m-1 1h0m1 0h0m-12 1h0m0 1h0m0 1h0m1 0h0m11 0h0m1 0h0m-12 1h0m1 0h0m1 0h0m9 0h0m-11 1h0m2 0h0m1 0h0m5 0h0m-3 1h0m2 0h0m1 0h0m-4 1h0" stroke="#2c64c4" stroke-width="1.1" stroke-linecap="round" fill="none"/>
<path transform="translate(845.3 1106.6) scale(1)" d="M32 105h0m1 0h0m1 0h0m1 0h0m-2 1h0m2 0h0m2 0h0m-9 1h0m1 0h0m1 0h0m6 0h0m1 0h0m-8 1h0m0 1h0m0 1h0m9 0h0m-10 1h0m10 0h0m-9 1h0m1 0h0m1 1h0m4 0h0m1 0h0m1 0h0m-6 1h0m4 0h0m-2 1h0" stroke="#28a4cc" stroke-width="1.1" stroke-linecap="round" fill="none"/>
<path transform="translate(845.3 1106.6) scale(1)" d="M30 106h0m1 0h0m-2 1h0m2 0h0m1 0h0m3 0h0m1 0h0m1 0h0m-8 1h0m1 0h0m6 0h0m2 0h0m-9 1h0m1 0h0m8 0h0m-9 1h0m1 0h0m7 0h0m1 0h0m-9 1h0m1 0h0m7 0h0m-8 1h0m1 0h0m1 0h0m2 1h0m2 0h0m-2 1h0m2 0h0" stroke="#30bc8c" stroke-width="1.1" stroke-linecap="round" fill="none"/>
<path transform="translate(845.3 1106.6) scale(1)" d="M32 106h0m1 0h0m2 0h0m-4 1h0m2 0h0m2 0h0m1 0h0m-6 1h0m1 0h0m4 0h0m-4 1h0m5 0h0m1 0h0m-1 1h0m1 0h0m-7 1h0m6 0h0m1 0h0m-7 1h0m2 0h0m2 0h0m1 0h0m1 0h0m1 0h0m-6 1h0m1 0h0m2 0h0m1 0h0" stroke="#70cc40" stroke-width="1.1" stroke-linecap="round" fill="none"/>
<path transform="translate(845.3 1106.6) scale(1)" d="M31 107h0m1 0h0m1 0h0m1 0h0m1 0h0m-4 1h0m1 0h0m1 0h0m1 0h0m2 0h0m-6 1h0m1 0h0m1 0h0m3 0h0m1 0h0m-6 1h0m1 0h0m-1 1h0m1 0h0m1 0h0m3 0h0m1 0h0m-3 1h0m1 0h0m1 0h0m1 0h0m-2 1h0" stroke="#d0dc20" stroke-width="1.1" stroke-linecap="round" fill="none"/>
<path transform="translate(845.3 1106.6) scale(1)" d="M32 108h0m1 0h0m1 0h0m-3 1h0m1 0h0m1 0h0m1 0h0m1 0h0m1 0h0m-5 1h0m1 0h0m3 0h0m1 0h0m-5 1h0m1 0h0m1 0h0m1 0h0m1 0h0m1 0h0m-4 1h0m1 0h0m1 0h0" stroke="#f8a010" stroke-width="1.1" stroke-linecap="round" fill="none"/>
<path transform="translate(845.3 1106.6) scale(1)" d="M33 108h0m1 0h0m-2 1h0m1 0h0m1 0h0m1 0h0m-3 1h0m1 0h0m1 0h0m1 0h0m-3 1h0m1 0h0m1 0h0m1 0h0" stroke="#f02010" stroke-width="1.1" stroke-linecap="round" fill="none"/>
<line x1="889.8" y1="1106.6" x2="889.8" y2="1250.8" stroke="#2a2a2a" stroke-width="1.4"/>
<line x1="845.3" y1="1207.9" x2="989.8" y2="1207.9" stroke="#2a2a2a" stroke-width="1.4"/>
<rect x="845.3" y="1106.6" width="144.5" height="144.2" fill="none" stroke="#333" stroke-width="1.1"/>
<text x="849.3" y="1128" font-size="15.5" fill="#231f20">2.37</text>
<text x="985.8" y="1128" font-size="15.5" text-anchor="end" fill="#231f20">16.7</text>
<text x="848.3" y="1238.6" font-size="15.5" fill="#231f20">73.4</text>
<text x="985.8" y="1238.6" font-size="15.5" text-anchor="end" fill="#231f20">7.50</text>
<path d="M841.3 1120.5h4M841.3 1153.8h4M841.3 1193.1h4M841.3 1219h4M841.3 1243.8h4M843.3 1143.8h2M843.3 1137.9h2M843.3 1133.8h2M843.3 1130.6h2M843.3 1127.9h2M843.3 1125.7h2M843.3 1123.8h2M843.3 1122h2M843.3 1181.3h2M843.3 1174.4h2M843.3 1169.5h2M843.3 1165.7h2M843.3 1162.6h2M843.3 1159.9h2M843.3 1157.6h2M843.3 1155.6h2M843.3 1197.4h2M843.3 1223.1h2M843.3 1201.7h2M843.3 1227.3h2M843.3 1206h2M843.3 1231.4h2M843.3 1210.4h2M843.3 1235.6h2M843.3 1214.7h2M843.3 1239.7h2" fill="none" stroke="#444" stroke-width="0.9"/>
<rect x="841.3" y="1216" width="3" height="6" fill="#222"/>
<path d="M853.2 1250.8v4M878 1250.8v4M906.2 1250.8v4M943.8 1250.8v4M976.9 1250.8v4M917.5 1250.8v2M924.1 1250.8v2M928.8 1250.8v2M932.5 1250.8v2M935.4 1250.8v2M938 1250.8v2M940.1 1250.8v2M942.1 1250.8v2M953.8 1250.8v2M959.6 1250.8v2M963.7 1250.8v2M967 1250.8v2M969.6 1250.8v2M971.8 1250.8v2M973.7 1250.8v2M975.4 1250.8v2M857.3 1250.8v2M882.7 1250.8v2M861.5 1250.8v2M887.4 1250.8v2M865.6 1250.8v2M892.1 1250.8v2M869.7 1250.8v2M896.8 1250.8v2M873.8 1250.8v2M901.5 1250.8v2" fill="none" stroke="#444" stroke-width="0.9"/>
<rect x="872" y="1251.8" width="7" height="3" fill="#222"/>
<text x="856.2" y="1269.3" font-size="13.5" text-anchor="middle" fill="#222">-10<tspan font-size="8.4" dy="-5.7">3</tspan></text>
<text x="878" y="1269.3" font-size="13.5" text-anchor="middle" fill="#222">0</text>
<text x="909.2" y="1269.3" font-size="13.5" text-anchor="middle" fill="#222">10<tspan font-size="8.4" dy="-5.7">3</tspan></text>
<text x="946.8" y="1269.3" font-size="13.5" text-anchor="middle" fill="#222">10<tspan font-size="8.4" dy="-5.7">4</tspan></text>
<text x="979.9" y="1269.3" font-size="13.5" text-anchor="middle" fill="#222">10<tspan font-size="8.4" dy="-5.7">5</tspan></text>
<path transform="translate(1018.9 1108.9) scale(1)" d="M137 21h0m2 4h0m-15 6h0m7 0h0m7 0h0m-12 1h0m8 0h0m-15 1h0m3 3h0m3 1h0m13 0h0m-22 1h0m12 0h0m1 0h0m-8 2h0m-9 1h0m4 0h0m3 2h0m8 1h0m-15 1h0m3 0h0m2 0h0m7 0h0m-15 1h0m7 0h0m6 0h0m5 0h0m-17 1h0m7 0h0m2 0h0m2 0h0m3 0h0m-15 1h0m4 0h0m2 0h0m12 0h0m2 0h0m5 0h0m-25 1h0m4 0h0m6 0h0m2 0h0m4 0h0m-18 1h0m5 0h0m2 0h0m7 0h0m3 0h0m3 0h0m-29 1h0m21 0h0m1 0h0m7 0h0m2 0h0m2 0h0m-31 1h0m21 0h0m1 0h0m4 0h0m4 0h0m-5 1h0m-40 1h0m39 0h0m1 0h0m1 0h0m-42 1h0m3 0h0m2 0h0m-13 1h0m44 0h0m1 0h0m1 0h0m3 0h0m3 0h0m1 0h0m-44 1h0m39 0h0m2 0h0m-6 1h0m7 0h0m-50 1h0m5 0h0m2 0h0m-4 1h0m2 0h0m33 0h0m6 0h0m-49 1h0m5 0h0m3 0h0m1 0h0m-16 1h0m7 0h0m6 0h0m38 0h0m-47 1h0m7 0h0m1 0h0m3 0h0m2 0h0m29 0h0m2 0h0m3 0h0m-36 1h0m1 0h0m1 0h0m3 0h0m27 0h0m1 0h0m-37 1h0m36 0h0m5 0h0m-57 1h0m6 0h0m2 0h0m12 0h0m7 0h0m-16 1h0m9 0h0m5 0h0m1 0h0m24 0h0m-24 1h0m23 0h0m13 0h0m-39 1h0m2 0h0m27 0h0m-52 1h0m6 0h0m44 0h0m6 0h0m-50 1h0m38 0h0m-32 1h0m9 0h0m1 0h0m1 0h0m1 0h0m1 0h0m2 0h0m16 0h0m1 0h0m4 0h0m-48 1h0m24 0h0m18 0h0m11 0h0m-50 1h0m7 0h0m3 0h0m11 0h0m20 0h0m2 0h0m1 0h0m1 0h0m-46 1h0m6 0h0m3 0h0m1 0h0m2 0h0m28 0h0m3 0h0m-67 1h0m32 0h0m4 0h0m6 0h0m1 0h0m-34 1h0m13 0h0m5 0h0m1 0h0m2 0h0m6 0h0m5 0h0m19 0h0m-58 1h0m20 0h0m9 0h0m7 0h0m3 0h0m1 0h0m1 0h0m16 0h0m19 0h0m-58 1h0m7 0h0m8 0h0m4 0h0m1 0h0m20 0h0m2 0h0m-63 1h0m1 0h0m3 0h0m13 0h0m3 0h0m9 0h0m4 0h0m1 0h0m1 0h0m28 0h0m2 0h0m-62 1h0m2 0h0m15 0h0m17 0h0m23 0h0m-27 1h0m3 0h0m2 0h0m3 0h0m17 0h0m4 0h0m1 0h0m-54 1h0m21 0h0m10 0h0m1 0h0m20 0h0m-57 1h0m7 0h0m5 0h0m3 0h0m2 0h0m3 0h0m14 0h0m1 0h0m2 0h0m-32 1h0m6 0h0m3 0h0m2 0h0m4 0h0m4 0h0m2 0h0m3 0h0m1 0h0m6 0h0m14 0h0m1 0h0m1 0h0m2 0h0m4 0h0m-50 1h0m3 0h0m4 0h0m3 0h0m2 0h0m7 0h0m23 0h0m7 0h0m-77 1h0m23 0h0m8 0h0m1 0h0m2 0h0m1 0h0m4 0h0m1 0h0m3 0h0m1 0h0m6 0h0m2 0h0m17 0h0m1 0h0m-55 1h0m6 0h0m2 0h0m6 0h0m2 0h0m2 0h0m6 0h0m1 0h0m2 0h0m6 0h0m26 0h0m16 0h0m-82 1h0m11 0h0m5 0h0m2 0h0m9 0h0m5 0h0m1 0h0m3 0h0m1 0h0m20 0h0m1 0h0m-52 1h0m10 0h0m11 0h0m3 0h0m3 0h0m-33 1h0m16 0h0m1 0h0m2 0h0m1 0h0m5 0h0m1 0h0m8 0h0m3 0h0m19 0h0m1 0h0m2 0h0m1 0h0m-56 1h0m6 0h0m5 0h0m2 0h0m3 0h0m3 0h0m32 0h0m5 0h0m-61 1h0m4 0h0m3 0h0m4 0h0m8 0h0m1 0h0m3 0h0m11 0h0m2 0h0m1 0h0m1 0h0m18 0h0m3 0h0m3 0h0m-48 1h0m2 0h0m6 0h0m5 0h0m1 0h0m26 0h0m4 0h0m5 0h0m2 0h0m-68 1h0m7 0h0m4 0h0m3 0h0m3 0h0m1 0h0m1 0h0m1 0h0m7 0h0m1 0h0m34 0h0m14 0h0m-75 1h0m7 0h0m2 0h0m1 0h0m1 0h0m4 0h0m3 0h0m10 0h0m-28 1h0m2 0h0m2 0h0m4 0h0m51 0h0m5 0h0m-63 1h0m11 0h0m41 0h0m2 0h0m5 0h0m-53 1h0m44 0h0m3 0h0m3 0h0m-47 1h0m44 0h0m-53 1h0m1 0h0m7 0h0m1 0h0m43 0h0m7 0h0m1 0h0m-69 1h0m1 0h0m6 0h0m2 0h0m2 0h0m3 0h0m2 0h0m44 0h0m3 0h0m2 0h0m-55 1h0m7 0h0m40 0h0m1 0h0m-53 1h0m2 0h0m4 0h0m3 0h0m45 0h0m1 0h0m2 0h0m2 0h0m-58 1h0m1 0h0m3 0h0m5 0h0m45 0h0m12 0h0m-72 1h0m5 0h0m1 0h0m1 0h0m50 0h0m1 0h0m4 0h0m-54 1h0m58 0h0m-70 1h0m8 0h0m51 0h0m1 0h0m1 0h0m1 0h0m2 0h0m16 0h0m-74 1h0m6 0h0m52 0h0m-63 1h0m7 0h0m3 0h0m48 0h0m1 0h0m8 0h0m21 0h0m-94 1h0m7 0h0m4 0h0m3 0h0m51 0h0m5 0h0m2 0h0m5 0h0m-66 1h0m2 0h0m1 0h0m50 0h0m6 0h0m-63 1h0m3 0h0m1 0h0m5 0h0m47 0h0m1 0h0m1 0h0m3 0h0m1 0h0m3 0h0m-70 1h0m12 0h0m49 0h0m2 0h0m7 0h0m-64 1h0m7 0h0m51 0h0m3 0h0m-53 1h0m48 0h0m4 0h0m1 0h0m-68 1h0m9 0h0m1 0h0m2 0h0m1 0h0m1 0h0m46 0h0m6 0h0m22 0h0m-80 1h0m4 0h0m2 0h0m2 0h0m44 0h0m5 0h0m-52 1h0m46 0h0m1 0h0m14 0h0m-69 1h0m6 0h0m3 0h0m46 0h0m3 0h0m6 0h0m-64 1h0m2 0h0m2 0h0m5 0h0m47 0h0m2 0h0m1 0h0m10 0h0m-76 1h0m3 0h0m4 0h0m55 0h0m10 0h0m-68 1h0m4 0h0m5 0h0m6 0h0m41 0h0m8 0h0m-69 1h0m5 0h0m1 0h0m8 0h0m2 0h0m1 0h0m46 0h0m3 0h0m3 0h0m1 0h0m-62 1h0m6 0h0m3 0h0m1 0h0m54 0h0m-65 1h0m4 0h0m6 0h0m2 0h0m42 0h0m-55 1h0m3 0h0m2 0h0m2 0h0m2 0h0m1 0h0m1 0h0m44 0h0m-64 1h0m5 0h0m11 0h0m44 0h0m7 0h0m1 0h0m-66 1h0m13 0h0m53 0h0m-55 1h0m5 0h0m2 0h0m38 0h0m5 0h0m-46 1h0m39 0h0m3 0h0m2 0h0m-56 1h0m16 0h0m2 0h0m35 0h0m4 0h0m-46 1h0m1 0h0m1 0h0m1 0h0m2 0h0m1 0h0m35 0h0m1 0h0m6 0h0m-57 1h0m3 0h0m3 0h0m1 0h0m3 0h0m5 0h0m4 0h0m29 0h0m3 0h0m5 0h0m-63 1h0m26 0h0m4 0h0m21 0h0m1 0h0m1 0h0m2 0h0m6 0h0m-60 1h0m4 0h0m1 0h0m10 0h0m3 0h0m1 0h0m9 0h0m24 0h0m7 0h0m1 0h0m5 0h0m-61 1h0m5 0h0m11 0h0m6 0h0m9 0h0m14 0h0m2 0h0m-27 1h0m5 0h0m2 0h0m3 0h0m2 0h0m13 0h0m2 0h0m3 0h0m5 0h0m1 0h0m1 0h0m5 0h0m-67 1h0m2 0h0m26 0h0m5 0h0m5 0h0m2 0h0m6 0h0m2 0h0m-35 1h0m2 0h0m1 0h0m5 0h0m6 0h0m14 0h0m-27 1h0m23 0h0m11 0h0m7 0h0" stroke="#3030e8" stroke-width="1.1" stroke-linecap="round" fill="none"/>
<path transform="translate(1018.9 1108.9) scale(1)" d="M115 50h0m-4 1h0m4 0h0m-11 1h0m3 0h0m1 0h0m2 0h0m2 0h0m2 0h0m2 0h0m-18 1h0m2 0h0m11 0h0m2 0h0m3 0h0m1 0h0m1 0h0m1 0h0m1 0h0m-23 1h0m19 0h0m4 0h0m-4 1h0m3 0h0m1 0h0m-30 1h0m3 0h0m20 0h0m2 0h0m2 0h0m-29 1h0m25 0h0m1 0h0m1 0h0m1 0h0m2 0h0m1 0h0m-32 1h0m1 0h0m26 0h0m-29 1h0m1 0h0m27 0h0m-27 1h0m1 0h0m23 0h0m2 0h0m2 0h0m1 0h0m-33 1h0m2 0h0m2 0h0m1 0h0m1 0h0m18 0h0m4 0h0m3 0h0m-33 1h0m5 0h0m1 0h0m2 0h0m9 0h0m4 0h0m1 0h0m4 0h0m3 0h0m1 0h0m-22 1h0m4 0h0m3 0h0m1 0h0m2 0h0m4 0h0m3 0h0m2 0h0m1 0h0m-21 1h0m3 0h0m5 0h0m2 0h0m1 0h0m3 0h0m1 0h0m2 0h0m2 0h0m1 0h0m1 0h0m1 0h0m-18 1h0m6 0h0m3 0h0m5 0h0m1 0h0m1 0h0m-16 1h0m1 0h0m6 0h0m2 0h0m1 0h0m3 0h0m-16 1h0m1 0h0m1 0h0m1 0h0m1 0h0m3 0h0m8 0h0m1 0h0m1 0h0m1 0h0m1 0h0m-14 1h0m2 0h0m10 0h0m1 0h0m1 0h0m-17 1h0m2 0h0m2 0h0m1 0h0m6 0h0m1 0h0m2 0h0m1 0h0m2 0h0m-15 1h0m1 0h0m2 0h0m3 0h0m2 0h0m1 0h0m1 0h0m3 0h0m1 0h0m1 0h0m-15 1h0m2 0h0m2 0h0m6 0h0m-14 1h0m1 0h0m1 0h0m1 0h0m6 0h0m1 0h0m1 0h0m1 0h0m-11 1h0m2 0h0m1 0h0m1 0h0m3 0h0m-13 1h0m1 0h0m5 0h0m7 0h0m1 0h0m1 0h0m1 0h0m-15 1h0m3 0h0m3 0h0m1 0h0m2 0h0m1 0h0m1 0h0m3 0h0m-15 1h0m3 0h0m4 0h0m4 0h0m3 0h0m-14 1h0m3 0h0m3 0h0m6 0h0m2 0h0m-11 1h0m2 0h0m1 0h0m2 0h0m2 0h0m1 0h0m2 0h0m-14 1h0m1 0h0m3 0h0m1 0h0m3 0h0m4 0h0m-12 1h0m2 0h0m1 0h0m1 0h0m1 0h0m2 0h0m3 0h0m1 0h0m1 0h0m1 0h0m-14 1h0m1 0h0m3 0h0m3 0h0m1 0h0m3 0h0m1 0h0m-13 1h0m1 0h0m2 0h0m1 0h0m1 0h0m2 0h0m2 0h0m2 0h0m2 0h0m1 0h0m-14 1h0m5 0h0m1 0h0m2 0h0m1 0h0m2 0h0m-10 1h0m2 0h0m3 0h0m2 0h0m1 0h0m3 0h0m-12 1h0m2 0h0m2 0h0m1 0h0m1 0h0m1 0h0m2 0h0m-12 1h0m2 0h0m1 0h0m2 0h0m2 0h0m2 0h0m2 0h0m1 0h0m-13 1h0m2 0h0m1 0h0m2 0h0m3 0h0m2 0h0m-19 1h0m1 0h0m5 0h0m1 0h0m1 0h0m2 0h0m3 0h0m3 0h0m-16 1h0m2 0h0m1 0h0m2 0h0m2 0h0m6 0h0m2 0h0m1 0h0m-16 1h0m1 0h0m4 0h0m3 0h0m1 0h0m4 0h0m1 0h0m1 0h0m-24 1h0m10 0h0m2 0h0m1 0h0m1 0h0m1 0h0m7 0h0m4 0h0m-25 1h0m10 0h0m3 0h0m8 0h0m1 0h0m-23 1h0m1 0h0m9 0h0m5 0h0m7 0h0m2 0h0m-25 1h0m3 0h0m2 0h0m6 0h0m2 0h0m1 0h0m2 0h0m5 0h0m1 0h0m1 0h0m-20 1h0m4 0h0m1 0h0m1 0h0m4 0h0m1 0h0m2 0h0m4 0h0m1 0h0m-36 1h0m9 0h0m6 0h0m2 0h0m1 0h0m6 0h0m4 0h0m1 0h0m1 0h0m3 0h0m1 0h0m2 0h0m-37 1h0m2 0h0m3 0h0m2 0h0m3 0h0m2 0h0m2 0h0m6 0h0m1 0h0m3 0h0m1 0h0m1 0h0m1 0h0m2 0h0m1 0h0m3 0h0m4 0h0m-38 1h0m8 0h0m1 0h0m1 0h0m3 0h0m1 0h0m2 0h0m1 0h0m4 0h0m1 0h0m2 0h0m1 0h0m1 0h0m5 0h0m2 0h0m-35 1h0m5 0h0m2 0h0m1 0h0m3 0h0m1 0h0m1 0h0m3 0h0m4 0h0m1 0h0m3 0h0m4 0h0m3 0h0m1 0h0m2 0h0m2 0h0m1 0h0m1 0h0m-37 1h0m1 0h0m2 0h0m1 0h0m1 0h0m1 0h0m8 0h0m1 0h0m1 0h0m1 0h0m2 0h0m3 0h0m1 0h0m6 0h0m1 0h0m1 0h0m4 0h0m-37 1h0m1 0h0m1 0h0m3 0h0m15 0h0m1 0h0m1 0h0m2 0h0m14 0h0m-35 1h0m30 0h0m2 0h0m2 0h0m1 0h0m-36 1h0m31 0h0m1 0h0m3 0h0m-43 1h0m5 0h0m3 0h0m31 0h0m3 0h0m-45 1h0m1 0h0m3 0h0m4 0h0m32 0h0m1 0h0m1 0h0m-42 1h0m1 0h0m1 0h0m36 0h0m1 0h0m5 0h0m-40 1h0m3 0h0m1 0h0m1 0h0m28 0h0m2 0h0m1 0h0m2 0h0m2 0h0m-42 1h0m1 0h0m1 0h0m1 0h0m2 0h0m29 0h0m4 0h0m1 0h0m1 0h0m-41 1h0m2 0h0m2 0h0m2 0h0m30 0h0m1 0h0m2 0h0m1 0h0m-2 1h0m4 0h0m-44 1h0m1 0h0m38 0h0m-38 1h0m38 0h0m3 0h0m-43 1h0m1 0h0m2 0h0m1 0h0m3 0h0m33 0h0m1 0h0m1 0h0m-39 1h0m1 0h0m3 0h0m1 0h0m2 0h0m1 0h0m28 0h0m1 0h0m1 0h0m1 0h0m1 0h0m-40 1h0m1 0h0m1 0h0m1 0h0m34 0h0m1 0h0m3 0h0m-40 1h0m3 0h0m1 0h0m28 0h0m2 0h0m1 0h0m-35 1h0m3 0h0m1 0h0m27 0h0m4 0h0m1 0h0m-37 1h0m4 0h0m29 0h0m1 0h0m3 0h0m-40 1h0m3 0h0m1 0h0m1 0h0m2 0h0m28 0h0m3 0h0m1 0h0m2 0h0m1 0h0m-44 1h0m1 0h0m3 0h0m1 0h0m30 0h0m1 0h0m2 0h0m1 0h0m2 0h0m1 0h0m-39 1h0m1 0h0m37 0h0m3 0h0m-43 1h0m3 0h0m1 0h0m30 0h0m2 0h0m1 0h0m2 0h0m3 0h0m-39 1h0m1 0h0m1 0h0m2 0h0m23 0h0m7 0h0m3 0h0m1 0h0m-35 1h0m25 0h0m3 0h0m1 0h0m1 0h0m2 0h0m1 0h0m2 0h0m-36 1h0m3 0h0m22 0h0m3 0h0m1 0h0m1 0h0m2 0h0m1 0h0m1 0h0m1 0h0m1 0h0m-36 1h0m2 0h0m1 0h0m1 0h0m20 0h0m1 0h0m2 0h0m1 0h0m4 0h0m1 0h0m-36 1h0m4 0h0m1 0h0m23 0h0m1 0h0m2 0h0m4 0h0m1 0h0m1 0h0m2 0h0m-38 1h0m1 0h0m1 0h0m2 0h0m1 0h0m1 0h0m2 0h0m16 0h0m3 0h0m5 0h0m4 0h0m1 0h0m-39 1h0m3 0h0m1 0h0m4 0h0m2 0h0m1 0h0m13 0h0m2 0h0m2 0h0m2 0h0m1 0h0m1 0h0m1 0h0m-31 1h0m1 0h0m1 0h0m1 0h0m1 0h0m2 0h0m3 0h0m11 0h0m2 0h0m2 0h0m1 0h0m1 0h0m1 0h0m2 0h0m2 0h0m-33 1h0m4 0h0m1 0h0m3 0h0m3 0h0m10 0h0m2 0h0m3 0h0m2 0h0m1 0h0m2 0h0m-27 1h0m2 0h0m1 0h0m3 0h0m1 0h0m1 0h0m6 0h0m1 0h0m4 0h0m6 0h0m-26 1h0m2 0h0m1 0h0m4 0h0m1 0h0m1 0h0m2 0h0m3 0h0m2 0h0m1 0h0m-15 1h0m2 0h0m2 0h0m1 0h0m3 0h0m1 0h0m2 0h0m1 0h0m3 0h0m2 0h0m1 0h0m2 0h0m1 0h0m1 0h0m-22 1h0m4 0h0m1 0h0m11 0h0m1 0h0m1 0h0m2 0h0m-15 1h0m1 0h0m1 0h0m7 0h0m4 0h0m1 0h0m3 0h0m2 0h0m-19 1h0m7 0h0m1 0h0m1 0h0m2 0h0m1 0h0m3 0h0m1 0h0m-8 1h0m1 0h0m1 0h0m1 0h0m3 0h0m-1 1h0" stroke="#2860e8" stroke-width="1.1" stroke-linecap="round" fill="none"/>
<path transform="translate(1018.9 1108.9) scale(1)" d="M102 53h0m1 0h0m1 0h0m1 0h0m1 0h0m1 0h0m1 0h0m7 0h0m-20 1h0m2 0h0m2 0h0m4 0h0m1 0h0m3 0h0m1 0h0m1 0h0m3 0h0m2 0h0m1 0h0m-21 1h0m2 0h0m4 0h0m1 0h0m8 0h0m1 0h0m1 0h0m1 0h0m3 0h0m-22 1h0m2 0h0m1 0h0m1 0h0m13 0h0m2 0h0m2 0h0m-24 1h0m2 0h0m1 0h0m1 0h0m15 0h0m2 0h0m-22 1h0m1 0h0m4 0h0m14 0h0m1 0h0m1 0h0m2 0h0m-23 1h0m1 0h0m1 0h0m1 0h0m2 0h0m1 0h0m6 0h0m6 0h0m1 0h0m1 0h0m1 0h0m2 0h0m-24 1h0m2 0h0m2 0h0m1 0h0m1 0h0m1 0h0m1 0h0m1 0h0m1 0h0m2 0h0m1 0h0m1 0h0m4 0h0m4 0h0m-20 1h0m1 0h0m1 0h0m2 0h0m2 0h0m1 0h0m1 0h0m2 0h0m1 0h0m1 0h0m2 0h0m1 0h0m-10 1h0m1 0h0m7 0h0m-7 4h0m2 0h0m-2 1h0m2 0h0m1 0h0m1 0h0m-2 1h0m1 0h0m-1 1h0m1 0h0m-8 6h0m-1 1h0m1 1h0m1 0h0m-2 1h0m1 0h0m1 0h0m-13 10h0m-2 1h0m1 0h0m1 0h0m-4 1h0m2 0h0m1 0h0m1 0h0m-2 1h0m1 0h0m-2 1h0m1 0h0m1 0h0m1 0h0m1 0h0m-5 1h0m2 0h0m-3 1h0m1 0h0m1 0h0m-2 1h0m-27 4h0m1 0h0m1 0h0m1 0h0m13 0h0m5 0h0m-25 1h0m4 0h0m17 0h0m1 0h0m1 0h0m2 0h0m-25 1h0m4 0h0m1 0h0m9 0h0m5 0h0m2 0h0m1 0h0m2 0h0m-24 1h0m2 0h0m2 0h0m1 0h0m1 0h0m1 0h0m6 0h0m1 0h0m3 0h0m1 0h0m3 0h0m1 0h0m1 0h0m1 0h0m1 0h0m-28 1h0m1 0h0m1 0h0m1 0h0m1 0h0m11 0h0m1 0h0m6 0h0m1 0h0m1 0h0m3 0h0m1 0h0m1 0h0m-12 1h0m1 0h0m1 0h0m1 0h0m1 0h0m1 0h0m2 0h0m1 0h0m2 0h0m-28 1h0m18 0h0m1 0h0m2 0h0m1 0h0m1 0h0m1 0h0m3 0h0m1 0h0m-29 1h0m1 0h0m1 0h0m1 0h0m17 0h0m3 0h0m1 0h0m1 0h0m1 0h0m1 0h0m2 0h0m-29 1h0m1 0h0m21 0h0m1 0h0m1 0h0m-24 1h0m1 0h0m21 0h0m2 0h0m-30 1h0m2 0h0m2 0h0m1 0h0m1 0h0m23 0h0m2 0h0m-33 1h0m2 0h0m1 0h0m1 0h0m3 0h0m26 0h0m1 0h0m-34 1h0m2 0h0m3 0h0m1 0h0m1 0h0m1 0h0m24 0h0m1 0h0m-34 1h0m2 0h0m1 0h0m1 0h0m1 0h0m1 0h0m1 0h0m1 0h0m25 0h0m1 0h0m1 0h0m-30 1h0m3 0h0m23 0h0m1 0h0m2 0h0m2 0h0m-28 1h0m22 0h0m1 0h0m1 0h0m1 0h0m1 0h0m1 0h0m-26 1h0m20 0h0m3 0h0m1 0h0m1 0h0m2 0h0m-27 1h0m20 0h0m1 0h0m0 1h0m1 0h0m-23 1h0m1 0h0m19 0h0m1 0h0m-26 1h0m2 0h0m1 0h0m1 0h0m18 0h0m2 0h0m2 0h0m1 0h0m-27 1h0m2 0h0m1 0h0m1 0h0m18 0h0m2 0h0m1 0h0m2 0h0m1 0h0m-30 1h0m1 0h0m1 0h0m2 0h0m2 0h0m17 0h0m2 0h0m1 0h0m1 0h0m1 0h0m-27 1h0m2 0h0m1 0h0m2 0h0m1 0h0m15 0h0m1 0h0m1 0h0m1 0h0m-23 1h0m2 0h0m1 0h0m1 0h0m15 0h0m4 0h0m-22 1h0m3 0h0m1 0h0m1 0h0m2 0h0m3 0h0m2 0h0m1 0h0m7 0h0m-18 1h0m4 0h0m3 0h0m5 0h0m1 0h0m2 0h0m1 0h0m2 0h0m1 0h0m1 0h0m-19 1h0m3 0h0m1 0h0m1 0h0m1 0h0m1 0h0m2 0h0m3 0h0m1 0h0m1 0h0m1 0h0m1 0h0m1 0h0m1 0h0m-17 1h0m2 0h0m1 0h0m1 0h0m1 0h0m1 0h0m3 0h0m1 0h0m3 0h0m1 0h0m-14 1h0m2 0h0m1 0h0m1 0h0m1 0h0m1 0h0m2 0h0m3 0h0m1 0h0m1 0h0m2 0h0m-12 1h0m2 0h0m1 0h0m1 0h0m1 0h0m1 0h0m1 0h0m-10 1h0m1 0h0m3 0h0m4 0h0m1 0h0m1 0h0m-10 1h0m1 0h0m2 0h0m1 0h0m1 0h0m1 0h0m1 0h0m-5 1h0m2 0h0m4 0h0m1 0h0" stroke="#20b0e0" stroke-width="1.1" stroke-linecap="round" fill="none"/>
<path transform="translate(1018.9 1108.9) scale(1)" d="M101 54h0m5 0h0m1 0h0m-7 1h0m1 0h0m1 0h0m1 0h0m1 0h0m1 0h0m1 0h0m2 0h0m-11 1h0m1 0h0m1 0h0m2 0h0m1 0h0m4 0h0m2 0h0m-13 1h0m1 0h0m1 0h0m2 0h0m1 0h0m1 0h0m1 0h0m5 0h0m1 0h0m1 0h0m-14 1h0m1 0h0m1 0h0m1 0h0m6 0h0m1 0h0m1 0h0m1 0h0m1 0h0m-13 1h0m3 0h0m1 0h0m2 0h0m1 0h0m1 0h0m1 0h0m1 0h0m-54 43h0m-7 1h0m2 0h0m3 0h0m1 0h0m1 0h0m4 0h0m-12 1h0m1 0h0m1 0h0m1 0h0m2 0h0m2 0h0m1 0h0m1 0h0m1 0h0m1 0h0m1 0h0m-14 1h0m1 0h0m13 0h0m1 0h0m-15 1h0m1 0h0m2 0h0m11 0h0m1 0h0m2 0h0m-18 1h0m1 0h0m1 0h0m15 0h0m1 0h0m-19 1h0m2 0h0m1 0h0m17 0h0m1 0h0m-20 1h0m18 0h0m1 0h0m-19 1h0m19 0h0m2 0h0m-23 1h0m1 0h0m1 0h0m18 0h0m1 0h0m2 0h0m-22 1h0m20 0h0m-19 1h0m18 0h0m2 0h0m-21 1h0m19 0h0m1 0h0m-20 1h0m1 0h0m16 0h0m1 0h0m1 0h0m-18 1h0m16 0h0m1 0h0m-18 1h0m16 0h0m1 0h0m-18 1h0m1 0h0m1 0h0m12 0h0m1 0h0m-14 1h0m12 0h0m1 0h0m1 0h0m2 0h0m-18 1h0m1 0h0m1 0h0m13 0h0m-14 1h0m1 0h0m1 0h0m1 0h0m1 0h0m7 0h0m1 0h0m1 0h0m1 0h0m-14 1h0m1 0h0m2 0h0m1 0h0m2 0h0m5 0h0m2 0h0m1 0h0m-12 1h0m1 0h0m1 0h0m2 0h0m2 0h0m1 0h0m1 0h0m1 0h0m1 0h0m-11 1h0m2 0h0m1 0h0m3 0h0m4 0h0m1 0h0m-10 1h0m1 0h0m0 1h0m1 0h0m0 1h0" stroke="#30c890" stroke-width="1.1" stroke-linecap="round" fill="none"/>
<path transform="translate(1018.9 1108.9) scale(1)" d="M104 55h0m1 0h0m-3 1h0m1 0h0m1 0h0m2 0h0m-4 1h0m1 0h0m1 0h0m1 0h0m1 0h0m-3 1h0m2 0h0m-56 45h0m1 0h0m-5 1h0m2 0h0m1 0h0m1 0h0m2 0h0m-4 1h0m2 0h0m1 0h0m1 0h0m1 0h0m1 0h0m1 0h0m-10 1h0m1 0h0m1 0h0m5 0h0m1 0h0m1 0h0m1 0h0m1 0h0m1 0h0m-13 1h0m1 0h0m1 0h0m9 0h0m1 0h0m2 0h0m-15 1h0m2 0h0m11 0h0m1 0h0m1 0h0m-15 1h0m13 0h0m1 0h0m1 0h0m-16 1h0m1 0h0m12 0h0m1 0h0m1 0h0m1 0h0m1 0h0m-18 1h0m1 0h0m15 0h0m1 0h0m1 0h0m-18 1h0m16 0h0m1 0h0m-17 1h0m1 0h0m14 0h0m1 0h0m-16 1h0m1 0h0m13 0h0m2 0h0m-16 1h0m1 0h0m12 0h0m1 0h0m1 0h0m1 0h0m-16 1h0m1 0h0m1 0h0m11 0h0m1 0h0m1 0h0m1 0h0m-16 1h0m1 0h0m9 0h0m1 0h0m4 0h0m-15 1h0m1 0h0m1 0h0m7 0h0m1 0h0m2 0h0m1 0h0m-13 1h0m2 0h0m1 0h0m2 0h0m1 0h0m2 0h0m2 0h0m1 0h0m-10 1h0m1 0h0m1 0h0m1 0h0m1 0h0m1 0h0m1 0h0m1 0h0m1 0h0m2 0h0m-10 1h0m2 0h0m1 0h0m1 0h0m1 0h0m1 0h0m1 0h0m1 0h0m1 0h0m-6 1h0m2 0h0m3 0h0" stroke="#70d040" stroke-width="1.1" stroke-linecap="round" fill="none"/>
<path transform="translate(1018.9 1108.9) scale(1)" d="M47 105h0m2 0h0m-4 1h0m1 0h0m1 0h0m1 0h0m1 0h0m1 0h0m1 0h0m2 0h0m-9 1h0m2 0h0m1 0h0m2 0h0m2 0h0m1 0h0m2 0h0m-9 1h0m1 0h0m6 0h0m1 0h0m-9 1h0m9 0h0m1 0h0m-12 1h0m1 0h0m1 0h0m1 0h0m7 0h0m2 0h0m-12 1h0m2 0h0m8 0h0m1 0h0m2 0h0m-14 1h0m1 0h0m1 0h0m10 0h0m1 0h0m-13 1h0m1 0h0m1 0h0m9 0h0m1 0h0m1 0h0m-13 1h0m1 0h0m1 0h0m9 0h0m1 0h0m1 0h0m-12 1h0m9 0h0m1 0h0m1 0h0m-11 1h0m1 0h0m2 0h0m1 0h0m2 0h0m1 0h0m1 0h0m1 0h0m1 0h0m1 0h0m-11 1h0m1 0h0m1 0h0m1 0h0m1 0h0m1 0h0m1 0h0m2 0h0m2 0h0m-10 1h0m1 0h0m1 0h0m1 0h0m1 0h0m1 0h0m1 0h0m2 0h0m-7 1h0m2 0h0m2 0h0m1 0h0" stroke="#d8e020" stroke-width="1.1" stroke-linecap="round" fill="none"/>
<path transform="translate(1018.9 1108.9) scale(1)" d="M46 107h0m1 0h0m1 0h0m1 0h0m-4 1h0m1 0h0m1 0h0m1 0h0m1 0h0m1 0h0m1 0h0m-6 1h0m1 0h0m1 0h0m2 0h0m1 0h0m1 0h0m1 0h0m-8 1h0m1 0h0m1 0h0m5 0h0m1 0h0m-9 1h0m1 0h0m1 0h0m1 0h0m5 0h0m1 0h0m-9 1h0m2 0h0m7 0h0m-9 1h0m1 0h0m1 0h0m6 0h0m1 0h0m1 0h0m-10 1h0m1 0h0m1 0h0m1 0h0m3 0h0m1 0h0m1 0h0m1 0h0m-9 1h0m1 0h0m2 0h0m1 0h0m1 0h0m1 0h0m1 0h0m1 0h0m-7 1h0m1 0h0m1 0h0m1 0h0m2 0h0m1 0h0" stroke="#f8a010" stroke-width="1.1" stroke-linecap="round" fill="none"/>
<path transform="translate(1018.9 1108.9) scale(1)" d="M48 109h0m1 0h0m-2 1h0m1 0h0m1 0h0m1 0h0m-5 1h0m1 0h0m2 0h0m1 0h0m1 0h0m1 0h0m-6 1h0m1 0h0m1 0h0m1 0h0m1 0h0m1 0h0m-5 1h0m1 0h0m1 0h0m1 0h0m1 0h0m1 0h0m-3 1h0m1 0h0m1 0h0m-3 1h0m2 0h0m1 0h0" stroke="#f02010" stroke-width="1.1" stroke-linecap="round" fill="none"/>
<line x1="1093.8" y1="1108.9" x2="1093.8" y2="1250.8" stroke="#999" stroke-width="1.1"/>
<line x1="1018.9" y1="1200" x2="1160.8" y2="1200" stroke="#999" stroke-width="1.1"/>
<rect x="1018.9" y="1108.9" width="141.9" height="141.9" fill="none" stroke="#333" stroke-width="1.1"/>
<text x="1022.9" y="1128" font-size="15.5" fill="#231f20">4.81</text>
<text x="1156.8" y="1128" font-size="15.5" text-anchor="end" fill="#231f20">17.2</text>
<text x="1021.9" y="1246.2" font-size="15.5" fill="#231f20">76.8</text>
<text x="1156.8" y="1246.2" font-size="15.5" text-anchor="end" fill="#231f20">1.17</text>
<path d="M1014.9 1121.4h4M1014.9 1149.5h4M1014.9 1177.5h4M1014.9 1205.7h4M1014.9 1233.8h4M1016.9 1141h2M1016.9 1136.1h2M1016.9 1132.6h2M1016.9 1129.9h2M1016.9 1127.6h2M1016.9 1125.8h2M1016.9 1124.1h2M1016.9 1122.7h2M1016.9 1169.1h2M1016.9 1164.1h2M1016.9 1160.6h2M1016.9 1157.9h2M1016.9 1155.7h2M1016.9 1153.8h2M1016.9 1152.2h2M1016.9 1150.8h2M1016.9 1197.2h2M1016.9 1192.2h2M1016.9 1188.7h2M1016.9 1186h2M1016.9 1183.8h2M1016.9 1181.9h2M1016.9 1180.2h2M1016.9 1178.8h2M1016.9 1225.3h2M1016.9 1220.4h2M1016.9 1216.9h2M1016.9 1214.2h2M1016.9 1211.9h2M1016.9 1210.1h2M1016.9 1208.4h2M1016.9 1207h2M1016.9 1248.5h2M1016.9 1245h2M1016.9 1242.3h2M1016.9 1240h2M1016.9 1238.2h2M1016.9 1236.5h2M1016.9 1235.1h2" fill="none" stroke="#444" stroke-width="0.9"/>
<text x="1015.9" y="1125.4" font-size="11" text-anchor="end" fill="#333">10<tspan font-size="6.8" dy="-4.6">5</tspan></text>
<text x="1015.9" y="1153.5" font-size="11" text-anchor="end" fill="#333">10<tspan font-size="6.8" dy="-4.6">4</tspan></text>
<text x="1015.9" y="1181.5" font-size="11" text-anchor="end" fill="#333">10<tspan font-size="6.8" dy="-4.6">3</tspan></text>
<text x="1015.9" y="1209.7" font-size="11" text-anchor="end" fill="#333">10<tspan font-size="6.8" dy="-4.6">2</tspan></text>
<text x="1015.9" y="1237.8" font-size="11" text-anchor="end" fill="#333">10<tspan font-size="6.8" dy="-4.6">1</tspan></text>
<path d="M1030.2 1250.8v4M1059.1 1250.8v4M1088 1250.8v4M1116 1250.8v4M1144.1 1250.8v4M1038.9 1250.8v2M1044 1250.8v2M1047.6 1250.8v2M1050.4 1250.8v2M1052.7 1250.8v2M1054.6 1250.8v2M1056.3 1250.8v2M1057.8 1250.8v2M1067.8 1250.8v2M1072.9 1250.8v2M1076.5 1250.8v2M1079.3 1250.8v2M1081.6 1250.8v2M1083.5 1250.8v2M1085.2 1250.8v2M1086.7 1250.8v2M1096.4 1250.8v2M1101.4 1250.8v2M1104.9 1250.8v2M1107.6 1250.8v2M1109.8 1250.8v2M1111.7 1250.8v2M1113.3 1250.8v2M1114.7 1250.8v2M1124.5 1250.8v2M1129.4 1250.8v2M1132.9 1250.8v2M1135.6 1250.8v2M1137.9 1250.8v2M1139.7 1250.8v2M1141.4 1250.8v2M1142.8 1250.8v2M1152.6 1250.8v2M1157.5 1250.8v2" fill="none" stroke="#444" stroke-width="0.9"/>
<text x="1033.2" y="1269.3" font-size="13.5" text-anchor="middle" fill="#222">10<tspan font-size="8.4" dy="-5.7">1</tspan></text>
<text x="1062.1" y="1269.3" font-size="13.5" text-anchor="middle" fill="#222">10<tspan font-size="8.4" dy="-5.7">2</tspan></text>
<text x="1091" y="1269.3" font-size="13.5" text-anchor="middle" fill="#222">10<tspan font-size="8.4" dy="-5.7">3</tspan></text>
<text x="1119" y="1269.3" font-size="13.5" text-anchor="middle" fill="#222">10<tspan font-size="8.4" dy="-5.7">4</tspan></text>
<text x="1147.1" y="1269.3" font-size="13.5" text-anchor="middle" fill="#222">10<tspan font-size="8.4" dy="-5.7">5</tspan></text>
<line x1="1242" y1="986.6" x2="1242" y2="1223.2" stroke="#111" stroke-width="2"/>
<line x1="1241" y1="1223.2" x2="1595" y2="1223.2" stroke="#111" stroke-width="2"/>
<line x1="1236" y1="1223.2" x2="1242" y2="1223.2" stroke="#111" stroke-width="2"/>
<text x="1234" y="1231" font-size="21.5" text-anchor="end">0</text>
<line x1="1236" y1="1164.3" x2="1242" y2="1164.3" stroke="#111" stroke-width="2"/>
<text x="1234" y="1172.1" font-size="21.5" text-anchor="end">20</text>
<line x1="1236" y1="1105.4" x2="1242" y2="1105.4" stroke="#111" stroke-width="2"/>
<text x="1234" y="1113.2" font-size="21.5" text-anchor="end">40</text>
<line x1="1236" y1="1046.5" x2="1242" y2="1046.5" stroke="#111" stroke-width="2"/>
<text x="1234" y="1054.3" font-size="21.5" text-anchor="end">60</text>
<line x1="1236" y1="987.6" x2="1242" y2="987.6" stroke="#111" stroke-width="2"/>
<text x="1234" y="995.4" font-size="21.5" text-anchor="end">80</text>
<line x1="1286" y1="1223.2" x2="1286" y2="1229.2" stroke="#111" stroke-width="2"/>
<line x1="1373.6" y1="1223.2" x2="1373.6" y2="1229.2" stroke="#111" stroke-width="2"/>
<line x1="1461" y1="1223.2" x2="1461" y2="1229.2" stroke="#111" stroke-width="2"/>
<line x1="1548.8" y1="1223.2" x2="1548.8" y2="1229.2" stroke="#111" stroke-width="2"/>
<rect x="1252.2" y="1205.5" width="11.3" height="17.7" fill="#f590c4" stroke="#111" stroke-width="1.6"/>
<line x1="1252.8" y1="1204.9" x2="1262.8" y2="1204.9" stroke="#111" stroke-width="1.8"/>
<line x1="1257.8" y1="1205.5" x2="1257.8" y2="1204.9" stroke="#111" stroke-width="1.8"/>
<rect x="1270.7" y="1207" width="11.3" height="16.2" fill="#9191f5" stroke="#111" stroke-width="1.6"/>
<line x1="1271.3" y1="1206.4" x2="1281.3" y2="1206.4" stroke="#111" stroke-width="1.8"/>
<line x1="1276.3" y1="1207" x2="1276.3" y2="1206.4" stroke="#111" stroke-width="1.8"/>
<rect x="1289.7" y="1199.6" width="11.3" height="23.6" fill="#44eaa8" stroke="#111" stroke-width="1.6"/>
<line x1="1290.3" y1="1198.2" x2="1300.3" y2="1198.2" stroke="#111" stroke-width="1.8"/>
<line x1="1295.3" y1="1199.6" x2="1295.3" y2="1198.2" stroke="#111" stroke-width="1.8"/>
<rect x="1308.7" y="1200.5" width="11.3" height="22.7" fill="#f8f59a" stroke="#111" stroke-width="1.6"/>
<line x1="1309.3" y1="1199.9" x2="1319.3" y2="1199.9" stroke="#111" stroke-width="1.8"/>
<line x1="1314.3" y1="1200.5" x2="1314.3" y2="1199.9" stroke="#111" stroke-width="1.8"/>
<rect x="1340.1" y="1089.8" width="11.3" height="133.4" fill="#f590c4" stroke="#111" stroke-width="1.6"/>
<line x1="1340.8" y1="1089.2" x2="1350.8" y2="1089.2" stroke="#111" stroke-width="1.8"/>
<line x1="1345.8" y1="1089.8" x2="1345.8" y2="1089.2" stroke="#111" stroke-width="1.8"/>
<rect x="1358.7" y="1122.5" width="11.3" height="100.7" fill="#9191f5" stroke="#111" stroke-width="1.6"/>
<line x1="1359.3" y1="1121.9" x2="1369.3" y2="1121.9" stroke="#111" stroke-width="1.8"/>
<line x1="1364.3" y1="1122.5" x2="1364.3" y2="1121.9" stroke="#111" stroke-width="1.8"/>
<rect x="1377.7" y="1123.7" width="11.3" height="99.5" fill="#44eaa8" stroke="#111" stroke-width="1.6"/>
<line x1="1378.3" y1="1121.9" x2="1388.3" y2="1121.9" stroke="#111" stroke-width="1.8"/>
<line x1="1383.3" y1="1123.7" x2="1383.3" y2="1121.9" stroke="#111" stroke-width="1.8"/>
<rect x="1396.7" y="1147.2" width="11.3" height="76" fill="#f8f59a" stroke="#111" stroke-width="1.6"/>
<line x1="1397.3" y1="1146.6" x2="1407.3" y2="1146.6" stroke="#111" stroke-width="1.8"/>
<line x1="1402.3" y1="1147.2" x2="1402.3" y2="1146.6" stroke="#111" stroke-width="1.8"/>
<rect x="1427.7" y="1131.9" width="11.3" height="91.3" fill="#f590c4" stroke="#111" stroke-width="1.6"/>
<line x1="1428.3" y1="1131.3" x2="1438.3" y2="1131.3" stroke="#111" stroke-width="1.8"/>
<line x1="1433.3" y1="1131.9" x2="1433.3" y2="1131.3" stroke="#111" stroke-width="1.8"/>
<rect x="1446.3" y="1162.8" width="11.3" height="60.4" fill="#9191f5" stroke="#111" stroke-width="1.6"/>
<line x1="1446.9" y1="1162.2" x2="1456.9" y2="1162.2" stroke="#111" stroke-width="1.8"/>
<line x1="1451.9" y1="1162.8" x2="1451.9" y2="1162.2" stroke="#111" stroke-width="1.8"/>
<rect x="1465.7" y="1117.8" width="11.3" height="105.4" fill="#44eaa8" stroke="#111" stroke-width="1.6"/>
<line x1="1466.3" y1="1116" x2="1476.3" y2="1116" stroke="#111" stroke-width="1.8"/>
<line x1="1471.3" y1="1117.8" x2="1471.3" y2="1116" stroke="#111" stroke-width="1.8"/>
<rect x="1484.3" y="1151.9" width="11.3" height="71.3" fill="#f8f59a" stroke="#111" stroke-width="1.6"/>
<line x1="1484.9" y1="1151.3" x2="1494.9" y2="1151.3" stroke="#111" stroke-width="1.8"/>
<line x1="1489.9" y1="1151.9" x2="1489.9" y2="1151.3" stroke="#111" stroke-width="1.8"/>
<rect x="1515.5" y="1009.7" width="11.3" height="213.5" fill="#f590c4" stroke="#111" stroke-width="1.6"/>
<line x1="1516.1" y1="1005.3" x2="1526.1" y2="1005.3" stroke="#111" stroke-width="1.8"/>
<line x1="1521.1" y1="1009.7" x2="1521.1" y2="1005.3" stroke="#111" stroke-width="1.8"/>
<rect x="1534.5" y="1088.3" width="11.3" height="134.9" fill="#9191f5" stroke="#111" stroke-width="1.6"/>
<line x1="1535.1" y1="1083.9" x2="1545.1" y2="1083.9" stroke="#111" stroke-width="1.8"/>
<line x1="1540.1" y1="1088.3" x2="1540.1" y2="1083.9" stroke="#111" stroke-width="1.8"/>
<rect x="1553.3" y="1114.8" width="11.3" height="108.4" fill="#44eaa8" stroke="#111" stroke-width="1.6"/>
<line x1="1553.9" y1="1113.1" x2="1563.9" y2="1113.1" stroke="#111" stroke-width="1.8"/>
<line x1="1558.9" y1="1114.8" x2="1558.9" y2="1113.1" stroke="#111" stroke-width="1.8"/>
<rect x="1572" y="1171.1" width="11.3" height="52.1" fill="#f8f59a" stroke="#111" stroke-width="1.6"/>
<line x1="1572.6" y1="1170.5" x2="1582.6" y2="1170.5" stroke="#111" stroke-width="1.8"/>
<line x1="1577.6" y1="1171.1" x2="1577.6" y2="1170.5" stroke="#111" stroke-width="1.8"/>
<path d="M1345.5 1075V1063H1364.5V1112" fill="none" stroke="#555" stroke-width="1.2"/>
<text x="1354.5" y="1059.5" font-size="13" text-anchor="middle" font-weight="bold">***</text>
<path d="M1382.6 1107V1093.6H1401.6V1142" fill="none" stroke="#555" stroke-width="1.2"/>
<text x="1392" y="1090.1" font-size="13" text-anchor="middle" font-weight="bold">***</text>
<path d="M1432.5 1113V1100H1451.5V1149" fill="none" stroke="#555" stroke-width="1.2"/>
<text x="1442" y="1096.5" font-size="13" text-anchor="middle" font-weight="bold">***</text>
<path d="M1470.5 1107V1093.6H1489.5V1143" fill="none" stroke="#555" stroke-width="1.2"/>
<text x="1479.8" y="1090.1" font-size="13" text-anchor="middle" font-weight="bold">***</text>
<path d="M1520.5 994V994H1539.5V1072" fill="none" stroke="#555" stroke-width="1.2"/>
<text x="1530" y="990.5" font-size="13" text-anchor="middle" font-weight="bold">***</text>
<path d="M1558.8 1107V1093.6H1577.5V1157" fill="none" stroke="#555" stroke-width="1.2"/>
<text x="1568" y="1090.1" font-size="13" text-anchor="middle" font-weight="bold">***</text>
<rect x="1255" y="956" width="25" height="13.5" fill="#f590c4" stroke="#111" stroke-width="2"/>
<text x="1287" y="969" font-size="17.5">MIHA-VEC</text>
<rect x="1255" y="978" width="25" height="13.5" fill="#9191f5" stroke="#111" stroke-width="2"/>
<text x="1287" y="991" font-size="17.5">MIHA-DA3</text>
<rect x="1406" y="955" width="25" height="13.5" fill="#44eaa8" stroke="#111" stroke-width="2"/>
<text x="1438" y="968" font-size="17.5">97H-VEC</text>
<rect x="1406" y="975" width="25" height="13.5" fill="#f8f59a" stroke="#111" stroke-width="2"/>
<text x="1438" y="988" font-size="17.5">97H-DA3</text>
<text x="1199" y="1105" font-size="27.5" text-anchor="middle" transform="rotate(-90 1199 1105)">Apoptotic Index (%)</text>
<text x="1286" y="1249.5" font-size="19" text-anchor="middle">CON</text>
<text x="1374" y="1249.5" font-size="19" text-anchor="middle">Cisplatin</text>
<text x="1468" y="1249.5" font-size="19" text-anchor="middle">Sorafenib</text>
<text x="1549" y="1249.5" font-size="19" text-anchor="middle">5-FU</text>
<text x="5.6" y="1369.5" font-size="46" fill="#13202c">e</text>
<text x="288" y="1409" font-size="23.5" text-anchor="middle">HCC organoids</text>
<line x1="162.9" y1="1415.5" x2="162.9" y2="1664.5" stroke="#111" stroke-width="2.6"/>
<line x1="161.9" y1="1663.5" x2="424.2" y2="1663.5" stroke="#111" stroke-width="2.6"/>
<line x1="156.9" y1="1663.5" x2="162.9" y2="1663.5" stroke="#111" stroke-width="2.4"/>
<text x="153.9" y="1669.1" font-size="15" text-anchor="end" font-weight="bold">0.0</text>
<line x1="156.9" y1="1581.2" x2="162.9" y2="1581.2" stroke="#111" stroke-width="2.4"/>
<text x="153.9" y="1586.8" font-size="15" text-anchor="end" font-weight="bold">0.5</text>
<line x1="156.9" y1="1498.8" x2="162.9" y2="1498.8" stroke="#111" stroke-width="2.4"/>
<text x="153.9" y="1504.4" font-size="15" text-anchor="end" font-weight="bold">1.0</text>
<line x1="156.9" y1="1416.5" x2="162.9" y2="1416.5" stroke="#111" stroke-width="2.4"/>
<text x="153.9" y="1422.1" font-size="15" text-anchor="end" font-weight="bold">1.5</text>
<line x1="229" y1="1663.5" x2="229" y2="1668.5" stroke="#111" stroke-width="2.4"/>
<line x1="357.8" y1="1663.5" x2="357.8" y2="1668.5" stroke="#111" stroke-width="2.4"/>
<line x1="204.1" y1="1497.2" x2="204.1" y2="1489" stroke="#111" stroke-width="2.6"/>
<line x1="197.6" y1="1489" x2="210.6" y2="1489" stroke="#111" stroke-width="2.6"/>
<rect x="186.9" y="1497.2" width="34.3" height="166.3" fill="#050505" stroke="#050505" stroke-width="2.6"/>
<line x1="253.4" y1="1489.8" x2="253.4" y2="1485.7" stroke="#111" stroke-width="2.6"/>
<line x1="246.9" y1="1485.7" x2="259.9" y2="1485.7" stroke="#111" stroke-width="2.6"/>
<rect x="236.7" y="1489.8" width="33.4" height="173.7" fill="#a3a3a7" stroke="#050505" stroke-width="2.6"/>
<line x1="332.4" y1="1570.5" x2="332.4" y2="1567.2" stroke="#111" stroke-width="2.6"/>
<line x1="325.9" y1="1567.2" x2="338.9" y2="1567.2" stroke="#111" stroke-width="2.6"/>
<rect x="315.4" y="1570.5" width="34" height="93" fill="#050505" stroke="#050505" stroke-width="2.6"/>
<line x1="383" y1="1549.9" x2="383" y2="1543.3" stroke="#111" stroke-width="2.6"/>
<line x1="376.5" y1="1543.3" x2="389.5" y2="1543.3" stroke="#111" stroke-width="2.6"/>
<rect x="366.6" y="1549.9" width="32.7" height="113.6" fill="#a3a3a7" stroke="#050505" stroke-width="2.6"/>
<line x1="332.6" y1="1518.8" x2="382.1" y2="1518.8" stroke="#111" stroke-width="3"/>
<text x="358.2" y="1504.4" font-size="29" text-anchor="middle" font-weight="bold">*</text>
<rect x="397.7" y="1428.8" width="16.8" height="12.9" fill="#050505"/>
<rect x="398.7" y="1454.5" width="14.8" height="10.9" fill="#a3a3a7" stroke="#050505" stroke-width="2"/>
<text x="424.9" y="1441.7" font-size="23">Vec</text>
<text x="424.9" y="1466" font-size="23">PGC7</text>
<text x="115" y="1540" font-size="23" text-anchor="middle" transform="rotate(-90 115 1540)">Relative viability to Control</text>
<text x="204.5" y="1700.4" font-size="23" text-anchor="middle">DMSO</text>
<text x="348" y="1700.4" font-size="23.3" text-anchor="middle">Sorafenib</text>
<text x="508.5" y="1373.4" font-size="46" fill="#13202c">f</text>
<text x="751.2" y="1386" font-size="23.5" text-anchor="middle">HCC organoids</text>
<line x1="609.6" y1="1410.1" x2="609.6" y2="1661.7" stroke="#111" stroke-width="2.4"/>
<line x1="608.6" y1="1660.7" x2="893.7" y2="1660.7" stroke="#111" stroke-width="2.4"/>
<line x1="603.6" y1="1660.7" x2="609.6" y2="1660.7" stroke="#111" stroke-width="2.2"/>
<text x="600.6" y="1667.2" font-size="18.5" text-anchor="end">0</text>
<line x1="603.6" y1="1577.5" x2="609.6" y2="1577.5" stroke="#111" stroke-width="2.2"/>
<text x="600.6" y="1584" font-size="18.5" text-anchor="end">10</text>
<line x1="603.6" y1="1494.3" x2="609.6" y2="1494.3" stroke="#111" stroke-width="2.2"/>
<text x="600.6" y="1500.8" font-size="18.5" text-anchor="end">20</text>
<line x1="603.6" y1="1411.1" x2="609.6" y2="1411.1" stroke="#111" stroke-width="2.2"/>
<text x="600.6" y="1417.6" font-size="18.5" text-anchor="end">30</text>
<line x1="679.5" y1="1660.7" x2="679.5" y2="1666.7" stroke="#111" stroke-width="2.2"/>
<line x1="821" y1="1660.7" x2="821" y2="1666.7" stroke="#111" stroke-width="2.2"/>
<line x1="649.8" y1="1636.6" x2="649.8" y2="1630.7" stroke="#111" stroke-width="2.2"/>
<line x1="640.8" y1="1630.7" x2="658.8" y2="1630.7" stroke="#111" stroke-width="2.2"/>
<rect x="630.7" y="1636.6" width="38.1" height="24.1" fill="#fff" stroke="#050505" stroke-width="2.2"/>
<line x1="709.5" y1="1644.9" x2="709.5" y2="1639.1" stroke="#111" stroke-width="2.2"/>
<line x1="700.5" y1="1639.1" x2="718.5" y2="1639.1" stroke="#111" stroke-width="2.2"/>
<rect x="690.1" y="1644.9" width="38.8" height="15.8" fill="#050505" stroke="#050505" stroke-width="2.2"/>
<line x1="791" y1="1437.7" x2="791" y2="1435.2" stroke="#111" stroke-width="2.2"/>
<line x1="782" y1="1435.2" x2="800" y2="1435.2" stroke="#111" stroke-width="2.2"/>
<rect x="771.8" y="1437.7" width="38.3" height="223" fill="#fff" stroke="#050505" stroke-width="2.2"/>
<line x1="851.7" y1="1513.4" x2="851.7" y2="1487.6" stroke="#111" stroke-width="2.2"/>
<line x1="842.7" y1="1487.6" x2="860.7" y2="1487.6" stroke="#111" stroke-width="2.2"/>
<rect x="831.8" y="1513.4" width="39.7" height="147.3" fill="#050505" stroke="#050505" stroke-width="2.2"/>
<path d="M791 1430V1410.5H851.5V1478" fill="none" stroke="#333" stroke-width="1.3"/>
<text x="822" y="1409.5" font-size="22" text-anchor="middle" font-weight="bold">*</text>
<rect x="629" y="1405.5" width="25.6" height="13.1" fill="#fff" stroke="#050505" stroke-width="2"/>
<rect x="628" y="1426.4" width="27.6" height="14.6" fill="#050505"/>
<text x="670.4" y="1419" font-size="21">Vec</text>
<text x="670.4" y="1443" font-size="23">PGC7</text>
<text x="563" y="1536" font-size="27" text-anchor="middle" transform="rotate(-90 563 1536)">Apoptotic Index (%)</text>
<text x="679" y="1692.2" font-size="23" text-anchor="middle">DMSO</text>
<text x="822.3" y="1692.2" font-size="23.3" text-anchor="middle">Sorafenib</text>
<text x="954" y="1367.3" font-size="46" fill="#13202c">g</text>
<text x="1098" y="1380.9" font-size="25" text-anchor="middle">PDO-Vec</text>
<text x="1248.8" y="1380.9" font-size="25" text-anchor="middle">PDO-<tspan stroke="#111" stroke-width="0.7">PGC7</tspan></text>
<path transform="translate(1034.2 1392) scale(1)" d="M55 17h0m3 0h0m6 1h0m-19 2h0m15 2h0m1 1h0m-11 1h0m16 0h0m-2 1h0m-6 3h0m10 2h0m9 0h0m-9 2h0m-9 1h0m8 0h0m0 1h0m1 0h0m9 0h0m-19 1h0m1 0h0m12 0h0m-20 1h0m8 0h0m1 0h0m2 0h0m10 0h0m6 0h0m-14 1h0m3 0h0m6 0h0m6 0h0m-32 1h0m8 0h0m2 0h0m2 1h0m5 0h0m3 0h0m3 0h0m-14 1h0m6 0h0m9 0h0m-36 1h0m30 0h0m2 0h0m-22 1h0m13 0h0m2 0h0m3 0h0m6 0h0m-17 1h0m5 0h0m4 0h0m3 0h0m1 0h0m19 0h0m-33 1h0m12 0h0m1 0h0m9 0h0m-13 1h0m1 0h0m6 0h0m1 0h0m6 0h0m10 0h0m-28 1h0m3 0h0m2 0h0m1 0h0m3 0h0m4 0h0m-13 1h0m4 0h0m4 0h0m1 0h0m4 0h0m1 0h0m1 0h0m1 0h0m2 0h0m2 0h0m-22 1h0m4 0h0m1 0h0m7 0h0m4 0h0m2 0h0m-21 1h0m3 0h0m1 0h0m2 0h0m1 0h0m1 0h0m1 0h0m3 0h0m3 0h0m3 0h0m1 0h0m2 0h0m1 0h0m9 0h0m-31 1h0m2 0h0m1 0h0m5 0h0m2 0h0m2 0h0m1 0h0m8 0h0m1 0h0m2 0h0m-18 1h0m5 0h0m2 0h0m8 0h0m3 0h0m4 0h0m-18 1h0m17 0h0m-23 1h0m19 0h0m1 0h0m-32 1h0m4 0h0m1 0h0m8 0h0m7 0h0m13 0h0m-39 1h0m22 0h0m1 0h0m2 0h0m12 0h0m1 0h0m1 0h0m1 0h0m2 0h0m-42 1h0m11 0h0m9 0h0m1 0h0m1 0h0m16 0h0m3 0h0m-23 1h0m2 0h0m1 0h0m1 0h0m14 0h0m2 0h0m2 0h0m1 0h0m-26 1h0m1 0h0m1 0h0m1 0h0m29 0h0m-34 1h0m1 0h0m5 0h0m17 0h0m5 0h0m10 0h0m-33 1h0m24 0h0m-45 1h0m13 0h0m2 0h0m5 0h0m21 0h0m1 0h0m3 0h0m1 0h0m3 0h0m6 0h0m2 0h0m-39 1h0m2 0h0m1 0h0m21 0h0m16 0h0m-66 1h0m48 0h0m4 0h0m-32 1h0m6 0h0m1 0h0m2 0h0m19 0h0m1 0h0m4 0h0m3 0h0m4 0h0m-46 1h0m5 0h0m4 0h0m5 0h0m1 0h0m1 0h0m21 0h0m1 0h0m5 0h0m15 0h0m5 0h0m-54 1h0m4 0h0m22 0h0m2 0h0m8 0h0m21 0h0m-61 1h0m8 0h0m22 0h0m1 0h0m1 0h0m2 0h0m3 0h0m11 0h0m6 0h0m9 0h0m-55 1h0m2 0h0m21 0h0m4 0h0m4 0h0m3 0h0m-10 1h0m3 0h0m1 0h0m11 0h0m6 0h0m2 0h0m-44 1h0m21 0h0m5 0h0m6 0h0m5 0h0m-46 1h0m1 0h0m2 0h0m3 0h0m2 0h0m24 0h0m1 0h0m3 0h0m-33 1h0m5 0h0m25 0h0m3 0h0m1 0h0m3 0h0m1 0h0m7 0h0m8 0h0m-47 1h0m33 0h0m9 0h0m-61 1h0m8 0h0m3 0h0m1 0h0m4 0h0m30 0h0m10 0h0m-40 1h0m2 0h0m25 0h0m1 0h0m1 0h0m3 0h0m5 0h0m4 0h0m8 0h0m-58 1h0m5 0h0m3 0h0m1 0h0m29 0h0m1 0h0m13 0h0m-43 1h0m34 0h0m1 0h0m10 0h0m-51 1h0m3 0h0m33 0h0m1 0h0m2 0h0m6 0h0m6 0h0m-60 1h0m5 0h0m40 0h0m5 0h0m2 0h0m1 0h0m13 0h0m7 0h0m-60 1h0m51 0h0m-63 1h0m12 0h0m40 0h0m6 0h0m-50 1h0m3 0h0m42 0h0m1 0h0m4 0h0m7 0h0m1 0h0m-63 1h0m13 0h0m38 0h0m3 0h0m3 0h0m14 0h0m-67 1h0m3 0h0m2 0h0m3 0h0m1 0h0m41 0h0m3 0h0m3 0h0m-54 1h0m3 0h0m46 0h0m2 0h0m4 0h0m-51 1h0m2 0h0m41 0h0m4 0h0m1 0h0m3 0h0m-62 1h0m3 0h0m6 0h0m3 0h0m63 0h0m3 0h0m-80 1h0m7 0h0m5 0h0m46 0h0m1 0h0m-65 1h0m9 0h0m9 0h0m47 0h0m8 0h0m-76 1h0m5 0h0m2 0h0m8 0h0m2 0h0m3 0h0m46 0h0m-68 1h0m12 0h0m4 0h0m4 0h0m1 0h0m48 0h0m2 0h0m1 0h0m-68 1h0m10 0h0m3 0h0m2 0h0m49 0h0m5 0h0m1 0h0m1 0h0m10 0h0m-91 1h0m15 0h0m3 0h0m2 0h0m1 0h0m2 0h0m2 0h0m1 0h0m49 0h0m8 0h0m-76 1h0m11 0h0m3 0h0m54 0h0m5 0h0m-71 1h0m8 0h0m3 0h0m-11 1h0m3 0h0m11 0h0m1 0h0m2 0h0m1 0h0m49 0h0m7 0h0m8 0h0m-87 1h0m23 0h0m51 0h0m2 0h0m-59 1h0m1 0h0m1 0h0m53 0h0m1 0h0m3 0h0m-62 1h0m1 0h0m4 0h0m2 0h0m54 0h0m4 0h0m9 0h0m1 0h0m-91 1h0m16 0h0m5 0h0m2 0h0m56 0h0m1 0h0m-61 1h0m56 0h0m2 0h0m5 0h0m-84 1h0m23 0h0m2 0h0m1 0h0m57 0h0m1 0h0m1 0h0m8 0h0m-80 1h0m6 0h0m7 0h0m54 0h0m-79 1h0m6 0h0m4 0h0m5 0h0m2 0h0m60 0h0m1 0h0m2 0h0m5 0h0m-83 1h0m19 0h0m2 0h0m1 0h0m53 0h0m3 0h0m-64 1h0m2 0h0m1 0h0m2 0h0m3 0h0m53 0h0m-71 1h0m15 0h0m55 0h0m-71 1h0m11 0h0m5 0h0m1 0h0m2 0h0m53 0h0m5 0h0m-66 1h0m8 0h0m51 0h0m1 0h0m2 0h0m4 0h0m4 0h0m1 0h0m-96 1h0m24 0h0m8 0h0m5 0h0m37 0h0m3 0h0m1 0h0m7 0h0m2 0h0m-78 1h0m11 0h0m41 0h0m18 0h0m3 0h0m9 0h0m-78 1h0m19 0h0m8 0h0m17 0h0m3 0h0m1 0h0m1 0h0m1 0h0m12 0h0m1 0h0m3 0h0m2 0h0m5 0h0m1 0h0m3 0h0m-55 1h0m1 0h0m2 0h0m1 0h0m7 0h0m12 0h0m1 0h0m2 0h0m12 0h0m3 0h0m4 0h0m6 0h0m-65 1h0m14 0h0m4 0h0m2 0h0m1 0h0m3 0h0m11 0h0m3 0h0m3 0h0m4 0h0m1 0h0m1 0h0m2 0h0m1 0h0m6 0h0m3 0h0m1 0h0m4 0h0m15 0h0m-69 1h0m5 0h0m6 0h0m2 0h0m2 0h0m4 0h0m4 0h0m2 0h0m6 0h0m5 0h0m7 0h0m4 0h0m2 0h0m-42 1h0m7 0h0m4 0h0m2 0h0m1 0h0m11 0h0m2 0h0m10 0h0m4 0h0m6 0h0m2 0h0m8 0h0m-59 1h0m9 0h0m9 0h0m4 0h0m2 0h0m6 0h0m4 0h0m1 0h0m2 0h0m10 0h0m-32 1h0m2 0h0m1 0h0m2 0h0m3 0h0m1 0h0m6 0h0m2 0h0m3 0h0m2 0h0m4 0h0m6 0h0m2 0h0m7 0h0m-79 1h0m14 0h0m6 0h0m4 0h0m6 0h0m6 0h0m17 0h0m1 0h0m3 0h0m5 0h0m6 0h0m2 0h0m1 0h0m1 0h0m7 0h0m3 0h0m5 0h0m-75 1h0m21 0h0m5 0h0m7 0h0m1 0h0m12 0h0m3 0h0m1 0h0m1 0h0m-40 1h0m1 0h0m16 0h0m2 0h0m2 0h0m10 0h0m11 0h0m2 0h0m-43 1h0m11 0h0m21 0h0m24 0h0m-59 1h0m10 0h0m7 0h0m6 0h0m3 0h0m4 0h0m3 0h0m1 0h0m15 0h0m-35 1h0m9 0h0m4 0h0m10 0h0m-50 1h0m21 0h0m11 0h0m14 0h0m1 0h0m4 0h0m-30 1h0m17 0h0m1 1h0m8 0h0m14 0h0" stroke="#3048b0" stroke-width="1.1" stroke-linecap="round" fill="none"/>
<path transform="translate(1034.2 1392) scale(1)" d="M65 51h0m2 0h0m3 0h0m1 0h0m-7 1h0m1 0h0m1 0h0m1 0h0m1 0h0m5 0h0m-7 1h0m2 0h0m1 0h0m3 0h0m2 0h0m-9 1h0m1 0h0m1 0h0m4 0h0m1 0h0m1 0h0m-6 1h0m3 0h0m3 0h0m-10 1h0m1 0h0m4 0h0m3 0h0m-9 1h0m2 0h0m1 0h0m4 0h0m1 0h0m1 0h0m-9 1h0m2 0h0m2 0h0m2 0h0m1 0h0m2 0h0m1 0h0m-13 1h0m2 0h0m2 0h0m2 0h0m4 0h0m1 0h0m-11 1h0m1 0h0m2 0h0m2 0h0m1 0h0m2 0h0m1 0h0m2 0h0m-11 1h0m2 0h0m1 0h0m1 0h0m1 0h0m3 0h0m1 0h0m2 0h0m-12 1h0m1 0h0m2 0h0m5 0h0m2 0h0m1 0h0m2 0h0m2 0h0m-12 1h0m1 0h0m1 0h0m1 0h0m1 0h0m2 0h0m1 0h0m1 0h0m1 0h0m1 0h0m-14 1h0m1 0h0m2 0h0m1 0h0m1 0h0m2 0h0m1 0h0m2 0h0m2 0h0m1 0h0m1 0h0m-14 1h0m2 0h0m2 0h0m2 0h0m2 0h0m1 0h0m2 0h0m6 0h0m-17 1h0m1 0h0m1 0h0m3 0h0m2 0h0m2 0h0m2 0h0m1 0h0m1 0h0m1 0h0m1 0h0m-13 1h0m1 0h0m1 0h0m1 0h0m1 0h0m4 0h0m1 0h0m1 0h0m2 0h0m-3 1h0m2 0h0m2 0h0m2 0h0m-15 1h0m1 0h0m7 0h0m5 0h0m1 0h0m-16 1h0m1 0h0m14 0h0m3 0h0m-17 1h0m14 0h0m3 0h0m-16 1h0m12 0h0m2 0h0m2 0h0m1 0h0m1 0h0m-20 1h0m14 0h0m1 0h0m1 0h0m1 0h0m2 0h0m2 0h0m1 0h0m-24 1h0m1 0h0m3 0h0m1 0h0m13 0h0m1 0h0m2 0h0m3 0h0m-21 1h0m1 0h0m12 0h0m4 0h0m1 0h0m2 0h0m-23 1h0m2 0h0m1 0h0m2 0h0m2 0h0m10 0h0m1 0h0m1 0h0m1 0h0m1 0h0m1 0h0m3 0h0m1 0h0m-25 1h0m1 0h0m1 0h0m15 0h0m4 0h0m3 0h0m-24 1h0m1 0h0m2 0h0m2 0h0m2 0h0m10 0h0m4 0h0m3 0h0m1 0h0m-24 1h0m1 0h0m1 0h0m1 0h0m1 0h0m1 0h0m10 0h0m1 0h0m2 0h0m3 0h0m4 0h0m1 0h0m-27 1h0m2 0h0m2 0h0m2 0h0m1 0h0m10 0h0m2 0h0m2 0h0m1 0h0m1 0h0m1 0h0m3 0h0m5 0h0m1 0h0m-33 1h0m1 0h0m1 0h0m2 0h0m2 0h0m10 0h0m2 0h0m1 0h0m3 0h0m1 0h0m4 0h0m1 0h0m1 0h0m1 0h0m2 0h0m1 0h0m-33 1h0m2 0h0m1 0h0m2 0h0m1 0h0m10 0h0m1 0h0m1 0h0m1 0h0m3 0h0m1 0h0m7 0h0m2 0h0m2 0h0m-35 1h0m3 0h0m1 0h0m1 0h0m14 0h0m1 0h0m3 0h0m1 0h0m1 0h0m1 0h0m1 0h0m1 0h0m1 0h0m1 0h0m1 0h0m2 0h0m1 0h0m1 0h0m1 0h0m-36 1h0m17 0h0m1 0h0m5 0h0m1 0h0m1 0h0m1 0h0m1 0h0m1 0h0m1 0h0m1 0h0m3 0h0m3 0h0m-19 1h0m6 0h0m2 0h0m1 0h0m1 0h0m1 0h0m1 0h0m4 0h0m2 0h0m1 0h0m1 0h0m3 0h0m-37 1h0m1 0h0m14 0h0m2 0h0m3 0h0m2 0h0m1 0h0m2 0h0m3 0h0m4 0h0m2 0h0m1 0h0m-39 1h0m1 0h0m1 0h0m1 0h0m1 0h0m18 0h0m2 0h0m1 0h0m1 0h0m4 0h0m1 0h0m2 0h0m3 0h0m2 0h0m1 0h0m-37 1h0m18 0h0m5 0h0m1 0h0m3 0h0m1 0h0m3 0h0m1 0h0m1 0h0m2 0h0m3 0h0m-39 1h0m1 0h0m20 0h0m2 0h0m1 0h0m1 0h0m1 0h0m3 0h0m1 0h0m1 0h0m1 0h0m4 0h0m1 0h0m2 0h0m1 0h0m-42 1h0m3 0h0m20 0h0m1 0h0m2 0h0m2 0h0m1 0h0m1 0h0m1 0h0m2 0h0m3 0h0m1 0h0m2 0h0m2 0h0m-45 1h0m2 0h0m1 0h0m3 0h0m21 0h0m4 0h0m2 0h0m1 0h0m4 0h0m1 0h0m3 0h0m1 0h0m1 0h0m1 0h0m-46 1h0m2 0h0m2 0h0m2 0h0m29 0h0m1 0h0m1 0h0m2 0h0m1 0h0m2 0h0m1 0h0m1 0h0m4 0h0m-48 1h0m2 0h0m1 0h0m1 0h0m3 0h0m25 0h0m2 0h0m2 0h0m2 0h0m-31 1h0m29 0h0m10 0h0m1 0h0m1 0h0m-46 1h0m1 0h0m1 0h0m1 0h0m38 0h0m2 0h0m1 0h0m2 0h0m-46 1h0m43 0h0m1 0h0m3 0h0m-20 1h0m15 0h0m1 0h0m1 0h0m1 0h0m1 0h0m-46 1h0m1 0h0m25 0h0m19 0h0m2 0h0m-47 1h0m1 0h0m24 0h0m1 0h0m1 0h0m16 0h0m1 0h0m1 0h0m1 0h0m-44 1h0m23 0h0m3 0h0m2 0h0m9 0h0m3 0h0m1 0h0m3 0h0m2 0h0m-23 1h0m2 0h0m1 0h0m1 0h0m9 0h0m1 0h0m1 0h0m2 0h0m1 0h0m2 0h0m1 0h0m1 0h0m1 0h0m-50 1h0m1 0h0m1 0h0m1 0h0m1 0h0m23 0h0m1 0h0m1 0h0m1 0h0m1 0h0m2 0h0m2 0h0m5 0h0m1 0h0m2 0h0m1 0h0m2 0h0m1 0h0m3 0h0m-49 1h0m26 0h0m3 0h0m2 0h0m1 0h0m1 0h0m5 0h0m1 0h0m2 0h0m2 0h0m1 0h0m3 0h0m2 0h0m-47 1h0m23 0h0m2 0h0m1 0h0m5 0h0m1 0h0m1 0h0m1 0h0m5 0h0m1 0h0m1 0h0m2 0h0m1 0h0m2 0h0m-46 1h0m1 0h0m23 0h0m1 0h0m1 0h0m1 0h0m1 0h0m1 0h0m1 0h0m3 0h0m6 0h0m2 0h0m3 0h0m2 0h0m1 0h0m-48 1h0m22 0h0m1 0h0m6 0h0m2 0h0m1 0h0m2 0h0m1 0h0m1 0h0m2 0h0m1 0h0m1 0h0m1 0h0m1 0h0m2 0h0m3 0h0m-49 1h0m1 0h0m3 0h0m19 0h0m2 0h0m1 0h0m4 0h0m3 0h0m3 0h0m1 0h0m1 0h0m2 0h0m1 0h0m1 0h0m4 0h0m1 0h0m2 0h0m1 0h0m-49 1h0m1 0h0m2 0h0m1 0h0m1 0h0m19 0h0m1 0h0m6 0h0m1 0h0m6 0h0m2 0h0m1 0h0m3 0h0m1 0h0m1 0h0m1 0h0m-45 1h0m2 0h0m2 0h0m15 0h0m2 0h0m1 0h0m3 0h0m4 0h0m1 0h0m1 0h0m1 0h0m4 0h0m1 0h0m1 0h0m4 0h0m3 0h0m-39 1h0m13 0h0m1 0h0m4 0h0m1 0h0m3 0h0m1 0h0m1 0h0m1 0h0m2 0h0m1 0h0m2 0h0m4 0h0m-36 1h0m1 0h0m1 0h0m1 0h0m1 0h0m4 0h0m6 0h0m3 0h0m5 0h0m2 0h0m2 0h0m2 0h0m2 0h0m-27 1h0m11 0h0m10 0h0m1 0h0m4 0h0m-26 1h0m3 0h0m4 0h0m2 0h0m1 0h0m1 0h0m12 0h0m-17 1h0m2 0h0m2 0h0m-3 1h0m3 0h0m0 1h0" stroke="#2c64c4" stroke-width="1.1" stroke-linecap="round" fill="none"/>
<path transform="translate(1034.2 1392) scale(1)" d="M65 66h0m-2 1h0m1 0h0m1 0h0m-3 1h0m1 0h0m1 0h0m1 0h0m-3 1h0m1 0h0m1 0h0m2 0h0m-5 1h0m1 0h0m1 0h0m2 0h0m1 0h0m1 0h0m1 0h0m1 0h0m-8 1h0m1 0h0m1 0h0m2 0h0m1 0h0m1 0h0m1 0h0m1 0h0m1 0h0m-11 1h0m1 0h0m1 0h0m2 0h0m2 0h0m3 0h0m1 0h0m1 0h0m1 0h0m-11 1h0m1 0h0m2 0h0m1 0h0m1 0h0m1 0h0m1 0h0m3 0h0m-10 1h0m1 0h0m3 0h0m1 0h0m2 0h0m3 0h0m1 0h0m-10 1h0m1 0h0m1 0h0m1 0h0m2 0h0m1 0h0m1 0h0m1 0h0m1 0h0m-8 1h0m3 0h0m1 0h0m1 0h0m1 0h0m1 0h0m1 0h0m1 0h0m-8 1h0m2 0h0m1 0h0m2 0h0m1 0h0m1 0h0m-7 1h0m2 0h0m4 0h0m3 0h0m-8 1h0m1 0h0m1 0h0m1 0h0m3 0h0m1 0h0m1 0h0m-9 1h0m1 0h0m2 0h0m1 0h0m1 0h0m1 0h0m1 0h0m1 0h0m-8 1h0m4 0h0m1 0h0m1 0h0m1 0h0m-9 1h0m2 0h0m1 0h0m1 0h0m1 0h0m4 0h0m2 0h0m-10 1h0m1 0h0m2 0h0m1 0h0m1 0h0m1 0h0m1 0h0m1 0h0m-8 1h0m4 0h0m1 0h0m4 0h0m-11 1h0m2 0h0m1 0h0m3 0h0m2 0h0m1 0h0m1 0h0m-10 1h0m2 0h0m5 0h0m1 0h0m3 0h0m2 0h0m-14 1h0m10 0h0m1 0h0m1 0h0m1 0h0m1 0h0m1 0h0m-7 1h0m1 0h0m1 0h0m1 0h0m2 0h0m2 0h0m-17 1h0m1 0h0m1 0h0m8 0h0m2 0h0m1 0h0m2 0h0m1 0h0m-17 1h0m14 0h0m1 0h0m1 0h0m1 0h0m1 0h0m1 0h0m-19 1h0m1 0h0m1 0h0m9 0h0m4 0h0m2 0h0m4 0h0m1 0h0m-22 1h0m1 0h0m1 0h0m11 0h0m1 0h0m1 0h0m2 0h0m1 0h0m1 0h0m1 0h0m1 0h0m1 0h0m-22 1h0m2 0h0m15 0h0m2 0h0m2 0h0m1 0h0m1 0h0m9 0h0m2 0h0m-35 1h0m1 0h0m1 0h0m15 0h0m1 0h0m2 0h0m1 0h0m1 0h0m1 0h0m1 0h0m1 0h0m1 0h0m2 0h0m4 0h0m2 0h0m-34 1h0m17 0h0m2 0h0m1 0h0m2 0h0m1 0h0m1 0h0m3 0h0m1 0h0m1 0h0m1 0h0m2 0h0m1 0h0m1 0h0m1 0h0m1 0h0m-38 1h0m1 0h0m1 0h0m2 0h0m15 0h0m2 0h0m1 0h0m3 0h0m2 0h0m1 0h0m1 0h0m5 0h0m1 0h0m1 0h0m1 0h0m-36 1h0m1 0h0m17 0h0m1 0h0m2 0h0m2 0h0m2 0h0m1 0h0m1 0h0m1 0h0m1 0h0m2 0h0m1 0h0m1 0h0m1 0h0m1 0h0m1 0h0m1 0h0m-39 1h0m1 0h0m19 0h0m2 0h0m4 0h0m2 0h0m1 0h0m1 0h0m1 0h0m1 0h0m1 0h0m1 0h0m3 0h0m1 0h0m2 0h0m-40 1h0m1 0h0m27 0h0m1 0h0m1 0h0m7 0h0m2 0h0m-39 1h0m2 0h0m18 0h0m2 0h0m7 0h0m1 0h0m2 0h0m1 0h0m1 0h0m2 0h0m2 0h0m-37 1h0m20 0h0m10 0h0m1 0h0m1 0h0m1 0h0m-34 1h0m1 0h0m19 0h0m1 0h0m1 0h0m6 0h0m4 0h0m2 0h0m-34 1h0m1 0h0m18 0h0m1 0h0m1 0h0m1 0h0m12 0h0m-33 1h0m17 0h0m2 0h0m15 0h0m1 0h0m-35 1h0m1 0h0m14 0h0m1 0h0m2 0h0m17 0h0m-35 1h0m1 0h0m1 0h0m13 0h0m2 0h0m1 0h0m15 0h0m1 0h0m1 0h0m-36 1h0m1 0h0m1 0h0m13 0h0m1 0h0m1 0h0m2 0h0m-13 1h0m10 0h0m2 0h0m-16 1h0m1 0h0m1 0h0m1 0h0m1 0h0m2 0h0m2 0h0m1 0h0m3 0h0m1 0h0m1 0h0m-13 1h0m1 0h0m1 0h0m3 0h0m3 0h0m1 0h0m2 0h0m2 0h0m1 0h0m-8 1h0m2 0h0m1 0h0m1 0h0m1 0h0m1 0h0m-2 1h0m1 0h0" stroke="#28a4cc" stroke-width="1.1" stroke-linecap="round" fill="none"/>
<path transform="translate(1034.2 1392) scale(1)" d="M64 84h0m0 1h0m1 0h0m2 0h0m-5 1h0m2 0h0m1 0h0m1 0h0m-5 1h0m1 0h0m1 0h0m1 0h0m1 0h0m1 0h0m1 0h0m-7 1h0m2 0h0m1 0h0m3 0h0m-6 1h0m1 0h0m1 0h0m1 0h0m1 0h0m1 0h0m1 0h0m-6 1h0m1 0h0m1 0h0m1 0h0m2 0h0m1 0h0m-8 1h0m2 0h0m1 0h0m4 0h0m1 0h0m-7 1h0m1 0h0m5 0h0m1 0h0m1 0h0m2 0h0m1 0h0m1 0h0m-12 1h0m8 0h0m1 0h0m1 0h0m1 0h0m1 0h0m1 0h0m-15 1h0m1 0h0m2 0h0m8 0h0m1 0h0m1 0h0m1 0h0m1 0h0m-14 1h0m1 0h0m10 0h0m1 0h0m1 0h0m1 0h0m-2 1h0m1 0h0m1 0h0m-15 1h0m13 0h0m-16 1h0m2 0h0m1 0h0m14 0h0m-17 1h0m1 0h0m15 0h0m2 0h0m-17 1h0m1 0h0m14 0h0m1 0h0m1 0h0m-17 1h0m1 0h0m13 0h0m2 0h0m-17 1h0m15 0h0m1 0h0m1 0h0m-16 1h0m1 0h0m11 0h0m1 0h0m1 0h0m1 0h0m-15 1h0m1 0h0m9 0h0m1 0h0m1 0h0m2 0h0m1 0h0m-16 1h0m1 0h0m1 0h0m11 0h0m-13 1h0m3 0h0m8 0h0m1 0h0m1 0h0m-12 1h0m1 0h0m1 0h0m1 0h0m1 0h0m2 0h0m2 0h0m1 0h0m1 0h0m1 0h0m-8 1h0m2 0h0m2 0h0m1 0h0m1 0h0m2 0h0m-3 1h0m2 0h0m0 1h0" stroke="#30bc8c" stroke-width="1.1" stroke-linecap="round" fill="none"/>
<path transform="translate(1034.2 1392) scale(1)" d="M62 90h0m1 0h0m-2 1h0m1 0h0m2 0h0m-3 1h0m1 0h0m1 0h0m1 0h0m1 0h0m-4 1h0m1 0h0m1 0h0m1 0h0m1 0h0m1 0h0m1 0h0m-7 1h0m1 0h0m3 0h0m1 0h0m1 0h0m-7 1h0m2 0h0m5 0h0m1 0h0m1 0h0m1 0h0m-10 1h0m1 0h0m1 0h0m6 0h0m1 0h0m1 0h0m1 0h0m-12 1h0m1 0h0m9 0h0m-12 1h0m1 0h0m2 0h0m10 0h0m1 0h0m-13 1h0m1 0h0m10 0h0m2 0h0m-14 1h0m1 0h0m11 0h0m1 0h0m1 0h0m-14 1h0m10 0h0m2 0h0m-11 1h0m8 0h0m1 0h0m-10 1h0m1 0h0m1 0h0m-2 1h0m1 0h0m1 0h0m1 0h0m4 0h0m1 0h0m1 0h0m-9 1h0m1 0h0m2 0h0m2 0h0m1 0h0m1 0h0m2 0h0m-8 1h0m1 0h0m1 0h0m1 0h0m1 0h0m1 0h0m1 0h0m1 0h0m-3 1h0m2 0h0" stroke="#70cc40" stroke-width="1.1" stroke-linecap="round" fill="none"/>
<path transform="translate(1034.2 1392) scale(1)" d="M64 94h0m1 0h0m-4 1h0m1 0h0m1 0h0m1 0h0m2 0h0m-5 1h0m1 0h0m1 0h0m1 0h0m1 0h0m2 0h0m-8 1h0m1 0h0m1 0h0m1 0h0m1 0h0m1 0h0m1 0h0m1 0h0m1 0h0m-8 1h0m1 0h0m1 0h0m1 0h0m1 0h0m1 0h0m1 0h0m1 0h0m1 0h0m1 0h0m-10 1h0m2 0h0m5 0h0m1 0h0m1 0h0m1 0h0m-10 1h0m6 0h0m1 0h0m1 0h0m1 0h0m-10 1h0m1 0h0m1 0h0m5 0h0m2 0h0m-9 1h0m3 0h0m1 0h0m1 0h0m1 0h0m1 0h0m1 0h0m1 0h0m-8 1h0m1 0h0m1 0h0m1 0h0m1 0h0m1 0h0m1 0h0m1 0h0m-6 1h0m1 0h0m2 0h0m1 0h0m1 0h0m-3 1h0" stroke="#d0dc20" stroke-width="1.1" stroke-linecap="round" fill="none"/>
<path transform="translate(1034.2 1392) scale(1)" d="M60 98h0m2 0h0m1 0h0m1 0h0m-5 1h0m1 0h0m1 0h0m1 0h0m1 0h0m1 0h0m1 0h0m-6 1h0m1 0h0m1 0h0m1 0h0m1 0h0m1 0h0m1 0h0m-6 1h0m1 0h0m1 0h0m1 0h0m1 0h0m-4 1h0m1 0h0m2 0h0m1 0h0" stroke="#f8a010" stroke-width="1.1" stroke-linecap="round" fill="none"/>
<rect x="1034.2" y="1392" width="128.2" height="128.5" fill="none" stroke="#555" stroke-width="1.1"/>
<path d="M1100.4 1519.3 L1141.1 1427 L1151.3 1427 L1151.3 1519.3Z" fill="none" stroke="#222" stroke-width="1.1"/>
<text x="1157.2" y="1414" font-size="24" text-anchor="end">11.7%</text>
<path d="M1030.7 1520h3.5M1032.2 1515.1h2M1032.2 1510.2h2M1032.2 1505.3h2M1032.2 1500.5h2M1030.7 1495.6h3.5M1032.2 1490.7h2M1032.2 1485.8h2M1032.2 1480.9h2M1032.2 1476h2M1030.7 1471.2h3.5M1032.2 1466.3h2M1032.2 1461.4h2M1032.2 1456.5h2M1032.2 1451.6h2M1030.7 1446.7h3.5M1032.2 1441.9h2M1032.2 1437h2M1032.2 1432.1h2M1032.2 1427.2h2M1030.7 1422.3h3.5M1032.2 1417.4h2M1032.2 1412.6h2M1032.2 1407.7h2M1032.2 1402.8h2M1030.7 1397.9h3.5M1037.2 1520.5v3.5M1044.4 1520.5v2M1048.7 1520.5v2M1051.7 1520.5v2M1054 1520.5v2M1055.9 1520.5v2M1057.5 1520.5v2M1058.9 1520.5v2M1060.1 1520.5v2M1061.2 1520.5v3.5M1068.5 1520.5v2M1072.7 1520.5v2M1075.7 1520.5v2M1078 1520.5v2M1079.9 1520.5v2M1081.6 1520.5v2M1083 1520.5v2M1084.2 1520.5v2M1085.3 1520.5v3.5M1092.5 1520.5v2M1096.7 1520.5v2M1099.8 1520.5v2M1102.1 1520.5v2M1104 1520.5v2M1105.6 1520.5v2M1107 1520.5v2M1108.2 1520.5v2M1109.3 1520.5v3.5M1116.6 1520.5v2M1120.8 1520.5v2M1123.8 1520.5v2M1126.1 1520.5v2M1128 1520.5v2M1129.6 1520.5v2M1131 1520.5v2M1132.3 1520.5v2M1133.4 1520.5v3.5M1140.6 1520.5v2M1144.8 1520.5v2M1147.8 1520.5v2M1150.2 1520.5v2M1152.1 1520.5v2M1153.7 1520.5v2M1155.1 1520.5v2M1156.3 1520.5v2M1157.4 1520.5v3.5" fill="none" stroke="#444" stroke-width="0.9"/>
<text x="1029.7" y="1523.2" font-size="8.8" text-anchor="end" fill="#333">0</text>
<text x="1029.7" y="1498.8" font-size="8.8" text-anchor="end" fill="#333">50K</text>
<text x="1029.7" y="1474.4" font-size="8.8" text-anchor="end" fill="#333">100K</text>
<text x="1029.7" y="1449.9" font-size="8.8" text-anchor="end" fill="#333">150K</text>
<text x="1029.7" y="1425.5" font-size="8.8" text-anchor="end" fill="#333">200K</text>
<text x="1029.7" y="1401.1" font-size="8.8" text-anchor="end" fill="#333">250K</text>
<path transform="translate(1173 1392) scale(1)" d="M65 16h0m12 5h0m13 2h0m-30 1h0m19 2h0m-22 1h0m4 2h0m-8 1h0m15 0h0m-13 2h0m3 0h0m2 0h0m1 0h0m15 0h0m-34 1h0m17 0h0m4 0h0m4 0h0m4 0h0m1 0h0m2 0h0m-16 1h0m21 0h0m-33 1h0m17 0h0m3 0h0m4 0h0m-21 1h0m12 0h0m3 0h0m5 0h0m-6 1h0m-6 1h0m4 0h0m18 0h0m-42 1h0m8 0h0m3 0h0m5 0h0m11 0h0m24 0h0m-41 1h0m1 0h0m15 0h0m2 0h0m5 0h0m7 0h0m-22 1h0m4 0h0m3 0h0m3 0h0m1 0h0m-26 1h0m7 0h0m12 0h0m13 0h0m6 0h0m1 0h0m-33 1h0m11 0h0m1 0h0m19 0h0m1 0h0m-36 1h0m11 0h0m2 0h0m2 0h0m5 0h0m5 0h0m2 0h0m6 0h0m17 0h0m-45 1h0m18 0h0m2 0h0m1 0h0m2 0h0m3 0h0m20 0h0m-50 1h0m20 0h0m1 0h0m6 0h0m2 0h0m12 0h0m-35 1h0m4 0h0m5 0h0m12 0h0m2 0h0m9 0h0m-31 1h0m4 0h0m4 0h0m11 0h0m4 0h0m1 0h0m5 0h0m5 0h0m-39 1h0m7 0h0m20 0h0m-25 1h0m25 0h0m3 0h0m24 0h0m-55 1h0m8 0h0m1 0h0m26 0h0m6 0h0m1 1h0m4 0h0m1 0h0m1 0h0m-46 1h0m1 0h0m30 0h0m1 0h0m1 0h0m-29 1h0m27 0h0m1 0h0m2 0h0m9 0h0m-68 1h0m18 1h0m8 0h0m1 0h0m38 0h0m11 0h0m-49 1h0m32 0h0m14 0h0m2 0h0m-49 1h0m31 0h0m7 0h0m10 0h0m13 0h0m-75 1h0m1 0h0m5 0h0m4 0h0m35 0h0m6 0h0m7 0h0m1 0h0m2 0h0m8 0h0m-83 1h0m67 0h0m1 0h0m1 0h0m5 0h0m10 0h0m-57 1h0m33 0h0m6 0h0m5 0h0m3 0h0m-54 1h0m7 0h0m35 0h0m6 0h0m8 0h0m2 0h0m10 0h0m-68 1h0m42 0h0m6 0h0m1 0h0m-42 1h0m1 0h0m52 0h0m-52 1h0m39 0h0m1 0h0m11 0h0m1 0h0m-67 1h0m16 0h0m39 0h0m4 0h0m1 0h0m5 0h0m-56 1h0m46 0h0m12 0h0m1 0h0m-57 1h0m45 0h0m1 0h0m9 0h0m-51 1h0m2 0h0m39 0h0m6 0h0m2 0h0m1 0h0m-55 1h0m9 0h0m39 0h0m5 0h0m8 0h0m-98 1h0m41 0h0m2 0h0m1 0h0m-18 1h0m7 0h0m3 0h0m3 0h0m52 0h0m-58 1h0m6 0h0m1 0h0m1 0h0m1 0h0m45 0h0m-1 1h0m3 0h0m2 0h0m14 0h0m3 0h0m-70 1h0m1 0h0m2 0h0m1 0h0m2 0h0m46 0h0m5 0h0m-64 1h0m5 0h0m49 0h0m5 0h0m2 0h0m5 0h0m-55 1h0m2 0h0m42 0h0m5 0h0m-53 1h0m52 0h0m-50 1h0m3 0h0m-19 1h0m11 0h0m1 0h0m56 0h0m3 0h0m1 0h0m8 0h0m2 0h0m-76 1h0m7 0h0m5 0h0m53 0h0m4 0h0m1 0h0m-76 1h0m16 0h0m3 0h0m52 0h0m6 0h0m2 0h0m-72 1h0m7 0h0m2 0h0m1 0h0m59 0h0m1 0h0m-60 1h0m59 0h0m-64 1h0m6 0h0m1 0h0m55 0h0m-68 1h0m1 0h0m5 0h0m2 0h0m60 0h0m7 0h0m-68 1h0m5 0h0m62 0h0m2 0h0m-72 1h0m9 0h0m58 0h0m11 0h0m-89 1h0m13 0h0m2 0h0m64 0h0m-60 1h0m-29 1h0m20 0h0m2 0h0m2 0h0m62 0h0m-74 1h0m10 0h0m1 0h0m6 0h0m1 1h0m68 0h0m-7 1h0m-75 1h0m9 0h0m3 0h0m55 0h0m3 0h0m1 0h0m6 0h0m-67 1h0m4 0h0m54 0h0m-62 1h0m5 0h0m57 0h0m-1 1h0m-61 1h0m65 0h0m7 0h0m-85 1h0m12 0h0m7 0h0m57 0h0m1 0h0m-73 1h0m15 0h0m55 0h0m4 0h0m4 0h0m5 0h0m-77 1h0m6 0h0m1 0h0m58 0h0m12 0h0m-70 1h0m56 0h0m5 0h0m2 0h0m-67 1h0m6 0h0m2 0h0m1 2h0m51 0h0m0 1h0m19 0h0m-91 1h0m22 0h0m52 0h0m8 0h0m-75 1h0m11 0h0m5 0h0m46 0h0m2 0h0m2 0h0m-60 1h0m4 0h0m1 0h0m4 0h0m2 0h0m49 0h0m5 0h0m14 0h0m-82 1h0m58 0h0m1 0h0m-62 1h0m2 0h0m13 0h0m1 0h0m4 0h0m26 0h0m1 0h0m25 0h0m-81 1h0m21 0h0m5 0h0m33 0h0m12 0h0m1 0h0m5 0h0m-71 1h0m18 0h0m33 0h0m19 0h0m-53 1h0m6 0h0m6 0h0m24 0h0m2 0h0m2 0h0m9 0h0m5 0h0m-59 1h0m12 0h0m2 0h0m23 0h0m10 0h0m3 0h0m8 0h0m1 0h0m-48 1h0m3 0h0m4 0h0m10 0h0m7 0h0m1 0h0m1 0h0m4 0h0m6 0h0m2 0h0m1 0h0m3 0h0m6 0h0m-72 1h0m10 0h0m14 0h0m7 0h0m7 0h0m1 0h0m1 0h0m1 0h0m1 0h0m4 0h0m1 0h0m7 0h0m1 0h0m1 0h0m1 0h0m6 0h0m3 0h0m1 0h0m-42 1h0m1 0h0m3 0h0m7 0h0m3 0h0m7 0h0m11 0h0m1 0h0m10 0h0m-45 1h0m3 0h0m9 0h0m17 0h0m10 0h0m3 0h0m8 0h0m1 0h0m-47 1h0m8 0h0m3 0h0m2 0h0m22 0h0m2 0h0m4 0h0m6 0h0m-63 1h0m2 0h0m24 0h0m6 0h0m19 0h0m3 0h0m5 0h0m12 0h0m-73 1h0m34 0h0m5 0h0m4 0h0m3 0h0m5 0h0m7 0h0m22 0h0m-81 1h0m23 0h0m2 0h0m2 0h0m18 0h0m8 0h0m5 0h0m-27 1h0m8 0h0m3 0h0m4 0h0m3 0h0m2 0h0m2 0h0m5 0h0m3 0h0m-55 1h0m1 0h0m12 0h0m7 0h0m12 0h0m10 0h0m-16 1h0" stroke="#3048b0" stroke-width="1.1" stroke-linecap="round" fill="none"/>
<path transform="translate(1173 1392) scale(1)" d="M66 46h0m-1 1h0m1 0h0m-5 1h0m1 0h0m4 0h0m-5 1h0m1 0h0m2 0h0m2 0h0m-12 1h0m1 0h0m2 0h0m1 0h0m3 0h0m1 0h0m1 0h0m1 0h0m2 0h0m6 0h0m-19 1h0m4 0h0m1 0h0m1 0h0m9 0h0m1 0h0m1 0h0m2 0h0m-21 1h0m2 0h0m7 0h0m4 0h0m1 0h0m6 0h0m1 0h0m1 0h0m-19 1h0m3 0h0m1 0h0m2 0h0m4 0h0m1 0h0m1 0h0m1 0h0m2 0h0m-17 1h0m4 0h0m1 0h0m1 0h0m3 0h0m3 0h0m1 0h0m3 0h0m1 0h0m4 0h0m2 0h0m-25 1h0m2 0h0m1 0h0m1 0h0m1 0h0m4 0h0m4 0h0m6 0h0m3 0h0m2 0h0m2 0h0m-26 1h0m3 0h0m3 0h0m2 0h0m3 0h0m7 0h0m4 0h0m1 0h0m2 0h0m-23 1h0m3 0h0m2 0h0m1 0h0m10 0h0m3 0h0m2 0h0m3 0h0m-26 1h0m7 0h0m1 0h0m8 0h0m1 0h0m1 0h0m1 0h0m2 0h0m3 0h0m1 0h0m-21 1h0m22 0h0m-29 1h0m2 0h0m1 0h0m1 0h0m1 0h0m4 0h0m2 0h0m10 0h0m1 0h0m3 0h0m1 0h0m1 0h0m-26 1h0m3 0h0m2 0h0m5 0h0m9 0h0m1 0h0m1 0h0m5 0h0m3 0h0m8 0h0m-37 1h0m2 0h0m2 0h0m5 0h0m14 0h0m2 0h0m2 0h0m2 0h0m5 0h0m2 0h0m-32 1h0m1 0h0m1 0h0m19 0h0m1 0h0m5 0h0m-30 1h0m1 0h0m1 0h0m2 0h0m2 0h0m20 0h0m4 0h0m4 0h0m1 0h0m2 0h0m-37 1h0m2 0h0m4 0h0m1 0h0m19 0h0m2 0h0m1 0h0m2 0h0m2 0h0m-32 1h0m3 0h0m1 0h0m24 0h0m-25 1h0m2 0h0m25 0h0m2 0h0m-31 1h0m4 0h0m24 0h0m2 0h0m2 0h0m-29 1h0m2 0h0m24 0h0m1 0h0m1 0h0m3 0h0m2 0h0m-35 1h0m4 0h0m25 0h0m2 0h0m1 0h0m1 0h0m1 0h0m-36 1h0m1 0h0m4 0h0m1 0h0m2 0h0m1 0h0m20 0h0m1 0h0m2 0h0m6 0h0m1 0h0m-36 1h0m2 0h0m1 0h0m1 0h0m2 0h0m20 0h0m2 0h0m2 0h0m2 0h0m1 0h0m-36 1h0m3 0h0m2 0h0m1 0h0m20 0h0m1 0h0m1 0h0m1 0h0m1 0h0m1 0h0m1 0h0m3 0h0m1 0h0m2 0h0m-36 1h0m3 0h0m2 0h0m23 0h0m4 0h0m2 0h0m1 0h0m-37 1h0m5 0h0m1 0h0m5 0h0m17 0h0m1 0h0m1 0h0m3 0h0m1 0h0m5 0h0m-37 1h0m3 0h0m1 0h0m1 0h0m1 0h0m2 0h0m17 0h0m6 0h0m2 0h0m2 0h0m1 0h0m-36 1h0m1 0h0m25 0h0m9 0h0m5 0h0m-39 1h0m3 0h0m22 0h0m1 0h0m1 0h0m3 0h0m4 0h0m6 0h0m-43 1h0m4 0h0m26 0h0m10 0h0m3 0h0m-41 1h0m29 0h0m7 0h0m2 0h0m4 0h0m-46 1h0m1 0h0m1 0h0m2 0h0m38 0h0m2 0h0m1 0h0m1 0h0m1 0h0m-44 1h0m49 0h0m-50 1h0m1 0h0m1 0h0m43 0h0m1 0h0m5 0h0m-50 1h0m1 0h0m1 0h0m2 0h0m40 0h0m4 0h0m-49 1h0m43 0h0m3 0h0m1 0h0m6 0h0m-51 1h0m1 0h0m2 0h0m39 0h0m7 0h0m1 0h0m-52 1h0m1 0h0m4 0h0m1 0h0m36 0h0m4 0h0m1 0h0m2 0h0m2 0h0m1 0h0m-51 1h0m1 0h0m1 0h0m2 0h0m36 0h0m1 0h0m4 0h0m2 0h0m1 0h0m2 0h0m1 0h0m-48 1h0m39 0h0m3 0h0m3 0h0m2 0h0m1 0h0m1 0h0m-53 1h0m4 0h0m4 0h0m35 0h0m1 0h0m3 0h0m3 0h0m1 0h0m2 0h0m-54 1h0m2 0h0m42 0h0m1 0h0m4 0h0m1 0h0m1 0h0m2 0h0m-47 1h0m1 0h0m35 0h0m6 0h0m2 0h0m2 0h0m-50 1h0m2 0h0m44 0h0m2 0h0m1 0h0m-50 1h0m4 0h0m42 0h0m2 0h0m2 0h0m-51 1h0m0 1h0m1 0h0m48 0h0m1 0h0m2 0h0m-52 1h0m1 0h0m1 0h0m1 0h0m46 0h0m1 0h0m-51 1h0m2 0h0m1 0h0m46 0h0m2 0h0m-51 1h0m2 0h0m1 0h0m48 0h0m-50 1h0m47 0h0m-47 1h0m2 0h0m45 0h0m2 0h0m-50 1h0m1 0h0m46 0h0m-45 1h0m1 0h0m35 0h0m11 0h0m1 0h0m-47 1h0m1 0h0m33 0h0m11 0h0m1 0h0m1 0h0m1 0h0m-47 1h0m44 0h0m1 0h0m2 0h0m-47 1h0m32 0h0m9 0h0m1 0h0m1 0h0m1 0h0m2 0h0m-45 1h0m1 0h0m27 0h0m10 0h0m6 0h0m2 0h0m-20 1h0m4 0h0m1 0h0m8 0h0m2 0h0m-39 1h0m1 0h0m22 0h0m6 0h0m1 0h0m7 0h0m-38 1h0m2 0h0m22 0h0m4 0h0m3 0h0m1 0h0m3 0h0m1 0h0m-35 1h0m1 0h0m1 0h0m21 0h0m5 0h0m1 0h0m2 0h0m1 0h0m2 0h0m2 0h0m1 0h0m2 0h0m-38 1h0m3 0h0m18 0h0m7 0h0m5 0h0m2 0h0m3 0h0m-35 1h0m1 0h0m11 0h0m2 0h0m1 0h0m2 0h0m15 0h0m1 0h0m1 0h0m1 0h0m-33 1h0m1 0h0m7 0h0m4 0h0m3 0h0m1 0h0m13 0h0m3 0h0m1 0h0m-31 1h0m1 0h0m3 0h0m8 0h0m16 0h0m-27 1h0m2 0h0m1 0h0m3 0h0m7 0h0m1 0h0m-14 1h0m1 0h0m1 0h0m1 0h0" stroke="#2c64c4" stroke-width="1.1" stroke-linecap="round" fill="none"/>
<path transform="translate(1173 1392) scale(1)" d="M66 54h0m1 0h0m-6 1h0m1 0h0m1 0h0m-2 1h0m1 0h0m1 0h0m1 0h0m1 0h0m1 0h0m1 0h0m-6 1h0m2 0h0m1 0h0m1 0h0m1 0h0m-6 1h0m1 0h0m2 0h0m1 0h0m-4 1h0m1 0h0m1 0h0m3 0h0m-5 1h0m1 0h0m3 0h0m1 0h0m-3 1h0m1 0h0m1 0h0m1 0h0m-7 1h0m1 0h0m1 0h0m1 0h0m1 0h0m1 0h0m2 0h0m2 0h0m1 0h0m-9 1h0m1 0h0m1 0h0m1 0h0m1 0h0m2 0h0m1 0h0m2 0h0m1 0h0m1 0h0m3 0h0m1 0h0m-15 1h0m2 0h0m1 0h0m1 0h0m3 0h0m3 0h0m1 0h0m2 0h0m-15 1h0m2 0h0m3 0h0m1 0h0m2 0h0m1 0h0m2 0h0m1 0h0m1 0h0m1 0h0m1 0h0m2 0h0m1 0h0m-18 1h0m1 0h0m1 0h0m1 0h0m1 0h0m5 0h0m3 0h0m1 0h0m2 0h0m2 0h0m-17 1h0m2 0h0m1 0h0m1 0h0m6 0h0m1 0h0m1 0h0m1 0h0m1 0h0m1 0h0m1 0h0m1 0h0m3 0h0m1 0h0m-20 1h0m1 0h0m1 0h0m2 0h0m1 0h0m2 0h0m1 0h0m3 0h0m2 0h0m1 0h0m2 0h0m2 0h0m1 0h0m-17 1h0m4 0h0m1 0h0m1 0h0m1 0h0m2 0h0m3 0h0m1 0h0m1 0h0m1 0h0m1 0h0m1 0h0m-19 1h0m2 0h0m4 0h0m2 0h0m2 0h0m1 0h0m4 0h0m1 0h0m1 0h0m3 0h0m-20 1h0m3 0h0m1 0h0m1 0h0m2 0h0m1 0h0m1 0h0m1 0h0m1 0h0m1 0h0m1 0h0m4 0h0m3 0h0m-18 1h0m1 0h0m1 0h0m1 0h0m1 0h0m5 0h0m5 0h0m-11 1h0m4 0h0m1 0h0m2 0h0m2 0h0m1 0h0m2 0h0m-13 1h0m1 0h0m5 0h0m4 0h0m3 0h0m1 0h0m-15 1h0m6 0h0m1 0h0m1 0h0m1 0h0m1 0h0m2 0h0m1 0h0m1 0h0m-13 1h0m2 0h0m2 0h0m1 0h0m1 0h0m2 0h0m1 0h0m2 0h0m1 0h0m2 0h0m9 0h0m1 0h0m-26 1h0m1 0h0m2 0h0m3 0h0m3 0h0m1 0h0m1 0h0m3 0h0m1 0h0m1 0h0m9 0h0m1 0h0m-28 1h0m1 0h0m2 0h0m1 0h0m1 0h0m1 0h0m1 0h0m1 0h0m3 0h0m2 0h0m1 0h0m1 0h0m1 0h0m3 0h0m9 0h0m1 0h0m-29 1h0m2 0h0m2 0h0m3 0h0m2 0h0m1 0h0m3 0h0m2 0h0m1 0h0m1 0h0m7 0h0m2 0h0m1 0h0m-30 1h0m1 0h0m1 0h0m7 0h0m1 0h0m1 0h0m1 0h0m2 0h0m4 0h0m1 0h0m1 0h0m1 0h0m5 0h0m3 0h0m1 0h0m1 0h0m-31 1h0m1 0h0m9 0h0m3 0h0m2 0h0m2 0h0m2 0h0m1 0h0m1 0h0m3 0h0m4 0h0m1 0h0m1 0h0m5 0h0m-33 1h0m1 0h0m6 0h0m1 0h0m1 0h0m2 0h0m1 0h0m2 0h0m1 0h0m1 0h0m5 0h0m1 0h0m2 0h0m1 0h0m1 0h0m1 0h0m4 0h0m1 0h0m1 0h0m2 0h0m-36 1h0m3 0h0m3 0h0m2 0h0m1 0h0m1 0h0m1 0h0m4 0h0m1 0h0m1 0h0m2 0h0m2 0h0m3 0h0m1 0h0m1 0h0m1 0h0m1 0h0m3 0h0m1 0h0m2 0h0m2 0h0m1 0h0m-37 1h0m1 0h0m3 0h0m1 0h0m1 0h0m2 0h0m1 0h0m2 0h0m1 0h0m2 0h0m2 0h0m1 0h0m3 0h0m7 0h0m3 0h0m1 0h0m2 0h0m1 0h0m3 0h0m-36 1h0m1 0h0m1 0h0m1 0h0m3 0h0m1 0h0m1 0h0m1 0h0m3 0h0m1 0h0m2 0h0m3 0h0m4 0h0m1 0h0m2 0h0m1 0h0m2 0h0m4 0h0m1 0h0m1 0h0m-34 1h0m2 0h0m1 0h0m1 0h0m2 0h0m5 0h0m1 0h0m7 0h0m2 0h0m1 0h0m7 0h0m3 0h0m1 0h0m-32 1h0m2 0h0m2 0h0m4 0h0m1 0h0m1 0h0m18 0h0m2 0h0m1 0h0m-32 1h0m1 0h0m3 0h0m1 0h0m1 0h0m2 0h0m1 0h0m22 0h0m2 0h0m-29 1h0m1 0h0m1 0h0m1 0h0m2 0h0m1 0h0m21 0h0m1 0h0m1 0h0m2 0h0m-34 1h0m2 0h0m1 0h0m1 0h0m5 0h0m23 0h0m1 0h0m1 0h0m-35 1h0m1 0h0m4 0h0m1 0h0m3 0h0m23 0h0m1 0h0m3 0h0m-36 1h0m1 0h0m1 0h0m2 0h0m1 0h0m1 0h0m1 0h0m26 0h0m4 0h0m-37 1h0m1 0h0m30 0h0m2 0h0m3 0h0m1 0h0m1 0h0m-40 1h0m2 0h0m24 0h0m12 0h0m3 0h0m-42 1h0m3 0h0m21 0h0m2 0h0m1 0h0m3 0h0m4 0h0m1 0h0m1 0h0m3 0h0m2 0h0m-17 1h0m1 0h0m1 0h0m3 0h0m5 0h0m4 0h0m3 0h0m1 0h0m1 0h0m-45 1h0m2 0h0m24 0h0m4 0h0m1 0h0m2 0h0m2 0h0m1 0h0m2 0h0m1 0h0m1 0h0m4 0h0m1 0h0m-46 1h0m27 0h0m4 0h0m2 0h0m1 0h0m2 0h0m1 0h0m2 0h0m1 0h0m2 0h0m1 0h0m1 0h0m2 0h0m-18 1h0m1 0h0m1 0h0m1 0h0m2 0h0m3 0h0m2 0h0m2 0h0m4 0h0m-42 1h0m25 0h0m1 0h0m1 0h0m2 0h0m1 0h0m2 0h0m1 0h0m1 0h0m1 0h0m2 0h0m1 0h0m2 0h0m2 0h0m-42 1h0m25 0h0m2 0h0m3 0h0m1 0h0m7 0h0m2 0h0m1 0h0m-16 1h0m2 0h0m3 0h0m1 0h0m3 0h0m1 0h0m1 0h0m1 0h0m1 0h0m-13 1h0m1 0h0m1 0h0m3 0h0m1 0h0m1 0h0m4 0h0m1 0h0m2 0h0m-39 1h0m26 0h0m1 0h0m4 0h0m4 0h0m1 0h0m1 0h0m1 0h0m2 0h0m2 0h0m-40 1h0m25 0h0m1 0h0m1 0h0m3 0h0m4 0h0m1 0h0m3 0h0m-37 1h0m23 0h0m1 0h0m1 0h0m1 0h0m2 0h0m2 0h0m1 0h0m2 0h0m3 0h0m1 0h0m-15 1h0m7 0h0m3 0h0m1 0h0m-33 1h0m21 0h0m8 0h0m1 0h0m1 0h0m1 0h0m1 0h0m2 0h0m-34 1h0m20 0h0m1 0h0m11 0h0m1 0h0m-29 1h0m8 0h0m1 0h0m5 0h0m1 0h0m1 0h0m11 0h0m1 0h0m-28 1h0m1 0h0m6 0h0m2 0h0m3 0h0m1 0h0m1 0h0m1 0h0m-15 1h0m1 0h0m2 0h0m3 0h0m1 0h0m4 0h0m1 0h0m2 0h0m1 0h0m-13 1h0m1 0h0m2 0h0m1 0h0m2 0h0m-4 1h0m2 0h0m1 0h0m1 0h0m-3 1h0" stroke="#28a4cc" stroke-width="1.1" stroke-linecap="round" fill="none"/>
<path transform="translate(1173 1392) scale(1)" d="M64 72h0m1 0h0m-1 1h0m-1 1h0m1 0h0m2 0h0m1 0h0m-4 1h0m1 0h0m2 0h0m0 1h0m-2 1h0m1 0h0m-7 2h0m1 0h0m1 0h0m1 0h0m-3 1h0m1 0h0m2 0h0m1 0h0m-4 1h0m2 0h0m1 0h0m1 0h0m-3 1h0m3 0h0m-1 1h0m12 2h0m1 0h0m6 0h0m1 0h0m2 0h0m-14 1h0m1 0h0m1 0h0m1 0h0m1 0h0m1 0h0m4 0h0m1 0h0m3 0h0m1 0h0m1 0h0m1 0h0m-15 1h0m1 0h0m2 0h0m1 0h0m3 0h0m5 0h0m2 0h0m2 0h0m-17 1h0m1 0h0m2 0h0m1 0h0m1 0h0m1 0h0m1 0h0m2 0h0m1 0h0m1 0h0m3 0h0m2 0h0m1 0h0m1 0h0m-19 1h0m1 0h0m2 0h0m1 0h0m4 0h0m1 0h0m2 0h0m1 0h0m1 0h0m1 0h0m1 0h0m2 0h0m2 0h0m-20 1h0m1 0h0m2 0h0m1 0h0m1 0h0m1 0h0m3 0h0m1 0h0m4 0h0m2 0h0m1 0h0m1 0h0m1 0h0m1 0h0m-21 1h0m1 0h0m3 0h0m1 0h0m6 0h0m1 0h0m1 0h0m1 0h0m1 0h0m2 0h0m1 0h0m1 0h0m1 0h0m1 0h0m-28 1h0m3 0h0m2 0h0m5 0h0m2 0h0m5 0h0m1 0h0m2 0h0m1 0h0m1 0h0m2 0h0m1 0h0m2 0h0m1 0h0m-27 1h0m2 0h0m1 0h0m1 0h0m2 0h0m10 0h0m2 0h0m1 0h0m1 0h0m2 0h0m1 0h0m1 0h0m1 0h0m1 0h0m1 0h0m1 0h0m-31 1h0m1 0h0m1 0h0m2 0h0m14 0h0m1 0h0m2 0h0m4 0h0m3 0h0m1 0h0m1 0h0m1 0h0m-31 1h0m2 0h0m1 0h0m15 0h0m1 0h0m1 0h0m1 0h0m1 0h0m6 0h0m1 0h0m-31 1h0m4 0h0m1 0h0m-5 1h0m1 0h0m2 0h0m18 0h0m1 0h0m-24 1h0m3 0h0m-2 1h0m1 0h0m20 0h0m1 0h0m-23 1h0m1 0h0m22 0h0m1 0h0m-23 1h0m19 0h0m2 0h0m2 0h0m1 0h0m-4 1h0m1 0h0m1 0h0m1 0h0m1 0h0m-22 1h0m17 0h0m2 0h0m1 0h0m1 0h0m-23 1h0m16 0h0m4 0h0m1 0h0m1 0h0m1 0h0m-21 1h0m16 0h0m5 0h0m-20 1h0m17 0h0m2 0h0m1 0h0m-18 1h0m15 0h0m1 0h0m-18 1h0m2 0h0m10 0h0m1 0h0m2 0h0m1 0h0m2 0h0m1 0h0m-17 1h0m4 0h0m3 0h0m2 0h0m1 0h0m1 0h0m1 0h0m2 0h0m1 0h0m2 0h0m-15 1h0m3 0h0m4 0h0m5 0h0m1 0h0m-8 1h0m2 0h0m-1 1h0" stroke="#30bc8c" stroke-width="1.1" stroke-linecap="round" fill="none"/>
<path transform="translate(1173 1392) scale(1)" d="M74 88h0m1 0h0m-1 1h0m1 0h0m-3 1h0m3 0h0m1 0h0m-5 1h0m1 0h0m1 0h0m1 0h0m1 0h0m1 0h0m-9 1h0m1 0h0m2 0h0m1 0h0m2 0h0m1 0h0m-7 1h0m1 0h0m1 0h0m4 0h0m1 0h0m-11 1h0m1 0h0m3 0h0m1 0h0m1 0h0m1 0h0m1 0h0m1 0h0m1 0h0m1 0h0m-13 1h0m1 0h0m2 0h0m1 0h0m1 0h0m1 0h0m2 0h0m1 0h0m3 0h0m1 0h0m-13 1h0m2 0h0m7 0h0m1 0h0m1 0h0m2 0h0m1 0h0m-17 1h0m2 0h0m1 0h0m8 0h0m1 0h0m3 0h0m1 0h0m1 0h0m-19 1h0m1 0h0m1 0h0m1 0h0m1 0h0m10 0h0m1 0h0m1 0h0m1 0h0m1 0h0m-18 1h0m1 0h0m2 0h0m1 0h0m11 0h0m3 0h0m-19 1h0m1 0h0m2 0h0m12 0h0m1 0h0m-16 1h0m1 0h0m1 0h0m1 0h0m12 0h0m1 0h0m1 0h0m1 0h0m-18 1h0m1 0h0m13 0h0m1 0h0m-1 1h0m2 0h0m-14 1h0m10 0h0m1 0h0m1 0h0m2 0h0m1 0h0m-16 1h0m1 0h0m1 0h0m10 0h0m1 0h0m1 0h0m1 0h0m1 0h0m2 0h0m-17 1h0m1 0h0m8 0h0m1 0h0m1 0h0m1 0h0m1 0h0m2 0h0m1 0h0m1 0h0m-16 1h0m2 0h0m8 0h0m3 0h0m1 0h0m1 0h0m1 0h0m-13 1h0m1 0h0m4 0h0m6 0h0m1 0h0m-12 1h0m2 0h0m1 0h0m1 0h0m1 0h0m1 0h0m-4 1h0m1 0h0m1 0h0m1 0h0" stroke="#70cc40" stroke-width="1.1" stroke-linecap="round" fill="none"/>
<path transform="translate(1173 1392) scale(1)" d="M66 95h0m1 0h0m-4 1h0m1 0h0m1 0h0m1 0h0m1 0h0m1 0h0m-7 1h0m1 0h0m2 0h0m1 0h0m1 0h0m-5 1h0m1 0h0m1 0h0m1 0h0m3 0h0m2 0h0m1 0h0m-9 1h0m1 0h0m1 0h0m5 0h0m1 0h0m-11 1h0m1 0h0m3 0h0m1 0h0m1 0h0m4 0h0m-11 1h0m1 0h0m1 0h0m1 0h0m2 0h0m2 0h0m2 0h0m1 0h0m1 0h0m1 0h0m-12 1h0m1 0h0m1 0h0m2 0h0m1 0h0m1 0h0m4 0h0m-9 1h0m1 0h0m1 0h0m1 0h0m1 0h0m3 0h0m-7 1h0m1 0h0m1 0h0m5 0h0m1 0h0m1 0h0m1 0h0m-10 1h0m1 0h0m7 0h0m-6 1h0m1 0h0m4 0h0m-6 1h0m3 0h0m2 0h0m1 0h0m1 0h0m-5 1h0m2 0h0m1 0h0m2 0h0" stroke="#d0dc20" stroke-width="1.1" stroke-linecap="round" fill="none"/>
<path transform="translate(1173 1392) scale(1)" d="M64 97h0m2 0h0m-2 1h0m1 0h0m1 0h0m1 0h0m-3 1h0m2 0h0m1 0h0m1 0h0m-4 1h0m1 0h0m1 0h0m1 0h0m-2 1h0m1 0h0m1 0h0m-2 1h0m1 0h0m-6 1h0m2 0h0m1 0h0m1 0h0m1 0h0m-5 1h0m1 0h0m1 0h0m1 0h0m1 0h0m1 0h0m-5 1h0m1 0h0m1 0h0m1 0h0m1 0h0m1 0h0m-4 1h0m1 0h0m1 0h0m-1 1h0m2 0h0" stroke="#f8a010" stroke-width="1.1" stroke-linecap="round" fill="none"/>
<rect x="1173" y="1392" width="128.6" height="128.5" fill="none" stroke="#555" stroke-width="1.1"/>
<path d="M1239.3 1519.3 L1280.7 1427 L1290.2 1427 L1289.7 1519.3Z" fill="none" stroke="#222" stroke-width="1.1"/>
<text x="1295.5" y="1414" font-size="24" text-anchor="end">22.0%</text>
<path d="M1169.5 1520h3.5M1171 1515.1h2M1171 1510.2h2M1171 1505.3h2M1171 1500.5h2M1169.5 1495.6h3.5M1171 1490.7h2M1171 1485.8h2M1171 1480.9h2M1171 1476h2M1169.5 1471.2h3.5M1171 1466.3h2M1171 1461.4h2M1171 1456.5h2M1171 1451.6h2M1169.5 1446.7h3.5M1171 1441.9h2M1171 1437h2M1171 1432.1h2M1171 1427.2h2M1169.5 1422.3h3.5M1171 1417.4h2M1171 1412.6h2M1171 1407.7h2M1171 1402.8h2M1169.5 1397.9h3.5M1176 1520.5v3.5M1183.3 1520.5v2M1187.5 1520.5v2M1190.5 1520.5v2M1192.9 1520.5v2M1194.8 1520.5v2M1196.4 1520.5v2M1197.8 1520.5v2M1199 1520.5v2M1200.1 1520.5v3.5M1207.4 1520.5v2M1211.6 1520.5v2M1214.6 1520.5v2M1217 1520.5v2M1218.9 1520.5v2M1220.5 1520.5v2M1221.9 1520.5v2M1223.1 1520.5v2M1224.2 1520.5v3.5M1231.5 1520.5v2M1235.7 1520.5v2M1238.8 1520.5v2M1241.1 1520.5v2M1243 1520.5v2M1244.6 1520.5v2M1246 1520.5v2M1247.3 1520.5v2M1248.4 1520.5v3.5M1255.6 1520.5v2M1259.9 1520.5v2M1262.9 1520.5v2M1265.2 1520.5v2M1267.1 1520.5v2M1268.7 1520.5v2M1270.1 1520.5v2M1271.4 1520.5v2M1272.5 1520.5v3.5M1279.7 1520.5v2M1284 1520.5v2M1287 1520.5v2M1289.3 1520.5v2M1291.2 1520.5v2M1292.9 1520.5v2M1294.3 1520.5v2M1295.5 1520.5v2M1296.6 1520.5v3.5" fill="none" stroke="#444" stroke-width="0.9"/>
<path transform="translate(1034.2 1529.5) scale(1)" d="M70 12h0m-7 2h0m-5 1h0m2 6h0m4 0h0m4 0h0m2 1h0m2 0h0m-7 1h0m-10 1h0m15 0h0m-11 1h0m3 1h0m-6 1h0m11 0h0m1 0h0m1 0h0m4 0h0m-12 1h0m10 0h0m-25 1h0m20 0h0m1 0h0m-12 1h0m4 0h0m5 0h0m1 0h0m-8 1h0m9 0h0m-11 1h0m3 0h0m20 0h0m6 0h0m-41 2h0m11 0h0m3 0h0m6 0h0m1 0h0m7 0h0m-20 1h0m10 0h0m1 0h0m3 0h0m1 0h0m2 0h0m-18 1h0m10 0h0m1 0h0m1 0h0m3 0h0m4 0h0m2 0h0m-19 1h0m6 0h0m5 0h0m4 0h0m2 0h0m1 0h0m-8 1h0m1 0h0m1 0h0m1 0h0m1 0h0m1 0h0m1 0h0m3 0h0m7 0h0m-19 1h0m6 0h0m2 0h0m-12 1h0m3 0h0m1 0h0m3 0h0m7 0h0m1 0h0m1 0h0m-17 1h0m2 0h0m5 0h0m5 0h0m4 0h0m7 0h0m-21 1h0m2 0h0m1 0h0m2 0h0m13 0h0m-27 1h0m4 0h0m5 0h0m14 0h0m-17 1h0m4 0h0m1 0h0m11 0h0m-12 1h0m1 0h0m13 0h0m6 0h0m-27 1h0m3 0h0m3 0h0m15 0h0m3 0h0m7 0h0m-34 1h0m4 0h0m3 0h0m1 0h0m17 0h0m1 0h0m1 0h0m1 0h0m-22 1h0m23 0h0m-32 1h0m11 0h0m18 0h0m3 0h0m-28 1h0m4 0h0m2 0h0m1 0h0m16 0h0m2 0h0m1 0h0m-21 1h0m2 0h0m15 0h0m1 0h0m5 0h0m2 0h0m1 0h0m-24 1h0m17 0h0m4 0h0m-22 1h0m1 0h0m18 0h0m-20 1h0m1 0h0m21 0h0m1 0h0m-31 1h0m2 0h0m23 0h0m1 0h0m1 0h0m-2 1h0m2 0h0m9 0h0m-29 1h0m1 0h0m1 0h0m-6 1h0m4 0h0m2 0h0m17 0h0m7 0h0m3 0h0m-27 1h0m18 0h0m1 0h0m5 0h0m-30 1h0m5 0h0m18 0h0m7 0h0m-33 1h0m8 0h0m18 0h0m1 0h0m1 0h0m-20 1h0m18 0h0m6 0h0m-27 1h0m1 0h0m1 0h0m2 0h0m20 0h0m3 0h0m-28 1h0m3 0h0m22 0h0m-44 1h0m19 0h0m21 0h0m1 0h0m-19 1h0m1 0h0m22 0h0m-37 1h0m3 0h0m8 0h0m4 0h0m17 0h0m2 0h0m-29 1h0m5 0h0m1 0h0m2 0h0m1 0h0m21 0h0m-22 1h0m2 0h0m18 0h0m-32 1h0m7 0h0m3 0h0m1 0h0m1 0h0m-3 1h0m1 0h0m28 0h0m-29 1h0m5 0h0m22 0h0m3 0h0m-40 1h0m4 0h0m9 0h0m2 0h0m18 0h0m4 0h0m-29 1h0m25 0h0m3 0h0m1 0h0m-27 1h0m2 0h0m3 0h0m19 0h0m-25 1h0m1 0h0m4 0h0m20 0h0m-36 1h0m14 0h0m1 0h0m19 0h0m1 0h0m4 0h0m-38 1h0m13 0h0m19 0h0m1 0h0m6 0h0m-26 1h0m19 0h0m1 0h0m23 0h0m-47 1h0m3 0h0m20 0h0m2 0h0m1 0h0m-36 1h0m15 0h0m22 0h0m6 0h0m3 0h0m-47 1h0m7 0h0m4 0h0m2 0h0m21 0h0m3 0h0m8 0h0m-40 1h0m3 0h0m27 0h0m4 0h0m-43 1h0m12 0h0m7 0h0m19 0h0m3 0h0m-37 1h0m6 0h0m6 0h0m1 0h0m2 0h0m18 0h0m1 0h0m2 0h0m3 0h0m2 0h0m-33 1h0m7 0h0m22 0h0m-26 1h0m2 0h0m21 0h0m2 0h0m2 0h0m-38 1h0m7 0h0m1 0h0m3 0h0m31 0h0m3 0h0m-34 1h0m1 0h0m0 1h0m1 0h0m19 0h0m1 0h0m2 0h0m5 0h0m-32 1h0m25 0h0m1 0h0m11 0h0m-59 1h0m23 0h0m26 0h0m2 0h0m2 0h0m11 0h0m-16 1h0m2 0h0m9 0h0m-54 1h0m19 0h0m25 0h0m3 0h0m10 0h0m-37 1h0m23 0h0m9 0h0m-43 1h0m35 0h0m4 0h0m4 0h0m-40 1h0m7 0h0m2 0h0m25 0h0m1 0h0m8 0h0m-54 1h0m2 0h0m11 0h0m28 0h0m1 0h0m-24 1h0m29 0h0m-46 1h0m11 0h0m29 0h0m1 0h0m-33 1h0m8 0h0m1 0h0m22 0h0m4 0h0m-26 1h0m32 0h0m-32 2h0m22 0h0m1 0h0m1 0h0m2 0h0m-28 1h0m25 0h0m4 0h0m-27 1h0m1 0h0m21 0h0m-40 1h0m10 0h0m32 0h0m-30 1h0m1 0h0m6 0h0m22 0h0m6 0h0m-5 1h0m1 1h0m-25 1h0m1 0h0m3 0h0m16 0h0m1 0h0m1 0h0m1 0h0m-27 1h0m4 0h0m4 0h0m15 0h0m1 0h0m1 0h0m-19 1h0m1 0h0m1 0h0m1 0h0m1 0h0m12 0h0m-14 1h0m3 0h0m11 0h0m2 0h0m-12 1h0m8 0h0m2 0h0m1 0h0m1 0h0m-13 1h0m1 0h0m2 0h0m2 0h0m3 0h0m2 0h0m2 0h0m14 0h0m-21 1h0m1 0h0m-5 1h0m1 0h0m2 0h0m-14 1h0m3 0h0m5 0h0m4 0h0m2 0h0m4 0h0m-3 1h0m3 0h0m2 0h0m-9 1h0m8 0h0m8 0h0m-19 1h0m15 0h0m-18 1h0m4 0h0m0 1h0m-13 1h0m17 0h0m2 0h0m2 0h0m5 1h0m-21 1h0m2 0h0m20 0h0" stroke="#3048b0" stroke-width="1.1" stroke-linecap="round" fill="none"/>
<path transform="translate(1034.2 1529.5) scale(1)" d="M64 40h0m-1 1h0m1 0h0m2 0h0m-2 1h0m1 0h0m1 0h0m-5 1h0m1 0h0m2 0h0m1 0h0m1 0h0m1 0h0m-7 1h0m2 0h0m1 0h0m1 0h0m1 0h0m1 0h0m1 0h0m-9 1h0m1 0h0m2 0h0m1 0h0m1 0h0m1 0h0m1 0h0m-4 1h0m2 0h0m1 0h0m1 0h0m1 0h0m1 0h0m1 0h0m1 0h0m1 0h0m-11 1h0m3 0h0m1 0h0m1 0h0m1 0h0m1 0h0m1 0h0m1 0h0m2 0h0m1 0h0m-13 1h0m3 0h0m2 0h0m1 0h0m2 0h0m2 0h0m3 0h0m1 0h0m-15 1h0m1 0h0m2 0h0m2 0h0m1 0h0m1 0h0m1 0h0m2 0h0m1 0h0m2 0h0m1 0h0m-12 1h0m2 0h0m7 0h0m-7 1h0m1 0h0m1 0h0m3 0h0m1 0h0m-11 1h0m2 0h0m2 0h0m2 0h0m5 0h0m2 0h0m-13 1h0m3 0h0m2 0h0m7 0h0m-13 1h0m1 0h0m1 0h0m1 0h0m1 0h0m1 0h0m9 0h0m-12 1h0m1 0h0m1 0h0m9 0h0m1 0h0m-15 1h0m3 0h0m12 0h0m-15 1h0m1 0h0m1 0h0m1 0h0m1 0h0m-4 1h0m3 0h0m1 0h0m1 0h0m8 0h0m2 0h0m-13 1h0m1 0h0m1 0h0m9 0h0m-13 1h0m1 0h0m1 0h0m2 0h0m10 0h0m1 0h0m-14 1h0m2 0h0m2 0h0m1 0h0m6 0h0m1 0h0m1 0h0m1 0h0m-14 1h0m3 0h0m1 0h0m1 0h0m4 0h0m1 0h0m1 0h0m1 0h0m1 0h0m-11 1h0m1 0h0m2 0h0m2 0h0m2 0h0m2 0h0m1 0h0m-11 1h0m1 0h0m1 0h0m1 0h0m1 0h0m1 0h0m1 0h0m1 0h0m2 0h0m1 0h0m4 0h0m-17 1h0m1 0h0m1 0h0m2 0h0m1 0h0m1 0h0m1 0h0m1 0h0m1 0h0m2 0h0m2 0h0m1 0h0m1 0h0m2 0h0m-15 1h0m1 0h0m1 0h0m1 0h0m1 0h0m2 0h0m2 0h0m1 0h0m1 0h0m1 0h0m2 0h0m1 0h0m1 0h0m-16 1h0m2 0h0m2 0h0m1 0h0m1 0h0m1 0h0m2 0h0m2 0h0m4 0h0m-15 1h0m1 0h0m1 0h0m2 0h0m2 0h0m1 0h0m2 0h0m1 0h0m2 0h0m1 0h0m-11 1h0m1 0h0m1 0h0m1 0h0m1 0h0m1 0h0m1 0h0m2 0h0m1 0h0m2 0h0m1 0h0m1 0h0m-14 1h0m2 0h0m4 0h0m1 0h0m1 0h0m1 0h0m2 0h0m1 0h0m1 0h0m-11 1h0m1 0h0m1 0h0m1 0h0m1 0h0m1 0h0m1 0h0m1 0h0m2 0h0m1 0h0m1 0h0m1 0h0m1 0h0m-15 1h0m1 0h0m1 0h0m2 0h0m1 0h0m1 0h0m5 0h0m1 0h0m1 0h0m-13 1h0m2 0h0m1 0h0m1 0h0m2 0h0m3 0h0m1 0h0m1 0h0m1 0h0m1 0h0m1 0h0m1 0h0m-16 1h0m1 0h0m5 0h0m2 0h0m1 0h0m1 0h0m1 0h0m1 0h0m2 0h0m2 0h0m-14 1h0m1 0h0m2 0h0m2 0h0m1 0h0m2 0h0m3 0h0m-14 1h0m2 0h0m2 0h0m1 0h0m2 0h0m1 0h0m4 0h0m3 0h0m-12 1h0m2 0h0m1 0h0m1 0h0m1 0h0m1 0h0m1 0h0m1 0h0m2 0h0m3 0h0m-17 1h0m3 0h0m1 0h0m3 0h0m1 0h0m3 0h0m2 0h0m2 0h0m-16 1h0m1 0h0m1 0h0m1 0h0m8 0h0m5 0h0m1 0h0m-17 1h0m1 0h0m3 0h0m7 0h0m1 0h0m1 0h0m-13 1h0m4 0h0m8 0h0m2 0h0m1 0h0m1 0h0m1 0h0m-16 1h0m1 0h0m1 0h0m1 0h0m10 0h0m1 0h0m1 0h0m-15 1h0m1 0h0m10 0h0m1 0h0m1 0h0m2 0h0m-15 1h0m1 0h0m10 0h0m1 0h0m1 0h0m2 0h0m-16 1h0m1 0h0m1 0h0m10 0h0m5 0h0m-18 1h0m12 0h0m6 0h0m-17 1h0m1 0h0m1 0h0m11 0h0m1 0h0m1 0h0m-15 1h0m1 0h0m1 0h0m11 0h0m2 0h0m2 0h0m-19 1h0m15 0h0m2 0h0m-17 1h0m1 0h0m2 0h0m12 0h0m1 0h0m-15 1h0m15 0h0m-17 1h0m1 0h0m16 0h0m1 0h0m1 0h0m-18 1h0m1 0h0m16 0h0m-1 1h0m2 0h0m-19 1h0m17 0h0m-18 1h0m1 0h0m17 0h0m1 0h0m2 0h0m-20 1h0m1 0h0m16 0h0m1 0h0m-19 1h0m1 0h0m-1 1h0m18 0h0m-18 1h0m1 1h0m17 0h0m1 0h0m-17 1h0m18 0h0m-19 1h0m1 0h0m15 0h0m1 0h0m-18 1h0m18 0h0m-18 1h0m1 0h0m1 0h0m15 0h0m-16 1h0m1 0h0m16 0h0m-16 1h0m15 0h0m1 0h0m-16 1h0m16 0h0m2 0h0m-19 1h0m1 0h0m1 0h0m1 0h0m12 0h0m3 0h0m-18 1h0m2 0h0m1 0h0m1 0h0m9 0h0m2 0h0m1 0h0m-15 1h0m6 0h0m6 0h0m1 0h0m-10 1h0m2 0h0m1 0h0m3 0h0m1 0h0m2 0h0m2 0h0m-8 1h0m1 0h0m1 0h0m1 0h0m1 0h0m2 0h0m1 0h0m-10 1h0m2 0h0m3 0h0m3 0h0m-2 1h0m3 0h0m-4 1h0m1 0h0" stroke="#2c64c4" stroke-width="1.1" stroke-linecap="round" fill="none"/>
<path transform="translate(1034.2 1529.5) scale(1)" d="M64 50h0m1 1h0m-4 1h0m2 0h0m1 0h0m1 0h0m1 0h0m-5 1h0m1 0h0m1 0h0m1 0h0m1 0h0m1 0h0m1 0h0m-7 1h0m1 0h0m1 0h0m1 0h0m1 0h0m1 0h0m1 0h0m-7 1h0m1 0h0m1 0h0m1 0h0m1 0h0m3 0h0m2 0h0m-8 1h0m1 0h0m3 0h0m1 0h0m1 0h0m1 0h0m1 0h0m-9 1h0m1 0h0m1 0h0m1 0h0m1 0h0m1 0h0m2 0h0m1 0h0m1 0h0m-9 1h0m1 0h0m1 0h0m1 0h0m1 0h0m1 0h0m1 0h0m2 0h0m1 0h0m-9 1h0m1 0h0m1 0h0m1 0h0m1 0h0m1 0h0m1 0h0m1 0h0m-7 1h0m1 0h0m1 0h0m1 0h0m1 0h0m1 0h0m1 0h0m-2 1h0m1 0h0m-2 1h0m1 0h0m1 0h0m1 0h0m-6 16h0m2 0h0m-5 1h0m2 0h0m1 0h0m1 0h0m1 0h0m1 0h0m-5 1h0m1 0h0m1 0h0m1 0h0m1 0h0m-6 1h0m1 0h0m1 0h0m1 0h0m1 0h0m1 0h0m1 0h0m1 0h0m-7 1h0m1 0h0m1 0h0m1 0h0m1 0h0m1 0h0m1 0h0m-6 1h0m1 0h0m2 0h0m2 0h0m1 0h0m-6 1h0m2 0h0m1 0h0m1 0h0m1 0h0m1 0h0m1 0h0m-8 1h0m3 0h0m1 0h0m1 0h0m1 0h0m2 0h0m-7 1h0m1 0h0m1 0h0m2 0h0m1 0h0m1 0h0m1 0h0m1 0h0m-9 1h0m1 0h0m1 0h0m3 0h0m1 0h0m3 0h0m-4 1h0m1 0h0m1 0h0m1 0h0m1 0h0m-9 1h0m7 0h0m2 0h0m-2 1h0m1 0h0m1 0h0m1 0h0m-13 1h0m1 0h0m9 0h0m2 0h0m-11 1h0m9 0h0m1 0h0m1 0h0m-13 1h0m1 0h0m1 0h0m11 0h0m1 0h0m1 0h0m-2 1h0m1 0h0m-15 1h0m1 0h0m1 0h0m13 0h0m1 0h0m-16 1h0m15 0h0m1 0h0m-15 1h0m13 0h0m1 0h0m1 0h0m-15 1h0m13 0h0m2 0h0m-17 1h0m1 0h0m14 0h0m1 0h0m-16 1h0m1 0h0m15 0h0m1 0h0m-16 1h0m1 0h0m13 0h0m1 0h0m-14 1h0m13 0h0m1 0h0m-15 1h0m1 0h0m14 0h0m-15 1h0m2 0h0m13 0h0m-13 1h0m12 0h0m-13 1h0m1 0h0m11 0h0m2 0h0m-14 1h0m12 0h0m1 0h0m-12 1h0m1 0h0m3 0h0m6 0h0m1 0h0m-10 1h0m1 0h0m2 0h0m1 0h0m4 0h0m1 0h0m1 0h0m1 0h0m-11 1h0m1 0h0m2 0h0m1 0h0m1 0h0m1 0h0m1 0h0m1 0h0m-7 1h0m1 0h0m1 0h0m1 0h0m1 0h0m2 0h0m1 0h0m1 0h0m-2 1h0m1 0h0" stroke="#28a4cc" stroke-width="1.1" stroke-linecap="round" fill="none"/>
<path transform="translate(1034.2 1529.5) scale(1)" d="M57 86h0m1 0h0m-1 1h0m1 0h0m-2 1h0m1 0h0m3 0h0m-5 1h0m1 0h0m1 0h0m1 0h0m1 0h0m1 0h0m-7 1h0m1 0h0m1 0h0m1 0h0m1 0h0m1 0h0m1 0h0m1 0h0m1 0h0m-8 1h0m3 0h0m2 0h0m1 0h0m1 0h0m1 0h0m-8 1h0m1 0h0m4 0h0m1 0h0m1 0h0m-8 1h0m6 0h0m1 0h0m-8 1h0m1 0h0m8 0h0m1 0h0m1 0h0m1 0h0m-12 1h0m9 0h0m1 0h0m1 0h0m-12 1h0m1 0h0m10 0h0m1 0h0m1 0h0m-13 1h0m1 0h0m10 0h0m1 0h0m-12 1h0m1 0h0m10 0h0m1 0h0m-1 1h0m1 0h0m-12 1h0m1 0h0m11 0h0m1 0h0m-12 1h0m1 0h0m9 0h0m1 0h0m-10 1h0m10 0h0m0 1h0m1 0h0m-11 1h0m10 0h0m1 0h0m-12 1h0m1 0h0m1 0h0m8 0h0m1 0h0m1 0h0m-12 1h0m1 0h0m1 0h0m1 0h0m1 0h0m6 0h0m1 0h0m-10 1h0m1 0h0m1 0h0m1 0h0m2 0h0m2 0h0m1 0h0m1 0h0m-9 1h0m1 0h0m1 0h0m2 0h0m1 0h0m1 0h0m1 0h0m1 0h0m1 0h0m-6 1h0m1 0h0m1 0h0m1 0h0m1 0h0m2 0h0" stroke="#30bc8c" stroke-width="1.1" stroke-linecap="round" fill="none"/>
<path transform="translate(1034.2 1529.5) scale(1)" d="M54 91h0m1 0h0m1 0h0m-2 1h0m1 0h0m1 0h0m1 0h0m-4 1h0m1 0h0m1 0h0m1 0h0m1 0h0m-4 1h0m1 0h0m2 0h0m1 0h0m-5 1h0m1 0h0m4 0h0m1 0h0m1 0h0m1 0h0m-8 1h0m1 0h0m7 0h0m1 0h0m-9 1h0m1 0h0m7 0h0m-9 1h0m1 0h0m1 0h0m7 0h0m1 0h0m1 0h0m-10 1h0m8 0h0m-9 1h0m1 0h0m1 0h0m8 0h0m-9 1h0m1 0h0m8 0h0m-8 1h0m6 0h0m1 0h0m1 0h0m-9 1h0m1 0h0m6 0h0m1 0h0m1 0h0m-9 1h0m1 0h0m5 0h0m1 0h0m1 0h0m1 0h0m-7 1h0m1 0h0m1 0h0m1 0h0m1 0h0m1 0h0m1 0h0m1 0h0m-8 1h0m3 0h0m1 0h0m1 0h0m1 0h0m-1 1h0" stroke="#70cc40" stroke-width="1.1" stroke-linecap="round" fill="none"/>
<path transform="translate(1034.2 1529.5) scale(1)" d="M55 94h0m1 0h0m1 0h0m-4 1h0m1 0h0m1 0h0m1 0h0m1 0h0m1 0h0m-5 1h0m1 0h0m1 0h0m2 0h0m1 0h0m1 0h0m-5 1h0m1 0h0m1 0h0m1 0h0m1 0h0m1 0h0m-7 1h0m1 0h0m1 0h0m1 0h0m1 0h0m1 0h0m1 0h0m1 0h0m1 0h0m-8 1h0m1 0h0m1 0h0m1 0h0m3 0h0m1 0h0m1 0h0m-6 1h0m4 0h0m1 0h0m-6 1h0m1 0h0m5 0h0m-6 1h0m1 0h0m1 0h0m3 0h0m1 0h0m1 0h0m-6 1h0m1 0h0m1 0h0m1 0h0m1 0h0m1 0h0m-5 1h0m2 0h0m1 0h0m1 0h0m1 0h0m-3 1h0m1 0h0m1 0h0" stroke="#d0dc20" stroke-width="1.1" stroke-linecap="round" fill="none"/>
<path transform="translate(1034.2 1529.5) scale(1)" d="M58 98h0m-4 1h0m1 0h0m1 0h0m1 0h0m1 0h0m-4 1h0m1 0h0m1 0h0m1 0h0m1 0h0m-4 1h0m1 0h0m1 0h0m1 0h0m-2 1h0m1 0h0m1 0h0m1 0h0m-3 1h0m1 0h0m1 0h0" stroke="#f8a010" stroke-width="1.1" stroke-linecap="round" fill="none"/>
<rect x="1034.2" y="1529.5" width="128.2" height="128.2" fill="none" stroke="#555" stroke-width="1.1"/>
<path d="M1099.7 1656 L1140.7 1564.3 L1150.1 1564.3 L1150.1 1656Z" fill="none" stroke="#222" stroke-width="1.1"/>
<text x="1157.2" y="1552.4" font-size="24" text-anchor="end">0.10%</text>
<path d="M1030.7 1657.2h3.5M1032.2 1652.3h2M1032.2 1647.5h2M1032.2 1642.6h2M1032.2 1637.7h2M1030.7 1632.8h3.5M1032.2 1628h2M1032.2 1623.1h2M1032.2 1618.2h2M1032.2 1613.4h2M1030.7 1608.5h3.5M1032.2 1603.6h2M1032.2 1598.7h2M1032.2 1593.9h2M1032.2 1589h2M1030.7 1584.1h3.5M1032.2 1579.2h2M1032.2 1574.4h2M1032.2 1569.5h2M1032.2 1564.6h2M1030.7 1559.8h3.5M1032.2 1554.9h2M1032.2 1550h2M1032.2 1545.1h2M1032.2 1540.3h2M1030.7 1535.4h3.5M1037.2 1657.7v3.5M1044.4 1657.7v2M1048.7 1657.7v2M1051.7 1657.7v2M1054 1657.7v2M1055.9 1657.7v2M1057.5 1657.7v2M1058.9 1657.7v2M1060.1 1657.7v2M1061.2 1657.7v3.5M1068.5 1657.7v2M1072.7 1657.7v2M1075.7 1657.7v2M1078 1657.7v2M1079.9 1657.7v2M1081.6 1657.7v2M1083 1657.7v2M1084.2 1657.7v2M1085.3 1657.7v3.5M1092.5 1657.7v2M1096.7 1657.7v2M1099.8 1657.7v2M1102.1 1657.7v2M1104 1657.7v2M1105.6 1657.7v2M1107 1657.7v2M1108.2 1657.7v2M1109.3 1657.7v3.5M1116.6 1657.7v2M1120.8 1657.7v2M1123.8 1657.7v2M1126.1 1657.7v2M1128 1657.7v2M1129.6 1657.7v2M1131 1657.7v2M1132.3 1657.7v2M1133.4 1657.7v3.5M1140.6 1657.7v2M1144.8 1657.7v2M1147.8 1657.7v2M1150.2 1657.7v2M1152.1 1657.7v2M1153.7 1657.7v2M1155.1 1657.7v2M1156.3 1657.7v2M1157.4 1657.7v3.5" fill="none" stroke="#444" stroke-width="0.9"/>
<text x="1029.7" y="1660.4" font-size="8.8" text-anchor="end" fill="#333">0</text>
<text x="1029.7" y="1636" font-size="8.8" text-anchor="end" fill="#333">50K</text>
<text x="1029.7" y="1611.7" font-size="8.8" text-anchor="end" fill="#333">100K</text>
<text x="1029.7" y="1587.3" font-size="8.8" text-anchor="end" fill="#333">150K</text>
<text x="1029.7" y="1563" font-size="8.8" text-anchor="end" fill="#333">200K</text>
<text x="1029.7" y="1538.6" font-size="8.8" text-anchor="end" fill="#333">250K</text>
<text x="1040.2" y="1673" font-size="12.5" text-anchor="middle" fill="#222">10<tspan font-size="7.8" dy="-5.2">0</tspan></text>
<text x="1064.2" y="1673" font-size="12.5" text-anchor="middle" fill="#222">10<tspan font-size="7.8" dy="-5.2">1</tspan></text>
<text x="1088.3" y="1673" font-size="12.5" text-anchor="middle" fill="#222">10<tspan font-size="7.8" dy="-5.2">2</tspan></text>
<text x="1112.3" y="1673" font-size="12.5" text-anchor="middle" fill="#222">10<tspan font-size="7.8" dy="-5.2">3</tspan></text>
<text x="1136.4" y="1673" font-size="12.5" text-anchor="middle" fill="#222">10<tspan font-size="7.8" dy="-5.2">4</tspan></text>
<text x="1160.4" y="1673" font-size="12.5" text-anchor="middle" fill="#222">10<tspan font-size="7.8" dy="-5.2">5</tspan></text>
<path transform="translate(1173 1529.5) scale(1)" d="M67 13h0m-6 3h0m12 5h0m-7 2h0m0 1h0m2 0h0m3 2h0m-12 1h0m4 0h0m6 0h0m2 0h0m1 0h0m-6 1h0m-9 1h0m14 0h0m3 0h0m-8 1h0m3 0h0m7 0h0m-23 1h0m6 0h0m5 0h0m4 0h0m1 0h0m6 0h0m6 0h0m-18 1h0m4 0h0m3 0h0m3 0h0m1 0h0m-24 1h0m12 0h0m5 0h0m2 0h0m1 0h0m-13 1h0m2 0h0m4 0h0m5 0h0m2 0h0m3 0h0m3 0h0m-24 1h0m11 1h0m5 0h0m2 0h0m2 0h0m-21 1h0m2 0h0m4 0h0m2 0h0m6 0h0m3 0h0m6 0h0m1 0h0m1 0h0m-25 1h0m5 0h0m5 0h0m2 0h0m3 0h0m5 0h0m1 0h0m2 0h0m5 0h0m-20 1h0m3 0h0m8 0h0m1 0h0m6 0h0m-18 1h0m1 0h0m2 0h0m4 0h0m1 0h0m2 0h0m2 0h0m2 0h0m1 0h0m-19 1h0m1 0h0m5 0h0m4 0h0m1 0h0m4 0h0m1 0h0m1 0h0m3 0h0m1 0h0m-20 1h0m2 0h0m6 0h0m6 0h0m9 0h0m-36 1h0m16 0h0m2 0h0m2 0h0m4 0h0m5 0h0m-15 1h0m3 0h0m4 0h0m2 0h0m6 0h0m1 0h0m1 0h0m7 0h0m-18 1h0m1 0h0m9 0h0m2 0h0m1 0h0m-19 1h0m16 0h0m-26 1h0m7 0h0m5 0h0m15 0h0m1 0h0m2 0h0m2 0h0m-23 1h0m3 0h0m22 0h0m-28 1h0m3 0h0m1 0h0m1 0h0m17 0h0m1 0h0m-23 1h0m1 0h0m-1 1h0m3 0h0m18 0h0m4 0h0m2 0h0m3 0h0m-26 1h0m21 0h0m2 0h0m-28 1h0m4 0h0m20 0h0m5 0h0m-33 1h0m2 0h0m1 0h0m3 0h0m25 0h0m9 0h0m7 0h0m-43 1h0m6 0h0m18 0h0m1 0h0m2 0h0m-25 1h0m1 0h0m1 0h0m20 0h0m3 0h0m-27 1h0m5 0h0m20 0h0m-26 1h0m2 0h0m1 0h0m3 1h0m1 0h0m21 0h0m-33 1h0m3 0h0m2 0h0m26 0h0m-35 1h0m31 0h0m3 0h0m1 0h0m-27 1h0m1 0h0m2 0h0m3 0h0m1 0h0m25 0h0m-38 1h0m8 0h0m28 0h0m2 0h0m5 0h0m-64 1h0m34 0h0m20 0h0m2 0h0m3 0h0m-31 1h0m23 0h0m1 0h0m-24 1h0m1 0h0m1 0h0m24 0h0m-28 1h0m24 0h0m1 0h0m3 0h0m4 0h0m-40 1h0m12 0h0m25 0h0m3 0h0m-37 1h0m29 0h0m2 0h0m3 0h0m6 0h0m-35 1h0m1 0h0m3 0h0m21 0h0m-33 1h0m7 0h0m25 0h0m1 0h0m2 0h0m7 0h0m-55 1h0m25 0h0m22 0h0m-25 1h0m3 0h0m19 0h0m1 0h0m-24 1h0m4 0h0m19 0h0m1 0h0m9 0h0m4 0h0m-38 1h0m4 0h0m20 0h0m1 0h0m8 1h0m-30 1h0m25 0h0m2 0h0m-28 1h0m2 0h0m1 0h0m25 0h0m-29 1h0m1 0h0m41 0h0m-46 1h0m2 0h0m2 0h0m1 0h0m3 0h0m20 0h0m1 0h0m6 0h0m4 0h0m-48 1h0m13 0h0m1 0h0m2 0h0m-5 1h0m4 0h0m23 0h0m1 0h0m2 0h0m-32 1h0m5 0h0m2 0h0m1 0h0m21 0h0m5 0h0m-47 1h0m1 0h0m13 0h0m3 0h0m26 0h0m-37 1h0m34 0h0m-26 1h0m5 0h0m1 0h0m19 0h0m4 0h0m-34 1h0m10 0h0m20 0h0m2 0h0m2 0h0m-28 1h0m5 0h0m19 0h0m3 0h0m4 0h0m-39 1h0m32 0h0m4 0h0m-29 1h0m1 0h0m3 0h0m21 0h0m-30 1h0m5 0h0m3 0h0m23 0h0m-2 1h0m2 0h0m4 0h0m-48 1h0m12 0h0m8 0h0m25 0h0m1 0h0m-47 1h0m19 0h0m26 0h0m4 0h0m3 0h0m-32 1h0m24 0h0m2 0h0m3 0h0m-38 1h0m7 0h0m2 0h0m1 0h0m25 0h0m4 0h0m10 0h0m13 0h0m-52 1h0m33 0h0m-41 1h0m32 0h0m3 0h0m1 0h0m5 0h0m-6 1h0m-48 1h0m19 0h0m28 0h0m-35 1h0m2 0h0m4 0h0m1 0h0m23 0h0m2 0h0m10 0h0m-34 1h0m1 0h0m22 0h0m1 0h0m-27 1h0m2 0h0m1 0h0m25 0h0m1 0h0m-50 1h0m49 0h0m17 0h0m-49 1h0m2 0h0m3 1h0m1 0h0m25 0h0m-38 1h0m9 0h0m4 0h0m1 0h0m1 0h0m22 0h0m2 0h0m10 0h0m-37 1h0m1 0h0m26 0h0m2 0h0m-25 1h0m24 0h0m2 0h0m-4 1h0m1 0h0m6 0h0m-32 1h0m2 0h0m3 0h0m22 1h0m-32 1h0m27 0h0m5 0h0m6 0h0m-35 1h0m7 0h0m19 0h0m1 0h0m-22 1h0m2 0h0m16 0h0m-23 1h0m9 0h0m14 0h0m7 0h0m9 0h0m-12 1h0m-40 1h0m16 0h0m1 0h0m16 0h0m3 0h0m1 0h0m-16 1h0m2 0h0m2 0h0m6 0h0m-28 1h0m22 0h0m2 0h0m4 0h0m11 0h0m2 0h0m3 0h0m-22 1h0m1 0h0m13 0h0m1 0h0m-25 1h0m10 0h0m9 0h0m2 0h0m-31 1h0m16 0h0m-1 1h0m6 0h0m3 0h0m5 1h0m-7 1h0m1 0h0m-9 1h0m6 0h0" stroke="#3048b0" stroke-width="1.1" stroke-linecap="round" fill="none"/>
<path transform="translate(1173 1529.5) scale(1)" d="M68 43h0m-2 1h0m2 0h0m1 0h0m-1 1h0m1 0h0m1 0h0m-7 1h0m2 0h0m2 0h0m1 0h0m1 0h0m2 0h0m-9 1h0m1 0h0m4 0h0m4 0h0m-11 1h0m1 0h0m1 0h0m3 0h0m1 0h0m1 0h0m1 0h0m1 0h0m1 0h0m2 0h0m-11 1h0m1 0h0m2 0h0m1 0h0m1 0h0m2 0h0m1 0h0m1 0h0m1 0h0m-11 1h0m1 0h0m2 0h0m2 0h0m4 0h0m2 0h0m1 0h0m-13 1h0m2 0h0m1 0h0m1 0h0m1 0h0m1 0h0m3 0h0m1 0h0m1 0h0m1 0h0m3 0h0m-12 1h0m1 0h0m2 0h0m4 0h0m2 0h0m1 0h0m1 0h0m1 0h0m1 0h0m-15 1h0m1 0h0m1 0h0m3 0h0m1 0h0m1 0h0m3 0h0m1 0h0m2 0h0m1 0h0m-15 1h0m1 0h0m2 0h0m4 0h0m2 0h0m1 0h0m1 0h0m2 0h0m1 0h0m1 0h0m-15 1h0m1 0h0m1 0h0m1 0h0m1 0h0m1 0h0m2 0h0m3 0h0m2 0h0m3 0h0m-14 1h0m3 0h0m1 0h0m1 0h0m4 0h0m1 0h0m4 0h0m1 0h0m1 0h0m-17 1h0m1 0h0m2 0h0m1 0h0m1 0h0m1 0h0m3 0h0m1 0h0m2 0h0m2 0h0m1 0h0m-15 1h0m1 0h0m3 0h0m3 0h0m2 0h0m2 0h0m1 0h0m1 0h0m1 0h0m1 0h0m-16 1h0m2 0h0m1 0h0m1 0h0m1 0h0m1 0h0m1 0h0m1 0h0m1 0h0m3 0h0m2 0h0m2 0h0m2 0h0m-18 1h0m1 0h0m1 0h0m2 0h0m1 0h0m4 0h0m1 0h0m2 0h0m3 0h0m1 0h0m-14 1h0m1 0h0m2 0h0m1 0h0m2 0h0m1 0h0m1 0h0m3 0h0m-11 1h0m2 0h0m6 0h0m1 0h0m2 0h0m-11 1h0m1 0h0m1 0h0m7 0h0m1 0h0m1 0h0m-14 1h0m2 0h0m1 0h0m1 0h0m8 0h0m2 0h0m-14 1h0m1 0h0m2 0h0m11 0h0m-16 1h0m2 0h0m1 0h0m1 0h0m10 0h0m1 0h0m1 0h0m-17 1h0m2 0h0m1 0h0m1 0h0m1 0h0m11 0h0m2 0h0m1 0h0m-19 1h0m2 0h0m2 0h0m3 0h0m8 0h0m1 0h0m2 0h0m-17 1h0m1 0h0m4 0h0m1 0h0m7 0h0m1 0h0m2 0h0m-16 1h0m4 0h0m2 0h0m1 0h0m2 0h0m2 0h0m1 0h0m2 0h0m1 0h0m-13 1h0m2 0h0m1 0h0m2 0h0m1 0h0m2 0h0m1 0h0m1 0h0m3 0h0m1 0h0m1 0h0m-16 1h0m1 0h0m1 0h0m2 0h0m1 0h0m3 0h0m4 0h0m-13 1h0m1 0h0m1 0h0m1 0h0m2 0h0m1 0h0m1 0h0m1 0h0m1 0h0m1 0h0m3 0h0m1 0h0m1 0h0m1 0h0m-17 1h0m2 0h0m7 0h0m1 0h0m1 0h0m1 0h0m5 0h0m-15 1h0m1 0h0m1 0h0m1 0h0m6 0h0m1 0h0m2 0h0m1 0h0m1 0h0m1 0h0m-16 1h0m1 0h0m1 0h0m1 0h0m1 0h0m6 0h0m2 0h0m1 0h0m-15 1h0m3 0h0m11 0h0m1 0h0m1 0h0m1 0h0m-16 1h0m1 0h0m1 0h0m1 0h0m9 0h0m1 0h0m1 0h0m1 0h0m2 0h0m-16 1h0m3 0h0m7 0h0m1 0h0m1 0h0m1 0h0m1 0h0m1 0h0m1 0h0m-12 1h0m5 0h0m3 0h0m1 0h0m1 0h0m1 0h0m-15 1h0m1 0h0m1 0h0m6 0h0m1 0h0m1 0h0m1 0h0m4 0h0m1 0h0m2 0h0m-18 1h0m2 0h0m1 0h0m9 0h0m1 0h0m2 0h0m1 0h0m2 0h0m-17 1h0m2 0h0m6 0h0m1 0h0m1 0h0m2 0h0m3 0h0m-18 1h0m1 0h0m2 0h0m1 0h0m8 0h0m4 0h0m1 0h0m3 0h0m-18 1h0m2 0h0m8 0h0m1 0h0m1 0h0m1 0h0m3 0h0m-18 1h0m2 0h0m2 0h0m7 0h0m1 0h0m1 0h0m3 0h0m1 0h0m-17 1h0m3 0h0m2 0h0m8 0h0m1 0h0m-14 1h0m1 0h0m1 0h0m1 0h0m12 0h0m-1 1h0m1 0h0m-17 1h0m1 0h0m14 0h0m1 0h0m2 0h0m-20 1h0m3 0h0m14 0h0m2 0h0m-17 1h0m1 0h0m16 0h0m1 0h0m-20 1h0m18 0h0m1 0h0m3 0h0m-22 1h0m2 0h0m18 0h0m-20 1h0m1 0h0m1 0h0m-1 1h0m17 0h0m1 0h0m1 0h0m-20 1h0m1 0h0m17 0h0m-18 1h0m1 0h0m1 0h0m16 0h0m-17 1h0m18 0h0m0 1h0m-19 1h0m19 0h0m-19 1h0m1 0h0m1 0h0m17 0h0m2 1h0m-21 1h0m19 0h0m-19 1h0m2 0h0m16 0h0m1 0h0m1 0h0m-19 1h0m18 0h0m-1 2h0m2 0h0m-20 1h0m3 1h0m14 0h0m1 0h0m1 0h0m-1 1h0m-15 1h0m1 0h0m12 0h0m1 0h0m1 0h0m-14 1h0m14 0h0m1 0h0m-15 1h0m1 0h0m10 0h0m2 0h0m-12 1h0m9 0h0m4 0h0m-13 1h0m1 0h0m4 0h0m1 0h0m3 0h0m1 0h0m-9 1h0m2 0h0m1 0h0m2 0h0m1 0h0m3 0h0m-7 1h0m1 0h0m-1 1h0m1 0h0m1 0h0m1 0h0m2 0h0" stroke="#2c64c4" stroke-width="1.1" stroke-linecap="round" fill="none"/>
<path transform="translate(1173 1529.5) scale(1)" d="M64 52h0m1 0h0m-1 2h0m1 0h0m-2 1h0m1 0h0m1 0h0m6 0h0m0 1h0m1 1h0m1 1h0m-10 4h0m1 0h0m2 0h0m1 0h0m-4 1h0m1 0h0m1 0h0m1 0h0m-5 1h0m1 0h0m2 0h0m1 0h0m2 0h0m-3 1h0m1 0h0m1 0h0m1 0h0m1 0h0m-7 1h0m2 0h0m2 0h0m2 0h0m1 0h0m-7 1h0m1 0h0m1 0h0m1 0h0m1 0h0m1 0h0m1 0h0m-5 1h0m1 0h0m1 0h0m3 0h0m-6 1h0m2 0h0m2 0h0m1 0h0m-4 1h0m1 0h0m1 1h0m-5 3h0m1 0h0m1 0h0m1 0h0m-3 1h0m1 0h0m2 0h0m2 0h0m-3 1h0m1 0h0m2 0h0m-4 1h0m2 0h0m1 0h0m-3 1h0m1 0h0m2 0h0m-2 1h0m1 0h0m1 0h0m1 0h0m-6 1h0m1 0h0m1 0h0m1 0h0m1 0h0m-3 1h0m1 0h0m1 0h0m-3 1h0m2 0h0m1 0h0m-3 1h0m1 0h0m1 0h0m2 0h0m-3 1h0m2 0h0m2 0h0m1 0h0m-5 1h0m2 0h0m1 0h0m-1 1h0m2 0h0m-4 1h0m1 0h0m1 0h0m1 0h0m2 0h0m-7 1h0m4 0h0m2 0h0m1 0h0m-10 1h0m1 0h0m1 0h0m1 0h0m1 0h0m2 0h0m1 0h0m1 0h0m1 0h0m1 0h0m1 0h0m-11 1h0m1 0h0m3 0h0m2 0h0m1 0h0m1 0h0m1 0h0m1 0h0m1 0h0m-11 1h0m1 0h0m1 0h0m7 0h0m1 0h0m1 0h0m1 0h0m1 0h0m-14 1h0m1 0h0m1 0h0m9 0h0m1 0h0m1 0h0m-14 1h0m1 0h0m11 0h0m1 0h0m1 0h0m-14 1h0m1 0h0m12 0h0m1 0h0m-13 1h0m1 0h0m12 0h0m-15 2h0m1 0h0m1 0h0m13 0h0m-15 1h0m1 0h0m1 0h0m-1 1h0m14 1h0m-14 1h0m14 0h0m-14 1h0m15 0h0m1 0h0m-16 1h0m14 0h0m1 0h0m1 1h0m-16 1h0m14 0h0m1 0h0m-15 1h0m0 1h0m0 1h0m1 0h0m12 0h0m1 0h0m1 0h0m-15 1h0m13 0h0m1 0h0m1 0h0m-14 1h0m13 0h0m-12 1h0m11 0h0m1 0h0m-11 1h0m8 0h0m-9 1h0m2 0h0m2 0h0m1 0h0m1 0h0m1 0h0m1 0h0m1 0h0m1 0h0m-10 1h0m1 0h0m2 0h0m1 0h0m2 0h0m2 0h0m2 0h0m-7 1h0m2 0h0m1 0h0m2 0h0m1 0h0m1 0h0m-8 1h0m1 0h0m3 0h0m2 0h0" stroke="#28a4cc" stroke-width="1.1" stroke-linecap="round" fill="none"/>
<path transform="translate(1173 1529.5) scale(1)" d="M56 90h0m2 0h0m1 0h0m-4 1h0m1 0h0m2 0h0m1 0h0m-4 1h0m1 0h0m1 0h0m1 0h0m1 0h0m1 0h0m1 0h0m1 0h0m1 0h0m-8 1h0m2 0h0m1 0h0m1 0h0m1 0h0m1 0h0m1 0h0m2 0h0m-8 1h0m1 0h0m4 0h0m1 0h0m1 0h0m2 0h0m1 0h0m-10 1h0m7 0h0m1 0h0m1 0h0m1 0h0m-12 1h0m1 0h0m9 0h0m1 0h0m1 0h0m-11 1h0m9 0h0m1 0h0m1 0h0m-13 1h0m11 0h0m1 0h0m1 0h0m-14 1h0m1 0h0m11 0h0m1 0h0m1 0h0m-14 1h0m1 0h0m12 0h0m1 0h0m-14 1h0m13 0h0m1 0h0m-14 1h0m13 0h0m-13 1h0m1 0h0m-1 1h0m1 0h0m12 0h0m1 0h0m-13 1h0m1 0h0m11 0h0m1 0h0m-13 1h0m1 0h0m10 0h0m2 0h0m-14 1h0m1 0h0m1 0h0m10 0h0m1 0h0m1 0h0m-13 1h0m1 0h0m9 0h0m1 0h0m-11 1h0m1 0h0m1 0h0m8 0h0m1 0h0m1 0h0m-11 1h0m1 0h0m7 0h0m1 0h0m2 0h0m-9 1h0m1 0h0m3 0h0m1 0h0m1 0h0m1 0h0m-7 1h0m1 0h0m1 0h0m2 0h0m1 0h0m1 0h0m-3 1h0m1 0h0" stroke="#30bc8c" stroke-width="1.1" stroke-linecap="round" fill="none"/>
<path transform="translate(1173 1529.5) scale(1)" d="M58 93h0m0 1h0m1 0h0m1 0h0m1 0h0m1 0h0m1 0h0m-7 1h0m2 0h0m1 0h0m1 0h0m2 0h0m-6 1h0m1 0h0m1 0h0m1 0h0m2 0h0m1 0h0m1 0h0m1 0h0m-9 1h0m1 0h0m1 0h0m4 0h0m1 0h0m1 0h0m1 0h0m-1 1h0m1 0h0m-10 1h0m1 0h0m7 0h0m1 0h0m-9 1h0m9 0h0m-10 1h0m2 0h0m8 0h0m1 0h0m1 0h0m-12 1h0m1 0h0m1 0h0m8 0h0m1 0h0m1 0h0m-12 1h0m1 0h0m9 0h0m1 0h0m1 0h0m-11 1h0m1 0h0m8 0h0m1 0h0m-10 1h0m9 0h0m1 0h0m-9 1h0m8 0h0m1 0h0m-10 1h0m1 0h0m7 0h0m-8 1h0m1 0h0m7 0h0m1 0h0m1 0h0m-9 1h0m1 0h0m1 0h0m2 0h0m3 0h0m-6 1h0m1 0h0m1 0h0m1 0h0m1 0h0m1 0h0m1 0h0m1 0h0m-7 1h0m1 0h0m1 0h0m1 0h0m2 0h0" stroke="#70cc40" stroke-width="1.1" stroke-linecap="round" fill="none"/>
<path transform="translate(1173 1529.5) scale(1)" d="M59 95h0m1 0h0m-1 1h0m1 0h0m-4 1h0m1 0h0m2 0h0m1 0h0m1 0h0m1 0h0m-6 1h0m1 0h0m1 0h0m1 0h0m1 0h0m1 0h0m1 0h0m-7 1h0m1 0h0m1 0h0m5 0h0m-7 1h0m1 0h0m1 0h0m5 0h0m1 0h0m-7 1h0m1 0h0m4 0h0m-6 1h0m1 0h0m1 0h0m6 0h0m-8 1h0m1 0h0m1 0h0m5 0h0m1 0h0m-7 1h0m1 0h0m1 0h0m4 0h0m1 0h0m-8 1h0m1 0h0m1 0h0m1 0h0m1 0h0m1 0h0m1 0h0m1 0h0m1 0h0m-7 1h0m1 0h0m1 0h0m1 0h0m1 0h0m1 0h0m1 0h0m1 0h0m-7 1h0m1 0h0m2 0h0m1 0h0m1 0h0m1 0h0m-6 1h0m1 0h0m1 0h0m1 0h0m1 0h0m1 0h0m1 0h0m-5 1h0m1 0h0m1 0h0m1 0h0" stroke="#d0dc20" stroke-width="1.1" stroke-linecap="round" fill="none"/>
<path transform="translate(1173 1529.5) scale(1)" d="M58 98h0m1 0h0m1 0h0m-2 1h0m1 0h0m1 0h0m1 0h0m-3 1h0m1 0h0m1 0h0m1 0h0m-4 1h0m1 0h0m1 0h0m1 0h0m1 0h0m-4 1h0m1 0h0m1 0h0m1 0h0m1 0h0m-4 1h0m1 0h0m1 0h0m1 0h0m1 0h0m1 0h0m-4 1h0m1 0h0m1 0h0m1 0h0m1 0h0m-3 1h0m1 0h0" stroke="#f8a010" stroke-width="1.1" stroke-linecap="round" fill="none"/>
<rect x="1173" y="1529.5" width="128.6" height="128.2" fill="none" stroke="#555" stroke-width="1.1"/>
<path d="M1240 1656 L1282.6 1564.3 L1291.4 1564.3 L1291.4 1656Z" fill="none" stroke="#222" stroke-width="1.1"/>
<text x="1296" y="1552.4" font-size="24" text-anchor="end">0.13%</text>
<path d="M1169.5 1657.2h3.5M1171 1652.3h2M1171 1647.5h2M1171 1642.6h2M1171 1637.7h2M1169.5 1632.8h3.5M1171 1628h2M1171 1623.1h2M1171 1618.2h2M1171 1613.4h2M1169.5 1608.5h3.5M1171 1603.6h2M1171 1598.7h2M1171 1593.9h2M1171 1589h2M1169.5 1584.1h3.5M1171 1579.2h2M1171 1574.4h2M1171 1569.5h2M1171 1564.6h2M1169.5 1559.8h3.5M1171 1554.9h2M1171 1550h2M1171 1545.1h2M1171 1540.3h2M1169.5 1535.4h3.5M1176 1657.7v3.5M1183.3 1657.7v2M1187.5 1657.7v2M1190.5 1657.7v2M1192.9 1657.7v2M1194.8 1657.7v2M1196.4 1657.7v2M1197.8 1657.7v2M1199 1657.7v2M1200.1 1657.7v3.5M1207.4 1657.7v2M1211.6 1657.7v2M1214.6 1657.7v2M1217 1657.7v2M1218.9 1657.7v2M1220.5 1657.7v2M1221.9 1657.7v2M1223.1 1657.7v2M1224.2 1657.7v3.5M1231.5 1657.7v2M1235.7 1657.7v2M1238.8 1657.7v2M1241.1 1657.7v2M1243 1657.7v2M1244.6 1657.7v2M1246 1657.7v2M1247.3 1657.7v2M1248.4 1657.7v3.5M1255.6 1657.7v2M1259.9 1657.7v2M1262.9 1657.7v2M1265.2 1657.7v2M1267.1 1657.7v2M1268.7 1657.7v2M1270.1 1657.7v2M1271.4 1657.7v2M1272.5 1657.7v3.5M1279.7 1657.7v2M1284 1657.7v2M1287 1657.7v2M1289.3 1657.7v2M1291.2 1657.7v2M1292.9 1657.7v2M1294.3 1657.7v2M1295.5 1657.7v2M1296.6 1657.7v3.5" fill="none" stroke="#444" stroke-width="0.9"/>
<text x="1179" y="1673" font-size="12.5" text-anchor="middle" fill="#222">10<tspan font-size="7.8" dy="-5.2">0</tspan></text>
<text x="1203.1" y="1673" font-size="12.5" text-anchor="middle" fill="#222">10<tspan font-size="7.8" dy="-5.2">1</tspan></text>
<text x="1227.2" y="1673" font-size="12.5" text-anchor="middle" fill="#222">10<tspan font-size="7.8" dy="-5.2">2</tspan></text>
<text x="1251.4" y="1673" font-size="12.5" text-anchor="middle" fill="#222">10<tspan font-size="7.8" dy="-5.2">3</tspan></text>
<text x="1275.5" y="1673" font-size="12.5" text-anchor="middle" fill="#222">10<tspan font-size="7.8" dy="-5.2">4</tspan></text>
<text x="1299.6" y="1673" font-size="12.5" text-anchor="middle" fill="#222">10<tspan font-size="7.8" dy="-5.2">5</tspan></text>
<line x1="984.5" y1="1675.5" x2="984.5" y2="1441" stroke="#333" stroke-width="1.3"/>
<path d="M984.5 1434 L981 1444 L988 1444 Z" fill="#333"/>
<line x1="984.5" y1="1675.5" x2="1237" y2="1675.5" stroke="#333" stroke-width="1.3"/>
<path d="M1245 1675.5 L1235 1672 L1235 1679 Z" fill="#333"/>
<text x="975" y="1538" font-size="26" text-anchor="middle" transform="rotate(-90 975 1538)">SSC</text>
<text x="999.5" y="1461" font-size="17" text-anchor="middle" transform="rotate(-90 999.5 1461)">Tested Sample</text>
<text x="999.5" y="1592" font-size="17" text-anchor="middle" transform="rotate(-90 999.5 1592)">DEAB Neg Ctl</text>
<text x="1133.2" y="1695.6" font-size="24" text-anchor="middle">ALDH activity</text>
<text x="1470" y="1393.2" font-size="23.3" text-anchor="middle">HCC organoids</text>
<line x1="1399.3" y1="1424.3" x2="1399.3" y2="1641.8" stroke="#111" stroke-width="2.2"/>
<line x1="1398.3" y1="1640.8" x2="1556.9" y2="1640.8" stroke="#111" stroke-width="2.2"/>
<line x1="1393.3" y1="1640.8" x2="1399.3" y2="1640.8" stroke="#111" stroke-width="2"/>
<text x="1390.8" y="1646.6" font-size="16" text-anchor="end">0</text>
<line x1="1393.3" y1="1597.7" x2="1399.3" y2="1597.7" stroke="#111" stroke-width="2"/>
<text x="1390.8" y="1603.5" font-size="16" text-anchor="end">5</text>
<line x1="1393.3" y1="1554.6" x2="1399.3" y2="1554.6" stroke="#111" stroke-width="2"/>
<text x="1390.8" y="1560.4" font-size="16" text-anchor="end">10</text>
<line x1="1393.3" y1="1511.5" x2="1399.3" y2="1511.5" stroke="#111" stroke-width="2"/>
<text x="1390.8" y="1517.3" font-size="16" text-anchor="end">15</text>
<line x1="1393.3" y1="1468.4" x2="1399.3" y2="1468.4" stroke="#111" stroke-width="2"/>
<text x="1390.8" y="1474.2" font-size="16" text-anchor="end">20</text>
<line x1="1393.3" y1="1425.3" x2="1399.3" y2="1425.3" stroke="#111" stroke-width="2"/>
<text x="1390.8" y="1431.1" font-size="16" text-anchor="end">25</text>
<line x1="1438.4" y1="1640.8" x2="1438.4" y2="1646.8" stroke="#111" stroke-width="2"/>
<line x1="1516.8" y1="1640.8" x2="1516.8" y2="1646.8" stroke="#111" stroke-width="2"/>
<line x1="1439.3" y1="1540.8" x2="1439.3" y2="1527" stroke="#111" stroke-width="2.2"/>
<line x1="1425.8" y1="1527" x2="1452.8" y2="1527" stroke="#111" stroke-width="2.2"/>
<rect x="1414.6" y="1540.8" width="49.4" height="100" fill="#fff" stroke="#050505" stroke-width="2.2"/>
<line x1="1516.8" y1="1469.3" x2="1516.8" y2="1451.2" stroke="#111" stroke-width="2.2"/>
<line x1="1503.2" y1="1451.2" x2="1530.2" y2="1451.2" stroke="#111" stroke-width="2.2"/>
<rect x="1491.1" y="1469.3" width="51.3" height="171.5" fill="#050505" stroke="#050505" stroke-width="2.2"/>
<path d="M1441.1 1492V1427.6H1517.1V1444" fill="none" stroke="#333" stroke-width="1.3"/>
<text x="1476.7" y="1428.5" font-size="21" text-anchor="middle" font-weight="bold">*</text>
<text x="1359" y="1533" font-size="24" text-anchor="middle" transform="rotate(-90 1359 1533)">ALDH activity (%)</text>
<text x="1438.4" y="1672.8" font-size="23" text-anchor="middle">Vec</text>
<text x="1515.9" y="1672.8" font-size="23" text-anchor="middle">PGC7</text>
<rect x="98.1" y="1776.4" width="406.1" height="227.3" fill="url(#p1h)"/>
<rect x="98.1" y="1861.5" width="406.1" height="142.2" fill="url(#wv)"/>
<rect x="98.1" y="1776.4" width="406.1" height="21.1" fill="url(#p1t)"/>
<rect x="98.1" y="1797.5" width="406.1" height="64" fill="url(#p1r)"/>
<rect x="98.1" y="1797.5" width="406.1" height="11" fill="url(#p1p)"/>
<line x1="98.1" y1="1797.8" x2="504.2" y2="1797.8" stroke="#6e6c6a" stroke-width="1"/>
<path d="M98.6 1799v13.5M100.7 1799v6.5M102.8 1799v6.5M105 1799v6.5M107.1 1799v6.5M109.2 1799v9M111.3 1799v6.5M113.4 1799v6.5M115.6 1799v6.5M117.7 1799v6.5M119.8 1799v13.5M121.9 1799v6.5M124 1799v6.5M126.2 1799v6.5M128.3 1799v6.5M130.4 1799v9M132.5 1799v6.5M134.6 1799v6.5M136.8 1799v6.5M138.9 1799v6.5M141 1799v13.5M143.1 1799v6.5M145.2 1799v6.5M147.4 1799v6.5M149.5 1799v6.5M151.6 1799v9M153.7 1799v6.5M155.8 1799v6.5M158 1799v6.5M160.1 1799v6.5M162.2 1799v13.5M164.3 1799v6.5M166.4 1799v6.5M168.6 1799v6.5M170.7 1799v6.5M172.8 1799v9M174.9 1799v6.5M177 1799v6.5M179.2 1799v6.5M181.3 1799v6.5M183.4 1799v13.5M185.5 1799v6.5M187.6 1799v6.5M189.8 1799v6.5M191.9 1799v6.5M194 1799v9M196.1 1799v6.5M198.2 1799v6.5M200.4 1799v6.5M202.5 1799v6.5M204.6 1799v13.5M206.7 1799v6.5M208.8 1799v6.5M211 1799v6.5M213.1 1799v6.5M215.2 1799v9M217.3 1799v6.5M219.4 1799v6.5M221.6 1799v6.5M223.7 1799v6.5M225.8 1799v13.5M227.9 1799v6.5M230 1799v6.5M232.2 1799v6.5M234.3 1799v6.5M236.4 1799v9M238.5 1799v6.5M240.6 1799v6.5M242.8 1799v6.5M244.9 1799v6.5M247 1799v13.5M249.1 1799v6.5M251.2 1799v6.5M253.4 1799v6.5M255.5 1799v6.5M257.6 1799v9M259.7 1799v6.5M261.8 1799v6.5M264 1799v6.5M266.1 1799v6.5M268.2 1799v13.5M270.3 1799v6.5M272.4 1799v6.5M274.6 1799v6.5M276.7 1799v6.5M278.8 1799v9M280.9 1799v6.5M283 1799v6.5M285.2 1799v6.5M287.3 1799v6.5M289.4 1799v13.5M291.5 1799v6.5M293.6 1799v6.5M295.8 1799v6.5M297.9 1799v6.5M300 1799v9M302.1 1799v6.5M304.2 1799v6.5M306.4 1799v6.5M308.5 1799v6.5M310.6 1799v13.5M312.7 1799v6.5M314.8 1799v6.5M317 1799v6.5M319.1 1799v6.5M321.2 1799v9M323.3 1799v6.5M325.4 1799v6.5M327.6 1799v6.5M329.7 1799v6.5M331.8 1799v13.5M333.9 1799v6.5M336 1799v6.5M338.2 1799v6.5M340.3 1799v6.5M342.4 1799v9M344.5 1799v6.5M346.6 1799v6.5M348.8 1799v6.5M350.9 1799v6.5M353 1799v13.5M355.1 1799v6.5M357.2 1799v6.5M359.4 1799v6.5M361.5 1799v6.5M363.6 1799v9M365.7 1799v6.5M367.8 1799v6.5M370 1799v6.5M372.1 1799v6.5M374.2 1799v13.5M376.3 1799v6.5M378.4 1799v6.5M380.6 1799v6.5M382.7 1799v6.5M384.8 1799v9M386.9 1799v6.5M389 1799v6.5M391.2 1799v6.5M393.3 1799v6.5M395.4 1799v13.5M397.5 1799v6.5M399.6 1799v6.5M401.8 1799v6.5M403.9 1799v6.5M406 1799v9M408.1 1799v6.5M410.2 1799v6.5M412.4 1799v6.5M414.5 1799v6.5M416.6 1799v13.5M418.7 1799v6.5M420.8 1799v6.5M423 1799v6.5M425.1 1799v6.5M427.2 1799v9M429.3 1799v6.5M431.4 1799v6.5M433.6 1799v6.5M435.7 1799v6.5M437.8 1799v13.5M439.9 1799v6.5M442 1799v6.5M444.2 1799v6.5M446.3 1799v6.5M448.4 1799v9M450.5 1799v6.5M452.6 1799v6.5M454.8 1799v6.5M456.9 1799v6.5M459 1799v13.5M461.1 1799v6.5M463.2 1799v6.5M465.4 1799v6.5M467.5 1799v6.5M469.6 1799v9M471.7 1799v6.5M473.8 1799v6.5M476 1799v6.5M478.1 1799v6.5M480.2 1799v13.5M482.3 1799v6.5M484.4 1799v6.5M486.6 1799v6.5M488.7 1799v6.5M490.8 1799v9M492.9 1799v6.5M495 1799v6.5M497.2 1799v6.5M499.3 1799v6.5M501.4 1799v13.5M503.5 1799v6.5" fill="none" stroke="#b05868" stroke-width="0.7"/>
<text x="99.5" y="1823.3" font-size="8.5" text-anchor="middle" fill="#a82838" font-weight="bold" font-family="Liberation Serif, serif">1</text>
<text x="120.7" y="1823.3" font-size="8.5" text-anchor="middle" fill="#a82838" font-weight="bold" font-family="Liberation Serif, serif">2</text>
<text x="141.9" y="1823.3" font-size="8.5" text-anchor="middle" fill="#a82838" font-weight="bold" font-family="Liberation Serif, serif">3</text>
<text x="163.1" y="1823.3" font-size="8.5" text-anchor="middle" fill="#a82838" font-weight="bold" font-family="Liberation Serif, serif">4</text>
<text x="184.3" y="1823.3" font-size="8.5" text-anchor="middle" fill="#a82838" font-weight="bold" font-family="Liberation Serif, serif">5</text>
<text x="205.5" y="1823.3" font-size="8.5" text-anchor="middle" fill="#a82838" font-weight="bold" font-family="Liberation Serif, serif">6</text>
<text x="226.7" y="1823.3" font-size="8.5" text-anchor="middle" fill="#a82838" font-weight="bold" font-family="Liberation Serif, serif">7</text>
<text x="247.9" y="1823.3" font-size="8.5" text-anchor="middle" fill="#a82838" font-weight="bold" font-family="Liberation Serif, serif">8</text>
<text x="269.1" y="1823.3" font-size="8.5" text-anchor="middle" fill="#a82838" font-weight="bold" font-family="Liberation Serif, serif">9</text>
<text x="290.3" y="1823.3" font-size="8.5" text-anchor="middle" fill="#a82838" font-weight="bold" font-family="Liberation Serif, serif">10</text>
<text x="311.5" y="1823.3" font-size="8.5" text-anchor="middle" fill="#a82838" font-weight="bold" font-family="Liberation Serif, serif">11</text>
<text x="332.7" y="1823.3" font-size="8.5" text-anchor="middle" fill="#a82838" font-weight="bold" font-family="Liberation Serif, serif">12</text>
<text x="353.9" y="1823.3" font-size="8.5" text-anchor="middle" fill="#a82838" font-weight="bold" font-family="Liberation Serif, serif">13</text>
<text x="375.1" y="1823.3" font-size="8.5" text-anchor="middle" fill="#a82838" font-weight="bold" font-family="Liberation Serif, serif">14</text>
<text x="396.3" y="1823.3" font-size="8.5" text-anchor="middle" fill="#a82838" font-weight="bold" font-family="Liberation Serif, serif">15</text>
<text x="417.5" y="1823.3" font-size="8.5" text-anchor="middle" fill="#a82838" font-weight="bold" font-family="Liberation Serif, serif">16</text>
<text x="438.7" y="1823.3" font-size="8.5" text-anchor="middle" fill="#a82838" font-weight="bold" font-family="Liberation Serif, serif">17</text>
<text x="459.9" y="1823.3" font-size="8.5" text-anchor="middle" fill="#a82838" font-weight="bold" font-family="Liberation Serif, serif">18</text>
<text x="481.1" y="1823.3" font-size="8.5" text-anchor="middle" fill="#a82838" font-weight="bold" font-family="Liberation Serif, serif">19</text>
<line x1="98.1" y1="1830" x2="207" y2="1830" stroke="#b04050" stroke-width="1.2"/>
<line x1="249" y1="1830" x2="335" y2="1829" stroke="#b04050" stroke-width="1.2"/>
<line x1="372" y1="1828.5" x2="504.2" y2="1827.8" stroke="#b04050" stroke-width="1.2"/>
<text x="211" y="1834.5" font-size="15" fill="#a82030" font-weight="bold">∞</text>
<text x="226" y="1834" font-size="11" fill="#a82030" font-weight="bold">MW</text>
<text x="335.5" y="1832" font-size="11" fill="#a82030" font-weight="bold">NO.2008</text>
<path d="M100.1 1841.5v20M103.4 1854.5v7M106.8 1854.5v7M110.1 1854.5v7M113.5 1850.5v11M116.8 1854.5v7M120.2 1854.5v7M123.5 1854.5v7M126.9 1846.5v15M130.2 1854.5v7M133.6 1854.5v7M136.9 1854.5v7M140.3 1850.5v11M143.6 1854.5v7M147 1854.5v7M150.3 1854.5v7M153.7 1841.5v20M157 1854.5v7M160.4 1854.5v7M163.7 1854.5v7M167.1 1850.5v11M170.4 1854.5v7M173.8 1854.5v7M177.1 1854.5v7M180.5 1846.5v15M183.8 1854.5v7M187.2 1854.5v7M190.5 1854.5v7M193.9 1850.5v11M197.2 1854.5v7M200.6 1854.5v7M203.9 1854.5v7M207.3 1841.5v20M210.6 1854.5v7M214 1854.5v7M217.3 1854.5v7M220.7 1850.5v11M224 1854.5v7M227.4 1854.5v7M230.7 1854.5v7M234.1 1846.5v15M237.4 1854.5v7M240.8 1854.5v7M244.1 1854.5v7M247.5 1850.5v11M250.8 1854.5v7M254.2 1854.5v7M257.5 1854.5v7M260.9 1841.5v20M264.2 1854.5v7M267.6 1854.5v7M270.9 1854.5v7M274.3 1850.5v11M277.6 1854.5v7M281 1854.5v7M284.3 1854.5v7M287.7 1846.5v15M291 1854.5v7M294.4 1854.5v7M297.8 1854.5v7M301.1 1850.5v11M304.5 1854.5v7M307.8 1854.5v7M311.2 1854.5v7M314.5 1841.5v20M317.9 1854.5v7M321.2 1854.5v7M324.6 1854.5v7M327.9 1850.5v11M331.3 1854.5v7M334.6 1854.5v7M338 1854.5v7M341.3 1846.5v15M344.7 1854.5v7M348 1854.5v7M351.4 1854.5v7M354.7 1850.5v11M358.1 1854.5v7M361.4 1854.5v7M364.8 1854.5v7M368.1 1841.5v20M371.5 1854.5v7M374.8 1854.5v7M378.2 1854.5v7M381.5 1850.5v11M384.9 1854.5v7M388.2 1854.5v7M391.6 1854.5v7M394.9 1846.5v15M398.3 1854.5v7M401.6 1854.5v7M405 1854.5v7M408.3 1850.5v11M411.7 1854.5v7M415 1854.5v7M418.4 1854.5v7M421.7 1841.5v20M425.1 1854.5v7M428.4 1854.5v7M431.8 1854.5v7M435.1 1850.5v11M438.5 1854.5v7M441.8 1854.5v7M445.2 1854.5v7M448.5 1846.5v15M451.9 1854.5v7M455.2 1854.5v7M458.6 1854.5v7M461.9 1850.5v11M465.3 1854.5v7M468.6 1854.5v7M472 1854.5v7M475.3 1841.5v20M478.7 1854.5v7M482 1854.5v7M485.4 1854.5v7M488.7 1850.5v11M492.1 1854.5v7M495.4 1854.5v7M498.8 1854.5v7M502.1 1846.5v15" fill="none" stroke="#333" stroke-width="0.8"/>
<rect x="98.1" y="1851" width="406.1" height="10.5" fill="#6c6a66" opacity="0.75"/>
<line x1="98.1" y1="1851.5" x2="504.2" y2="1851.5" stroke="#d8d8d8" stroke-width="0.8" opacity="0.6"/>
<text x="131.6" y="1836" font-size="9" text-anchor="middle" font-weight="bold" transform="rotate(180 131.6 1839)">7</text>
<text x="185.9" y="1836" font-size="9" text-anchor="middle" font-weight="bold" transform="rotate(180 185.9 1839)">6</text>
<text x="239.5" y="1836" font-size="9" text-anchor="middle" font-weight="bold" transform="rotate(180 239.5 1839)">5</text>
<text x="292.4" y="1836" font-size="9" text-anchor="middle" font-weight="bold" transform="rotate(180 292.4 1839)">4</text>
<text x="345.5" y="1836" font-size="9" text-anchor="middle" font-weight="bold" transform="rotate(180 345.5 1839)">3</text>
<text x="398.5" y="1836" font-size="9" text-anchor="middle" font-weight="bold" transform="rotate(180 398.5 1839)">2</text>
<text x="452" y="1836" font-size="9" text-anchor="middle" font-weight="bold" transform="rotate(180 452 1839)">1</text>
<text x="497" y="1836" font-size="8" text-anchor="middle" transform="rotate(180 491 1839)">inch</text>
<rect x="145.3" y="1797.5" width="10.5" height="64" fill="#d07888" opacity="0.3"/>
<rect x="424" y="1797.5" width="9" height="64" fill="#d07888" opacity="0.3"/>
<ellipse cx="134" cy="1894" rx="9" ry="5" fill="#6e6a60" opacity="0.45" filter="url(#tb)"/>
<ellipse cx="194" cy="1882" rx="13" ry="5" fill="#6e6a60" opacity="0.45" filter="url(#tb)"/>
<ellipse cx="270" cy="1884" rx="10" ry="6" fill="#6e6a60" opacity="0.45" filter="url(#tb)"/>
<ellipse cx="344" cy="1893" rx="14" ry="7" fill="#6e6a60" opacity="0.45" filter="url(#tb)"/>
<ellipse cx="409" cy="1899" rx="7" ry="4" fill="#6e6a60" opacity="0.45" filter="url(#tb)"/>
<ellipse cx="466" cy="1892" rx="12" ry="6" fill="#6e6a60" opacity="0.45" filter="url(#tb)"/>
<ellipse cx="194" cy="1976" rx="6" ry="4" fill="#6e6a60" opacity="0.45" filter="url(#tb)"/>
<ellipse cx="134.7" cy="1899.3" rx="9.5" ry="7.5" fill="url(#tp)"/>
<path d="M184 1884 Q195 1879 207 1884 Q211 1893 203 1903 L201 1916 Q195 1919 190 1916 L189 1904 Q181 1895 184 1884Z" fill="url(#tp)"/>
<ellipse cx="274.5" cy="1901" rx="12.5" ry="21" fill="url(#tp)" transform="rotate(-22 274.5 1901)"/>
<ellipse cx="346.4" cy="1904.3" rx="15.5" ry="15" fill="url(#tp2)"/>
<ellipse cx="410.2" cy="1905.1" rx="7.5" ry="7.5" fill="url(#tp)"/>
<path d="M459 1894 Q468 1887 478 1893 Q486 1898 482 1908 Q489 1917 481 1924 Q471 1929 461 1921 Q454 1910 459 1904Z" fill="url(#tp2)"/>
<ellipse cx="194.8" cy="1981.6" rx="6.5" ry="6.5" fill="url(#tp)"/>
<ellipse cx="470.5" cy="1971.5" rx="8" ry="4" fill="#dedad6" opacity="0.8"/>
<rect x="96.3" y="2042.6" width="405.9" height="202.2" fill="url(#p2h)"/>
<rect x="96.3" y="2101.8" width="405.9" height="143" fill="url(#wv)"/>
<path d="M501.2 2079.5v22M498.2 2090.5v11M495.3 2090.5v11M492.4 2090.5v11M489.4 2090.5v11M486.5 2085.5v16M483.5 2090.5v11M480.6 2090.5v11M477.6 2090.5v11M474.7 2090.5v11M471.7 2079.5v22M468.8 2090.5v11M465.8 2090.5v11M462.9 2090.5v11M459.9 2090.5v11M457 2085.5v16M454 2090.5v11M451.1 2090.5v11M448.1 2090.5v11M445.2 2090.5v11M442.2 2079.5v22M439.3 2090.5v11M436.3 2090.5v11M433.4 2090.5v11M430.4 2090.5v11M427.5 2085.5v16M424.5 2090.5v11M421.6 2090.5v11M418.6 2090.5v11M415.7 2090.5v11M412.7 2079.5v22M409.8 2090.5v11M406.8 2090.5v11M403.9 2090.5v11M400.9 2090.5v11M398 2085.5v16M395 2090.5v11M392.1 2090.5v11M389.1 2090.5v11M386.2 2090.5v11M383.2 2079.5v22M380.3 2090.5v11M377.3 2090.5v11M374.4 2090.5v11M371.4 2090.5v11M368.5 2085.5v16M365.5 2090.5v11M362.6 2090.5v11M359.6 2090.5v11M356.7 2090.5v11M353.7 2079.5v22M350.8 2090.5v11M347.8 2090.5v11M344.9 2090.5v11M341.9 2090.5v11M339 2085.5v16M336 2090.5v11M333.1 2090.5v11M330.1 2090.5v11M327.2 2090.5v11M324.2 2079.5v22M321.3 2090.5v11M318.3 2090.5v11M315.4 2090.5v11M312.4 2090.5v11M309.5 2085.5v16M306.5 2090.5v11M303.6 2090.5v11M300.6 2090.5v11M297.7 2090.5v11M294.7 2079.5v22M291.8 2090.5v11M288.8 2090.5v11M285.9 2090.5v11M282.9 2090.5v11M280 2085.5v16M277 2090.5v11M274.1 2090.5v11M271.1 2090.5v11M268.2 2090.5v11M265.2 2079.5v22M262.3 2090.5v11M259.3 2090.5v11M256.4 2090.5v11M253.4 2090.5v11M250.5 2085.5v16M247.5 2090.5v11M244.6 2090.5v11M241.6 2090.5v11M238.7 2090.5v11M235.7 2079.5v22M232.8 2090.5v11M229.8 2090.5v11M226.9 2090.5v11M223.9 2090.5v11M221 2085.5v16M218 2090.5v11M215.1 2090.5v11M212.1 2090.5v11M209.2 2090.5v11M206.2 2079.5v22M203.3 2090.5v11M200.3 2090.5v11M197.4 2090.5v11M194.4 2090.5v11M191.5 2085.5v16M188.5 2090.5v11M185.6 2090.5v11M182.6 2090.5v11M179.7 2090.5v11M176.7 2079.5v22M173.8 2090.5v11M170.8 2090.5v11M167.9 2090.5v11M164.9 2090.5v11M162 2085.5v16M159 2090.5v11M156.1 2090.5v11M153.1 2090.5v11M150.2 2090.5v11M147.2 2079.5v22M144.3 2090.5v11M141.3 2090.5v11M138.4 2090.5v11M135.4 2090.5v11M132.5 2085.5v16M129.5 2090.5v11M126.6 2090.5v11M123.6 2090.5v11M120.7 2090.5v11M117.7 2079.5v22M114.8 2090.5v11M111.8 2090.5v11M108.9 2090.5v11M105.9 2090.5v11M103 2085.5v16M100 2090.5v11M97.1 2090.5v11" fill="none" stroke="#a83848" stroke-width="0.8"/>
<rect x="96.3" y="2088" width="405.9" height="13.5" fill="#b04858" opacity="0.45"/>
<line x1="96.3" y1="2092" x2="502.2" y2="2092" stroke="#e8e0dc" stroke-width="0.9" opacity="0.7"/>
<text x="486" y="2071.5" font-size="11.5" text-anchor="middle" fill="#981828" font-weight="bold" font-family="Liberation Serif, serif" transform="rotate(180 486 2067.6)">1</text>
<text x="456.5" y="2071.5" font-size="11.5" text-anchor="middle" fill="#981828" font-weight="bold" font-family="Liberation Serif, serif" transform="rotate(180 456.5 2067.6)">2</text>
<text x="427" y="2071.5" font-size="11.5" text-anchor="middle" fill="#981828" font-weight="bold" font-family="Liberation Serif, serif" transform="rotate(180 427 2067.6)">3</text>
<text x="397.5" y="2071.5" font-size="11.5" text-anchor="middle" fill="#981828" font-weight="bold" font-family="Liberation Serif, serif" transform="rotate(180 397.5 2067.6)">4</text>
<text x="368" y="2071.5" font-size="11.5" text-anchor="middle" fill="#981828" font-weight="bold" font-family="Liberation Serif, serif" transform="rotate(180 368 2067.6)">5</text>
<text x="338.5" y="2071.5" font-size="11.5" text-anchor="middle" fill="#981828" font-weight="bold" font-family="Liberation Serif, serif" transform="rotate(180 338.5 2067.6)">6</text>
<text x="309" y="2071.5" font-size="11.5" text-anchor="middle" fill="#981828" font-weight="bold" font-family="Liberation Serif, serif" transform="rotate(180 309 2067.6)">7</text>
<text x="279.5" y="2071.5" font-size="11.5" text-anchor="middle" fill="#981828" font-weight="bold" font-family="Liberation Serif, serif" transform="rotate(180 279.5 2067.6)">8</text>
<text x="250" y="2071.5" font-size="11.5" text-anchor="middle" fill="#981828" font-weight="bold" font-family="Liberation Serif, serif" transform="rotate(180 250 2067.6)">9</text>
<text x="220.5" y="2071.5" font-size="11.5" text-anchor="middle" fill="#981828" font-weight="bold" font-family="Liberation Serif, serif" transform="rotate(180 220.5 2067.6)">10</text>
<text x="191" y="2071.5" font-size="11.5" text-anchor="middle" fill="#981828" font-weight="bold" font-family="Liberation Serif, serif" transform="rotate(180 191 2067.6)">11</text>
<text x="161.5" y="2071.5" font-size="11.5" text-anchor="middle" fill="#981828" font-weight="bold" font-family="Liberation Serif, serif" transform="rotate(180 161.5 2067.6)">12</text>
<text x="132" y="2071.5" font-size="11.5" text-anchor="middle" fill="#981828" font-weight="bold" font-family="Liberation Serif, serif" transform="rotate(180 132 2067.6)">13</text>
<text x="102.5" y="2071.5" font-size="11.5" text-anchor="middle" fill="#981828" font-weight="bold" font-family="Liberation Serif, serif" transform="rotate(180 102.5 2067.6)">14</text>
<line x1="96.3" y1="2054.8" x2="105" y2="2054.8" stroke="#a02838" stroke-width="1.2"/>
<line x1="155" y1="2054.5" x2="278" y2="2054" stroke="#a02838" stroke-width="1.2"/>
<line x1="335" y1="2050.5" x2="502.2" y2="2049.5" stroke="#a02838" stroke-width="1.2"/>
<text x="130" y="2061.3" font-size="12.5" text-anchor="middle" fill="#981828" font-weight="bold" transform="rotate(180 130 2056.8)">NO.2008</text>
<text x="293" y="2057.5" font-size="15" text-anchor="middle" fill="#981828" font-weight="bold" transform="rotate(180 293 2052)">MW</text>
<text x="321.5" y="2058.5" font-size="22" text-anchor="middle" fill="#981828" font-weight="bold">∞</text>
<rect x="405" y="2043" width="12" height="58" fill="#c87888" opacity="0.3"/>
<ellipse cx="128.2" cy="2124" rx="7" ry="5" fill="#8a1018"/>
<ellipse cx="183.1" cy="2128.6" rx="10.5" ry="11.5" fill="url(#td)"/>
<ellipse cx="248.2" cy="2126.1" rx="13" ry="15" fill="url(#td)" transform="rotate(15 248.2 2126.1)"/>
<ellipse cx="326" cy="2131.2" rx="11" ry="15.5" fill="url(#td)"/>
<ellipse cx="396.2" cy="2135" rx="12" ry="18" fill="url(#td)" transform="rotate(-8 396.2 2135)"/>
<ellipse cx="467.7" cy="2133.7" rx="16" ry="17.5" fill="url(#td)"/>
<ellipse cx="467.7" cy="2216.7" rx="10" ry="8" fill="url(#td)"/>
<ellipse cx="245" cy="2130" rx="3" ry="1.2" fill="#e8c8c8" opacity="0.55"/>
<ellipse cx="252" cy="2121" rx="2" ry="1" fill="#e8c8c8" opacity="0.55"/>
<ellipse cx="330" cy="2138" rx="2.5" ry="1" fill="#e8c8c8" opacity="0.55"/>
<ellipse cx="400" cy="2142" rx="3" ry="1" fill="#e8c8c8" opacity="0.55"/>
<ellipse cx="392" cy="2127" rx="2" ry="0.8" fill="#e8c8c8" opacity="0.55"/>
<ellipse cx="470" cy="2140" rx="3.5" ry="1.2" fill="#e8c8c8" opacity="0.55"/>
<ellipse cx="462" cy="2128" rx="2" ry="0.8" fill="#e8c8c8" opacity="0.55"/>
<ellipse cx="186" cy="2133" rx="2" ry="1" fill="#e8c8c8" opacity="0.55"/>
<rect x="239.5" y="2240" width="2" height="4" fill="#20806a"/>
<text x="5.9" y="1779.4" font-size="45.5" fill="#13202c">h</text>
<text x="42.7" y="1942" font-size="30" text-anchor="middle" transform="rotate(-90 42.7 1942)">97H</text>
<line x1="49.8" y1="1881.3" x2="49.8" y2="2004.5" stroke="#111" stroke-width="2"/>
<text x="86.2" y="1896.5" font-size="30" text-anchor="middle" transform="rotate(-90 86.2 1896.5)">PGC7</text>
<text x="86.2" y="1974.5" font-size="30" text-anchor="middle" transform="rotate(-90 86.2 1974.5)">Vec</text>
<text x="42.7" y="2176" font-size="30" text-anchor="middle" transform="rotate(-90 42.7 2176)">MIHA</text>
<line x1="49.8" y1="2119.5" x2="49.8" y2="2238.3" stroke="#111" stroke-width="2"/>
<text x="86.2" y="2130" font-size="30" text-anchor="middle" transform="rotate(-90 86.2 2130)">PGC7</text>
<text x="86.2" y="2214" font-size="30" text-anchor="middle" transform="rotate(-90 86.2 2214)">Vec</text>
<line x1="598.8" y1="1792.1" x2="598.8" y2="1985.8" stroke="#111" stroke-width="2.2"/>
<line x1="598.8" y1="1936.5" x2="886" y2="1936.5" stroke="#111" stroke-width="2.2"/>
<line x1="592.8" y1="1793.1" x2="598.8" y2="1793.1" stroke="#111" stroke-width="2.2"/>
<text x="595.8" y="1799.1" font-size="17" text-anchor="end">1500</text>
<line x1="592.8" y1="1840.9" x2="598.8" y2="1840.9" stroke="#111" stroke-width="2.2"/>
<text x="595.8" y="1846.9" font-size="17" text-anchor="end">1000</text>
<line x1="592.8" y1="1888.7" x2="598.8" y2="1888.7" stroke="#111" stroke-width="2.2"/>
<text x="595.8" y="1894.7" font-size="17" text-anchor="end">500</text>
<line x1="592.8" y1="1936.5" x2="598.8" y2="1936.5" stroke="#111" stroke-width="2.2"/>
<text x="595.8" y="1942.5" font-size="17" text-anchor="end">0</text>
<line x1="592.8" y1="1984.3" x2="598.8" y2="1984.3" stroke="#111" stroke-width="2.2"/>
<text x="595.8" y="1990.3" font-size="17" text-anchor="end">-500</text>
<line x1="635.2" y1="1936.5" x2="635.2" y2="1942.5" stroke="#111" stroke-width="2.2"/>
<text x="635.2" y="1963.5" font-size="20.5" text-anchor="middle">1</text>
<line x1="706.9" y1="1936.5" x2="706.9" y2="1942.5" stroke="#111" stroke-width="2.2"/>
<text x="706.9" y="1963.5" font-size="20.5" text-anchor="middle">2</text>
<line x1="778.4" y1="1936.5" x2="778.4" y2="1942.5" stroke="#111" stroke-width="2.2"/>
<text x="778.4" y="1963.5" font-size="20.5" text-anchor="middle">3</text>
<line x1="850.1" y1="1936.5" x2="850.1" y2="1942.5" stroke="#111" stroke-width="2.2"/>
<text x="850.1" y="1963.5" font-size="20.5" text-anchor="middle">4</text>
<text x="739" y="1986" font-size="20.7" text-anchor="middle">Time (Week)</text>
<text x="553" y="1884" font-size="23.3" text-anchor="middle" transform="rotate(-90 553 1884)">Tumor volumn (mm<tspan font-size="14.5" dy="-8.5">3</tspan><tspan dy="8.5">)</tspan></text>
<path d="M635.2 1935.1 L706.9 1936.3 L778.4 1935.9 L850.1 1934.8" fill="none" stroke="#2446a8" stroke-width="2.4"/>
<circle cx="635.2" cy="1935.1" r="4.8" fill="#2446a8"/>
<circle cx="706.9" cy="1936.3" r="4.8" fill="#2446a8"/>
<circle cx="778.4" cy="1935.9" r="4.8" fill="#2446a8"/>
<circle cx="850.1" cy="1934.8" r="4.8" fill="#2446a8"/>
<path d="M635.2 1931.7 L706.9 1921.2 L778.4 1903.5 L850.1 1861.9" fill="none" stroke="#e8302c" stroke-width="2.4"/>
<circle cx="635.2" cy="1931.7" r="4.8" fill="#e8302c"/>
<line x1="706.9" y1="1925" x2="706.9" y2="1917.4" stroke="#e8302c" stroke-width="2.6"/>
<line x1="701.4" y1="1917.4" x2="712.4" y2="1917.4" stroke="#e8302c" stroke-width="2.6"/>
<line x1="701.4" y1="1925" x2="712.4" y2="1925" stroke="#e8302c" stroke-width="2.6"/>
<circle cx="706.9" cy="1921.2" r="4.8" fill="#e8302c"/>
<line x1="778.4" y1="1914.5" x2="778.4" y2="1892.5" stroke="#e8302c" stroke-width="2.6"/>
<line x1="772.9" y1="1892.5" x2="783.9" y2="1892.5" stroke="#e8302c" stroke-width="2.6"/>
<line x1="772.9" y1="1914.5" x2="783.9" y2="1914.5" stroke="#e8302c" stroke-width="2.6"/>
<circle cx="778.4" cy="1903.5" r="4.8" fill="#e8302c"/>
<line x1="850.1" y1="1883.9" x2="850.1" y2="1839.9" stroke="#e8302c" stroke-width="2.6"/>
<line x1="844.6" y1="1839.9" x2="855.6" y2="1839.9" stroke="#e8302c" stroke-width="2.6"/>
<line x1="844.6" y1="1883.9" x2="855.6" y2="1883.9" stroke="#e8302c" stroke-width="2.6"/>
<circle cx="850.1" cy="1861.9" r="4.8" fill="#e8302c"/>
<line x1="612.3" y1="1796" x2="632.4" y2="1796" stroke="#2446a8" stroke-width="2.4"/>
<circle cx="622.3" cy="1796" r="4.6" fill="#2446a8"/>
<line x1="612.3" y1="1816.8" x2="632.4" y2="1816.8" stroke="#e8302c" stroke-width="2.4"/>
<circle cx="622.3" cy="1816.8" r="4.6" fill="#e8302c"/>
<text x="644.2" y="1803.3" font-size="20.6">97H-Vec</text>
<text x="644.2" y="1825" font-size="20.6">97H-PGC7</text>
<text x="706.9" y="1919.4" font-size="20" text-anchor="middle">**</text>
<text x="778.4" y="1897" font-size="20" text-anchor="middle">*</text>
<text x="850.1" y="1843.8" font-size="20" text-anchor="middle">**</text>
<line x1="598.8" y1="2048.1" x2="598.8" y2="2241.1" stroke="#111" stroke-width="2.2"/>
<line x1="598.8" y1="2208.1" x2="886" y2="2208.1" stroke="#111" stroke-width="2.2"/>
<line x1="592.8" y1="2049.1" x2="598.8" y2="2049.1" stroke="#111" stroke-width="2.2"/>
<text x="595.8" y="2055.1" font-size="17" text-anchor="end">250</text>
<line x1="592.8" y1="2080.9" x2="598.8" y2="2080.9" stroke="#111" stroke-width="2.2"/>
<text x="595.8" y="2086.9" font-size="17" text-anchor="end">200</text>
<line x1="592.8" y1="2112.7" x2="598.8" y2="2112.7" stroke="#111" stroke-width="2.2"/>
<text x="595.8" y="2118.7" font-size="17" text-anchor="end">150</text>
<line x1="592.8" y1="2144.5" x2="598.8" y2="2144.5" stroke="#111" stroke-width="2.2"/>
<text x="595.8" y="2150.5" font-size="17" text-anchor="end">100</text>
<line x1="592.8" y1="2176.3" x2="598.8" y2="2176.3" stroke="#111" stroke-width="2.2"/>
<text x="595.8" y="2182.3" font-size="17" text-anchor="end">50</text>
<line x1="592.8" y1="2208.1" x2="598.8" y2="2208.1" stroke="#111" stroke-width="2.2"/>
<text x="595.8" y="2214.1" font-size="17" text-anchor="end">0</text>
<line x1="592.8" y1="2239.9" x2="598.8" y2="2239.9" stroke="#111" stroke-width="2.2"/>
<text x="595.8" y="2245.9" font-size="17" text-anchor="end">-50</text>
<line x1="634.3" y1="2208.1" x2="634.3" y2="2214.1" stroke="#111" stroke-width="2.2"/>
<text x="634.3" y="2233" font-size="20.5" text-anchor="middle">1</text>
<line x1="706.2" y1="2208.1" x2="706.2" y2="2214.1" stroke="#111" stroke-width="2.2"/>
<text x="706.2" y="2233" font-size="20.5" text-anchor="middle">2</text>
<line x1="777.2" y1="2208.1" x2="777.2" y2="2214.1" stroke="#111" stroke-width="2.2"/>
<text x="777.2" y="2233" font-size="20.5" text-anchor="middle">3</text>
<line x1="848.9" y1="2208.1" x2="848.9" y2="2214.1" stroke="#111" stroke-width="2.2"/>
<text x="848.9" y="2233" font-size="20.5" text-anchor="middle">4</text>
<text x="739" y="2253" font-size="20.7" text-anchor="middle">Time (Week)</text>
<text x="554" y="2138" font-size="23.3" text-anchor="middle" transform="rotate(-90 554 2138)">Tumor volumn (mm<tspan font-size="14.5" dy="-8.5">3</tspan><tspan dy="8.5">)</tspan></text>
<path d="M634.3 2207.5 L706.2 2206.2 L777.2 2201.1 L848.9 2197.9" fill="none" stroke="#2446a8" stroke-width="2.4"/>
<circle cx="634.3" cy="2207.5" r="4.8" fill="#2446a8"/>
<circle cx="706.2" cy="2206.2" r="4.8" fill="#2446a8"/>
<line x1="777.2" y1="2208.1" x2="777.2" y2="2194.1" stroke="#2446a8" stroke-width="2.6"/>
<line x1="771.7" y1="2194.1" x2="782.7" y2="2194.1" stroke="#2446a8" stroke-width="2.6"/>
<line x1="771.7" y1="2208.1" x2="782.7" y2="2208.1" stroke="#2446a8" stroke-width="2.6"/>
<circle cx="777.2" cy="2201.1" r="4.8" fill="#2446a8"/>
<line x1="848.9" y1="2208.1" x2="848.9" y2="2187.1" stroke="#2446a8" stroke-width="2.6"/>
<line x1="843.4" y1="2187.1" x2="854.4" y2="2187.1" stroke="#2446a8" stroke-width="2.6"/>
<line x1="843.4" y1="2208.1" x2="854.4" y2="2208.1" stroke="#2446a8" stroke-width="2.6"/>
<circle cx="848.9" cy="2197.9" r="4.8" fill="#2446a8"/>
<path d="M634.3 2198.6 L706.2 2185.2 L777.2 2154 L848.9 2100.6" fill="none" stroke="#e8302c" stroke-width="2.4"/>
<line x1="634.3" y1="2202.4" x2="634.3" y2="2194.7" stroke="#e8302c" stroke-width="2.6"/>
<line x1="628.8" y1="2194.7" x2="639.8" y2="2194.7" stroke="#e8302c" stroke-width="2.6"/>
<line x1="628.8" y1="2202.4" x2="639.8" y2="2202.4" stroke="#e8302c" stroke-width="2.6"/>
<circle cx="634.3" cy="2198.6" r="4.8" fill="#e8302c"/>
<line x1="706.2" y1="2194.1" x2="706.2" y2="2176.3" stroke="#e8302c" stroke-width="2.6"/>
<line x1="700.7" y1="2176.3" x2="711.7" y2="2176.3" stroke="#e8302c" stroke-width="2.6"/>
<line x1="700.7" y1="2194.1" x2="711.7" y2="2194.1" stroke="#e8302c" stroke-width="2.6"/>
<circle cx="706.2" cy="2185.2" r="4.8" fill="#e8302c"/>
<line x1="777.2" y1="2175.7" x2="777.2" y2="2131.8" stroke="#e8302c" stroke-width="2.6"/>
<line x1="771.7" y1="2131.8" x2="782.7" y2="2131.8" stroke="#e8302c" stroke-width="2.6"/>
<line x1="771.7" y1="2175.7" x2="782.7" y2="2175.7" stroke="#e8302c" stroke-width="2.6"/>
<circle cx="777.2" cy="2154" r="4.8" fill="#e8302c"/>
<line x1="848.9" y1="2142" x2="848.9" y2="2059.3" stroke="#e8302c" stroke-width="2.6"/>
<line x1="843.4" y1="2059.3" x2="854.4" y2="2059.3" stroke="#e8302c" stroke-width="2.6"/>
<line x1="843.4" y1="2142" x2="854.4" y2="2142" stroke="#e8302c" stroke-width="2.6"/>
<circle cx="848.9" cy="2100.6" r="4.8" fill="#e8302c"/>
<line x1="612.3" y1="2050.8" x2="632.4" y2="2050.8" stroke="#2446a8" stroke-width="2.4"/>
<circle cx="622.3" cy="2050.8" r="4.6" fill="#2446a8"/>
<line x1="612.3" y1="2072.5" x2="632.4" y2="2072.5" stroke="#e8302c" stroke-width="2.4"/>
<circle cx="622.3" cy="2072.5" r="4.6" fill="#e8302c"/>
<text x="644.2" y="2057.9" font-size="20.6">MIHA-Vec</text>
<text x="644.2" y="2080.3" font-size="20.6">MIHA-PGC7</text>
<text x="848.9" y="2062.4" font-size="20" text-anchor="middle">*</text>
<text x="925.7" y="1777" font-size="44" fill="#13202c">i</text>
<line x1="1030" y1="1785.8" x2="1030" y2="1963.5" stroke="#111" stroke-width="2.4"/>
<line x1="1030" y1="1962.5" x2="1245.2" y2="1962.5" stroke="#111" stroke-width="2.4"/>
<line x1="1023" y1="1927.4" x2="1030" y2="1927.4" stroke="#111" stroke-width="2.2"/>
<text x="1025" y="1934.4" font-size="20" text-anchor="end">20</text>
<line x1="1023" y1="1892.2" x2="1030" y2="1892.2" stroke="#111" stroke-width="2.2"/>
<text x="1025" y="1899.2" font-size="20" text-anchor="end">40</text>
<line x1="1023" y1="1857.1" x2="1030" y2="1857.1" stroke="#111" stroke-width="2.2"/>
<text x="1025" y="1864.1" font-size="20" text-anchor="end">60</text>
<line x1="1023" y1="1821.9" x2="1030" y2="1821.9" stroke="#111" stroke-width="2.2"/>
<text x="1025" y="1828.9" font-size="20" text-anchor="end">80</text>
<line x1="1023" y1="1786.8" x2="1030" y2="1786.8" stroke="#111" stroke-width="2.2"/>
<text x="1025" y="1793.8" font-size="20" text-anchor="end">100</text>
<line x1="1030" y1="1962.5" x2="1030" y2="1968.5" stroke="#111" stroke-width="2.2"/>
<text x="1030" y="1984.5" font-size="20" text-anchor="middle">5</text>
<line x1="1083.4" y1="1962.5" x2="1083.4" y2="1968.5" stroke="#111" stroke-width="2.2"/>
<text x="1083.4" y="1984.5" font-size="20" text-anchor="middle">10</text>
<line x1="1137.2" y1="1962.5" x2="1137.2" y2="1968.5" stroke="#111" stroke-width="2.2"/>
<text x="1137.2" y="1984.5" font-size="20" text-anchor="middle">100</text>
<line x1="1190.7" y1="1962.5" x2="1190.7" y2="1968.5" stroke="#111" stroke-width="2.2"/>
<text x="1190.7" y="1984.5" font-size="20" text-anchor="middle">500</text>
<text x="1139" y="2004.7" font-size="20" text-anchor="middle">HCC cells (X10<tspan font-size="12" dy="-8">4</tspan><tspan dy="8">)</tspan></text>
<text x="989.5" y="1886" font-size="20.6" text-anchor="middle" transform="rotate(-90 989.5 1886)">Tumor formation mice (%)</text>
<path d="M1030 1918.6 L1083.4 1918.6 L1137.2 1830.7 L1190.7 1786.8" fill="none" stroke="#2446a8" stroke-width="2.4"/>
<circle cx="1030" cy="1918.6" r="5" fill="#2446a8"/>
<circle cx="1083.4" cy="1918.6" r="5" fill="#2446a8"/>
<circle cx="1137.2" cy="1830.7" r="5" fill="#2446a8"/>
<circle cx="1190.7" cy="1786.8" r="5" fill="#2446a8"/>
<path d="M1030 1874.7 L1083.4 1830.7 L1137.2 1786.8 L1190.7 1786.8" fill="none" stroke="#e8302c" stroke-width="2.4"/>
<circle cx="1030" cy="1874.7" r="5" fill="#e8302c"/>
<circle cx="1083.4" cy="1830.7" r="5" fill="#e8302c"/>
<circle cx="1137.2" cy="1786.8" r="5" fill="#e8302c"/>
<circle cx="1190.7" cy="1786.8" r="5" fill="#e8302c"/>
<line x1="1118.6" y1="1918.4" x2="1141" y2="1918.4" stroke="#2446a8" stroke-width="2.4"/>
<circle cx="1129.8" cy="1918.4" r="5" fill="#2446a8"/>
<line x1="1118.6" y1="1937.4" x2="1141" y2="1937.4" stroke="#e8302c" stroke-width="2.4"/>
<circle cx="1129.8" cy="1937.4" r="5" fill="#e8302c"/>
<text x="1153.3" y="1924.5" font-size="21">97H-Vec</text>
<text x="1153.3" y="1943.5" font-size="21">97H-PGC7</text>
<line x1="1029.6" y1="2056.7" x2="1029.6" y2="2238.4" stroke="#111" stroke-width="2.4"/>
<line x1="998.6" y1="2237.4" x2="1244.1" y2="2237.4" stroke="#111" stroke-width="2.4"/>
<line x1="1022.6" y1="2177.5" x2="1029.6" y2="2177.5" stroke="#111" stroke-width="2.2"/>
<text x="1024.1" y="2185" font-size="21" text-anchor="end">20</text>
<line x1="1022.6" y1="2117.6" x2="1029.6" y2="2117.6" stroke="#111" stroke-width="2.2"/>
<text x="1024.1" y="2125.1" font-size="21" text-anchor="end">40</text>
<line x1="1022.6" y1="2057.7" x2="1029.6" y2="2057.7" stroke="#111" stroke-width="2.2"/>
<text x="1024.1" y="2065.2" font-size="21" text-anchor="end">60</text>
<line x1="1030" y1="2237.4" x2="1030" y2="2243.4" stroke="#111" stroke-width="2.2"/>
<text x="1030" y="2259.4" font-size="21" text-anchor="middle">5</text>
<line x1="1091.2" y1="2237.4" x2="1091.2" y2="2243.4" stroke="#111" stroke-width="2.2"/>
<text x="1091.2" y="2259.4" font-size="21" text-anchor="middle">10</text>
<line x1="1152.2" y1="2237.4" x2="1152.2" y2="2243.4" stroke="#111" stroke-width="2.2"/>
<text x="1152.2" y="2259.4" font-size="21" text-anchor="middle">100</text>
<line x1="1213.2" y1="2237.4" x2="1213.2" y2="2243.4" stroke="#111" stroke-width="2.2"/>
<text x="1213.2" y="2259.4" font-size="21" text-anchor="middle">500</text>
<text x="1132.6" y="2282.3" font-size="20.6" text-anchor="middle">HCC cells (X10<tspan font-size="12.5" dy="-8.5">4</tspan><tspan dy="8.5">)</tspan></text>
<text x="989.5" y="2145.5" font-size="20.6" text-anchor="middle" transform="rotate(-90 989.5 2145.5)">Tumor formation mice (%)</text>
<path d="M1030 2237.4 L1091.2 2200 L1152.2 2200 L1213.2 2162.5" fill="none" stroke="#2446a8" stroke-width="2.4"/>
<circle cx="1030" cy="2237.4" r="5.5" fill="#2446a8"/>
<circle cx="1091.2" cy="2200" r="5.5" fill="#2446a8"/>
<circle cx="1152.2" cy="2200" r="5.5" fill="#2446a8"/>
<circle cx="1213.2" cy="2162.5" r="5.5" fill="#2446a8"/>
<path d="M1030 2237.4 L1091.2 2162.5 L1152.2 2125.1 L1213.2 2087.6" fill="none" stroke="#e8302c" stroke-width="2.4"/>
<circle cx="1030" cy="2237.4" r="5.5" fill="#e8302c"/>
<circle cx="1091.2" cy="2162.5" r="5.5" fill="#e8302c"/>
<circle cx="1152.2" cy="2125.1" r="5.5" fill="#e8302c"/>
<circle cx="1213.2" cy="2087.6" r="5.5" fill="#e8302c"/>
<line x1="1042.3" y1="2049.1" x2="1067" y2="2049.1" stroke="#2446a8" stroke-width="2.4"/>
<circle cx="1054.6" cy="2049.1" r="5.5" fill="#2446a8"/>
<line x1="1042.3" y1="2068.2" x2="1067" y2="2068.2" stroke="#e8302c" stroke-width="2.4"/>
<circle cx="1054.6" cy="2068.2" r="5.5" fill="#e8302c"/>
<text x="1081.6" y="2055.2" font-size="23">MIHA-Vec</text>
<text x="1081.6" y="2074.2" font-size="23">MIHA-PGC7</text>
<line x1="1327.2" y1="1787.5" x2="1327.2" y2="1963.4" stroke="#111" stroke-width="2.4"/>
<line x1="1326.2" y1="1962.4" x2="1503.4" y2="1962.4" stroke="#111" stroke-width="2.4"/>
<line x1="1320.2" y1="1962.4" x2="1327.2" y2="1962.4" stroke="#111" stroke-width="2.2"/>
<text x="1318.7" y="1968.7" font-size="17.5" text-anchor="end">0</text>
<line x1="1320.2" y1="1918.9" x2="1327.2" y2="1918.9" stroke="#111" stroke-width="2.2"/>
<text x="1318.7" y="1925.2" font-size="17.5" text-anchor="end">1</text>
<line x1="1320.2" y1="1875.5" x2="1327.2" y2="1875.5" stroke="#111" stroke-width="2.2"/>
<text x="1318.7" y="1881.8" font-size="17.5" text-anchor="end">2</text>
<line x1="1320.2" y1="1832" x2="1327.2" y2="1832" stroke="#111" stroke-width="2.2"/>
<text x="1318.7" y="1838.3" font-size="17.5" text-anchor="end">3</text>
<line x1="1320.2" y1="1788.5" x2="1327.2" y2="1788.5" stroke="#111" stroke-width="2.2"/>
<text x="1318.7" y="1794.8" font-size="17.5" text-anchor="end">4</text>
<line x1="1414" y1="1962.4" x2="1414" y2="1969.4" stroke="#111" stroke-width="2.2"/>
<rect x="1342.5" y="1953.7" width="56.4" height="8.7" fill="#fff" stroke="#111" stroke-width="2.2"/>
<line x1="1370.7" y1="1959.4" x2="1370.7" y2="1938.5" stroke="#111" stroke-width="2.2"/>
<line x1="1355.7" y1="1938.5" x2="1385.7" y2="1938.5" stroke="#111" stroke-width="2.2"/>
<line x1="1355.7" y1="1959.4" x2="1385.7" y2="1959.4" stroke="#111" stroke-width="2.2"/>
<rect x="1430.2" y="1901.5" width="56.6" height="60.9" fill="#a2a2a6" stroke="#111" stroke-width="2.2"/>
<line x1="1458.5" y1="1938.5" x2="1458.5" y2="1810.2" stroke="#111" stroke-width="2.2"/>
<line x1="1444.5" y1="1810.2" x2="1472.5" y2="1810.2" stroke="#111" stroke-width="2.2"/>
<line x1="1444.5" y1="1938.5" x2="1472.5" y2="1938.5" stroke="#111" stroke-width="2.2"/>
<path d="M1370.5 1922.5V1775.4H1458.2V1787.9" fill="none" stroke="#222" stroke-width="1.6"/>
<text x="1372.2" y="1990.4" font-size="23.5" text-anchor="middle">Vec</text>
<text x="1460" y="1992.5" font-size="25" text-anchor="middle">PGC7</text>
<text x="1301" y="1878" font-size="20.7" text-anchor="middle" transform="rotate(-90 1301 1878)">Liver CSC ratio (/10<tspan font-size="12.5" dy="-8.5">5</tspan><tspan dy="8.5">)</tspan></text>
<text x="1417.3" y="1784" font-size="30" text-anchor="middle">**</text>
<line x1="1327.4" y1="2061" x2="1327.4" y2="2239" stroke="#111" stroke-width="2.4"/>
<line x1="1326.4" y1="2238" x2="1505.6" y2="2238" stroke="#111" stroke-width="2.4"/>
<line x1="1320.4" y1="2238" x2="1327.4" y2="2238" stroke="#111" stroke-width="2.2"/>
<text x="1318.9" y="2244.3" font-size="17.5" text-anchor="end">0.0</text>
<line x1="1320.4" y1="2179.3" x2="1327.4" y2="2179.3" stroke="#111" stroke-width="2.2"/>
<text x="1318.9" y="2185.6" font-size="17.5" text-anchor="end">0.2</text>
<line x1="1320.4" y1="2120.7" x2="1327.4" y2="2120.7" stroke="#111" stroke-width="2.2"/>
<text x="1318.9" y="2127" font-size="17.5" text-anchor="end">0.4</text>
<line x1="1320.4" y1="2062" x2="1327.4" y2="2062" stroke="#111" stroke-width="2.2"/>
<text x="1318.9" y="2068.3" font-size="17.5" text-anchor="end">0.6</text>
<line x1="1415.8" y1="2238" x2="1415.8" y2="2245" stroke="#111" stroke-width="2.2"/>
<rect x="1343.6" y="2210.1" width="56.8" height="27.9" fill="#fff" stroke="#111" stroke-width="2.2"/>
<line x1="1372" y1="2228.3" x2="1372" y2="2163.2" stroke="#111" stroke-width="2.2"/>
<line x1="1356.5" y1="2163.2" x2="1387.5" y2="2163.2" stroke="#111" stroke-width="2.2"/>
<line x1="1356.5" y1="2228.3" x2="1387.5" y2="2228.3" stroke="#111" stroke-width="2.2"/>
<rect x="1431.7" y="2163.2" width="57.2" height="74.8" fill="#a2a2a6" stroke="#111" stroke-width="2.2"/>
<line x1="1460.3" y1="2202.8" x2="1460.3" y2="2082.5" stroke="#111" stroke-width="2.2"/>
<line x1="1445.3" y1="2082.5" x2="1475.3" y2="2082.5" stroke="#111" stroke-width="2.2"/>
<line x1="1445.3" y1="2202.8" x2="1475.3" y2="2202.8" stroke="#111" stroke-width="2.2"/>
<path d="M1371.6 2150.3V2062.4H1460.8V2071" fill="none" stroke="#222" stroke-width="1.6"/>
<text x="1373.5" y="2263.4" font-size="23.5" text-anchor="middle">Vec</text>
<text x="1461.8" y="2265.6" font-size="25" text-anchor="middle">PGC7</text>
<text x="1287.5" y="2149" font-size="20.7" text-anchor="middle" transform="rotate(-90 1287.5 2149)">Liver CSC ratio (/10<tspan font-size="12.5" dy="-8.5">5</tspan><tspan dy="8.5">)</tspan></text>
<text x="1417.8" y="2054.5" font-size="17.5" text-anchor="middle"><tspan font-style="italic">P</tspan> = 0.0829</text>
</svg>
</body></html>
